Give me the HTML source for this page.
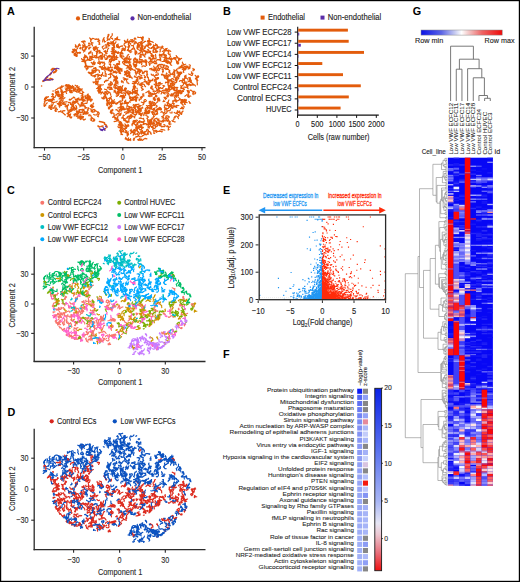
<!DOCTYPE html>
<html><head><meta charset="utf-8"><style>
html,body{margin:0;padding:0;background:#fff;}
svg{display:block;font-family:"Liberation Sans", sans-serif;}

</style></head><body>
<svg width="520" height="582" viewBox="0 0 520 582" fill="#333">
<rect x="0" y="0" width="520" height="582" fill="#fff"/>
<rect x="0.5" y="0.5" width="519" height="581" fill="none" stroke="#000" stroke-width="1.4"/>
<text x="7" y="15.2" font-size="10.8" fill="#000" font-weight="bold">A</text>
<text x="223" y="15.2" font-size="10.8" fill="#000" font-weight="bold">B</text>
<text x="7" y="193.5" font-size="10.8" fill="#000" font-weight="bold">C</text>
<text x="7.6" y="416.3" font-size="10.8" fill="#000" font-weight="bold">D</text>
<text x="223" y="193.6" font-size="10.8" fill="#000" font-weight="bold">E</text>
<text x="223" y="358.1" font-size="10.8" fill="#000" font-weight="bold">F</text>
<text x="412.8" y="15.2" font-size="10.8" fill="#000" font-weight="bold">G</text>
<line x1="34.2" y1="26.7" x2="34.2" y2="148.2" stroke="#2a2a2a" stroke-width="1.3"/>
<line x1="33.6" y1="147.6" x2="205.5" y2="147.6" stroke="#2a2a2a" stroke-width="1.3"/>
<line x1="31.2" y1="56.1" x2="34.2" y2="56.1" stroke="#2a2a2a" stroke-width="1.1"/>
<text x="28.6" y="59.3" font-size="9.2" stroke="#2a2a2a" stroke-width="0.12" text-anchor="end" textLength="8" lengthAdjust="spacingAndGlyphs" fill="#2a2a2a">30</text>
<line x1="31.2" y1="87" x2="34.2" y2="87" stroke="#2a2a2a" stroke-width="1.1"/>
<text x="28.6" y="90.2" font-size="9.2" stroke="#2a2a2a" stroke-width="0.12" text-anchor="end" textLength="4" lengthAdjust="spacingAndGlyphs" fill="#2a2a2a">0</text>
<line x1="31.2" y1="118" x2="34.2" y2="118" stroke="#2a2a2a" stroke-width="1.1"/>
<text x="28.6" y="121.2" font-size="9.2" stroke="#2a2a2a" stroke-width="0.12" text-anchor="end" textLength="12.3" lengthAdjust="spacingAndGlyphs" fill="#2a2a2a">−30</text>
<line x1="44.5" y1="147.6" x2="44.5" y2="150.6" stroke="#2a2a2a" stroke-width="1.1"/>
<text x="44.5" y="160.4" font-size="9.2" stroke="#2a2a2a" stroke-width="0.12" text-anchor="middle" textLength="12.3" lengthAdjust="spacingAndGlyphs" fill="#2a2a2a">−50</text>
<line x1="83.7" y1="147.6" x2="83.7" y2="150.6" stroke="#2a2a2a" stroke-width="1.1"/>
<text x="83.7" y="160.4" font-size="9.2" stroke="#2a2a2a" stroke-width="0.12" text-anchor="middle" textLength="12.3" lengthAdjust="spacingAndGlyphs" fill="#2a2a2a">−25</text>
<line x1="122.8" y1="147.6" x2="122.8" y2="150.6" stroke="#2a2a2a" stroke-width="1.1"/>
<text x="122.8" y="160.4" font-size="9.2" stroke="#2a2a2a" stroke-width="0.12" text-anchor="middle" textLength="4" lengthAdjust="spacingAndGlyphs" fill="#2a2a2a">0</text>
<line x1="162.2" y1="147.6" x2="162.2" y2="150.6" stroke="#2a2a2a" stroke-width="1.1"/>
<text x="162.2" y="160.4" font-size="9.2" stroke="#2a2a2a" stroke-width="0.12" text-anchor="middle" textLength="8" lengthAdjust="spacingAndGlyphs" fill="#2a2a2a">25</text>
<line x1="202" y1="147.6" x2="202" y2="150.6" stroke="#2a2a2a" stroke-width="1.1"/>
<text x="202" y="160.4" font-size="9.2" stroke="#2a2a2a" stroke-width="0.12" text-anchor="middle" textLength="8" lengthAdjust="spacingAndGlyphs" fill="#2a2a2a">50</text>
<text x="120.1" y="172.5" font-size="9.4" stroke="#2a2a2a" stroke-width="0.12" text-anchor="middle" textLength="44.4" lengthAdjust="spacingAndGlyphs" fill="#2a2a2a">Component 1</text>
<text x="14.7" y="89.2" font-size="9.4" stroke="#2a2a2a" stroke-width="0.12" text-anchor="middle" textLength="44.6" lengthAdjust="spacingAndGlyphs" fill="#2a2a2a" transform="rotate(-90 14.7 89.2)">Component 2</text>
<line x1="34.2" y1="246.7" x2="34.2" y2="362.1" stroke="#2a2a2a" stroke-width="1.3"/>
<line x1="33.6" y1="361.5" x2="205.5" y2="361.5" stroke="#2a2a2a" stroke-width="1.3"/>
<line x1="31.2" y1="274.2" x2="34.2" y2="274.2" stroke="#2a2a2a" stroke-width="1.1"/>
<text x="28.6" y="277.4" font-size="9.2" stroke="#2a2a2a" stroke-width="0.12" text-anchor="end" textLength="8" lengthAdjust="spacingAndGlyphs" fill="#2a2a2a">30</text>
<line x1="31.2" y1="304" x2="34.2" y2="304" stroke="#2a2a2a" stroke-width="1.1"/>
<text x="28.6" y="307.2" font-size="9.2" stroke="#2a2a2a" stroke-width="0.12" text-anchor="end" textLength="4" lengthAdjust="spacingAndGlyphs" fill="#2a2a2a">0</text>
<line x1="31.2" y1="333.4" x2="34.2" y2="333.4" stroke="#2a2a2a" stroke-width="1.1"/>
<text x="28.6" y="336.6" font-size="9.2" stroke="#2a2a2a" stroke-width="0.12" text-anchor="end" textLength="12.3" lengthAdjust="spacingAndGlyphs" fill="#2a2a2a">−30</text>
<line x1="73.6" y1="361.5" x2="73.6" y2="364.5" stroke="#2a2a2a" stroke-width="1.1"/>
<text x="73.6" y="374.3" font-size="9.2" stroke="#2a2a2a" stroke-width="0.12" text-anchor="middle" textLength="12.3" lengthAdjust="spacingAndGlyphs" fill="#2a2a2a">−30</text>
<line x1="119.6" y1="361.5" x2="119.6" y2="364.5" stroke="#2a2a2a" stroke-width="1.1"/>
<text x="119.6" y="374.3" font-size="9.2" stroke="#2a2a2a" stroke-width="0.12" text-anchor="middle" textLength="4" lengthAdjust="spacingAndGlyphs" fill="#2a2a2a">0</text>
<line x1="165.3" y1="361.5" x2="165.3" y2="364.5" stroke="#2a2a2a" stroke-width="1.1"/>
<text x="165.3" y="374.3" font-size="9.2" stroke="#2a2a2a" stroke-width="0.12" text-anchor="middle" textLength="8" lengthAdjust="spacingAndGlyphs" fill="#2a2a2a">30</text>
<text x="120.1" y="384.9" font-size="9.4" stroke="#2a2a2a" stroke-width="0.12" text-anchor="middle" textLength="44.4" lengthAdjust="spacingAndGlyphs" fill="#2a2a2a">Component 1</text>
<text x="14.7" y="305.3" font-size="9.4" stroke="#2a2a2a" stroke-width="0.12" text-anchor="middle" textLength="44.6" lengthAdjust="spacingAndGlyphs" fill="#2a2a2a" transform="rotate(-90 14.7 305.3)">Component 2</text>
<line x1="34.2" y1="428.8" x2="34.2" y2="550.3" stroke="#2a2a2a" stroke-width="1.3"/>
<line x1="33.6" y1="549.7" x2="205.5" y2="549.7" stroke="#2a2a2a" stroke-width="1.3"/>
<line x1="31.2" y1="458.2" x2="34.2" y2="458.2" stroke="#2a2a2a" stroke-width="1.1"/>
<text x="28.6" y="461.4" font-size="9.2" stroke="#2a2a2a" stroke-width="0.12" text-anchor="end" textLength="8" lengthAdjust="spacingAndGlyphs" fill="#2a2a2a">30</text>
<line x1="31.2" y1="489.2" x2="34.2" y2="489.2" stroke="#2a2a2a" stroke-width="1.1"/>
<text x="28.6" y="492.4" font-size="9.2" stroke="#2a2a2a" stroke-width="0.12" text-anchor="end" textLength="4" lengthAdjust="spacingAndGlyphs" fill="#2a2a2a">0</text>
<line x1="31.2" y1="520.2" x2="34.2" y2="520.2" stroke="#2a2a2a" stroke-width="1.1"/>
<text x="28.6" y="523.4" font-size="9.2" stroke="#2a2a2a" stroke-width="0.12" text-anchor="end" textLength="12.3" lengthAdjust="spacingAndGlyphs" fill="#2a2a2a">−30</text>
<line x1="73.6" y1="549.7" x2="73.6" y2="552.7" stroke="#2a2a2a" stroke-width="1.1"/>
<text x="73.6" y="562.5" font-size="9.2" stroke="#2a2a2a" stroke-width="0.12" text-anchor="middle" textLength="12.3" lengthAdjust="spacingAndGlyphs" fill="#2a2a2a">−30</text>
<line x1="119.6" y1="549.7" x2="119.6" y2="552.7" stroke="#2a2a2a" stroke-width="1.1"/>
<text x="119.6" y="562.5" font-size="9.2" stroke="#2a2a2a" stroke-width="0.12" text-anchor="middle" textLength="4" lengthAdjust="spacingAndGlyphs" fill="#2a2a2a">0</text>
<line x1="165.3" y1="549.7" x2="165.3" y2="552.7" stroke="#2a2a2a" stroke-width="1.1"/>
<text x="165.3" y="562.5" font-size="9.2" stroke="#2a2a2a" stroke-width="0.12" text-anchor="middle" textLength="8" lengthAdjust="spacingAndGlyphs" fill="#2a2a2a">30</text>
<text x="120.1" y="575.2" font-size="9.4" stroke="#2a2a2a" stroke-width="0.12" text-anchor="middle" textLength="44.4" lengthAdjust="spacingAndGlyphs" fill="#2a2a2a">Component 1</text>
<text x="14.7" y="488.6" font-size="9.4" stroke="#2a2a2a" stroke-width="0.12" text-anchor="middle" textLength="44.6" lengthAdjust="spacingAndGlyphs" fill="#2a2a2a" transform="rotate(-90 14.7 488.6)">Component 2</text>
<circle cx="78" cy="18.4" r="2.1" fill="#E35C0C"/>
<text x="82" y="20.4" font-size="8.3" stroke="#222" stroke-width="0.12" textLength="37.3" lengthAdjust="spacingAndGlyphs" fill="#222">Endothelial</text>
<circle cx="132.5" cy="18.4" r="2.1" fill="#5B2DA8"/>
<text x="137.5" y="20.4" font-size="8.3" stroke="#222" stroke-width="0.12" textLength="53.8" lengthAdjust="spacingAndGlyphs" fill="#222">Non-endothelial</text>
<rect x="260.6" y="15.6" width="4" height="4" fill="#E35C0C"/>
<text x="268" y="20.1" font-size="8.3" stroke="#222" stroke-width="0.12" textLength="37" lengthAdjust="spacingAndGlyphs" fill="#222">Endothelial</text>
<rect x="320.5" y="15.6" width="4" height="4" fill="#5B2DA8"/>
<text x="327.8" y="20.1" font-size="8.3" stroke="#222" stroke-width="0.12" textLength="53.5" lengthAdjust="spacingAndGlyphs" fill="#222">Non-endothelial</text>
<line x1="297.7" y1="26.8" x2="297.7" y2="115.6" stroke="#111" stroke-width="1.1"/>
<line x1="297.2" y1="115.1" x2="378.8" y2="115.1" stroke="#111" stroke-width="1.1"/>
<line x1="294.7" y1="32.1" x2="297.7" y2="32.1" stroke="#111" stroke-width="1.0"/>
<text x="291.6" y="34.55" font-size="9.0" stroke="#222" stroke-width="0.12" text-anchor="end" textLength="64.5" lengthAdjust="spacingAndGlyphs" fill="#222">Low VWF ECFC28</text>
<rect x="298.2" y="28.7" width="49.7" height="2.9" fill="#E35C0C"/>
<rect x="298.2" y="32.7" width="1" height="2.8" fill="#5B2DA8"/>
<line x1="294.7" y1="43.23" x2="297.7" y2="43.23" stroke="#111" stroke-width="1.0"/>
<text x="291.6" y="45.68" font-size="9.0" stroke="#222" stroke-width="0.12" text-anchor="end" textLength="64.5" lengthAdjust="spacingAndGlyphs" fill="#222">Low VWF ECFC17</text>
<rect x="298.2" y="39.83" width="50.5" height="2.9" fill="#E35C0C"/>
<rect x="298.2" y="43.83" width="2.6" height="2.8" fill="#5B2DA8"/>
<line x1="294.7" y1="54.36" x2="297.7" y2="54.36" stroke="#111" stroke-width="1.0"/>
<text x="291.6" y="56.81" font-size="9.0" stroke="#222" stroke-width="0.12" text-anchor="end" textLength="64.5" lengthAdjust="spacingAndGlyphs" fill="#222">Low VWF ECFC14</text>
<rect x="298.2" y="50.96" width="65.8" height="2.9" fill="#E35C0C"/>
<rect x="298.2" y="54.96" width="0.4" height="2.8" fill="#5B2DA8"/>
<line x1="294.7" y1="65.49" x2="297.7" y2="65.49" stroke="#111" stroke-width="1.0"/>
<text x="291.6" y="67.94" font-size="9.0" stroke="#222" stroke-width="0.12" text-anchor="end" textLength="64.5" lengthAdjust="spacingAndGlyphs" fill="#222">Low VWF ECFC12</text>
<rect x="298.2" y="62.09" width="24.1" height="2.9" fill="#E35C0C"/>
<rect x="298.2" y="66.09" width="0.5" height="2.8" fill="#5B2DA8"/>
<line x1="294.7" y1="76.62" x2="297.7" y2="76.62" stroke="#111" stroke-width="1.0"/>
<text x="291.6" y="79.07" font-size="9.0" stroke="#222" stroke-width="0.12" text-anchor="end" textLength="64.5" lengthAdjust="spacingAndGlyphs" fill="#222">Low VWF ECFC11</text>
<rect x="298.2" y="73.22" width="44.8" height="2.9" fill="#E35C0C"/>
<rect x="298.2" y="77.22" width="0.3" height="2.8" fill="#5B2DA8"/>
<line x1="294.7" y1="87.75" x2="297.7" y2="87.75" stroke="#111" stroke-width="1.0"/>
<text x="291.6" y="90.2" font-size="9.0" stroke="#222" stroke-width="0.12" text-anchor="end" textLength="58.5" lengthAdjust="spacingAndGlyphs" fill="#222">Control ECFC24</text>
<rect x="298.2" y="84.35" width="62.6" height="2.9" fill="#E35C0C"/>
<rect x="298.2" y="88.35" width="0.5" height="2.8" fill="#5B2DA8"/>
<line x1="294.7" y1="98.88" x2="297.7" y2="98.88" stroke="#111" stroke-width="1.0"/>
<text x="291.6" y="101.33" font-size="9.0" stroke="#222" stroke-width="0.12" text-anchor="end" textLength="54.5" lengthAdjust="spacingAndGlyphs" fill="#222">Control ECFC3</text>
<rect x="298.2" y="95.48" width="50.6" height="2.9" fill="#E35C0C"/>
<rect x="298.2" y="99.48" width="0.3" height="2.8" fill="#5B2DA8"/>
<line x1="294.7" y1="110.01" x2="297.7" y2="110.01" stroke="#111" stroke-width="1.0"/>
<text x="291.6" y="112.46" font-size="9.0" stroke="#222" stroke-width="0.12" text-anchor="end" textLength="25.6" lengthAdjust="spacingAndGlyphs" fill="#222">HUVEC</text>
<rect x="298.2" y="106.61" width="42.4" height="2.9" fill="#E35C0C"/>
<rect x="298.2" y="110.61" width="0.3" height="2.8" fill="#5B2DA8"/>
<line x1="297.5" y1="115.1" x2="297.5" y2="117.9" stroke="#111" stroke-width="1.0"/>
<text x="297.5" y="127.3" font-size="9.2" stroke="#222" stroke-width="0.12" text-anchor="middle" textLength="4" lengthAdjust="spacingAndGlyphs" fill="#222">0</text>
<line x1="317.3" y1="115.1" x2="317.3" y2="117.9" stroke="#111" stroke-width="1.0"/>
<text x="317.3" y="127.3" font-size="9.2" stroke="#222" stroke-width="0.12" text-anchor="middle" textLength="12.4" lengthAdjust="spacingAndGlyphs" fill="#222">500</text>
<line x1="336.9" y1="115.1" x2="336.9" y2="117.9" stroke="#111" stroke-width="1.0"/>
<text x="336.9" y="127.3" font-size="9.2" stroke="#222" stroke-width="0.12" text-anchor="middle" textLength="16.4" lengthAdjust="spacingAndGlyphs" fill="#222">1000</text>
<line x1="356.6" y1="115.1" x2="356.6" y2="117.9" stroke="#111" stroke-width="1.0"/>
<text x="356.6" y="127.3" font-size="9.2" stroke="#222" stroke-width="0.12" text-anchor="middle" textLength="16.4" lengthAdjust="spacingAndGlyphs" fill="#222">1500</text>
<line x1="376.3" y1="115.1" x2="376.3" y2="117.9" stroke="#111" stroke-width="1.0"/>
<text x="376.3" y="127.3" font-size="9.2" stroke="#222" stroke-width="0.12" text-anchor="middle" textLength="16.4" lengthAdjust="spacingAndGlyphs" fill="#222">2000</text>
<text x="338.6" y="139.5" font-size="9.4" stroke="#222" stroke-width="0.12" text-anchor="middle" textLength="61.9" lengthAdjust="spacingAndGlyphs" fill="#222">Cells (raw number)</text>
<circle cx="42.3" cy="202.7" r="2.0" fill="#F8766D"/>
<text x="47.8" y="205.3" font-size="8.3" stroke="#222" stroke-width="0.12" textLength="53.7" lengthAdjust="spacingAndGlyphs" fill="#222">Control ECFC24</text>
<circle cx="42.3" cy="214.9" r="2.0" fill="#CD9600"/>
<text x="47.8" y="217.5" font-size="8.3" stroke="#222" stroke-width="0.12" textLength="49.2" lengthAdjust="spacingAndGlyphs" fill="#222">Control ECFC3</text>
<circle cx="42.3" cy="227.1" r="2.0" fill="#00BFC4"/>
<text x="47.8" y="229.7" font-size="8.3" stroke="#222" stroke-width="0.12" textLength="60.2" lengthAdjust="spacingAndGlyphs" fill="#222">Low VWF ECFC12</text>
<circle cx="42.3" cy="239.3" r="2.0" fill="#00A9FF"/>
<text x="47.8" y="241.9" font-size="8.3" stroke="#222" stroke-width="0.12" textLength="60.2" lengthAdjust="spacingAndGlyphs" fill="#222">Low VWF ECFC14</text>
<circle cx="119.2" cy="202.7" r="2.0" fill="#7CAE00"/>
<text x="124.2" y="205.3" font-size="8.3" stroke="#222" stroke-width="0.12" textLength="51.2" lengthAdjust="spacingAndGlyphs" fill="#222">Control HUVEC</text>
<circle cx="119.2" cy="214.9" r="2.0" fill="#00BE67"/>
<text x="124.2" y="217.5" font-size="8.3" stroke="#222" stroke-width="0.12" textLength="60.4" lengthAdjust="spacingAndGlyphs" fill="#222">Low VWF ECFC11</text>
<circle cx="119.2" cy="227.1" r="2.0" fill="#C77CFF"/>
<text x="124.2" y="229.7" font-size="8.3" stroke="#222" stroke-width="0.12" textLength="60.4" lengthAdjust="spacingAndGlyphs" fill="#222">Low VWF ECFC17</text>
<circle cx="119.2" cy="239.3" r="2.0" fill="#FF61CC"/>
<text x="124.2" y="241.9" font-size="8.3" stroke="#222" stroke-width="0.12" textLength="60.4" lengthAdjust="spacingAndGlyphs" fill="#222">Low VWF ECFC28</text>
<circle cx="51.7" cy="421.3" r="2.1" fill="#D7261E"/>
<text x="57" y="423.9" font-size="8.3" stroke="#222" stroke-width="0.12" textLength="39.5" lengthAdjust="spacingAndGlyphs" fill="#222">Control ECs</text>
<circle cx="114.8" cy="421.3" r="2.1" fill="#0B52C0"/>
<text x="120.6" y="423.9" font-size="8.3" stroke="#222" stroke-width="0.12" textLength="55" lengthAdjust="spacingAndGlyphs" fill="#222">Low VWF ECFCs</text>
<text x="263" y="198.4" font-size="7.4" stroke="#2196F3" stroke-width="0.28" textLength="55.3" lengthAdjust="spacingAndGlyphs" fill="#2196F3">Decreased expression in</text>
<text x="273.3" y="205.9" font-size="7.4" stroke="#2196F3" stroke-width="0.28" textLength="33.5" lengthAdjust="spacingAndGlyphs" fill="#2196F3">low VWF ECFCs</text>
<text x="327.9" y="198.4" font-size="7.4" stroke="#FF2B0A" stroke-width="0.28" textLength="53.8" lengthAdjust="spacingAndGlyphs" fill="#FF2B0A">Increased expression in</text>
<text x="337.5" y="205.9" font-size="7.4" stroke="#FF2B0A" stroke-width="0.28" textLength="34.2" lengthAdjust="spacingAndGlyphs" fill="#FF2B0A">low VWF ECFCs</text>
<line x1="264" y1="210.2" x2="322.2" y2="210.2" stroke="#2196F3" stroke-width="1.4"/>
<path d="M258.6 210.2 L265.2 207.0 L265.2 213.4 Z" fill="#2196F3"/>
<line x1="323.4" y1="210.2" x2="380" y2="210.2" stroke="#FF2B0A" stroke-width="1.4"/>
<path d="M385.8 210.2 L379.2 207.0 L379.2 213.4 Z" fill="#FF2B0A"/>
<line x1="260" y1="297.6" x2="385" y2="297.6" stroke="#ddd" stroke-width="0.5" stroke-dasharray="1 1"/>
<path d="M318.0 296.1h.01M303.7 296.9h.01M317.2 295.9h.01M320.9 296.5h.01M315.2 293.3h.01M321.7 297.9h.01M321.7 292.9h.01M313.8 299.1h.01M293.1 286.5h.01M314.7 295.6h.01M321.2 299.2h.01M316.9 299.1h.01M320.9 298.2h.01M322.2 296.9h.01M318.2 292.2h.01M317.1 295.4h.01M317.4 295.1h.01M318.0 298.0h.01M278.4 278.4h.01M309.1 294.6h.01M319.6 298.3h.01M319.9 299.0h.01M311.8 297.3h.01M308.8 297.4h.01M299.4 292.1h.01M322.4 298.4h.01M304.9 296.9h.01M293.8 297.4h.01M321.8 295.5h.01M311.4 298.1h.01M321.7 297.7h.01M298.2 293.9h.01M321.5 298.2h.01M321.6 299.1h.01M310.8 298.5h.01M316.4 297.0h.01M320.9 294.2h.01M321.4 295.3h.01M321.5 297.2h.01M320.7 298.1h.01M296.7 293.1h.01M319.8 291.0h.01M320.7 297.4h.01M308.4 295.4h.01M321.6 281.9h.01M320.7 298.2h.01M311.6 297.8h.01M319.8 299.0h.01M321.7 295.9h.01M320.4 295.8h.01M319.0 297.0h.01M299.2 296.8h.01M316.2 291.6h.01M320.9 298.7h.01M305.0 292.8h.01M320.3 298.5h.01M312.6 288.5h.01M320.8 287.8h.01M306.9 295.7h.01M318.4 298.9h.01M322.1 286.7h.01M320.4 294.6h.01M320.2 292.6h.01M315.8 298.0h.01M321.0 294.4h.01M321.9 298.3h.01M316.4 292.0h.01M315.5 298.0h.01M304.3 298.4h.01M322.3 298.1h.01M318.1 299.1h.01M321.0 297.5h.01M316.2 298.8h.01M319.1 290.8h.01M293.8 295.2h.01M313.9 295.9h.01M321.3 299.2h.01M322.3 290.0h.01M313.6 286.7h.01M322.2 295.4h.01M317.6 294.3h.01M319.6 271.1h.01M321.8 296.3h.01M312.7 290.5h.01M312.7 294.6h.01M310.9 289.8h.01M319.2 294.9h.01M305.6 291.4h.01M318.5 293.3h.01M307.9 296.0h.01M315.3 297.4h.01M316.0 295.7h.01M321.8 295.4h.01M286.0 291.2h.01M312.9 297.4h.01M312.7 296.0h.01M318.2 292.3h.01M321.8 294.0h.01M322.2 295.8h.01M317.6 298.3h.01M313.7 296.7h.01M315.5 289.6h.01M320.3 299.3h.01M319.8 294.9h.01M320.8 298.6h.01M305.2 295.2h.01M318.2 290.8h.01M319.5 295.1h.01M320.8 297.1h.01M310.5 289.9h.01M307.0 297.4h.01M316.0 297.8h.01M321.3 296.7h.01M309.2 292.0h.01M313.4 287.8h.01M320.0 298.6h.01M318.0 298.1h.01M320.6 297.2h.01M315.3 296.7h.01M319.6 292.3h.01M293.2 297.0h.01M321.8 299.2h.01M307.4 299.1h.01M313.4 296.1h.01M319.7 293.3h.01M322.3 298.7h.01M318.0 299.2h.01M309.5 298.3h.01M321.3 299.1h.01M315.2 297.0h.01M315.2 295.2h.01M310.4 287.1h.01M314.0 298.4h.01M317.7 298.5h.01M322.3 296.8h.01M313.3 298.5h.01M320.1 297.7h.01M313.7 296.5h.01M315.5 293.9h.01M318.8 293.3h.01M305.2 298.9h.01M302.8 294.4h.01M321.4 297.0h.01M315.3 290.1h.01M319.0 296.1h.01M307.0 293.2h.01M301.4 296.9h.01M314.7 298.4h.01M313.1 292.7h.01M314.9 294.4h.01M320.7 290.5h.01M293.8 284.8h.01M316.8 293.3h.01M319.6 290.1h.01M308.3 297.7h.01M321.8 297.1h.01M316.6 293.7h.01M317.5 299.2h.01M310.4 299.0h.01M310.7 298.6h.01M319.4 293.3h.01M321.3 298.7h.01M317.1 294.4h.01M309.1 294.8h.01M301.2 296.7h.01M300.7 299.0h.01M320.6 296.4h.01M319.9 294.3h.01M315.0 296.5h.01M308.9 296.1h.01M319.7 297.5h.01M308.8 290.4h.01M320.7 292.0h.01M297.3 296.4h.01M316.2 298.4h.01M316.8 296.6h.01M315.6 299.2h.01M297.1 296.5h.01M318.7 293.1h.01M316.4 296.7h.01M313.9 299.0h.01M316.8 297.2h.01M299.6 289.4h.01M320.1 296.8h.01M321.4 297.1h.01M310.1 290.4h.01M317.7 297.8h.01M320.9 295.6h.01M303.5 298.8h.01M311.4 299.2h.01M320.8 298.3h.01M314.0 297.8h.01M319.2 295.6h.01M321.6 294.3h.01M321.4 296.6h.01M320.3 298.5h.01M316.9 297.1h.01M319.0 297.3h.01M316.9 298.6h.01M320.7 295.5h.01M315.0 296.4h.01M308.6 295.7h.01M308.3 298.3h.01M312.6 292.9h.01M305.5 297.8h.01M319.7 289.5h.01M320.6 274.7h.01M306.5 298.7h.01M320.4 294.3h.01M320.2 298.9h.01M309.4 297.2h.01M311.1 298.8h.01M318.7 294.9h.01M322.3 298.4h.01M314.1 290.0h.01M297.3 298.8h.01M317.3 293.8h.01M317.3 294.9h.01M320.9 299.0h.01M321.6 299.2h.01M316.6 296.5h.01M316.3 298.7h.01M320.9 298.4h.01M309.1 281.5h.01M303.4 298.9h.01M321.9 287.7h.01M317.9 293.7h.01M319.5 296.9h.01M317.1 297.1h.01M315.7 299.2h.01M313.6 292.2h.01M320.9 297.0h.01M312.6 297.3h.01M320.8 298.6h.01M317.2 299.2h.01M306.1 293.1h.01M313.5 291.7h.01M315.2 297.3h.01M315.7 296.6h.01M292.9 293.0h.01M320.2 290.0h.01M312.5 293.5h.01M310.2 297.3h.01M305.9 291.2h.01M313.8 293.7h.01M311.9 297.3h.01M313.1 299.0h.01M319.4 296.9h.01M322.3 297.6h.01M315.0 295.5h.01M320.5 288.2h.01M314.4 297.7h.01M314.6 296.1h.01M316.9 297.4h.01M259.8 295.4h.01M313.6 293.8h.01M293.9 299.2h.01M315.5 294.1h.01M320.2 297.3h.01M322.0 298.5h.01M319.0 298.9h.01M320.3 290.2h.01M316.6 296.6h.01M297.6 296.1h.01M283.7 295.4h.01M310.3 299.0h.01M315.8 293.8h.01M322.1 289.1h.01M321.1 296.8h.01M321.1 296.7h.01M315.5 299.1h.01M301.3 297.2h.01M317.0 295.8h.01M319.1 298.0h.01M314.7 296.1h.01M320.0 294.5h.01M319.8 299.2h.01M320.4 299.1h.01M321.2 293.9h.01M318.8 290.6h.01M312.4 299.1h.01M289.8 288.2h.01M321.8 290.2h.01M318.3 296.8h.01M296.1 298.2h.01M317.0 288.7h.01M313.1 296.9h.01M294.4 292.8h.01M315.7 298.8h.01M315.3 297.0h.01M320.7 299.1h.01M316.9 298.8h.01M318.1 295.1h.01M318.0 298.1h.01M316.1 297.2h.01M311.5 296.4h.01M278.5 287.6h.01M312.8 298.3h.01M321.5 290.7h.01M311.3 295.5h.01M319.2 298.1h.01M314.0 296.1h.01M315.9 295.4h.01M312.2 298.5h.01M320.3 284.3h.01M304.4 291.2h.01M322.1 299.1h.01M320.1 297.2h.01M315.3 298.9h.01M316.7 299.0h.01M321.7 295.0h.01M316.6 295.5h.01M319.0 296.8h.01M320.7 297.7h.01M312.5 292.3h.01M321.8 298.8h.01M310.4 295.5h.01M311.8 298.4h.01M318.4 298.2h.01M310.3 297.5h.01M314.7 281.9h.01M319.5 296.2h.01M312.4 289.6h.01M318.3 297.5h.01M321.7 291.3h.01M321.8 299.0h.01M316.4 296.8h.01M314.0 297.9h.01M311.5 299.0h.01M320.7 295.1h.01M321.8 297.9h.01M313.0 294.8h.01M320.0 298.7h.01M319.2 294.3h.01M319.1 298.8h.01M313.4 296.1h.01M304.2 288.5h.01M304.6 297.1h.01M310.6 297.9h.01M319.6 297.3h.01M302.6 290.7h.01M320.3 297.6h.01M319.1 297.6h.01M318.7 297.4h.01M320.8 296.1h.01M310.8 296.3h.01M309.2 296.1h.01M321.0 293.8h.01M306.9 298.0h.01M322.2 296.5h.01M316.7 296.1h.01M297.7 295.3h.01M310.5 299.0h.01M316.6 293.3h.01M321.8 299.0h.01M312.7 290.5h.01M321.8 295.4h.01M321.3 294.0h.01M314.8 298.2h.01M320.6 293.7h.01M317.0 293.7h.01M318.8 297.7h.01M297.3 295.0h.01M317.5 296.3h.01M313.1 294.6h.01M304.5 297.3h.01M309.7 295.1h.01M308.4 293.0h.01M309.4 290.9h.01M299.4 295.4h.01M317.0 294.5h.01M310.6 297.2h.01M318.4 298.7h.01M312.6 281.2h.01M319.0 298.6h.01M320.7 297.2h.01M319.9 285.9h.01M322.0 297.9h.01M321.5 295.3h.01M311.5 298.5h.01M321.9 296.9h.01M316.0 290.1h.01M322.1 298.9h.01M320.9 298.4h.01M320.4 294.4h.01M315.8 298.3h.01M320.9 298.0h.01M321.0 293.9h.01M319.7 296.2h.01M310.1 296.8h.01M320.2 290.9h.01M304.5 297.7h.01M316.6 287.2h.01M317.6 298.3h.01M322.0 288.0h.01M310.7 297.4h.01M316.9 296.5h.01M320.1 281.5h.01M314.6 298.3h.01M322.3 296.8h.01M319.0 293.2h.01M313.3 295.7h.01M321.2 298.6h.01M319.6 298.1h.01M307.6 296.5h.01M315.0 280.2h.01M320.1 296.4h.01M321.2 293.6h.01M322.4 292.7h.01M308.8 292.7h.01M321.8 298.1h.01M313.2 298.9h.01M317.6 296.9h.01M299.8 295.9h.01M308.2 297.9h.01M311.1 297.2h.01M304.3 298.9h.01M309.7 298.4h.01M316.7 296.4h.01M321.2 292.4h.01M319.7 297.9h.01M321.8 297.9h.01M317.8 294.5h.01M319.2 294.8h.01M321.6 297.4h.01M317.9 286.2h.01M309.5 295.2h.01M322.3 297.5h.01M313.4 298.3h.01M316.4 296.9h.01M322.3 280.9h.01M310.7 298.4h.01M315.4 298.0h.01M319.0 296.3h.01M319.8 297.7h.01M318.8 295.1h.01M320.2 298.4h.01M312.8 297.8h.01M301.3 296.1h.01M313.0 297.8h.01M309.7 298.9h.01M321.3 298.9h.01M314.2 294.6h.01M321.0 297.3h.01M309.2 295.9h.01M321.7 298.3h.01M321.2 298.8h.01M318.6 299.0h.01M304.0 297.2h.01M317.2 295.3h.01M311.8 292.7h.01M318.9 297.8h.01M318.5 299.2h.01M318.7 294.7h.01M293.2 293.3h.01M314.6 295.7h.01M322.3 297.8h.01M319.4 295.3h.01M321.6 297.5h.01M317.2 293.3h.01M309.7 295.7h.01M321.1 293.7h.01M305.4 296.2h.01M319.2 296.6h.01M321.3 294.5h.01M291.0 296.5h.01M313.3 292.4h.01M320.8 288.2h.01M315.2 298.5h.01M321.8 298.2h.01M316.2 294.7h.01M319.5 289.1h.01M319.1 296.9h.01M321.4 285.3h.01M321.3 290.3h.01M316.7 296.1h.01M316.4 298.1h.01M305.0 280.7h.01M310.0 295.8h.01M321.4 292.6h.01M319.9 290.6h.01M320.4 296.0h.01M309.5 298.5h.01M316.6 299.0h.01M322.2 298.5h.01M290.8 288.5h.01M314.6 297.9h.01M314.3 294.2h.01M318.9 295.9h.01M310.6 299.2h.01M320.8 296.9h.01M321.3 297.4h.01M316.3 298.6h.01M317.1 298.1h.01M316.3 297.8h.01M314.9 299.2h.01M314.3 298.7h.01M299.1 295.8h.01M317.8 297.3h.01M315.3 294.8h.01M312.1 293.9h.01M317.6 279.2h.01M309.2 291.9h.01M318.6 297.1h.01M316.3 290.3h.01M317.0 296.4h.01M318.3 290.3h.01M319.6 299.1h.01M313.0 290.5h.01M312.8 295.8h.01M312.3 297.9h.01M315.9 299.0h.01M321.4 297.0h.01M317.3 297.4h.01M322.0 294.7h.01M317.0 298.3h.01M319.7 297.4h.01M320.4 299.0h.01M304.8 286.3h.01M314.4 291.6h.01M320.9 270.1h.01M321.7 274.8h.01M320.2 257.6h.01M322.1 271.3h.01M322.0 285.5h.01M314.4 299.3h.01M321.7 293.0h.01M321.4 298.1h.01M316.4 269.2h.01M321.1 291.4h.01M320.1 298.5h.01M322.3 258.5h.01M321.4 287.0h.01M315.2 231.8h.01M320.7 295.2h.01M321.5 253.7h.01M316.4 295.4h.01M317.6 291.5h.01M320.7 295.9h.01M316.8 219.2h.01M321.8 281.5h.01M321.8 261.5h.01M322.3 297.3h.01M319.0 292.6h.01M316.3 263.0h.01M319.1 296.7h.01M319.2 249.8h.01M320.8 297.8h.01M321.7 292.8h.01M319.1 295.4h.01M321.9 294.5h.01M319.5 271.4h.01M321.2 280.0h.01M316.7 283.4h.01M321.7 292.9h.01M315.5 279.7h.01M321.5 281.1h.01M322.1 226.6h.01M320.9 285.9h.01M320.4 298.5h.01M320.0 293.3h.01M321.6 270.3h.01M322.2 293.3h.01M318.7 294.3h.01M321.5 285.1h.01M321.9 258.8h.01M310.7 298.7h.01M320.8 274.5h.01M321.1 252.1h.01M320.6 295.8h.01M320.2 280.8h.01M321.2 280.2h.01M318.3 286.3h.01M320.5 266.0h.01M319.3 286.2h.01M314.4 295.9h.01M318.4 296.1h.01M319.9 294.5h.01M320.9 272.9h.01M318.3 271.4h.01M321.7 287.3h.01M321.7 283.8h.01M320.6 298.7h.01M320.0 276.9h.01M320.1 262.5h.01M321.9 296.4h.01M322.4 287.1h.01M320.9 288.9h.01M321.6 270.7h.01M322.2 256.9h.01M320.2 285.3h.01M318.2 294.5h.01M322.0 292.7h.01M322.3 292.6h.01M319.8 286.0h.01M321.6 283.5h.01M322.2 268.7h.01M321.9 294.1h.01M321.9 278.4h.01M317.7 271.8h.01M322.2 289.9h.01M321.2 295.0h.01M313.0 298.5h.01M320.6 273.8h.01M311.0 296.5h.01M320.8 274.9h.01M322.3 294.4h.01M316.5 296.6h.01M321.1 293.0h.01M320.9 297.9h.01M322.3 219.2h.01M318.6 275.7h.01M321.7 294.1h.01M320.3 294.4h.01M320.8 251.3h.01M321.2 292.0h.01M311.8 282.5h.01M322.3 290.1h.01M319.6 298.2h.01M321.3 278.1h.01M317.1 283.4h.01M316.6 288.2h.01M321.1 266.3h.01M321.1 272.2h.01M321.8 291.7h.01M321.9 285.1h.01M321.9 295.2h.01M321.8 288.1h.01M321.4 288.7h.01M309.1 279.0h.01M317.1 295.2h.01M321.1 298.0h.01M319.3 291.3h.01M321.5 299.0h.01M321.9 293.9h.01M321.1 253.5h.01M319.1 293.7h.01M321.2 296.3h.01M315.1 291.4h.01M318.5 276.4h.01M316.1 298.9h.01M321.4 290.6h.01M322.2 261.1h.01M321.4 273.0h.01M320.5 298.3h.01M321.1 294.4h.01M322.3 296.4h.01M320.0 298.7h.01M321.4 289.5h.01M320.3 296.7h.01M319.1 293.9h.01M319.0 279.7h.01M322.0 295.2h.01M321.5 277.1h.01M321.0 290.6h.01M317.1 294.7h.01M321.5 291.8h.01M321.8 298.6h.01M322.3 281.6h.01M320.2 269.8h.01M312.5 293.0h.01M319.5 254.5h.01M321.8 278.5h.01M319.5 244.0h.01M317.0 294.5h.01M319.7 297.6h.01M320.9 290.4h.01M322.2 290.7h.01M321.3 287.0h.01M321.5 296.2h.01M321.0 287.8h.01M321.9 279.8h.01M321.7 297.6h.01M321.3 289.5h.01M322.0 283.7h.01M319.2 284.9h.01M319.2 298.9h.01M321.1 291.2h.01M322.2 290.1h.01M322.3 287.1h.01M320.1 288.0h.01M321.4 294.1h.01M322.3 291.7h.01M316.5 284.4h.01M321.6 279.6h.01M321.9 288.0h.01M319.9 244.1h.01M321.2 284.0h.01M314.8 273.0h.01M319.8 282.0h.01M321.0 289.7h.01M321.5 267.7h.01M316.8 290.7h.01M316.0 298.6h.01M322.0 286.7h.01M321.4 291.3h.01M312.4 296.4h.01M321.8 294.7h.01M319.4 294.5h.01M322.4 285.3h.01M321.1 294.4h.01M320.6 280.6h.01M320.3 281.8h.01M320.2 267.6h.01M313.2 292.1h.01M321.3 260.5h.01M321.4 276.9h.01M319.2 278.6h.01M313.6 268.3h.01M321.9 282.0h.01M320.6 284.5h.01M321.2 293.3h.01M318.7 285.7h.01M321.7 294.2h.01M321.4 295.8h.01M320.5 296.9h.01M322.2 298.0h.01M322.1 277.5h.01M322.1 288.6h.01M318.5 287.6h.01M321.9 263.4h.01M317.0 298.3h.01M321.6 286.7h.01M318.2 290.4h.01M319.1 294.1h.01M319.1 292.2h.01M321.3 273.9h.01M317.5 267.9h.01M320.2 289.6h.01M319.1 281.9h.01M317.7 270.5h.01M322.0 290.9h.01M319.5 294.6h.01M321.9 299.1h.01M320.1 248.8h.01M313.1 296.7h.01M319.3 289.6h.01M319.8 290.3h.01M315.2 219.2h.01M322.3 277.0h.01M322.1 298.5h.01M321.5 275.9h.01M309.0 297.0h.01M321.3 298.8h.01M320.3 287.5h.01M321.2 292.7h.01M318.1 266.8h.01M321.5 290.4h.01M319.8 273.5h.01M311.9 290.5h.01M319.3 285.2h.01M318.1 296.5h.01M321.9 297.3h.01M315.2 294.1h.01M320.6 297.0h.01M321.4 299.0h.01M320.2 296.5h.01M319.8 293.6h.01M321.7 287.6h.01M321.2 293.9h.01M322.3 298.1h.01M316.5 292.7h.01M322.2 295.7h.01M320.6 219.2h.01M321.8 263.3h.01M320.6 289.8h.01M318.0 290.3h.01M322.2 285.0h.01M319.6 281.9h.01M321.5 249.5h.01M317.1 219.2h.01M320.8 267.3h.01M319.0 295.9h.01M322.3 296.0h.01M322.1 297.9h.01M321.2 274.3h.01M321.4 286.4h.01M322.4 295.1h.01M313.9 299.1h.01M320.4 269.7h.01M318.2 275.6h.01M321.0 270.3h.01M317.7 273.3h.01M311.1 297.4h.01M314.4 290.1h.01M319.2 294.2h.01M316.0 298.9h.01M320.1 294.7h.01M321.1 291.1h.01M319.6 269.6h.01M321.2 281.2h.01M321.2 293.5h.01M316.1 292.4h.01M322.1 292.0h.01M318.8 295.1h.01M318.8 285.2h.01M319.4 295.8h.01M322.1 296.5h.01M321.3 289.3h.01M322.4 286.8h.01M321.0 292.4h.01M320.4 245.1h.01M321.8 261.4h.01M321.4 274.3h.01M322.1 221.2h.01M320.9 240.7h.01M321.7 289.9h.01M319.2 295.8h.01M321.6 279.1h.01M314.6 292.4h.01M321.9 291.4h.01M310.3 296.4h.01M319.7 290.8h.01M319.7 295.0h.01M319.9 260.3h.01M317.2 281.6h.01M320.5 284.3h.01M322.1 266.9h.01M319.3 288.5h.01M319.5 289.6h.01M321.1 294.6h.01M320.0 284.1h.01M320.5 298.7h.01M319.8 288.7h.01M320.0 283.2h.01M315.3 296.4h.01M320.7 219.2h.01M318.8 292.6h.01M318.9 219.2h.01M321.0 263.3h.01M322.0 219.2h.01M320.6 294.5h.01M317.5 280.6h.01M315.0 267.8h.01M318.2 286.5h.01M309.0 298.1h.01M317.0 277.1h.01M321.6 270.0h.01M320.8 285.6h.01M317.1 295.4h.01M321.5 280.9h.01M322.2 284.9h.01M318.3 287.3h.01M321.7 270.6h.01M317.3 273.0h.01M320.3 257.2h.01M318.2 296.4h.01M321.2 297.4h.01M322.3 291.7h.01M317.1 267.3h.01M322.1 295.7h.01M321.1 265.6h.01M319.9 257.9h.01M322.2 220.6h.01M321.8 281.6h.01M316.8 276.1h.01M321.8 279.6h.01M320.9 299.0h.01M321.3 292.5h.01M319.8 293.5h.01M319.9 278.1h.01M321.9 296.9h.01M319.3 288.1h.01M322.0 297.1h.01M314.9 282.5h.01M321.2 295.4h.01M308.4 278.3h.01M318.9 291.3h.01M321.4 289.9h.01M322.0 281.5h.01M320.9 268.7h.01M321.0 288.4h.01M320.5 248.6h.01M321.3 277.6h.01M321.7 283.9h.01M321.5 262.6h.01M321.5 264.9h.01M319.4 288.5h.01M315.2 290.6h.01M318.8 282.9h.01M320.8 298.1h.01M321.0 293.4h.01M320.9 244.2h.01M321.5 278.1h.01M319.4 294.3h.01M321.0 296.8h.01M316.4 294.1h.01M321.0 291.8h.01M317.8 265.4h.01M320.0 285.2h.01M322.1 258.9h.01M322.2 291.2h.01M321.2 276.4h.01M319.5 291.8h.01M316.3 246.0h.01M322.3 281.4h.01M320.7 291.3h.01M320.7 292.5h.01M319.5 282.7h.01M313.1 232.5h.01M309.4 290.3h.01M317.7 280.6h.01M319.2 219.2h.01M322.2 288.2h.01M321.0 280.3h.01M321.7 219.2h.01M321.8 291.1h.01M322.0 290.4h.01M318.8 297.7h.01M321.9 280.6h.01M319.8 275.1h.01M321.6 269.6h.01M318.9 272.6h.01M322.1 288.0h.01M322.4 264.3h.01M314.7 259.0h.01M322.3 291.6h.01M320.4 285.7h.01M322.1 271.5h.01M321.4 286.7h.01M322.0 284.3h.01M322.0 297.7h.01M320.5 293.1h.01M318.4 294.2h.01M321.0 298.3h.01M321.7 288.6h.01M320.2 288.3h.01M317.4 297.3h.01M317.4 296.3h.01M313.1 286.0h.01M321.0 282.4h.01M317.1 240.1h.01M321.0 299.1h.01M322.0 268.9h.01M318.9 277.1h.01M321.9 285.8h.01M322.3 297.2h.01M321.5 238.9h.01M319.7 265.8h.01M322.3 289.7h.01M322.2 293.9h.01M322.1 254.5h.01M321.3 287.3h.01M319.6 260.5h.01M314.6 284.3h.01M320.6 257.5h.01M321.1 293.0h.01M318.8 294.0h.01M321.2 289.3h.01M320.7 291.4h.01M312.9 287.8h.01M318.1 264.6h.01M318.0 284.9h.01M310.6 289.5h.01M316.1 297.3h.01M313.9 292.1h.01M311.9 294.3h.01M304.6 286.5h.01M318.5 289.3h.01M284.3 299.2h.01M309.5 237.1h.01M314.0 281.8h.01M314.0 292.4h.01M309.1 282.2h.01M314.8 286.1h.01M311.3 272.4h.01M318.1 297.4h.01M315.7 293.3h.01M302.6 288.7h.01M298.7 289.4h.01M315.2 277.4h.01M317.7 219.8h.01M300.6 291.7h.01M314.7 266.4h.01M302.9 279.6h.01M318.0 271.6h.01M318.1 280.5h.01M310.5 249.0h.01M308.3 298.9h.01M291.1 272.5h.01M309.8 299.2h.01M305.1 288.9h.01M307.1 220.3h.01M293.5 297.8h.01M303.2 288.1h.01M304.5 290.2h.01M312.6 288.3h.01M317.3 291.9h.01M305.2 297.9h.01M317.4 264.8h.01M307.5 284.0h.01M317.4 296.9h.01M314.9 240.2h.01M310.3 250.3h.01M316.2 289.0h.01M310.8 264.2h.01M317.3 259.6h.01M312.1 298.7h.01M312.9 290.2h.01M307.3 248.7h.01M311.7 276.8h.01M313.6 270.4h.01M317.5 273.3h.01M316.8 282.4h.01M316.3 291.1h.01M276.9 217.0h.01M290.2 217.0h.01M292.1 217.0h.01M295.2 217.0h.01M297.1 217.0h.01M309.8 217.0h.01M311.7 217.0h.01M313.6 217.0h.01M318.6 217.0h.01M319.6 217.0h.01" stroke="#2196F3" stroke-width="1.15" stroke-linecap="square" fill="none"/>
<path d="M324.1 297.6h.01M330.9 296.5h.01M327.1 296.0h.01M339.9 297.6h.01M330.7 296.8h.01M359.8 297.8h.01M333.7 298.3h.01M325.3 294.3h.01M330.5 298.2h.01M323.0 292.6h.01M326.9 294.5h.01M327.8 295.6h.01M330.2 285.0h.01M345.2 297.0h.01M328.7 298.3h.01M335.7 298.9h.01M325.9 292.1h.01M322.7 294.7h.01M330.4 296.2h.01M326.2 298.7h.01M351.0 293.7h.01M337.9 298.9h.01M336.9 298.4h.01M324.5 296.4h.01M331.3 298.8h.01M336.1 295.9h.01M344.2 289.4h.01M333.5 297.6h.01M351.0 294.4h.01M325.7 291.8h.01M334.7 298.1h.01M325.1 299.2h.01M329.7 298.2h.01M325.7 298.2h.01M323.7 296.8h.01M325.4 298.0h.01M325.5 296.6h.01M342.0 298.6h.01M341.0 291.9h.01M331.3 296.3h.01M335.0 296.4h.01M332.6 289.6h.01M336.5 298.1h.01M322.9 288.7h.01M326.7 293.4h.01M324.9 297.0h.01M326.8 294.3h.01M349.7 296.6h.01M330.3 297.7h.01M324.9 287.8h.01M323.5 288.5h.01M332.5 299.0h.01M344.4 298.9h.01M330.3 298.8h.01M365.0 297.9h.01M341.9 299.1h.01M332.8 299.0h.01M322.7 296.1h.01M360.9 294.9h.01M340.7 293.4h.01M329.4 299.0h.01M329.5 298.5h.01M329.5 297.6h.01M329.0 298.5h.01M334.0 297.2h.01M328.7 299.0h.01M328.7 296.2h.01M356.5 296.1h.01M323.8 297.9h.01M326.3 294.6h.01M348.9 285.0h.01M350.8 289.3h.01M340.9 288.8h.01M322.6 296.7h.01M330.9 294.9h.01M331.4 295.7h.01M348.1 299.0h.01M329.3 287.0h.01M322.7 298.8h.01M341.7 287.2h.01M322.6 299.2h.01M339.2 294.8h.01M329.4 296.0h.01M335.8 293.0h.01M322.4 299.0h.01M337.4 285.1h.01M339.4 297.3h.01M326.3 297.7h.01M322.5 293.7h.01M325.3 295.9h.01M329.5 297.7h.01M333.1 297.0h.01M324.9 291.1h.01M324.2 298.7h.01M325.2 296.8h.01M336.9 297.7h.01M325.0 295.2h.01M325.3 296.5h.01M325.2 291.3h.01M324.3 298.3h.01M325.8 297.8h.01M334.7 295.0h.01M337.2 296.3h.01M323.2 293.8h.01M325.1 298.4h.01M327.5 281.7h.01M326.8 297.6h.01M345.3 281.4h.01M327.0 298.7h.01M337.2 293.4h.01M326.3 293.3h.01M326.9 298.0h.01M330.9 294.1h.01M328.5 292.8h.01M322.5 296.6h.01M326.9 299.0h.01M345.7 298.7h.01M324.6 291.2h.01M353.0 289.0h.01M326.4 289.0h.01M323.8 294.5h.01M350.0 298.5h.01M323.8 294.9h.01M342.7 294.3h.01M350.7 297.0h.01M326.8 298.8h.01M325.4 288.6h.01M323.1 298.5h.01M326.4 299.1h.01M325.9 298.5h.01M323.6 296.4h.01M329.8 296.1h.01M336.0 296.4h.01M350.3 299.0h.01M324.8 299.0h.01M325.9 293.8h.01M346.9 296.6h.01M324.1 297.8h.01M330.4 298.0h.01M337.3 285.5h.01M328.2 295.8h.01M340.1 296.9h.01M324.4 288.2h.01M358.5 299.2h.01M336.0 297.3h.01M322.9 298.6h.01M324.2 294.2h.01M324.7 299.2h.01M324.8 293.1h.01M329.0 295.2h.01M328.3 298.5h.01M322.5 297.9h.01M322.8 298.1h.01M331.5 297.5h.01M328.5 295.5h.01M326.0 297.6h.01M342.8 296.0h.01M327.5 296.3h.01M328.2 297.7h.01M345.6 298.3h.01M348.4 291.9h.01M342.7 298.6h.01M329.1 283.3h.01M325.6 298.6h.01M334.6 298.3h.01M330.7 298.6h.01M350.3 298.0h.01M323.4 294.8h.01M326.4 296.2h.01M328.9 289.5h.01M329.2 297.5h.01M322.4 296.7h.01M325.4 296.0h.01M331.9 296.9h.01M323.3 296.7h.01M328.6 295.4h.01M355.7 298.0h.01M327.9 299.0h.01M337.7 298.3h.01M339.1 293.2h.01M325.2 290.3h.01M329.0 297.2h.01M330.1 288.1h.01M328.8 296.8h.01M325.7 292.2h.01M329.0 297.7h.01M324.5 298.4h.01M339.4 293.1h.01M358.9 289.7h.01M333.4 293.2h.01M334.2 292.9h.01M337.7 298.6h.01M338.4 297.9h.01M325.1 289.6h.01M322.6 296.5h.01M326.4 293.3h.01M331.3 290.0h.01M348.0 295.3h.01M323.0 295.1h.01M323.5 283.8h.01M341.8 297.9h.01M324.4 294.7h.01M335.9 283.2h.01M331.6 298.8h.01M334.7 299.1h.01M341.6 293.7h.01M337.0 291.4h.01M330.4 288.3h.01M332.1 296.7h.01M327.0 297.6h.01M322.6 298.6h.01M337.5 298.3h.01M332.5 293.6h.01M333.6 296.5h.01M326.0 298.1h.01M324.4 295.3h.01M333.4 288.4h.01M326.2 289.2h.01M345.4 298.0h.01M351.2 295.6h.01M353.5 293.6h.01M326.2 298.0h.01M329.4 296.7h.01M322.7 291.7h.01M329.7 296.8h.01M335.3 298.2h.01M324.5 296.0h.01M325.0 297.8h.01M323.1 299.1h.01M326.6 296.4h.01M350.6 295.4h.01M327.5 297.3h.01M324.9 296.8h.01M352.7 298.8h.01M327.8 294.9h.01M336.0 296.2h.01M332.1 288.6h.01M344.5 298.2h.01M329.8 276.5h.01M329.5 298.5h.01M336.2 299.1h.01M323.9 296.2h.01M325.4 294.4h.01M334.7 297.8h.01M336.2 295.3h.01M334.0 297.0h.01M327.8 298.9h.01M328.5 287.4h.01M343.2 299.1h.01M323.1 298.1h.01M333.6 297.1h.01M323.7 297.2h.01M330.5 294.1h.01M327.3 295.3h.01M333.2 295.6h.01M322.9 294.5h.01M323.7 299.1h.01M328.5 299.2h.01M323.1 297.4h.01M328.4 298.9h.01M351.5 292.0h.01M328.7 295.9h.01M326.0 283.5h.01M323.6 297.9h.01M324.8 291.6h.01M329.1 297.3h.01M327.2 290.9h.01M325.2 293.3h.01M334.1 297.0h.01M326.7 297.1h.01M328.1 297.8h.01M331.7 297.3h.01M325.8 293.6h.01M328.2 296.8h.01M342.5 297.0h.01M326.9 290.5h.01M357.9 293.4h.01M327.3 295.0h.01M335.2 298.0h.01M334.6 287.8h.01M332.5 295.1h.01M327.8 295.2h.01M324.8 293.6h.01M329.7 284.3h.01M326.4 294.5h.01M322.6 297.2h.01M336.2 298.1h.01M331.4 298.3h.01M327.2 279.9h.01M324.5 289.9h.01M323.0 295.9h.01M338.7 292.3h.01M327.1 295.9h.01M334.2 293.8h.01M335.4 296.0h.01M325.1 294.6h.01M330.2 296.3h.01M363.6 298.7h.01M336.8 297.8h.01M334.7 287.8h.01M325.4 296.1h.01M329.5 296.7h.01M324.1 295.5h.01M343.6 295.1h.01M325.6 293.0h.01M327.6 298.7h.01M331.2 296.9h.01M329.6 281.1h.01M330.4 287.5h.01M326.5 293.8h.01M323.1 297.9h.01M333.6 294.8h.01M339.1 297.5h.01M325.4 297.6h.01M329.7 299.2h.01M326.8 295.2h.01M323.9 297.9h.01M341.9 288.9h.01M325.1 298.5h.01M323.6 299.0h.01M337.4 294.1h.01M325.3 296.7h.01M333.7 299.2h.01M338.6 291.8h.01M324.7 294.6h.01M333.8 297.7h.01M342.4 298.4h.01M328.5 297.9h.01M327.9 292.9h.01M330.4 295.7h.01M363.6 298.3h.01M324.8 295.6h.01M323.9 286.5h.01M326.4 297.1h.01M327.7 292.5h.01M345.8 295.0h.01M324.2 297.6h.01M334.0 298.4h.01M342.7 291.4h.01M324.8 297.6h.01M324.9 294.4h.01M322.9 294.7h.01M323.0 292.2h.01M329.8 295.9h.01M323.3 299.1h.01M326.5 283.2h.01M331.1 291.7h.01M323.0 298.9h.01M322.6 294.7h.01M324.2 298.1h.01M332.8 294.7h.01M326.1 296.9h.01M325.6 296.1h.01M326.6 297.6h.01M325.1 298.0h.01M325.3 299.2h.01M325.9 295.9h.01M325.4 298.8h.01M340.1 296.9h.01M329.2 297.9h.01M343.1 293.9h.01M331.6 295.2h.01M333.6 296.6h.01M327.5 297.4h.01M329.0 296.9h.01M329.5 296.4h.01M337.1 290.7h.01M324.8 299.2h.01M325.8 299.2h.01M337.5 295.6h.01M325.6 298.5h.01M341.6 292.4h.01M333.3 294.8h.01M335.3 297.0h.01M327.2 296.2h.01M342.5 281.1h.01M346.0 292.4h.01M323.1 298.2h.01M356.0 296.3h.01M329.3 297.9h.01M341.2 296.5h.01M366.4 299.0h.01M369.8 299.2h.01M323.9 297.4h.01M332.1 298.8h.01M330.2 288.5h.01M327.8 293.8h.01M330.9 295.9h.01M324.2 296.9h.01M344.3 295.0h.01M324.7 297.0h.01M329.8 297.7h.01M330.6 295.5h.01M322.6 298.3h.01M332.5 298.4h.01M323.1 293.8h.01M326.3 287.1h.01M330.2 298.9h.01M332.0 298.1h.01M338.4 294.4h.01M335.9 299.1h.01M322.7 293.2h.01M323.8 298.4h.01M322.7 298.6h.01M328.5 287.1h.01M326.1 298.1h.01M339.1 298.5h.01M332.0 295.6h.01M348.4 299.1h.01M330.3 297.4h.01M338.9 298.2h.01M334.3 298.5h.01M328.9 286.0h.01M325.0 298.0h.01M346.1 295.0h.01M323.0 298.5h.01M325.0 298.0h.01M340.0 294.7h.01M359.4 295.0h.01M331.8 297.4h.01M334.4 296.7h.01M323.0 296.7h.01M327.0 296.4h.01M322.9 299.2h.01M361.0 297.5h.01M326.2 298.7h.01M330.9 289.8h.01M324.3 296.6h.01M329.0 293.7h.01M330.3 298.3h.01M324.4 294.3h.01M323.2 291.6h.01M322.7 298.5h.01M328.4 292.2h.01M331.6 294.0h.01M336.0 294.4h.01M322.9 292.6h.01M323.9 298.6h.01M322.8 299.2h.01M342.3 297.5h.01M323.3 299.1h.01M340.2 295.8h.01M345.9 299.2h.01M323.5 298.0h.01M324.4 298.8h.01M324.5 295.4h.01M324.1 298.6h.01M329.7 297.5h.01M323.9 296.1h.01M329.1 297.4h.01M328.5 299.1h.01M331.5 298.5h.01M326.3 299.3h.01M343.1 295.9h.01M327.1 296.3h.01M349.1 298.8h.01M327.0 294.6h.01M326.8 294.6h.01M345.0 299.1h.01M325.6 298.0h.01M335.6 293.4h.01M333.8 289.4h.01M324.3 297.4h.01M340.6 293.7h.01M323.5 284.3h.01M335.2 291.6h.01M326.7 295.7h.01M352.6 290.5h.01M330.6 290.8h.01M385.0 292.3h.01M332.5 286.9h.01M323.9 297.3h.01M330.3 298.8h.01M336.8 299.1h.01M331.8 298.0h.01M326.1 295.7h.01M324.4 297.0h.01M340.9 282.7h.01M325.3 297.6h.01M333.6 298.5h.01M340.3 298.4h.01M330.1 297.7h.01M322.4 299.3h.01M322.4 297.8h.01M325.5 281.0h.01M332.0 299.0h.01M334.3 298.3h.01M328.6 294.4h.01M340.8 288.8h.01M327.6 297.8h.01M327.2 297.9h.01M335.2 296.9h.01M333.4 298.7h.01M336.9 286.2h.01M324.6 295.6h.01M324.1 299.2h.01M327.5 298.5h.01M334.8 296.0h.01M333.0 286.1h.01M323.0 298.9h.01M322.7 296.9h.01M338.9 294.9h.01M329.9 291.9h.01M326.8 298.8h.01M332.1 299.2h.01M324.9 299.2h.01M324.1 299.0h.01M329.6 298.8h.01M331.2 292.6h.01M326.4 298.8h.01M332.9 294.3h.01M342.8 296.2h.01M330.7 291.7h.01M333.1 285.2h.01M325.6 293.6h.01M331.9 296.9h.01M322.5 296.8h.01M325.3 295.8h.01M329.2 296.6h.01M323.0 298.8h.01M331.3 294.9h.01M366.6 293.3h.01M325.6 297.0h.01M329.1 293.0h.01M327.2 289.6h.01M328.7 297.4h.01M328.6 297.6h.01M385.0 299.1h.01M327.2 299.0h.01M333.1 298.7h.01M323.9 297.2h.01M331.1 293.8h.01M328.0 298.0h.01M326.7 290.9h.01M324.7 299.3h.01M343.0 296.8h.01M323.7 298.7h.01M343.4 294.0h.01M323.0 295.0h.01M324.7 297.0h.01M331.2 299.1h.01M348.4 297.7h.01M323.9 293.5h.01M323.5 299.2h.01M332.4 296.9h.01M344.3 293.3h.01M324.6 299.1h.01M331.2 296.9h.01M325.8 289.7h.01M324.6 295.3h.01M323.1 289.4h.01M350.6 295.6h.01M326.1 294.4h.01M344.6 293.2h.01M322.8 296.6h.01M323.8 296.3h.01M350.8 291.6h.01M325.1 296.2h.01M326.0 298.6h.01M335.3 293.8h.01M326.3 297.2h.01M333.7 294.3h.01M328.3 298.8h.01M323.4 298.6h.01M339.0 296.7h.01M332.2 297.6h.01M326.8 298.6h.01M357.2 295.7h.01M323.7 294.6h.01M331.0 295.7h.01M336.3 295.7h.01M342.2 285.9h.01M327.3 295.3h.01M326.8 297.3h.01M326.7 295.3h.01M326.5 297.6h.01M340.2 293.1h.01M333.1 292.2h.01M327.0 295.3h.01M325.1 297.8h.01M323.4 293.1h.01M346.5 297.9h.01M326.9 298.8h.01M323.9 295.4h.01M343.5 299.0h.01M325.2 293.8h.01M324.8 291.2h.01M326.5 296.8h.01M324.5 298.0h.01M327.6 298.0h.01M334.8 299.2h.01M332.1 293.1h.01M326.1 298.5h.01M323.6 299.0h.01M337.3 295.8h.01M322.5 297.0h.01M331.1 297.8h.01M322.7 297.2h.01M326.5 285.5h.01M326.6 289.5h.01M341.6 296.0h.01M323.7 293.0h.01M323.3 296.2h.01M323.4 298.9h.01M327.4 298.6h.01M368.1 296.0h.01M344.0 287.3h.01M335.8 295.3h.01M328.5 293.5h.01M332.9 298.6h.01M329.6 297.3h.01M329.3 294.5h.01M333.5 296.1h.01M337.1 292.6h.01M323.3 298.7h.01M322.9 298.6h.01M352.7 297.9h.01M327.9 296.9h.01M330.3 298.0h.01M336.7 297.8h.01M340.1 293.1h.01M322.4 296.3h.01M323.3 291.0h.01M323.1 298.1h.01M336.3 295.9h.01M332.8 297.3h.01M329.4 298.4h.01M328.3 298.2h.01M333.1 298.9h.01M323.8 298.5h.01M329.6 296.0h.01M322.4 282.6h.01M339.5 297.5h.01M324.0 292.6h.01M358.1 298.5h.01M335.8 292.8h.01M348.6 298.4h.01M323.6 298.6h.01M324.9 290.5h.01M345.2 296.8h.01M323.7 297.6h.01M325.0 295.3h.01M334.5 293.6h.01M327.8 297.0h.01M328.4 297.5h.01M328.2 294.9h.01M334.2 297.8h.01M330.3 298.7h.01M322.8 297.4h.01M326.6 299.2h.01M323.2 297.2h.01M349.4 292.3h.01M322.7 297.8h.01M326.8 297.9h.01M323.8 295.9h.01M339.7 297.5h.01M324.2 298.9h.01M322.5 293.7h.01M324.9 294.4h.01M337.2 299.0h.01M324.4 297.8h.01M336.3 294.2h.01M325.8 297.0h.01M326.6 296.8h.01M337.4 298.1h.01M338.2 289.6h.01M331.1 287.0h.01M348.8 298.6h.01M367.6 298.4h.01M337.9 298.8h.01M325.8 297.1h.01M339.7 294.9h.01M324.6 290.5h.01M341.4 296.6h.01M322.9 298.0h.01M325.7 297.2h.01M349.5 295.8h.01M338.6 299.0h.01M325.1 294.3h.01M326.3 298.3h.01M323.0 299.1h.01M327.4 296.3h.01M327.2 296.1h.01M325.7 299.2h.01M333.0 297.7h.01M328.8 297.5h.01M325.4 299.1h.01M325.7 297.9h.01M323.6 299.2h.01M328.6 299.2h.01M342.4 297.6h.01M328.0 296.4h.01M322.6 298.9h.01M337.0 296.2h.01M328.8 297.7h.01M335.6 296.6h.01M337.3 292.4h.01M343.7 294.3h.01M333.0 296.9h.01M329.6 296.0h.01M329.5 292.7h.01M340.9 299.1h.01M335.6 295.6h.01M331.0 290.1h.01M322.9 296.8h.01M326.9 287.9h.01M324.1 296.1h.01M323.9 293.9h.01M328.8 294.2h.01M325.9 291.0h.01M322.5 298.3h.01M334.9 291.2h.01M336.6 298.1h.01M323.2 294.6h.01M334.9 299.1h.01M348.3 296.4h.01M322.7 296.8h.01M326.3 298.9h.01M342.9 288.8h.01M323.7 297.0h.01M325.4 295.0h.01M323.5 297.7h.01M327.4 296.8h.01M327.8 295.8h.01M349.1 289.0h.01M345.0 292.5h.01M324.9 298.2h.01M328.2 295.3h.01M331.2 297.6h.01M367.9 297.9h.01M322.6 298.9h.01M324.6 294.3h.01M339.8 299.1h.01M325.0 298.2h.01M337.0 290.5h.01M325.3 298.9h.01M354.7 285.6h.01M334.4 296.8h.01M335.4 293.7h.01M329.1 298.1h.01M329.5 295.1h.01M326.1 295.4h.01M323.9 285.7h.01M324.7 298.3h.01M353.0 287.8h.01M347.0 292.2h.01M340.3 292.7h.01M330.3 299.0h.01M334.9 292.4h.01M339.6 299.1h.01M323.0 294.3h.01M328.7 290.7h.01M366.8 297.0h.01M333.1 295.1h.01M333.6 297.5h.01M332.1 299.0h.01M344.2 294.4h.01M337.8 296.9h.01M324.6 297.0h.01M333.2 296.2h.01M323.5 299.3h.01M327.2 298.2h.01M324.8 298.3h.01M327.5 294.7h.01M345.6 295.0h.01M322.6 291.5h.01M331.3 294.2h.01M331.4 297.6h.01M326.3 299.0h.01M332.7 299.1h.01M333.2 290.0h.01M332.8 295.7h.01M338.0 287.0h.01M338.3 281.6h.01M328.2 299.2h.01M331.4 295.4h.01M341.2 295.7h.01M326.7 299.3h.01M339.2 295.5h.01M362.4 295.8h.01M340.6 293.6h.01M366.9 296.9h.01M344.0 297.4h.01M322.5 297.8h.01M326.5 280.6h.01M327.2 298.1h.01M333.5 298.9h.01M325.9 297.4h.01M323.7 295.8h.01M327.6 293.1h.01M326.3 284.8h.01M324.5 296.4h.01M324.8 299.2h.01M325.8 290.6h.01M325.7 296.7h.01M329.4 298.1h.01M329.7 299.0h.01M326.5 298.0h.01M338.4 293.7h.01M333.8 295.8h.01M328.8 273.4h.01M322.6 296.6h.01M326.8 264.1h.01M336.7 270.6h.01M322.9 283.2h.01M325.5 281.5h.01M322.9 232.9h.01M324.7 293.3h.01M334.9 290.0h.01M322.6 278.1h.01M323.4 294.6h.01M323.5 281.4h.01M323.6 278.3h.01M329.8 219.2h.01M329.3 250.5h.01M323.3 265.9h.01M322.7 282.6h.01M322.6 297.3h.01M331.8 296.7h.01M326.4 284.9h.01M322.4 269.0h.01M322.6 257.5h.01M327.8 286.1h.01M324.3 298.8h.01M326.2 298.5h.01M324.8 249.5h.01M326.0 296.9h.01M326.4 276.1h.01M323.7 271.0h.01M325.1 289.1h.01M324.8 293.1h.01M323.5 257.1h.01M323.8 271.0h.01M323.8 295.2h.01M322.4 235.8h.01M326.8 222.3h.01M325.2 298.1h.01M323.0 298.3h.01M325.4 280.6h.01M332.2 292.6h.01M323.2 294.5h.01M322.9 298.7h.01M324.6 288.8h.01M323.9 241.3h.01M323.6 265.6h.01M324.8 297.2h.01M322.5 281.3h.01M329.0 298.3h.01M326.2 294.2h.01M326.1 264.9h.01M326.5 293.9h.01M322.9 233.7h.01M330.2 250.0h.01M324.9 298.3h.01M323.9 253.1h.01M322.6 292.6h.01M322.5 258.5h.01M323.8 297.7h.01M323.8 294.9h.01M324.2 280.9h.01M325.8 297.4h.01M324.8 298.2h.01M324.2 267.6h.01M323.4 266.1h.01M323.3 289.7h.01M327.4 299.2h.01M325.0 284.5h.01M326.4 242.6h.01M326.1 294.4h.01M323.1 286.7h.01M323.4 283.8h.01M322.7 276.6h.01M324.1 298.3h.01M322.8 246.8h.01M328.4 258.4h.01M324.0 219.4h.01M323.0 274.4h.01M331.4 294.8h.01M322.4 296.7h.01M322.7 268.1h.01M325.3 286.9h.01M322.8 279.6h.01M322.9 296.5h.01M325.2 279.5h.01M327.5 265.6h.01M322.9 292.3h.01M322.9 286.3h.01M322.5 260.5h.01M326.0 267.6h.01M324.5 252.6h.01M328.1 265.4h.01M327.6 294.6h.01M323.7 298.2h.01M327.0 287.0h.01M336.0 292.7h.01M324.2 260.6h.01M333.4 272.1h.01M329.2 249.9h.01M323.4 280.9h.01M322.6 277.6h.01M332.0 285.8h.01M322.9 283.1h.01M322.6 287.4h.01M322.7 288.9h.01M327.8 273.5h.01M328.5 287.6h.01M324.2 298.2h.01M327.3 283.1h.01M324.1 296.3h.01M324.3 298.1h.01M322.8 297.7h.01M324.1 296.5h.01M327.9 281.2h.01M328.8 283.8h.01M322.9 293.1h.01M328.2 282.4h.01M325.7 280.1h.01M322.6 295.0h.01M324.2 263.6h.01M331.5 282.1h.01M323.3 298.4h.01M325.0 289.2h.01M330.8 294.9h.01M323.1 299.0h.01M322.5 267.7h.01M328.9 296.1h.01M322.4 282.8h.01M323.3 281.0h.01M330.1 272.9h.01M323.4 281.4h.01M323.5 271.9h.01M323.3 260.2h.01M326.0 256.6h.01M323.7 240.1h.01M325.2 293.6h.01M325.7 292.2h.01M322.8 298.5h.01M325.4 294.0h.01M322.7 270.5h.01M322.9 272.3h.01M323.4 290.6h.01M330.9 265.4h.01M328.1 223.9h.01M325.3 246.7h.01M325.5 282.5h.01M323.6 290.1h.01M325.1 293.9h.01M325.6 261.0h.01M326.4 294.4h.01M322.5 290.5h.01M324.2 263.3h.01M324.9 285.3h.01M325.3 283.8h.01M326.0 283.6h.01M324.9 294.1h.01M322.8 288.2h.01M329.3 243.0h.01M323.5 282.9h.01M324.7 287.7h.01M323.0 269.4h.01M322.7 294.3h.01M323.4 294.9h.01M323.1 297.7h.01M324.7 295.7h.01M325.7 281.7h.01M325.5 286.7h.01M325.4 292.6h.01M324.4 276.9h.01M323.2 273.9h.01M325.2 228.7h.01M325.4 284.0h.01M327.0 292.8h.01M323.9 288.4h.01M326.6 274.9h.01M323.0 240.2h.01M335.1 286.2h.01M339.5 280.7h.01M323.9 297.6h.01M322.5 282.1h.01M326.4 280.9h.01M327.2 288.3h.01M326.7 281.5h.01M325.6 284.0h.01M325.9 283.5h.01M322.7 277.7h.01M326.2 288.6h.01M333.5 286.7h.01M323.0 285.5h.01M323.8 295.8h.01M329.3 295.6h.01M326.3 295.7h.01M324.7 219.2h.01M322.7 261.7h.01M322.4 226.5h.01M330.0 287.9h.01M325.6 287.5h.01M323.0 290.9h.01M324.2 260.2h.01M322.8 284.4h.01M324.4 283.8h.01M327.4 281.7h.01M323.6 239.9h.01M325.3 293.2h.01M324.9 260.5h.01M322.6 279.3h.01M324.5 292.8h.01M322.9 294.2h.01M324.2 288.8h.01M325.3 293.2h.01M325.5 287.0h.01M327.4 268.0h.01M323.3 227.0h.01M324.9 291.5h.01M323.3 275.3h.01M324.2 277.2h.01M323.3 261.5h.01M323.4 260.1h.01M324.2 289.5h.01M325.1 285.1h.01M324.9 283.5h.01M331.9 273.2h.01M322.7 219.2h.01M322.4 298.3h.01M327.8 293.1h.01M322.5 295.6h.01M324.6 263.7h.01M322.5 295.8h.01M322.4 298.2h.01M323.6 286.3h.01M333.3 279.2h.01M328.5 282.1h.01M330.0 277.8h.01M323.3 290.4h.01M324.5 297.1h.01M330.6 286.6h.01M323.1 286.3h.01M327.6 293.2h.01M325.2 297.5h.01M323.3 295.3h.01M324.6 277.0h.01M323.2 276.9h.01M325.2 272.6h.01M339.6 291.5h.01M340.2 287.6h.01M324.7 295.5h.01M322.7 279.4h.01M322.7 298.6h.01M322.7 284.3h.01M323.1 293.4h.01M327.0 287.9h.01M322.9 277.5h.01M339.0 280.6h.01M324.3 284.5h.01M326.2 264.3h.01M327.3 293.8h.01M327.2 297.2h.01M322.8 285.7h.01M323.0 283.5h.01M323.5 244.2h.01M324.2 266.8h.01M331.6 287.7h.01M327.0 286.3h.01M324.0 296.8h.01M325.8 250.4h.01M326.1 292.0h.01M324.8 290.8h.01M324.0 270.8h.01M322.4 286.7h.01M324.7 296.2h.01M326.6 293.7h.01M324.0 293.8h.01M325.3 288.5h.01M326.0 288.7h.01M327.2 283.9h.01M322.8 286.3h.01M323.3 292.5h.01M331.7 286.7h.01M326.6 296.0h.01M325.5 296.9h.01M323.2 296.7h.01M322.5 253.6h.01M333.0 290.5h.01M322.4 273.9h.01M325.8 298.4h.01M327.0 298.0h.01M323.2 270.3h.01M327.0 294.2h.01M324.6 268.4h.01M325.3 285.0h.01M323.0 297.9h.01M323.1 285.0h.01M325.3 287.5h.01M325.6 283.4h.01M325.7 289.1h.01M328.2 284.7h.01M329.1 219.2h.01M328.0 270.9h.01M326.1 283.9h.01M323.3 297.2h.01M325.8 293.8h.01M325.4 284.0h.01M325.4 288.5h.01M323.3 292.4h.01M326.2 257.6h.01M323.6 292.1h.01M324.3 288.5h.01M325.6 272.2h.01M327.0 267.5h.01M326.5 230.8h.01M324.3 287.9h.01M325.7 292.1h.01M328.0 288.9h.01M325.0 285.2h.01M323.8 299.1h.01M323.4 286.9h.01M331.9 296.5h.01M329.8 230.2h.01M327.3 293.0h.01M322.5 258.5h.01M322.6 292.5h.01M331.2 277.8h.01M327.9 264.9h.01M323.0 285.8h.01M322.7 290.2h.01M324.6 266.7h.01M323.5 278.2h.01M322.9 293.6h.01M322.6 282.6h.01M325.2 275.3h.01M324.1 246.3h.01M326.5 283.2h.01M328.9 295.5h.01M323.5 283.9h.01M325.3 239.6h.01M326.0 298.4h.01M331.5 287.2h.01M323.1 271.7h.01M325.5 262.3h.01M324.9 293.6h.01M324.4 287.2h.01M323.8 282.6h.01M322.9 293.7h.01M322.8 298.8h.01M324.8 273.6h.01M324.0 254.7h.01M325.4 278.7h.01M323.5 255.3h.01M323.8 263.5h.01M323.3 241.0h.01M326.0 295.5h.01M326.6 296.1h.01M323.9 290.2h.01M323.7 290.7h.01M323.0 289.5h.01M322.7 268.8h.01M323.8 275.4h.01M324.2 228.8h.01M329.1 275.8h.01M328.2 252.3h.01M330.8 289.1h.01M325.2 297.9h.01M323.8 291.7h.01M325.5 299.2h.01M326.8 297.8h.01M324.1 286.6h.01M328.2 280.1h.01M322.9 278.2h.01M323.2 280.9h.01M324.1 239.4h.01M324.3 293.2h.01M323.6 238.6h.01M323.8 294.0h.01M324.8 278.0h.01M331.3 297.7h.01M323.7 274.6h.01M324.6 276.7h.01M325.9 297.4h.01M322.6 295.6h.01M323.5 295.4h.01M323.5 297.0h.01M322.5 285.0h.01M326.9 296.0h.01M322.7 274.3h.01M322.7 296.4h.01M324.5 292.5h.01M327.3 285.7h.01M324.7 290.3h.01M322.5 266.3h.01M324.0 265.6h.01M322.8 288.4h.01M324.9 296.1h.01M322.6 246.7h.01M331.2 219.2h.01M324.9 274.0h.01M325.3 286.8h.01M323.0 279.6h.01M324.3 277.5h.01M322.5 292.6h.01M322.8 271.7h.01M324.5 292.8h.01M327.2 285.2h.01M323.5 289.7h.01M322.4 298.1h.01M322.5 236.6h.01M329.1 284.2h.01M331.3 284.4h.01M326.0 297.2h.01M324.2 281.2h.01M324.1 279.0h.01M323.7 278.9h.01M323.1 286.4h.01M324.2 285.0h.01M322.6 294.0h.01M326.4 295.8h.01M324.4 219.2h.01M325.4 273.9h.01M327.1 233.0h.01M323.9 289.6h.01M326.8 298.8h.01M324.4 293.2h.01M325.0 274.0h.01M328.6 285.7h.01M326.1 297.7h.01M325.8 248.3h.01M325.4 286.4h.01M324.7 289.1h.01M323.0 295.1h.01M327.4 285.4h.01M322.5 281.0h.01M328.0 279.1h.01M323.0 241.0h.01M323.0 285.7h.01M324.3 295.8h.01M323.4 295.3h.01M323.0 298.5h.01M325.7 278.2h.01M323.3 241.1h.01M324.1 287.6h.01M330.7 279.2h.01M324.4 272.9h.01M326.7 292.2h.01M322.6 274.0h.01M326.8 281.7h.01M322.8 273.1h.01M323.0 268.6h.01M325.5 279.9h.01M322.6 290.6h.01M326.6 297.0h.01M322.5 289.1h.01M328.5 280.2h.01M323.2 297.7h.01M328.1 263.8h.01M326.2 294.8h.01M326.8 299.1h.01M323.0 291.9h.01M332.3 298.6h.01M323.0 273.9h.01M326.9 293.3h.01M322.7 262.4h.01M333.5 253.4h.01M325.0 297.6h.01M326.7 279.2h.01M328.0 271.9h.01M324.6 227.2h.01M324.4 288.0h.01M325.6 269.5h.01M325.2 245.0h.01M323.4 255.8h.01M329.1 291.1h.01M322.5 281.6h.01M325.5 237.6h.01M325.0 274.6h.01M326.9 295.8h.01M325.9 288.2h.01M323.2 293.1h.01M323.8 273.8h.01M324.9 291.9h.01M322.6 269.6h.01M326.8 264.5h.01M327.3 298.0h.01M323.4 287.4h.01M323.5 266.0h.01M323.1 299.0h.01M324.3 298.3h.01M322.5 281.4h.01M325.3 284.3h.01M322.6 283.5h.01M324.7 292.3h.01M323.2 296.0h.01M324.5 290.5h.01M325.2 277.8h.01M323.4 281.4h.01M323.3 273.0h.01M323.1 282.0h.01M326.6 268.5h.01M324.8 252.6h.01M335.9 269.1h.01M323.8 293.3h.01M325.5 296.7h.01M323.0 297.4h.01M325.7 289.9h.01M330.4 267.8h.01M324.8 291.3h.01M323.6 298.3h.01M322.8 259.8h.01M323.5 299.1h.01M334.8 290.1h.01M327.1 287.7h.01M333.3 297.7h.01M324.4 279.3h.01M322.5 251.4h.01M323.7 277.5h.01M322.7 297.7h.01M322.7 269.5h.01M331.4 251.7h.01M324.8 297.5h.01M327.1 285.7h.01M327.2 280.0h.01M325.0 295.7h.01M322.9 297.7h.01M324.2 292.8h.01M332.1 298.3h.01M326.9 296.8h.01M322.7 250.1h.01M323.2 281.9h.01M325.2 289.5h.01M323.8 296.4h.01M326.2 290.4h.01M325.3 266.5h.01M322.6 288.7h.01M323.8 247.6h.01M325.5 295.1h.01M324.3 299.0h.01M324.7 297.9h.01M322.9 285.7h.01M324.8 294.7h.01M325.2 292.1h.01M326.2 298.3h.01M328.2 287.9h.01M323.0 292.7h.01M325.5 297.4h.01M330.1 294.5h.01M324.1 297.9h.01M324.3 236.7h.01M323.1 295.5h.01M324.9 279.7h.01M322.9 294.6h.01M325.3 294.0h.01M322.5 276.5h.01M328.8 267.8h.01M328.5 294.7h.01M323.6 281.7h.01M325.4 280.4h.01M324.9 294.2h.01M323.3 297.6h.01M322.6 282.6h.01M322.7 259.1h.01M332.5 296.3h.01M333.1 280.5h.01M322.4 290.0h.01M323.8 292.2h.01M322.6 293.9h.01M322.5 287.9h.01M324.5 294.2h.01M330.6 257.6h.01M324.6 268.2h.01M323.8 272.5h.01M327.2 291.0h.01M326.7 291.0h.01M323.0 288.9h.01M322.8 275.0h.01M323.3 286.1h.01M327.6 281.8h.01M330.0 274.5h.01M326.1 273.4h.01M326.1 251.1h.01M325.3 278.5h.01M324.9 284.6h.01M331.4 292.4h.01M323.1 285.9h.01M323.6 275.3h.01M325.6 299.3h.01M323.1 280.8h.01M324.0 277.4h.01M324.4 297.0h.01M326.1 229.6h.01M322.7 280.9h.01M325.4 281.1h.01M324.6 285.7h.01M336.8 259.8h.01M324.2 267.1h.01M325.9 267.9h.01M341.9 297.9h.01M323.2 294.2h.01M327.8 249.8h.01M323.2 286.5h.01M329.4 274.7h.01M325.2 256.3h.01M330.5 297.5h.01M333.1 292.7h.01M325.4 272.4h.01M323.5 292.3h.01M329.9 269.2h.01M334.3 297.4h.01M325.5 273.5h.01M332.3 274.5h.01M323.4 297.3h.01M323.0 293.5h.01M325.1 291.8h.01M322.9 297.6h.01M326.1 266.9h.01M322.8 285.5h.01M334.8 290.7h.01M324.8 267.3h.01M322.5 259.7h.01M327.1 273.7h.01M323.7 286.3h.01M331.3 298.1h.01M322.7 279.7h.01M332.0 296.2h.01M323.1 287.5h.01M327.3 283.4h.01M325.8 298.3h.01M323.1 282.4h.01M326.5 297.5h.01M322.7 292.1h.01M324.1 291.5h.01M323.0 297.8h.01M325.7 240.3h.01M325.6 251.0h.01M322.8 280.9h.01M323.8 263.2h.01M325.3 281.0h.01M330.2 239.5h.01M322.9 288.2h.01M322.7 283.5h.01M323.2 276.3h.01M323.8 299.2h.01M329.3 296.7h.01M323.4 285.2h.01M322.6 270.9h.01M326.4 296.9h.01M325.5 296.7h.01M324.8 297.4h.01M323.4 287.8h.01M324.9 278.9h.01M330.7 291.5h.01M323.8 294.8h.01M326.6 290.5h.01M323.2 295.2h.01M324.1 264.5h.01M324.2 267.0h.01M324.4 282.6h.01M323.3 289.2h.01M326.5 297.6h.01M324.3 293.7h.01M323.5 291.4h.01M323.1 282.8h.01M322.5 294.1h.01M323.4 295.5h.01M328.1 277.0h.01M329.3 296.6h.01M323.1 292.1h.01M324.6 264.8h.01M328.1 261.6h.01M322.5 298.8h.01M323.7 288.6h.01M322.4 291.0h.01M322.8 259.6h.01M323.1 291.9h.01M323.0 263.1h.01M322.8 288.2h.01M323.2 293.9h.01M338.9 275.2h.01M326.6 290.9h.01M334.4 234.8h.01M325.6 294.4h.01M322.6 284.2h.01M324.5 261.2h.01M342.6 266.7h.01M323.3 219.2h.01M325.4 298.6h.01M323.1 238.1h.01M327.4 273.4h.01M325.8 298.9h.01M331.1 292.5h.01M327.1 284.4h.01M324.5 285.0h.01M330.3 264.7h.01M324.0 262.6h.01M323.0 291.1h.01M323.6 298.4h.01M324.0 299.3h.01M333.3 266.6h.01M324.5 298.1h.01M323.4 270.9h.01M323.5 297.4h.01M324.2 282.7h.01M322.8 290.2h.01M325.0 273.1h.01M334.2 219.2h.01M330.4 270.8h.01M326.9 248.6h.01M338.5 295.4h.01M353.3 255.1h.01M327.8 255.3h.01M378.0 290.3h.01M351.2 273.1h.01M339.3 289.2h.01M331.7 264.5h.01M350.6 239.5h.01M326.7 281.9h.01M345.7 294.3h.01M325.9 253.2h.01M350.5 273.6h.01M332.2 287.4h.01M353.1 297.3h.01M346.6 274.0h.01M335.8 236.5h.01M342.0 255.0h.01M329.1 288.5h.01M331.2 285.1h.01M348.6 219.2h.01M365.2 259.9h.01M385.0 272.1h.01M347.5 297.3h.01M334.2 285.5h.01M327.4 251.6h.01M333.2 293.6h.01M327.0 283.5h.01M332.3 238.4h.01M342.1 287.7h.01M328.4 298.3h.01M344.7 279.8h.01M336.8 284.8h.01M334.2 250.6h.01M326.5 293.9h.01M351.5 291.5h.01M332.2 287.7h.01M331.3 270.0h.01M327.2 282.6h.01M346.2 290.6h.01M347.0 290.3h.01M341.6 297.1h.01M331.8 282.4h.01M341.1 286.5h.01M326.2 283.4h.01M358.5 292.8h.01M329.4 279.3h.01M329.9 297.1h.01M326.8 279.1h.01M360.7 268.9h.01M340.2 256.6h.01M356.6 292.9h.01M333.4 224.3h.01M372.5 278.2h.01M341.9 290.7h.01M327.1 291.1h.01M329.9 278.7h.01M343.1 278.9h.01M365.3 299.3h.01M329.3 297.1h.01M333.1 248.9h.01M335.9 266.3h.01M328.9 290.3h.01M351.9 292.2h.01M347.1 280.5h.01M343.1 298.7h.01M332.9 219.2h.01M333.3 292.6h.01M385.0 281.0h.01M345.1 285.7h.01M341.6 289.1h.01M330.8 292.2h.01M329.8 274.9h.01M327.1 296.7h.01M337.2 219.2h.01M350.5 276.6h.01M347.8 294.5h.01M337.3 298.9h.01M337.6 298.6h.01M327.6 296.7h.01M332.5 286.0h.01M329.6 297.6h.01M327.7 237.7h.01M385.0 248.9h.01M328.0 294.7h.01M360.3 299.0h.01M328.2 277.8h.01M380.3 245.9h.01M356.1 291.4h.01M347.3 242.5h.01M363.3 226.7h.01M349.2 267.5h.01M345.5 288.0h.01M339.5 244.7h.01M339.5 298.8h.01M335.3 257.2h.01M345.8 285.7h.01M370.3 270.3h.01M329.7 274.4h.01M359.1 299.2h.01M371.0 287.7h.01M356.5 299.0h.01M331.9 291.9h.01M329.6 277.2h.01M351.7 277.7h.01M365.1 296.8h.01M331.1 288.7h.01M351.4 271.7h.01M385.0 256.9h.01M338.0 271.6h.01M353.6 284.2h.01M344.2 259.8h.01M354.9 295.8h.01M326.1 274.0h.01M353.4 295.0h.01M356.8 270.2h.01M328.5 295.8h.01M343.2 279.2h.01M328.4 250.2h.01M329.5 262.4h.01M373.4 296.7h.01M345.4 282.9h.01M366.1 287.2h.01M334.3 293.8h.01M356.4 291.4h.01M365.3 298.6h.01M361.6 298.9h.01M346.7 237.7h.01M331.9 280.9h.01M334.3 297.9h.01M355.6 285.3h.01M352.1 298.6h.01M328.5 293.9h.01M353.4 298.8h.01M325.9 289.5h.01M333.6 260.8h.01M357.7 293.7h.01M347.8 290.2h.01M349.4 277.1h.01M326.8 286.2h.01M334.6 286.6h.01M338.9 275.2h.01M334.0 284.2h.01M354.4 275.8h.01M329.1 296.2h.01M330.8 237.2h.01M333.6 255.8h.01M380.5 274.6h.01M333.1 271.2h.01M337.0 236.6h.01M337.0 278.5h.01M344.5 278.9h.01M328.8 282.0h.01M334.7 275.8h.01M350.0 294.5h.01M333.1 293.2h.01M379.1 285.4h.01M335.4 230.5h.01M350.6 259.0h.01M337.1 296.5h.01M333.2 297.5h.01M334.0 287.0h.01M336.3 220.5h.01M338.1 295.6h.01M328.8 275.9h.01M337.5 288.5h.01M336.7 288.5h.01M344.2 280.8h.01M326.4 285.2h.01M330.3 281.3h.01M335.8 269.9h.01M380.4 271.4h.01M341.4 284.7h.01M327.5 272.3h.01M329.2 289.5h.01M340.0 293.0h.01M358.3 283.0h.01M384.7 298.8h.01M335.8 291.3h.01M339.6 277.8h.01M340.2 241.5h.01M335.1 289.8h.01M348.3 282.7h.01M330.7 246.9h.01M329.8 297.7h.01M338.2 249.6h.01M357.3 264.4h.01M341.1 284.6h.01M331.2 295.6h.01M335.2 262.5h.01M338.8 219.2h.01M352.0 283.2h.01M340.3 288.2h.01M364.6 262.5h.01M328.8 251.6h.01M344.1 290.1h.01M348.0 288.0h.01M345.0 284.8h.01M341.9 247.1h.01M361.9 285.8h.01M333.6 273.5h.01M343.6 297.2h.01M337.3 292.6h.01M342.7 295.5h.01M331.4 293.3h.01M331.0 282.1h.01M358.3 278.2h.01M342.6 269.8h.01M333.7 287.8h.01M342.9 294.5h.01M348.5 247.1h.01M360.5 297.9h.01M366.2 294.1h.01M327.9 279.5h.01M332.6 295.2h.01M341.0 283.5h.01M338.2 284.6h.01M341.3 268.4h.01M346.5 274.1h.01M354.4 286.2h.01M342.3 296.8h.01M327.0 286.9h.01M344.3 293.8h.01M378.2 292.3h.01M336.7 286.3h.01M383.6 295.9h.01M330.3 278.6h.01M333.0 290.7h.01M327.9 248.1h.01M335.2 281.5h.01M330.2 242.8h.01M327.4 274.7h.01M326.7 283.7h.01M332.0 237.3h.01M335.1 261.7h.01M326.0 293.8h.01M385.0 289.8h.01M326.2 293.1h.01M333.0 283.9h.01M333.5 291.8h.01M336.1 286.3h.01M328.9 284.3h.01M339.7 281.8h.01M347.7 286.9h.01M329.5 240.4h.01M327.6 291.9h.01M334.4 288.4h.01M329.5 258.7h.01M331.5 283.0h.01M341.0 296.4h.01M334.8 296.4h.01M338.4 272.3h.01M357.2 241.6h.01M327.5 286.7h.01M343.6 289.7h.01M373.0 285.3h.01M359.0 297.9h.01M333.6 274.8h.01M328.1 217.0h.01M329.4 217.0h.01M330.6 217.0h.01M334.4 217.0h.01M336.3 217.0h.01M338.2 217.0h.01M339.5 217.0h.01M346.4 217.0h.01M348.3 217.0h.01M370.4 217.0h.01" stroke="#FF2B0A" stroke-width="1.15" stroke-linecap="square" fill="none"/>
<rect x="259.2" y="214.9" width="126.4" height="84.8" fill="none" stroke="#2a2a2a" stroke-width="1.3"/>
<line x1="255.6" y1="217.2" x2="258.6" y2="217.2" stroke="#2a2a2a" stroke-width="1.0"/>
<text x="253.1" y="220.4" font-size="9.2" stroke="#222" stroke-width="0.12" text-anchor="end" textLength="12.6" lengthAdjust="spacingAndGlyphs" fill="#222">300</text>
<line x1="255.6" y1="244.9" x2="258.6" y2="244.9" stroke="#2a2a2a" stroke-width="1.0"/>
<text x="253.1" y="248.1" font-size="9.2" stroke="#222" stroke-width="0.12" text-anchor="end" textLength="12.6" lengthAdjust="spacingAndGlyphs" fill="#222">200</text>
<line x1="255.6" y1="272.2" x2="258.6" y2="272.2" stroke="#2a2a2a" stroke-width="1.0"/>
<text x="253.1" y="275.4" font-size="9.2" stroke="#222" stroke-width="0.12" text-anchor="end" textLength="12.6" lengthAdjust="spacingAndGlyphs" fill="#222">100</text>
<line x1="255.6" y1="299.5" x2="258.6" y2="299.5" stroke="#2a2a2a" stroke-width="1.0"/>
<text x="253.1" y="302.7" font-size="9.2" stroke="#222" stroke-width="0.12" text-anchor="end" textLength="4.2" lengthAdjust="spacingAndGlyphs" fill="#222">0</text>
<line x1="258.2" y1="300.3" x2="258.2" y2="303" stroke="#2a2a2a" stroke-width="1.0"/>
<text x="258.2" y="313.5" font-size="9.2" stroke="#222" stroke-width="0.12" text-anchor="middle" textLength="12.7" lengthAdjust="spacingAndGlyphs" fill="#222">−10</text>
<line x1="290.3" y1="300.3" x2="290.3" y2="303" stroke="#2a2a2a" stroke-width="1.0"/>
<text x="290.3" y="313.5" font-size="9.2" stroke="#222" stroke-width="0.12" text-anchor="middle" textLength="8.5" lengthAdjust="spacingAndGlyphs" fill="#222">−5</text>
<line x1="322.4" y1="300.3" x2="322.4" y2="303" stroke="#2a2a2a" stroke-width="1.0"/>
<text x="322.4" y="313.5" font-size="9.2" stroke="#222" stroke-width="0.12" text-anchor="middle" textLength="4.2" lengthAdjust="spacingAndGlyphs" fill="#222">0</text>
<line x1="354" y1="300.3" x2="354" y2="303" stroke="#2a2a2a" stroke-width="1.0"/>
<text x="354" y="313.5" font-size="9.2" stroke="#222" stroke-width="0.12" text-anchor="middle" textLength="4.2" lengthAdjust="spacingAndGlyphs" fill="#222">5</text>
<line x1="385.6" y1="300.3" x2="385.6" y2="303" stroke="#2a2a2a" stroke-width="1.0"/>
<text x="385.6" y="313.5" font-size="9.2" stroke="#222" stroke-width="0.12" text-anchor="middle" textLength="8.6" lengthAdjust="spacingAndGlyphs" fill="#222">10</text>
<text font-size="9.2" fill="#222" stroke="#222" stroke-width="0.12" transform="translate(292.7 325.4) scale(0.79 1)">Log<tspan font-size="6.2" dy="1.4">2</tspan><tspan dy="-1.4">(Fold change)</tspan></text>
<text font-size="9.2" fill="#222" stroke="#222" stroke-width="0.12" transform="translate(233.6 288.4) rotate(-90) scale(0.815 1)">Log<tspan font-size="6.2" dy="1.4">10</tspan><tspan dy="-1.4">(adj. p value)</tspan></text>
<text x="353.9" y="391.6" font-size="6.2" stroke="#222" stroke-width="0.07" text-anchor="end" textLength="87" lengthAdjust="spacingAndGlyphs" fill="#222">Protein ubiquitination pathway</text>
<rect x="357.2" y="388.7" width="5" height="5.1" fill="#0B1CF5"/>
<rect x="363" y="388.7" width="5" height="5.1" fill="#878787"/>
<text x="353.9" y="397.72" font-size="6.2" stroke="#222" stroke-width="0.07" text-anchor="end" textLength="48.8" lengthAdjust="spacingAndGlyphs" fill="#222">Integrin signaling</text>
<rect x="357.2" y="394.82" width="5" height="5.1" fill="#5468F2"/>
<rect x="363" y="394.82" width="5" height="5.1" fill="#8E9EF5"/>
<text x="353.9" y="403.85" font-size="6.2" stroke="#222" stroke-width="0.07" text-anchor="end" textLength="74" lengthAdjust="spacingAndGlyphs" fill="#222">Mitochondrial dysfunction</text>
<rect x="357.2" y="400.95" width="5" height="5.1" fill="#6072F2"/>
<rect x="363" y="400.95" width="5" height="5.1" fill="#878787"/>
<text x="353.9" y="409.97" font-size="6.2" stroke="#222" stroke-width="0.07" text-anchor="end" textLength="65.9" lengthAdjust="spacingAndGlyphs" fill="#222">Phagosome maturation</text>
<rect x="357.2" y="407.07" width="5" height="5.1" fill="#6A7CF2"/>
<rect x="363" y="407.07" width="5" height="5.1" fill="#878787"/>
<text x="353.9" y="416.1" font-size="6.2" stroke="#222" stroke-width="0.07" text-anchor="end" textLength="75.1" lengthAdjust="spacingAndGlyphs" fill="#222">Oxidative phosphorylation</text>
<rect x="357.2" y="413.2" width="5" height="5.1" fill="#7284F3"/>
<rect x="363" y="413.2" width="5" height="5.1" fill="#94A4F6"/>
<text x="353.9" y="422.22" font-size="6.2" stroke="#222" stroke-width="0.07" text-anchor="end" textLength="70.5" lengthAdjust="spacingAndGlyphs" fill="#222">Sirtuin signaling pathway</text>
<rect x="357.2" y="419.32" width="5" height="5.1" fill="#7A8CF4"/>
<rect x="363" y="419.32" width="5" height="5.1" fill="#E58A9C"/>
<text x="353.9" y="428.35" font-size="6.2" stroke="#222" stroke-width="0.07" text-anchor="end" textLength="114.4" lengthAdjust="spacingAndGlyphs" fill="#222">Actin nucleation by ARP-WASP complex</text>
<rect x="357.2" y="425.45" width="5" height="5.1" fill="#8090F4"/>
<rect x="363" y="425.45" width="5" height="5.1" fill="#AAB8F8"/>
<text x="353.9" y="434.47" font-size="6.2" stroke="#222" stroke-width="0.07" text-anchor="end" textLength="124.4" lengthAdjust="spacingAndGlyphs" fill="#222">Remodeling of epithelial adherens junctions</text>
<rect x="357.2" y="431.57" width="5" height="5.1" fill="#8494F4"/>
<rect x="363" y="431.57" width="5" height="5.1" fill="#C3CCFA"/>
<text x="353.9" y="440.6" font-size="6.2" stroke="#222" stroke-width="0.07" text-anchor="end" textLength="54.4" lengthAdjust="spacingAndGlyphs" fill="#222">PI3K/AKT signaling</text>
<rect x="357.2" y="437.7" width="5" height="5.1" fill="#8898F5"/>
<rect x="363" y="437.7" width="5" height="5.1" fill="#A9B7F8"/>
<text x="353.9" y="446.72" font-size="6.2" stroke="#222" stroke-width="0.07" text-anchor="end" textLength="97.5" lengthAdjust="spacingAndGlyphs" fill="#222">Virus entry via endocytic pathways</text>
<rect x="357.2" y="443.82" width="5" height="5.1" fill="#8A9AF5"/>
<rect x="363" y="443.82" width="5" height="5.1" fill="#878787"/>
<text x="353.9" y="452.85" font-size="6.2" stroke="#222" stroke-width="0.07" text-anchor="end" textLength="42.8" lengthAdjust="spacingAndGlyphs" fill="#222">IGF-1 signaling</text>
<rect x="357.2" y="449.95" width="5" height="5.1" fill="#8C9CF5"/>
<rect x="363" y="449.95" width="5" height="5.1" fill="#A4B2F7"/>
<text x="353.9" y="458.97" font-size="6.2" stroke="#222" stroke-width="0.07" text-anchor="end" textLength="131.1" lengthAdjust="spacingAndGlyphs" fill="#222">Hypoxia signaling in the cardiovascular system</text>
<rect x="357.2" y="456.07" width="5" height="5.1" fill="#8E9EF5"/>
<rect x="363" y="456.07" width="5" height="5.1" fill="#C6D0FB"/>
<text x="353.9" y="465.1" font-size="6.2" stroke="#222" stroke-width="0.07" text-anchor="end" textLength="39.6" lengthAdjust="spacingAndGlyphs" fill="#222">EIF2 signaling</text>
<rect x="357.2" y="462.2" width="5" height="5.1" fill="#90A0F6"/>
<rect x="363" y="462.2" width="5" height="5.1" fill="#D9C4E0"/>
<text x="353.9" y="471.22" font-size="6.2" stroke="#222" stroke-width="0.07" text-anchor="end" textLength="75.9" lengthAdjust="spacingAndGlyphs" fill="#222">Unfolded protein response</text>
<rect x="357.2" y="468.32" width="5" height="5.1" fill="#92A2F6"/>
<rect x="363" y="468.32" width="5" height="5.1" fill="#878787"/>
<text x="353.9" y="477.35" font-size="6.2" stroke="#222" stroke-width="0.07" text-anchor="end" textLength="85.9" lengthAdjust="spacingAndGlyphs" fill="#222">Huntington’s disease signaling</text>
<rect x="357.2" y="474.45" width="5" height="5.1" fill="#94A4F6"/>
<rect x="363" y="474.45" width="5" height="5.1" fill="#B4C0F9"/>
<text x="353.9" y="483.47" font-size="6.2" stroke="#222" stroke-width="0.07" text-anchor="end" textLength="42.8" lengthAdjust="spacingAndGlyphs" fill="#222">PTEN signaling</text>
<rect x="357.2" y="480.57" width="5" height="5.1" fill="#96A6F6"/>
<rect x="363" y="480.57" width="5" height="5.1" fill="#F41A0E"/>
<text x="353.9" y="489.6" font-size="6.2" stroke="#222" stroke-width="0.07" text-anchor="end" textLength="115.5" lengthAdjust="spacingAndGlyphs" fill="#222">Regulation of eIF4 and p70S6K signaling</text>
<rect x="357.2" y="486.7" width="5" height="5.1" fill="#97A7F6"/>
<rect x="363" y="486.7" width="5" height="5.1" fill="#BCC6FA"/>
<text x="353.9" y="495.72" font-size="6.2" stroke="#222" stroke-width="0.07" text-anchor="end" textLength="71.3" lengthAdjust="spacingAndGlyphs" fill="#222">Ephrin receptor signaling</text>
<rect x="357.2" y="492.82" width="5" height="5.1" fill="#98A8F6"/>
<rect x="363" y="492.82" width="5" height="5.1" fill="#8494F4"/>
<text x="353.9" y="501.85" font-size="6.2" stroke="#222" stroke-width="0.07" text-anchor="end" textLength="74.6" lengthAdjust="spacingAndGlyphs" fill="#222">Axonal guidance signaling</text>
<rect x="357.2" y="498.95" width="5" height="5.1" fill="#99A9F6"/>
<rect x="363" y="498.95" width="5" height="5.1" fill="#878787"/>
<text x="353.9" y="507.97" font-size="6.2" stroke="#222" stroke-width="0.07" text-anchor="end" textLength="92.6" lengthAdjust="spacingAndGlyphs" fill="#222">Signaling by Rho family GTPases</text>
<rect x="357.2" y="505.07" width="5" height="5.1" fill="#9AAAF7"/>
<rect x="363" y="505.07" width="5" height="5.1" fill="#A2B0F7"/>
<text x="353.9" y="514.1" font-size="6.2" stroke="#222" stroke-width="0.07" text-anchor="end" textLength="47.1" lengthAdjust="spacingAndGlyphs" fill="#222">Paxillin signaling</text>
<rect x="357.2" y="511.2" width="5" height="5.1" fill="#9BABF7"/>
<rect x="363" y="511.2" width="5" height="5.1" fill="#A6B4F7"/>
<text x="353.9" y="520.23" font-size="6.2" stroke="#222" stroke-width="0.07" text-anchor="end" textLength="82.1" lengthAdjust="spacingAndGlyphs" fill="#222">fMLP signaling in neutrophils</text>
<rect x="357.2" y="517.33" width="5" height="5.1" fill="#9CACF7"/>
<rect x="363" y="517.33" width="5" height="5.1" fill="#A8B6F8"/>
<text x="353.9" y="526.35" font-size="6.2" stroke="#222" stroke-width="0.07" text-anchor="end" textLength="51.7" lengthAdjust="spacingAndGlyphs" fill="#222">Ephrin B signaling</text>
<rect x="357.2" y="523.45" width="5" height="5.1" fill="#9DADF7"/>
<rect x="363" y="523.45" width="5" height="5.1" fill="#A6B4F7"/>
<text x="353.9" y="532.48" font-size="6.2" stroke="#222" stroke-width="0.07" text-anchor="end" textLength="37.4" lengthAdjust="spacingAndGlyphs" fill="#222">Rac signaling</text>
<rect x="357.2" y="529.58" width="5" height="5.1" fill="#9EAEF7"/>
<rect x="363" y="529.58" width="5" height="5.1" fill="#A8B6F8"/>
<text x="353.9" y="538.6" font-size="6.2" stroke="#222" stroke-width="0.07" text-anchor="end" textLength="84" lengthAdjust="spacingAndGlyphs" fill="#222">Role of tissue factor in cancer</text>
<rect x="357.2" y="535.7" width="5" height="5.1" fill="#9FAFF7"/>
<rect x="363" y="535.7" width="5" height="5.1" fill="#878787"/>
<text x="353.9" y="544.73" font-size="6.2" stroke="#222" stroke-width="0.07" text-anchor="end" textLength="38.2" lengthAdjust="spacingAndGlyphs" fill="#222">IL-8 signaling</text>
<rect x="357.2" y="541.83" width="5" height="5.1" fill="#A0B0F7"/>
<rect x="363" y="541.83" width="5" height="5.1" fill="#8C9CF5"/>
<text x="353.9" y="550.85" font-size="6.2" stroke="#222" stroke-width="0.07" text-anchor="end" textLength="110.1" lengthAdjust="spacingAndGlyphs" fill="#222">Germ cell-sertoli cell junction signaling</text>
<rect x="357.2" y="547.95" width="5" height="5.1" fill="#A0B0F7"/>
<rect x="363" y="547.95" width="5" height="5.1" fill="#878787"/>
<text x="353.9" y="556.98" font-size="6.2" stroke="#222" stroke-width="0.07" text-anchor="end" textLength="118.2" lengthAdjust="spacingAndGlyphs" fill="#222">NRF2-mediated oxidative stress response</text>
<rect x="357.2" y="554.08" width="5" height="5.1" fill="#A1B1F8"/>
<rect x="363" y="554.08" width="5" height="5.1" fill="#AEBAF8"/>
<text x="353.9" y="563.1" font-size="6.2" stroke="#222" stroke-width="0.07" text-anchor="end" textLength="80" lengthAdjust="spacingAndGlyphs" fill="#222">Actin cytoskeleton signaling</text>
<rect x="357.2" y="560.2" width="5" height="5.1" fill="#A2B2F8"/>
<rect x="363" y="560.2" width="5" height="5.1" fill="#90A0F6"/>
<text x="353.9" y="569.23" font-size="6.2" stroke="#222" stroke-width="0.07" text-anchor="end" textLength="95.3" lengthAdjust="spacingAndGlyphs" fill="#222">Glucocorticoid receptor signaling</text>
<rect x="357.2" y="566.33" width="5" height="5.1" fill="#A2B2F8"/>
<rect x="363" y="566.33" width="5" height="5.1" fill="#878787"/>
<text x="361.6" y="386" font-size="5.2" stroke="#2a2a2a" stroke-width="0.12" textLength="36" lengthAdjust="spacingAndGlyphs" fill="#2a2a2a" transform="rotate(-90 361.6 386)">−log(p-value)</text>
<text x="367.4" y="386" font-size="5.2" stroke="#2a2a2a" stroke-width="0.12" textLength="19" lengthAdjust="spacingAndGlyphs" fill="#2a2a2a" transform="rotate(-90 367.4 386)">z-score</text>
<defs><linearGradient id="cbF" x1="0" y1="0" x2="0" y2="1">
<stop offset="0" stop-color="#0A22E8"/>
<stop offset="0.35" stop-color="#5C74EE"/>
<stop offset="0.62" stop-color="#A8B6F4"/>
<stop offset="0.74" stop-color="#E6E6F4"/>
<stop offset="0.80" stop-color="#EBC8D2"/>
<stop offset="0.90" stop-color="#E8707C"/>
<stop offset="1" stop-color="#EE1010"/>
</linearGradient></defs>
<rect x="374.8" y="388.3" width="6.8" height="182.4" fill="url(#cbF)" stroke="#1a1a1a" stroke-width="0.9"/>
<line x1="381.6" y1="388" x2="383" y2="388" stroke="#1a1a1a" stroke-width="0.8"/>
<text x="384.3" y="390.4" font-size="7" stroke="#2a2a2a" stroke-width="0.12" textLength="7.6" lengthAdjust="spacingAndGlyphs" fill="#2a2a2a">20</text>
<line x1="381.6" y1="425.65" x2="383" y2="425.65" stroke="#1a1a1a" stroke-width="0.8"/>
<text x="384.3" y="428.05" font-size="7" stroke="#2a2a2a" stroke-width="0.12" textLength="7.6" lengthAdjust="spacingAndGlyphs" fill="#2a2a2a">15</text>
<line x1="381.6" y1="463.3" x2="383" y2="463.3" stroke="#1a1a1a" stroke-width="0.8"/>
<text x="384.3" y="465.7" font-size="7" stroke="#2a2a2a" stroke-width="0.12" textLength="7.6" lengthAdjust="spacingAndGlyphs" fill="#2a2a2a">10</text>
<line x1="381.6" y1="500.95" x2="383" y2="500.95" stroke="#1a1a1a" stroke-width="0.8"/>
<text x="384.3" y="503.35" font-size="7" stroke="#2a2a2a" stroke-width="0.12" textLength="3.8" lengthAdjust="spacingAndGlyphs" fill="#2a2a2a">5</text>
<line x1="381.6" y1="538.6" x2="383" y2="538.6" stroke="#1a1a1a" stroke-width="0.8"/>
<text x="384.3" y="541" font-size="7" stroke="#2a2a2a" stroke-width="0.12" textLength="3.8" lengthAdjust="spacingAndGlyphs" fill="#2a2a2a">0</text>
<defs><linearGradient id="gRow" x1="0" y1="0" x2="1" y2="0">
<stop offset="0" stop-color="#0A12E6"/><stop offset="0.25" stop-color="#5A64E6"/><stop offset="0.42" stop-color="#C8CCF2"/><stop offset="0.5" stop-color="#FFFFFF"/><stop offset="0.58" stop-color="#F4CCCC"/><stop offset="0.75" stop-color="#EE6464"/><stop offset="1" stop-color="#EE0A0A"/>
</linearGradient></defs>
<rect x="421" y="30" width="81.2" height="5.1" fill="url(#gRow)" stroke="#8a8a8a" stroke-width="0.5"/>
<text x="415" y="43.3" font-size="8.0" stroke="#222" stroke-width="0.12" textLength="28.2" lengthAdjust="spacingAndGlyphs" fill="#222">Row min</text>
<text x="484.6" y="43.3" font-size="8.0" stroke="#222" stroke-width="0.12" textLength="29.9" lengthAdjust="spacingAndGlyphs" fill="#222">Row max</text>
<line x1="456.27" y1="69.2" x2="461.94" y2="69.2" stroke="#6a6a6a" stroke-width="0.9"/>
<line x1="456.27" y1="69.2" x2="456.27" y2="101" stroke="#6a6a6a" stroke-width="0.9"/>
<line x1="461.94" y1="69.2" x2="461.94" y2="101" stroke="#6a6a6a" stroke-width="0.9"/>
<line x1="484.62" y1="98.3" x2="490.29" y2="98.3" stroke="#6a6a6a" stroke-width="0.9"/>
<line x1="484.62" y1="98.3" x2="484.62" y2="101" stroke="#6a6a6a" stroke-width="0.9"/>
<line x1="490.29" y1="98.3" x2="490.29" y2="101" stroke="#6a6a6a" stroke-width="0.9"/>
<line x1="478.95" y1="95.5" x2="487.46" y2="95.5" stroke="#6a6a6a" stroke-width="0.9"/>
<line x1="478.95" y1="95.5" x2="478.95" y2="101" stroke="#6a6a6a" stroke-width="0.9"/>
<line x1="487.46" y1="95.5" x2="487.46" y2="98.3" stroke="#6a6a6a" stroke-width="0.9"/>
<line x1="473.28" y1="77.8" x2="484.4" y2="77.8" stroke="#6a6a6a" stroke-width="0.9"/>
<line x1="473.28" y1="77.8" x2="473.28" y2="101" stroke="#6a6a6a" stroke-width="0.9"/>
<line x1="484.4" y1="77.8" x2="484.4" y2="95.5" stroke="#6a6a6a" stroke-width="0.9"/>
<line x1="467.61" y1="68.7" x2="481.8" y2="68.7" stroke="#6a6a6a" stroke-width="0.9"/>
<line x1="467.61" y1="68.7" x2="467.61" y2="101" stroke="#6a6a6a" stroke-width="0.9"/>
<line x1="481.8" y1="68.7" x2="481.8" y2="77.8" stroke="#6a6a6a" stroke-width="0.9"/>
<line x1="459.4" y1="59.2" x2="479.1" y2="59.2" stroke="#6a6a6a" stroke-width="0.9"/>
<line x1="459.4" y1="59.2" x2="459.4" y2="69.2" stroke="#6a6a6a" stroke-width="0.9"/>
<line x1="479.1" y1="59.2" x2="479.1" y2="68.7" stroke="#6a6a6a" stroke-width="0.9"/>
<line x1="450.6" y1="46.2" x2="473.4" y2="46.2" stroke="#6a6a6a" stroke-width="0.9"/>
<line x1="450.6" y1="46.2" x2="450.6" y2="101" stroke="#6a6a6a" stroke-width="0.9"/>
<line x1="473.4" y1="46.2" x2="473.4" y2="59.2" stroke="#6a6a6a" stroke-width="0.9"/>
<text x="452.7" y="154.6" font-size="6.1" stroke="#2a2a2a" stroke-width="0.05" textLength="51.7" lengthAdjust="spacingAndGlyphs" fill="#2a2a2a" transform="rotate(-90 452.7 154.6)">Low VWF ECFC12</text>
<text x="458.37" y="154.6" font-size="6.1" stroke="#2a2a2a" stroke-width="0.05" textLength="51.7" lengthAdjust="spacingAndGlyphs" fill="#2a2a2a" transform="rotate(-90 458.37 154.6)">Low VWF ECFC11</text>
<text x="464.04" y="154.6" font-size="6.1" stroke="#2a2a2a" stroke-width="0.05" textLength="51.7" lengthAdjust="spacingAndGlyphs" fill="#2a2a2a" transform="rotate(-90 464.04 154.6)">Low VWF ECFC17</text>
<text x="469.71" y="154.6" font-size="6.1" stroke="#2a2a2a" stroke-width="0.05" textLength="51.7" lengthAdjust="spacingAndGlyphs" fill="#2a2a2a" transform="rotate(-90 469.71 154.6)">Low VWF ECFC14</text>
<text x="475.38" y="154.6" font-size="6.1" stroke="#2a2a2a" stroke-width="0.05" textLength="51.7" lengthAdjust="spacingAndGlyphs" fill="#2a2a2a" transform="rotate(-90 475.38 154.6)">Low VWF ECFC28</text>
<text x="481.05" y="154.6" font-size="6.1" stroke="#2a2a2a" stroke-width="0.05" textLength="45.7" lengthAdjust="spacingAndGlyphs" fill="#2a2a2a" transform="rotate(-90 481.05 154.6)">Control ECFC24</text>
<text x="486.72" y="154.6" font-size="6.1" stroke="#2a2a2a" stroke-width="0.05" textLength="42.7" lengthAdjust="spacingAndGlyphs" fill="#2a2a2a" transform="rotate(-90 486.72 154.6)">Control HUVEC</text>
<text x="492.39" y="154.6" font-size="6.1" stroke="#2a2a2a" stroke-width="0.05" textLength="42.1" lengthAdjust="spacingAndGlyphs" fill="#2a2a2a" transform="rotate(-90 492.39 154.6)">Control ECFC3</text>
<text x="445.8" y="153.9" font-size="7.8" stroke="#222" stroke-width="0.12" text-anchor="end" textLength="24.1" lengthAdjust="spacingAndGlyphs" fill="#222">Cell_line</text>
<text x="494.6" y="153.9" font-size="7.8" stroke="#222" stroke-width="0.12" textLength="5.6" lengthAdjust="spacingAndGlyphs" fill="#222">id</text>
<rect x="447.9" y="157.7" width="45" height="328.1" fill="#0707F5"/>
<rect x="447.9" y="164.29" width="5.62" height="1.32" fill="#3131F6"/>
<rect x="447.9" y="168.24" width="5.62" height="1.32" fill="#8F8FFA"/>
<rect x="447.9" y="169.56" width="5.62" height="1.32" fill="#7E7EF9"/>
<rect x="447.9" y="170.88" width="5.62" height="1.32" fill="#1515F5"/>
<rect x="447.9" y="174.83" width="5.62" height="1.32" fill="#7D7DF9"/>
<rect x="447.9" y="176.15" width="5.62" height="1.32" fill="#5656F8"/>
<rect x="447.9" y="177.47" width="5.62" height="1.32" fill="#9E9EFB"/>
<rect x="447.9" y="178.78" width="5.62" height="1.32" fill="#5B5BF8"/>
<rect x="447.9" y="180.1" width="5.62" height="1.32" fill="#8383FA"/>
<rect x="447.9" y="184.05" width="5.62" height="1.32" fill="#BCBCFC"/>
<rect x="447.9" y="188.01" width="5.62" height="1.32" fill="#2424F6"/>
<rect x="447.9" y="190.64" width="5.62" height="1.32" fill="#6262F8"/>
<rect x="447.9" y="193.28" width="5.62" height="1.32" fill="#D8D8FD"/>
<rect x="447.9" y="195.91" width="5.62" height="1.32" fill="#FDB4B4"/>
<rect x="447.9" y="197.23" width="5.62" height="1.32" fill="#FDA8A8"/>
<rect x="447.9" y="198.55" width="5.62" height="1.32" fill="#FDBABA"/>
<rect x="447.9" y="199.87" width="5.62" height="1.32" fill="#FDC3C3"/>
<rect x="447.9" y="201.18" width="5.62" height="1.32" fill="#FDB2B2"/>
<rect x="447.9" y="202.5" width="5.62" height="1.32" fill="#2424F6"/>
<rect x="447.9" y="206.45" width="5.62" height="1.32" fill="#BFBFFC"/>
<rect x="447.9" y="207.77" width="5.62" height="1.32" fill="#C0C0FC"/>
<rect x="447.9" y="209.09" width="5.62" height="1.32" fill="#2A2AF6"/>
<rect x="447.9" y="210.41" width="5.62" height="1.32" fill="#1818F5"/>
<rect x="447.9" y="217" width="5.62" height="1.32" fill="#1A1AF6"/>
<rect x="447.9" y="219.63" width="5.62" height="3.95" fill="#FA0707"/>
<rect x="447.9" y="223.58" width="5.62" height="1.32" fill="#FB5959"/>
<rect x="447.9" y="224.9" width="5.62" height="43.48" fill="#FA0707"/>
<rect x="447.9" y="268.38" width="5.62" height="1.32" fill="#FB5959"/>
<rect x="447.9" y="269.7" width="5.62" height="14.49" fill="#FA0707"/>
<rect x="447.9" y="284.2" width="5.62" height="1.32" fill="#FB5959"/>
<rect x="447.9" y="285.51" width="5.62" height="5.27" fill="#FA0707"/>
<rect x="447.9" y="290.78" width="5.62" height="1.32" fill="#FB5959"/>
<rect x="447.9" y="292.1" width="5.62" height="1.32" fill="#FA0707"/>
<rect x="447.9" y="293.42" width="5.62" height="1.32" fill="#FB5C5C"/>
<rect x="447.9" y="294.74" width="5.62" height="1.32" fill="#FB3636"/>
<rect x="447.9" y="296.06" width="5.62" height="1.32" fill="#FA2E2E"/>
<rect x="447.9" y="297.37" width="5.62" height="1.32" fill="#FC7878"/>
<rect x="447.9" y="298.69" width="5.62" height="1.32" fill="#FC6B6B"/>
<rect x="447.9" y="300.01" width="5.62" height="1.32" fill="#FB4040"/>
<rect x="447.9" y="301.33" width="5.62" height="1.32" fill="#FB5252"/>
<rect x="447.9" y="302.64" width="5.62" height="1.32" fill="#FB4949"/>
<rect x="447.9" y="303.96" width="5.62" height="1.32" fill="#FC7777"/>
<rect x="447.9" y="305.28" width="5.62" height="1.32" fill="#FB5656"/>
<rect x="447.9" y="306.6" width="5.62" height="1.32" fill="#FA2020"/>
<rect x="447.9" y="307.91" width="5.62" height="1.32" fill="#FB3535"/>
<rect x="447.9" y="309.23" width="5.62" height="1.32" fill="#FB4F4F"/>
<rect x="447.9" y="310.55" width="5.62" height="1.32" fill="#FC7070"/>
<rect x="447.9" y="311.87" width="5.62" height="1.32" fill="#FC7878"/>
<rect x="447.9" y="313.19" width="5.62" height="1.32" fill="#FB4C4C"/>
<rect x="447.9" y="314.5" width="5.62" height="1.32" fill="#FA3232"/>
<rect x="447.9" y="315.82" width="5.62" height="1.32" fill="#FC7474"/>
<rect x="447.9" y="317.14" width="5.62" height="1.32" fill="#D2D2FD"/>
<rect x="447.9" y="318.46" width="5.62" height="2.64" fill="#FA0C0C"/>
<rect x="447.9" y="326.36" width="5.62" height="1.32" fill="#1717F5"/>
<rect x="447.9" y="327.68" width="5.62" height="1.32" fill="#1010F5"/>
<rect x="447.9" y="332.95" width="5.62" height="1.32" fill="#1D1DF6"/>
<rect x="447.9" y="334.27" width="5.62" height="1.32" fill="#2323F6"/>
<rect x="447.9" y="335.59" width="5.62" height="1.32" fill="#1212F5"/>
<rect x="447.9" y="338.22" width="5.62" height="1.32" fill="#FC6E6E"/>
<rect x="447.9" y="339.54" width="5.62" height="1.32" fill="#FB6060"/>
<rect x="447.9" y="340.86" width="5.62" height="1.32" fill="#FC7272"/>
<rect x="447.9" y="342.17" width="5.62" height="1.32" fill="#FB6060"/>
<rect x="447.9" y="343.49" width="5.62" height="1.32" fill="#FD9F9F"/>
<rect x="447.9" y="344.81" width="5.62" height="1.32" fill="#C8C8FC"/>
<rect x="447.9" y="346.13" width="5.62" height="1.32" fill="#D9D9FD"/>
<rect x="447.9" y="347.44" width="5.62" height="1.32" fill="#8E8EFA"/>
<rect x="447.9" y="348.76" width="5.62" height="6.59" fill="#FA1919"/>
<rect x="447.9" y="357.99" width="5.62" height="1.32" fill="#2E2EF6"/>
<rect x="447.9" y="359.3" width="5.62" height="1.32" fill="#1B1BF6"/>
<rect x="447.9" y="360.62" width="5.62" height="1.32" fill="#2525F6"/>
<rect x="447.9" y="375.12" width="5.62" height="1.32" fill="#FC8A8A"/>
<rect x="447.9" y="376.43" width="5.62" height="1.32" fill="#FB5B5B"/>
<rect x="447.9" y="377.75" width="5.62" height="1.32" fill="#FC8686"/>
<rect x="447.9" y="379.07" width="5.62" height="1.32" fill="#FD9999"/>
<rect x="447.9" y="380.39" width="5.62" height="1.32" fill="#FDA2A2"/>
<rect x="447.9" y="381.7" width="5.62" height="1.32" fill="#FD9B9B"/>
<rect x="447.9" y="383.02" width="5.62" height="1.32" fill="#FC7676"/>
<rect x="447.9" y="384.34" width="5.62" height="1.32" fill="#FB5757"/>
<rect x="447.9" y="385.66" width="5.62" height="1.32" fill="#FB5353"/>
<rect x="447.9" y="386.97" width="5.62" height="1.32" fill="#FDA0A0"/>
<rect x="447.9" y="388.29" width="5.62" height="1.32" fill="#FC9797"/>
<rect x="447.9" y="389.61" width="5.62" height="2.64" fill="#2626F6"/>
<rect x="447.9" y="392.25" width="5.62" height="2.64" fill="#3838F7"/>
<rect x="447.9" y="394.88" width="5.62" height="2.64" fill="#1010F5"/>
<rect x="447.9" y="397.52" width="5.62" height="2.64" fill="#2727F6"/>
<rect x="447.9" y="400.15" width="5.62" height="1.32" fill="#2A2AF6"/>
<rect x="447.9" y="401.47" width="5.62" height="1.32" fill="#0808F5"/>
<rect x="447.9" y="402.79" width="5.62" height="2.64" fill="#5959F8"/>
<rect x="447.9" y="405.42" width="5.62" height="1.32" fill="#6161F8"/>
<rect x="447.9" y="406.74" width="5.62" height="1.32" fill="#0B0BF5"/>
<rect x="447.9" y="408.06" width="5.62" height="1.32" fill="#0808F5"/>
<rect x="447.9" y="409.38" width="5.62" height="1.32" fill="#2222F6"/>
<rect x="447.9" y="410.69" width="5.62" height="2.64" fill="#6565F8"/>
<rect x="447.9" y="413.33" width="5.62" height="2.64" fill="#5F5FF8"/>
<rect x="447.9" y="415.96" width="5.62" height="2.64" fill="#1D1DF6"/>
<rect x="447.9" y="418.6" width="5.62" height="2.64" fill="#3131F6"/>
<rect x="447.9" y="421.23" width="5.62" height="2.64" fill="#8181FA"/>
<rect x="447.9" y="426.5" width="5.62" height="2.64" fill="#7676F9"/>
<rect x="447.9" y="429.14" width="5.62" height="2.64" fill="#6A6AF9"/>
<rect x="447.9" y="431.78" width="5.62" height="2.64" fill="#A3A3FB"/>
<rect x="447.9" y="434.41" width="5.62" height="2.64" fill="#3232F6"/>
<rect x="447.9" y="437.05" width="5.62" height="1.32" fill="#7B7BF9"/>
<rect x="447.9" y="438.36" width="5.62" height="1.32" fill="#4343F7"/>
<rect x="447.9" y="439.68" width="5.62" height="2.64" fill="#9090FA"/>
<rect x="447.9" y="442.32" width="5.62" height="2.64" fill="#7E7EF9"/>
<rect x="447.9" y="444.95" width="5.62" height="2.64" fill="#4949F7"/>
<rect x="447.9" y="447.59" width="5.62" height="2.64" fill="#5050F8"/>
<rect x="447.9" y="450.22" width="5.62" height="2.64" fill="#7373F9"/>
<rect x="447.9" y="452.86" width="5.62" height="2.64" fill="#3535F7"/>
<rect x="447.9" y="455.49" width="5.62" height="2.64" fill="#5D5DF8"/>
<rect x="447.9" y="459.45" width="5.62" height="1.32" fill="#ADADFB"/>
<rect x="447.9" y="462.08" width="5.62" height="1.32" fill="#2121F6"/>
<rect x="447.9" y="463.4" width="5.62" height="2.64" fill="#1C1CF6"/>
<rect x="447.9" y="466.03" width="5.62" height="2.64" fill="#3535F7"/>
<rect x="447.9" y="468.67" width="5.62" height="2.64" fill="#2121F6"/>
<rect x="447.9" y="471.31" width="5.62" height="1.32" fill="#FEDDDD"/>
<rect x="447.9" y="472.62" width="5.62" height="1.32" fill="#FEF6F6"/>
<rect x="447.9" y="476.58" width="5.62" height="2.64" fill="#5E5EF8"/>
<rect x="447.9" y="479.21" width="5.62" height="2.64" fill="#3232F6"/>
<rect x="447.9" y="481.85" width="5.62" height="2.64" fill="#3939F7"/>
<rect x="447.9" y="484.48" width="5.62" height="1.32" fill="#FDA1A1"/>
<rect x="453.52" y="157.7" width="5.62" height="1.32" fill="#2323F6"/>
<rect x="453.52" y="162.97" width="5.62" height="1.32" fill="#1717F5"/>
<rect x="453.52" y="164.29" width="5.62" height="1.32" fill="#1F1FF6"/>
<rect x="453.52" y="166.92" width="5.62" height="1.32" fill="#2222F6"/>
<rect x="453.52" y="168.24" width="5.62" height="1.32" fill="#7C7CF9"/>
<rect x="453.52" y="170.88" width="5.62" height="1.32" fill="#3030F6"/>
<rect x="453.52" y="172.19" width="5.62" height="1.32" fill="#7474F9"/>
<rect x="453.52" y="173.51" width="5.62" height="1.32" fill="#1414F5"/>
<rect x="453.52" y="174.83" width="5.62" height="1.32" fill="#2A2AF6"/>
<rect x="453.52" y="180.1" width="5.62" height="1.32" fill="#0E0EF5"/>
<rect x="453.52" y="181.42" width="5.62" height="1.32" fill="#1B1BF6"/>
<rect x="453.52" y="182.74" width="5.62" height="1.32" fill="#3131F6"/>
<rect x="453.52" y="184.05" width="5.62" height="1.32" fill="#1515F5"/>
<rect x="453.52" y="186.69" width="5.62" height="2.64" fill="#EDEDFE"/>
<rect x="453.52" y="190.64" width="5.62" height="1.32" fill="#C1C1FC"/>
<rect x="453.52" y="197.23" width="5.62" height="1.32" fill="#2424F6"/>
<rect x="453.52" y="199.87" width="5.62" height="1.32" fill="#1818F5"/>
<rect x="453.52" y="203.82" width="5.62" height="1.32" fill="#9494FA"/>
<rect x="453.52" y="205.14" width="5.62" height="1.32" fill="#7575F9"/>
<rect x="453.52" y="206.45" width="5.62" height="1.32" fill="#7A7AF9"/>
<rect x="453.52" y="207.77" width="5.62" height="1.32" fill="#4C4CF7"/>
<rect x="453.52" y="209.09" width="5.62" height="1.32" fill="#4242F7"/>
<rect x="453.52" y="210.41" width="5.62" height="1.32" fill="#5A5AF8"/>
<rect x="453.52" y="211.72" width="5.62" height="7.91" fill="#FA0C0C"/>
<rect x="453.52" y="219.63" width="5.62" height="1.32" fill="#1C1CF6"/>
<rect x="453.52" y="220.95" width="5.62" height="1.32" fill="#3232F6"/>
<rect x="453.52" y="222.27" width="5.62" height="1.32" fill="#1B1BF6"/>
<rect x="453.52" y="223.58" width="5.62" height="1.32" fill="#1111F5"/>
<rect x="453.52" y="224.9" width="5.62" height="1.32" fill="#1E1EF6"/>
<rect x="453.52" y="227.54" width="5.62" height="1.32" fill="#C7C7FC"/>
<rect x="453.52" y="228.85" width="5.62" height="1.32" fill="#9090FA"/>
<rect x="453.52" y="230.17" width="5.62" height="1.32" fill="#8E8EFA"/>
<rect x="453.52" y="231.49" width="5.62" height="1.32" fill="#BBBBFC"/>
<rect x="453.52" y="232.81" width="5.62" height="1.32" fill="#D3D3FD"/>
<rect x="453.52" y="236.76" width="5.62" height="1.32" fill="#8D8DFA"/>
<rect x="453.52" y="238.08" width="5.62" height="1.32" fill="#1515F5"/>
<rect x="453.52" y="242.03" width="5.62" height="1.32" fill="#BCBCFC"/>
<rect x="453.52" y="243.35" width="5.62" height="1.32" fill="#A6A6FB"/>
<rect x="453.52" y="244.67" width="5.62" height="1.32" fill="#6F6FF9"/>
<rect x="453.52" y="245.98" width="5.62" height="1.32" fill="#9292FA"/>
<rect x="453.52" y="248.62" width="5.62" height="1.32" fill="#2828F6"/>
<rect x="453.52" y="251.25" width="5.62" height="1.32" fill="#C9C9FC"/>
<rect x="453.52" y="252.57" width="5.62" height="1.32" fill="#C1C1FC"/>
<rect x="453.52" y="253.89" width="5.62" height="1.32" fill="#CDCDFD"/>
<rect x="453.52" y="255.21" width="5.62" height="1.32" fill="#D1D1FD"/>
<rect x="453.52" y="256.53" width="5.62" height="1.32" fill="#8D8DFA"/>
<rect x="453.52" y="257.84" width="5.62" height="1.32" fill="#9F9FFB"/>
<rect x="453.52" y="259.16" width="5.62" height="1.32" fill="#9C9CFB"/>
<rect x="453.52" y="260.48" width="5.62" height="1.32" fill="#7777F9"/>
<rect x="453.52" y="261.8" width="5.62" height="1.32" fill="#A2A2FB"/>
<rect x="453.52" y="263.11" width="5.62" height="1.32" fill="#8686FA"/>
<rect x="453.52" y="264.43" width="5.62" height="14.49" fill="#4C4CF8"/>
<rect x="453.52" y="278.93" width="5.62" height="1.32" fill="#FECCCC"/>
<rect x="453.52" y="280.24" width="5.62" height="1.32" fill="#FEE9E9"/>
<rect x="453.52" y="281.56" width="5.62" height="1.32" fill="#FD9F9F"/>
<rect x="453.52" y="282.88" width="5.62" height="1.32" fill="#FED1D1"/>
<rect x="453.52" y="284.2" width="5.62" height="1.32" fill="#FDB4B4"/>
<rect x="453.52" y="285.51" width="5.62" height="1.32" fill="#FECDCD"/>
<rect x="453.52" y="286.83" width="5.62" height="1.32" fill="#FDB0B0"/>
<rect x="453.52" y="288.15" width="5.62" height="1.32" fill="#FECCCC"/>
<rect x="453.52" y="290.78" width="5.62" height="1.32" fill="#1F1FF6"/>
<rect x="453.52" y="292.1" width="5.62" height="1.32" fill="#6262F8"/>
<rect x="453.52" y="293.42" width="5.62" height="1.32" fill="#FDC4C4"/>
<rect x="453.52" y="294.74" width="5.62" height="1.32" fill="#FEDDDD"/>
<rect x="453.52" y="296.06" width="5.62" height="1.32" fill="#FDB8B8"/>
<rect x="453.52" y="297.37" width="5.62" height="1.32" fill="#FDAFAF"/>
<rect x="453.52" y="298.69" width="5.62" height="1.32" fill="#FC8686"/>
<rect x="453.52" y="300.01" width="5.62" height="1.32" fill="#FED3D3"/>
<rect x="453.52" y="301.33" width="5.62" height="1.32" fill="#FDC1C1"/>
<rect x="453.52" y="302.64" width="5.62" height="7.91" fill="#FA1919"/>
<rect x="453.52" y="310.55" width="5.62" height="1.32" fill="#6F6FF9"/>
<rect x="453.52" y="311.87" width="5.62" height="1.32" fill="#7676F9"/>
<rect x="453.52" y="313.19" width="5.62" height="1.32" fill="#FC9494"/>
<rect x="453.52" y="314.5" width="5.62" height="1.32" fill="#FC9191"/>
<rect x="453.52" y="315.82" width="5.62" height="1.32" fill="#FDB9B9"/>
<rect x="453.52" y="319.77" width="5.62" height="1.32" fill="#2929F6"/>
<rect x="453.52" y="321.09" width="5.62" height="1.32" fill="#FB5959"/>
<rect x="453.52" y="322.41" width="5.62" height="32.94" fill="#FA0707"/>
<rect x="453.52" y="355.35" width="5.62" height="3.95" fill="#3F3FF7"/>
<rect x="453.52" y="359.3" width="5.62" height="1.32" fill="#8686FA"/>
<rect x="453.52" y="360.62" width="5.62" height="1.32" fill="#ADADFB"/>
<rect x="453.52" y="361.94" width="5.62" height="22.4" fill="#3F3FF7"/>
<rect x="453.52" y="384.34" width="5.62" height="1.32" fill="#A0A0FB"/>
<rect x="453.52" y="385.66" width="5.62" height="1.32" fill="#DEDEFD"/>
<rect x="453.52" y="386.97" width="5.62" height="1.32" fill="#9F9FFB"/>
<rect x="453.52" y="388.29" width="5.62" height="1.32" fill="#BABAFC"/>
<rect x="453.52" y="392.25" width="5.62" height="2.64" fill="#4444F7"/>
<rect x="453.52" y="394.88" width="5.62" height="1.32" fill="#0A0AF5"/>
<rect x="453.52" y="396.2" width="5.62" height="1.32" fill="#8383FA"/>
<rect x="453.52" y="397.52" width="5.62" height="2.64" fill="#5858F8"/>
<rect x="453.52" y="400.15" width="5.62" height="1.32" fill="#6060F8"/>
<rect x="453.52" y="401.47" width="5.62" height="1.32" fill="#0F0FF5"/>
<rect x="453.52" y="405.42" width="5.62" height="1.32" fill="#6E6EF9"/>
<rect x="453.52" y="406.74" width="5.62" height="1.32" fill="#FC7070"/>
<rect x="453.52" y="408.06" width="5.62" height="1.32" fill="#FC7B7B"/>
<rect x="453.52" y="409.38" width="5.62" height="1.32" fill="#8383FA"/>
<rect x="453.52" y="410.69" width="5.62" height="2.64" fill="#2222F6"/>
<rect x="453.52" y="413.33" width="5.62" height="2.64" fill="#2F2FF6"/>
<rect x="453.52" y="415.96" width="5.62" height="2.64" fill="#9999FB"/>
<rect x="453.52" y="418.6" width="5.62" height="2.64" fill="#D3D3FD"/>
<rect x="453.52" y="421.23" width="5.62" height="2.64" fill="#5858F8"/>
<rect x="453.52" y="423.87" width="5.62" height="2.64" fill="#C0C0FC"/>
<rect x="453.52" y="426.5" width="5.62" height="2.64" fill="#6E6EF9"/>
<rect x="453.52" y="429.14" width="5.62" height="2.64" fill="#3434F7"/>
<rect x="453.52" y="431.78" width="5.62" height="2.64" fill="#9797FA"/>
<rect x="453.52" y="434.41" width="5.62" height="2.64" fill="#2D2DF6"/>
<rect x="453.52" y="437.05" width="5.62" height="2.64" fill="#A9A9FB"/>
<rect x="453.52" y="439.68" width="5.62" height="2.64" fill="#7E7EF9"/>
<rect x="453.52" y="442.32" width="5.62" height="2.64" fill="#4646F7"/>
<rect x="453.52" y="444.95" width="5.62" height="2.64" fill="#DADAFD"/>
<rect x="453.52" y="447.59" width="5.62" height="2.64" fill="#8787FA"/>
<rect x="453.52" y="450.22" width="5.62" height="1.32" fill="#9494FA"/>
<rect x="453.52" y="451.54" width="5.62" height="1.32" fill="#4848F7"/>
<rect x="453.52" y="452.86" width="5.62" height="2.64" fill="#EFEFFE"/>
<rect x="453.52" y="455.49" width="5.62" height="2.64" fill="#B2B2FC"/>
<rect x="453.52" y="458.13" width="5.62" height="2.64" fill="#7777F9"/>
<rect x="453.52" y="460.76" width="5.62" height="2.64" fill="#FEFCFC"/>
<rect x="453.52" y="463.4" width="5.62" height="1.32" fill="#D9D9FD"/>
<rect x="453.52" y="464.72" width="5.62" height="1.32" fill="#4747F7"/>
<rect x="453.52" y="466.03" width="5.62" height="1.32" fill="#2D2DF6"/>
<rect x="453.52" y="468.67" width="5.62" height="1.32" fill="#2626F6"/>
<rect x="453.52" y="471.31" width="5.62" height="3.95" fill="#FA2626"/>
<rect x="453.52" y="475.26" width="5.62" height="1.32" fill="#6666F9"/>
<rect x="453.52" y="476.58" width="5.62" height="2.64" fill="#C6C6FC"/>
<rect x="453.52" y="479.21" width="5.62" height="2.64" fill="#3E3EF7"/>
<rect x="453.52" y="481.85" width="5.62" height="2.64" fill="#5656F8"/>
<rect x="453.52" y="484.48" width="5.62" height="1.32" fill="#9B9BFB"/>
<rect x="459.15" y="164.29" width="5.62" height="1.32" fill="#3131F6"/>
<rect x="459.15" y="168.24" width="5.62" height="1.32" fill="#0C0CF5"/>
<rect x="459.15" y="173.51" width="5.62" height="1.32" fill="#4B4BF7"/>
<rect x="459.15" y="178.78" width="5.62" height="1.32" fill="#1B1BF6"/>
<rect x="459.15" y="180.1" width="5.62" height="1.32" fill="#2E2EF6"/>
<rect x="459.15" y="181.42" width="5.62" height="1.32" fill="#7676F9"/>
<rect x="459.15" y="194.59" width="5.62" height="1.32" fill="#1F1FF6"/>
<rect x="459.15" y="195.91" width="5.62" height="1.32" fill="#2525F6"/>
<rect x="459.15" y="198.55" width="5.62" height="1.32" fill="#1F1FF6"/>
<rect x="459.15" y="203.82" width="5.62" height="1.32" fill="#3131F6"/>
<rect x="459.15" y="205.14" width="5.62" height="1.32" fill="#F7F7FE"/>
<rect x="459.15" y="206.45" width="5.62" height="1.32" fill="#FDAAAA"/>
<rect x="459.15" y="207.77" width="5.62" height="1.32" fill="#FC6E6E"/>
<rect x="459.15" y="209.09" width="5.62" height="1.32" fill="#FB5454"/>
<rect x="459.15" y="210.41" width="5.62" height="1.32" fill="#7171F9"/>
<rect x="459.15" y="211.72" width="5.62" height="1.32" fill="#8484FA"/>
<rect x="459.15" y="213.04" width="5.62" height="1.32" fill="#7171F9"/>
<rect x="459.15" y="214.36" width="5.62" height="1.32" fill="#8989FA"/>
<rect x="459.15" y="215.68" width="5.62" height="1.32" fill="#5E5EF8"/>
<rect x="459.15" y="217" width="5.62" height="1.32" fill="#7979F9"/>
<rect x="459.15" y="220.95" width="5.62" height="1.32" fill="#2626F6"/>
<rect x="459.15" y="222.27" width="5.62" height="1.32" fill="#1414F5"/>
<rect x="459.15" y="224.9" width="5.62" height="1.32" fill="#2F2FF6"/>
<rect x="459.15" y="226.22" width="5.62" height="1.32" fill="#2727F6"/>
<rect x="459.15" y="227.54" width="5.62" height="1.32" fill="#4646F7"/>
<rect x="459.15" y="230.17" width="5.62" height="1.32" fill="#FEFAFA"/>
<rect x="459.15" y="236.76" width="5.62" height="1.32" fill="#8383FA"/>
<rect x="459.15" y="243.35" width="5.62" height="1.32" fill="#C2C2FC"/>
<rect x="459.15" y="244.67" width="5.62" height="1.32" fill="#7575F9"/>
<rect x="459.15" y="245.98" width="5.62" height="1.32" fill="#8787FA"/>
<rect x="459.15" y="247.3" width="5.62" height="1.32" fill="#8D8DFA"/>
<rect x="459.15" y="248.62" width="5.62" height="1.32" fill="#A5A5FB"/>
<rect x="459.15" y="249.94" width="5.62" height="1.32" fill="#A4A4FB"/>
<rect x="459.15" y="251.25" width="5.62" height="1.32" fill="#9A9AFB"/>
<rect x="459.15" y="252.57" width="5.62" height="1.32" fill="#7373F9"/>
<rect x="459.15" y="253.89" width="5.62" height="1.32" fill="#6D6DF9"/>
<rect x="459.15" y="255.21" width="5.62" height="1.32" fill="#A8A8FB"/>
<rect x="459.15" y="256.53" width="5.62" height="1.32" fill="#8989FA"/>
<rect x="459.15" y="257.84" width="5.62" height="1.32" fill="#B9B9FC"/>
<rect x="459.15" y="259.16" width="5.62" height="1.32" fill="#7474F9"/>
<rect x="459.15" y="260.48" width="5.62" height="1.32" fill="#A3A3FB"/>
<rect x="459.15" y="265.75" width="5.62" height="1.32" fill="#1D1DF6"/>
<rect x="459.15" y="267.07" width="5.62" height="1.32" fill="#1111F5"/>
<rect x="459.15" y="272.34" width="5.62" height="1.32" fill="#7272F9"/>
<rect x="459.15" y="273.66" width="5.62" height="1.32" fill="#5555F8"/>
<rect x="459.15" y="274.97" width="5.62" height="1.32" fill="#7C7CF9"/>
<rect x="459.15" y="276.29" width="5.62" height="1.32" fill="#6161F8"/>
<rect x="459.15" y="277.61" width="5.62" height="1.32" fill="#3030F6"/>
<rect x="459.15" y="278.93" width="5.62" height="1.32" fill="#CCCCFD"/>
<rect x="459.15" y="280.24" width="5.62" height="1.32" fill="#B3B3FC"/>
<rect x="459.15" y="281.56" width="5.62" height="1.32" fill="#9393FA"/>
<rect x="459.15" y="284.2" width="5.62" height="1.32" fill="#2020F6"/>
<rect x="459.15" y="288.15" width="5.62" height="1.32" fill="#FEEFEF"/>
<rect x="459.15" y="289.47" width="5.62" height="1.32" fill="#FDB5B5"/>
<rect x="459.15" y="290.78" width="5.62" height="1.32" fill="#FEECEC"/>
<rect x="459.15" y="292.1" width="5.62" height="1.32" fill="#F9F9FE"/>
<rect x="459.15" y="293.42" width="5.62" height="1.32" fill="#FEFAFA"/>
<rect x="459.15" y="294.74" width="5.62" height="10.54" fill="#4C4CF8"/>
<rect x="459.15" y="305.28" width="5.62" height="1.32" fill="#FA1919"/>
<rect x="459.15" y="306.6" width="5.62" height="1.32" fill="#FB5252"/>
<rect x="459.15" y="307.91" width="5.62" height="1.32" fill="#FB4C4C"/>
<rect x="459.15" y="309.23" width="5.62" height="1.32" fill="#FC9898"/>
<rect x="459.15" y="310.55" width="5.62" height="1.32" fill="#FC6767"/>
<rect x="459.15" y="311.87" width="5.62" height="1.32" fill="#FC6868"/>
<rect x="459.15" y="313.19" width="5.62" height="1.32" fill="#FB6161"/>
<rect x="459.15" y="314.5" width="5.62" height="1.32" fill="#FB4A4A"/>
<rect x="459.15" y="315.82" width="5.62" height="1.32" fill="#FC7A7A"/>
<rect x="459.15" y="317.14" width="5.62" height="6.59" fill="#4C4CF8"/>
<rect x="459.15" y="323.73" width="5.62" height="1.32" fill="#B0B0FB"/>
<rect x="459.15" y="325.04" width="5.62" height="1.32" fill="#A6A6FB"/>
<rect x="459.15" y="326.36" width="5.62" height="3.95" fill="#4C4CF8"/>
<rect x="459.15" y="330.31" width="5.62" height="1.32" fill="#FEFEFE"/>
<rect x="459.15" y="331.63" width="5.62" height="1.32" fill="#FEE0E0"/>
<rect x="459.15" y="332.95" width="5.62" height="1.32" fill="#FDC3C3"/>
<rect x="459.15" y="334.27" width="5.62" height="1.32" fill="#FDB3B3"/>
<rect x="459.15" y="335.59" width="5.62" height="1.32" fill="#FAFAFE"/>
<rect x="459.15" y="336.9" width="5.62" height="1.32" fill="#FEF5F5"/>
<rect x="459.15" y="338.22" width="5.62" height="1.32" fill="#FDC1C1"/>
<rect x="459.15" y="339.54" width="5.62" height="1.32" fill="#FDA9A9"/>
<rect x="459.15" y="340.86" width="5.62" height="1.32" fill="#4D4DF8"/>
<rect x="459.15" y="342.17" width="5.62" height="2.64" fill="#4141F7"/>
<rect x="459.15" y="344.81" width="5.62" height="1.32" fill="#8181FA"/>
<rect x="459.15" y="346.13" width="5.62" height="1.32" fill="#7171F9"/>
<rect x="459.15" y="347.44" width="5.62" height="1.32" fill="#3E3EF7"/>
<rect x="459.15" y="348.76" width="5.62" height="1.32" fill="#6969F9"/>
<rect x="459.15" y="350.08" width="5.62" height="1.32" fill="#6565F8"/>
<rect x="459.15" y="351.4" width="5.62" height="1.32" fill="#7D7DF9"/>
<rect x="459.15" y="352.72" width="5.62" height="1.32" fill="#6464F8"/>
<rect x="459.15" y="354.03" width="5.62" height="1.32" fill="#6C6CF9"/>
<rect x="459.15" y="355.35" width="5.62" height="5.27" fill="#FA0707"/>
<rect x="459.15" y="360.62" width="5.62" height="1.32" fill="#FB5959"/>
<rect x="459.15" y="361.94" width="5.62" height="3.95" fill="#FA0707"/>
<rect x="459.15" y="365.89" width="5.62" height="1.32" fill="#FB5959"/>
<rect x="459.15" y="367.21" width="5.62" height="2.64" fill="#FA0707"/>
<rect x="459.15" y="369.84" width="5.62" height="1.32" fill="#FB5959"/>
<rect x="459.15" y="371.16" width="5.62" height="10.54" fill="#FA0707"/>
<rect x="459.15" y="381.7" width="5.62" height="1.32" fill="#FB5959"/>
<rect x="459.15" y="383.02" width="5.62" height="3.95" fill="#FA0707"/>
<rect x="459.15" y="386.97" width="5.62" height="1.32" fill="#FB5959"/>
<rect x="459.15" y="388.29" width="5.62" height="1.32" fill="#FA0707"/>
<rect x="459.15" y="389.61" width="5.62" height="2.64" fill="#4B4BF7"/>
<rect x="459.15" y="396.2" width="5.62" height="1.32" fill="#7B7BF9"/>
<rect x="459.15" y="400.15" width="5.62" height="2.64" fill="#0808F5"/>
<rect x="459.15" y="402.79" width="5.62" height="2.64" fill="#1919F6"/>
<rect x="459.15" y="405.42" width="5.62" height="1.32" fill="#7878F9"/>
<rect x="459.15" y="406.74" width="5.62" height="1.32" fill="#3E3EF7"/>
<rect x="459.15" y="408.06" width="5.62" height="2.64" fill="#2929F6"/>
<rect x="459.15" y="410.69" width="5.62" height="2.64" fill="#9C9CFB"/>
<rect x="459.15" y="413.33" width="5.62" height="2.64" fill="#5C5CF8"/>
<rect x="459.15" y="415.96" width="5.62" height="2.64" fill="#2F2FF6"/>
<rect x="459.15" y="418.6" width="5.62" height="2.64" fill="#9D9DFB"/>
<rect x="459.15" y="421.23" width="5.62" height="1.32" fill="#7E7EF9"/>
<rect x="459.15" y="422.55" width="5.62" height="1.32" fill="#D7D7FD"/>
<rect x="459.15" y="423.87" width="5.62" height="2.64" fill="#6C6CF9"/>
<rect x="459.15" y="426.5" width="5.62" height="2.64" fill="#A0A0FB"/>
<rect x="459.15" y="429.14" width="5.62" height="2.64" fill="#FDC0C0"/>
<rect x="459.15" y="431.78" width="5.62" height="2.64" fill="#6969F9"/>
<rect x="459.15" y="434.41" width="5.62" height="2.64" fill="#F5F5FE"/>
<rect x="459.15" y="437.05" width="5.62" height="2.64" fill="#FA3030"/>
<rect x="459.15" y="439.68" width="5.62" height="2.64" fill="#FDB7B7"/>
<rect x="459.15" y="442.32" width="5.62" height="2.64" fill="#FDC9C9"/>
<rect x="459.15" y="444.95" width="5.62" height="2.64" fill="#FB5E5E"/>
<rect x="459.15" y="447.59" width="5.62" height="2.64" fill="#FA1212"/>
<rect x="459.15" y="450.22" width="5.62" height="1.32" fill="#FB3D3D"/>
<rect x="459.15" y="451.54" width="5.62" height="1.32" fill="#FDA3A3"/>
<rect x="459.15" y="452.86" width="5.62" height="2.64" fill="#EDEDFE"/>
<rect x="459.15" y="455.49" width="5.62" height="2.64" fill="#FD9E9E"/>
<rect x="459.15" y="458.13" width="5.62" height="2.64" fill="#FED3D3"/>
<rect x="459.15" y="460.76" width="5.62" height="2.64" fill="#FDB4B4"/>
<rect x="459.15" y="463.4" width="5.62" height="1.32" fill="#E3E3FD"/>
<rect x="459.15" y="464.72" width="5.62" height="1.32" fill="#7D7DF9"/>
<rect x="459.15" y="466.03" width="5.62" height="2.64" fill="#FDFDFE"/>
<rect x="459.15" y="468.67" width="5.62" height="2.64" fill="#CFCFFD"/>
<rect x="459.15" y="471.31" width="5.62" height="1.32" fill="#FEF4F4"/>
<rect x="459.15" y="472.62" width="5.62" height="1.32" fill="#7070F9"/>
<rect x="459.15" y="473.94" width="5.62" height="2.64" fill="#1010F5"/>
<rect x="459.15" y="476.58" width="5.62" height="2.64" fill="#7373F9"/>
<rect x="459.15" y="479.21" width="5.62" height="2.64" fill="#6666F9"/>
<rect x="459.15" y="484.48" width="5.62" height="1.32" fill="#4B4BF7"/>
<rect x="464.77" y="157.7" width="5.62" height="14.49" fill="#FA0505"/>
<rect x="464.77" y="172.19" width="5.62" height="1.32" fill="#FB5959"/>
<rect x="464.77" y="173.51" width="5.62" height="55.34" fill="#FA0505"/>
<rect x="464.77" y="228.85" width="5.62" height="1.32" fill="#FB5959"/>
<rect x="464.77" y="230.17" width="5.62" height="1.32" fill="#FA0505"/>
<rect x="464.77" y="231.49" width="5.62" height="1.32" fill="#FB5454"/>
<rect x="464.77" y="232.81" width="5.62" height="1.32" fill="#FB4646"/>
<rect x="464.77" y="234.12" width="5.62" height="1.32" fill="#FEDEDE"/>
<rect x="464.77" y="235.44" width="5.62" height="1.32" fill="#FEDADA"/>
<rect x="464.77" y="236.76" width="5.62" height="1.32" fill="#FEE0E0"/>
<rect x="464.77" y="238.08" width="5.62" height="1.32" fill="#FEEEEE"/>
<rect x="464.77" y="239.4" width="5.62" height="1.32" fill="#E2E2FD"/>
<rect x="464.77" y="240.71" width="5.62" height="1.32" fill="#E5E5FE"/>
<rect x="464.77" y="242.03" width="5.62" height="1.32" fill="#E2E2FD"/>
<rect x="464.77" y="243.35" width="5.62" height="1.32" fill="#FEDEDE"/>
<rect x="464.77" y="244.67" width="5.62" height="1.32" fill="#FEFDFD"/>
<rect x="464.77" y="245.98" width="5.62" height="1.32" fill="#FEE9E9"/>
<rect x="464.77" y="247.3" width="5.62" height="1.32" fill="#E2E2FD"/>
<rect x="464.77" y="248.62" width="5.62" height="1.32" fill="#FEF1F1"/>
<rect x="464.77" y="249.94" width="5.62" height="1.32" fill="#F6F6FE"/>
<rect x="464.77" y="251.25" width="5.62" height="1.32" fill="#EAEAFE"/>
<rect x="464.77" y="252.57" width="5.62" height="1.32" fill="#E9E9FE"/>
<rect x="464.77" y="253.89" width="5.62" height="1.32" fill="#FEDDDD"/>
<rect x="464.77" y="255.21" width="5.62" height="1.32" fill="#FED4D4"/>
<rect x="464.77" y="256.53" width="5.62" height="1.32" fill="#FEE7E7"/>
<rect x="464.77" y="257.84" width="5.62" height="1.32" fill="#FEF0F0"/>
<rect x="464.77" y="259.16" width="5.62" height="1.32" fill="#E0E0FD"/>
<rect x="464.77" y="260.48" width="5.62" height="1.32" fill="#BCBCFC"/>
<rect x="464.77" y="261.8" width="5.62" height="1.32" fill="#7474F9"/>
<rect x="464.77" y="263.11" width="5.62" height="1.32" fill="#8585FA"/>
<rect x="464.77" y="267.07" width="5.62" height="1.32" fill="#2929F6"/>
<rect x="464.77" y="269.7" width="5.62" height="1.32" fill="#1313F5"/>
<rect x="464.77" y="272.34" width="5.62" height="1.32" fill="#2626F6"/>
<rect x="464.77" y="273.66" width="5.62" height="1.32" fill="#1D1DF6"/>
<rect x="464.77" y="274.97" width="5.62" height="1.32" fill="#2F2FF6"/>
<rect x="464.77" y="277.61" width="5.62" height="1.32" fill="#1919F5"/>
<rect x="464.77" y="281.56" width="5.62" height="1.32" fill="#8F8FFA"/>
<rect x="464.77" y="284.2" width="5.62" height="1.32" fill="#FEEDED"/>
<rect x="464.77" y="285.51" width="5.62" height="1.32" fill="#FEE5E5"/>
<rect x="464.77" y="286.83" width="5.62" height="1.32" fill="#FED4D4"/>
<rect x="464.77" y="289.47" width="5.62" height="1.32" fill="#FDA6A6"/>
<rect x="464.77" y="293.42" width="5.62" height="11.86" fill="#FA0C0C"/>
<rect x="464.77" y="305.28" width="5.62" height="1.32" fill="#FDB4B4"/>
<rect x="464.77" y="306.6" width="5.62" height="1.32" fill="#7070F9"/>
<rect x="464.77" y="307.91" width="5.62" height="1.32" fill="#6262F8"/>
<rect x="464.77" y="314.5" width="5.62" height="1.32" fill="#2E2EF6"/>
<rect x="464.77" y="315.82" width="5.62" height="1.32" fill="#1F1FF6"/>
<rect x="464.77" y="322.41" width="5.62" height="1.32" fill="#2020F6"/>
<rect x="464.77" y="323.73" width="5.62" height="1.32" fill="#AEAEFB"/>
<rect x="464.77" y="332.95" width="5.62" height="1.32" fill="#8C8CFA"/>
<rect x="464.77" y="335.59" width="5.62" height="1.32" fill="#DBDBFD"/>
<rect x="464.77" y="336.9" width="5.62" height="1.32" fill="#FEF6F6"/>
<rect x="464.77" y="342.17" width="5.62" height="1.32" fill="#2626F6"/>
<rect x="464.77" y="344.81" width="5.62" height="1.32" fill="#2E2EF6"/>
<rect x="464.77" y="347.44" width="5.62" height="1.32" fill="#1C1CF6"/>
<rect x="464.77" y="348.76" width="5.62" height="1.32" fill="#2323F6"/>
<rect x="464.77" y="351.4" width="5.62" height="1.32" fill="#2E2EF6"/>
<rect x="464.77" y="354.03" width="5.62" height="1.32" fill="#5858F8"/>
<rect x="464.77" y="355.35" width="5.62" height="1.32" fill="#FDA8A8"/>
<rect x="464.77" y="356.67" width="5.62" height="1.32" fill="#1414F5"/>
<rect x="464.77" y="359.3" width="5.62" height="1.32" fill="#5959F8"/>
<rect x="464.77" y="364.57" width="5.62" height="1.32" fill="#1D1DF6"/>
<rect x="464.77" y="365.89" width="5.62" height="1.32" fill="#1313F5"/>
<rect x="464.77" y="367.21" width="5.62" height="1.32" fill="#1919F6"/>
<rect x="464.77" y="371.16" width="5.62" height="1.32" fill="#1D1DF6"/>
<rect x="464.77" y="380.39" width="5.62" height="1.32" fill="#1919F5"/>
<rect x="464.77" y="383.02" width="5.62" height="1.32" fill="#FDCACA"/>
<rect x="464.77" y="384.34" width="5.62" height="1.32" fill="#FDB9B9"/>
<rect x="464.77" y="385.66" width="5.62" height="1.32" fill="#2626F6"/>
<rect x="464.77" y="386.97" width="5.62" height="1.32" fill="#2222F6"/>
<rect x="464.77" y="388.29" width="5.62" height="1.32" fill="#5757F8"/>
<rect x="464.77" y="390.93" width="5.62" height="1.32" fill="#1C1CF6"/>
<rect x="464.77" y="392.25" width="5.62" height="2.64" fill="#1919F6"/>
<rect x="464.77" y="394.88" width="5.62" height="1.32" fill="#2626F6"/>
<rect x="464.77" y="396.2" width="5.62" height="1.32" fill="#7575F9"/>
<rect x="464.77" y="397.52" width="5.62" height="2.64" fill="#1010F5"/>
<rect x="464.77" y="400.15" width="5.62" height="2.64" fill="#0F0FF5"/>
<rect x="464.77" y="402.79" width="5.62" height="1.32" fill="#2525F6"/>
<rect x="464.77" y="404.1" width="5.62" height="1.32" fill="#7676F9"/>
<rect x="464.77" y="405.42" width="5.62" height="1.32" fill="#7575F9"/>
<rect x="464.77" y="406.74" width="5.62" height="1.32" fill="#2E2EF6"/>
<rect x="464.77" y="409.38" width="5.62" height="1.32" fill="#2525F6"/>
<rect x="464.77" y="410.69" width="5.62" height="2.64" fill="#0808F5"/>
<rect x="464.77" y="413.33" width="5.62" height="2.64" fill="#3232F6"/>
<rect x="464.77" y="415.96" width="5.62" height="2.64" fill="#1212F5"/>
<rect x="464.77" y="418.6" width="5.62" height="2.64" fill="#1717F5"/>
<rect x="464.77" y="421.23" width="5.62" height="1.32" fill="#0A0AF5"/>
<rect x="464.77" y="422.55" width="5.62" height="1.32" fill="#7070F9"/>
<rect x="464.77" y="423.87" width="5.62" height="2.64" fill="#B8B8FC"/>
<rect x="464.77" y="426.5" width="5.62" height="2.64" fill="#DEDEFD"/>
<rect x="464.77" y="429.14" width="5.62" height="1.32" fill="#4E4EF8"/>
<rect x="464.77" y="430.46" width="5.62" height="1.32" fill="#4F4FF8"/>
<rect x="464.77" y="431.78" width="5.62" height="2.64" fill="#2525F6"/>
<rect x="464.77" y="434.41" width="5.62" height="1.32" fill="#3535F7"/>
<rect x="464.77" y="435.73" width="5.62" height="1.32" fill="#5D5DF8"/>
<rect x="464.77" y="437.05" width="5.62" height="2.64" fill="#C7C7FC"/>
<rect x="464.77" y="439.68" width="5.62" height="2.64" fill="#7272F9"/>
<rect x="464.77" y="442.32" width="5.62" height="2.64" fill="#9292FA"/>
<rect x="464.77" y="444.95" width="5.62" height="2.64" fill="#FDA7A7"/>
<rect x="464.77" y="447.59" width="5.62" height="2.64" fill="#7676F9"/>
<rect x="464.77" y="450.22" width="5.62" height="1.32" fill="#D9D9FD"/>
<rect x="464.77" y="451.54" width="5.62" height="1.32" fill="#FB3E3E"/>
<rect x="464.77" y="452.86" width="5.62" height="2.64" fill="#FA0707"/>
<rect x="464.77" y="455.49" width="5.62" height="2.64" fill="#FB4141"/>
<rect x="464.77" y="458.13" width="5.62" height="2.64" fill="#FA2D2D"/>
<rect x="464.77" y="460.76" width="5.62" height="2.64" fill="#FA0707"/>
<rect x="464.77" y="463.4" width="5.62" height="2.64" fill="#FB5D5D"/>
<rect x="464.77" y="466.03" width="5.62" height="2.64" fill="#FB3737"/>
<rect x="464.77" y="468.67" width="5.62" height="2.64" fill="#FB6161"/>
<rect x="464.77" y="471.31" width="5.62" height="1.32" fill="#FC7676"/>
<rect x="464.77" y="472.62" width="5.62" height="1.32" fill="#2222F6"/>
<rect x="464.77" y="473.94" width="5.62" height="2.64" fill="#3D3DF7"/>
<rect x="464.77" y="476.58" width="5.62" height="2.64" fill="#C5C5FC"/>
<rect x="464.77" y="479.21" width="5.62" height="2.64" fill="#5151F8"/>
<rect x="464.77" y="481.85" width="5.62" height="2.64" fill="#5252F8"/>
<rect x="464.77" y="484.48" width="5.62" height="1.32" fill="#1C1CF6"/>
<rect x="470.4" y="165.61" width="5.62" height="1.32" fill="#9595FA"/>
<rect x="470.4" y="169.56" width="5.62" height="1.32" fill="#1C1CF6"/>
<rect x="470.4" y="173.51" width="5.62" height="1.32" fill="#2E2EF6"/>
<rect x="470.4" y="177.47" width="5.62" height="1.32" fill="#2121F6"/>
<rect x="470.4" y="178.78" width="5.62" height="1.32" fill="#C1C1FC"/>
<rect x="470.4" y="181.42" width="5.62" height="1.32" fill="#4A4AF7"/>
<rect x="470.4" y="185.37" width="5.62" height="1.32" fill="#FEEFEF"/>
<rect x="470.4" y="186.69" width="5.62" height="1.32" fill="#2C2CF6"/>
<rect x="470.4" y="194.59" width="5.62" height="1.32" fill="#B8B8FC"/>
<rect x="470.4" y="198.55" width="5.62" height="1.32" fill="#9292FA"/>
<rect x="470.4" y="201.18" width="5.62" height="1.32" fill="#7878F9"/>
<rect x="470.4" y="207.77" width="5.62" height="1.32" fill="#2828F6"/>
<rect x="470.4" y="218.31" width="5.62" height="1.32" fill="#FA1919"/>
<rect x="470.4" y="223.58" width="5.62" height="1.32" fill="#1919F6"/>
<rect x="470.4" y="232.81" width="5.62" height="1.32" fill="#2626F6"/>
<rect x="470.4" y="244.67" width="5.62" height="1.32" fill="#7474F9"/>
<rect x="470.4" y="249.94" width="5.62" height="1.32" fill="#1616F5"/>
<rect x="470.4" y="255.21" width="5.62" height="1.32" fill="#6565F8"/>
<rect x="470.4" y="261.8" width="5.62" height="1.32" fill="#6C6CF9"/>
<rect x="470.4" y="263.11" width="5.62" height="1.32" fill="#7373F9"/>
<rect x="470.4" y="264.43" width="5.62" height="1.32" fill="#B4B4FC"/>
<rect x="470.4" y="271.02" width="5.62" height="1.32" fill="#3232F6"/>
<rect x="470.4" y="277.61" width="5.62" height="1.32" fill="#7373F9"/>
<rect x="470.4" y="278.93" width="5.62" height="1.32" fill="#2C2CF6"/>
<rect x="470.4" y="284.2" width="5.62" height="1.32" fill="#3232F6"/>
<rect x="470.4" y="286.83" width="5.62" height="1.32" fill="#2727F6"/>
<rect x="470.4" y="289.47" width="5.62" height="1.32" fill="#FC6666"/>
<rect x="470.4" y="293.42" width="5.62" height="1.32" fill="#1313F5"/>
<rect x="470.4" y="298.69" width="5.62" height="1.32" fill="#1E1EF6"/>
<rect x="470.4" y="305.28" width="5.62" height="1.32" fill="#C4C4FC"/>
<rect x="470.4" y="306.6" width="5.62" height="1.32" fill="#B6B6FC"/>
<rect x="470.4" y="307.91" width="5.62" height="1.32" fill="#DADAFD"/>
<rect x="470.4" y="309.23" width="5.62" height="1.32" fill="#A3A3FB"/>
<rect x="470.4" y="310.55" width="5.62" height="6.59" fill="#4C4CF8"/>
<rect x="470.4" y="317.14" width="5.62" height="1.32" fill="#FA1919"/>
<rect x="470.4" y="318.46" width="5.62" height="1.32" fill="#FEF4F4"/>
<rect x="470.4" y="319.77" width="5.62" height="1.32" fill="#F7F7FE"/>
<rect x="470.4" y="323.73" width="5.62" height="1.32" fill="#B9B9FC"/>
<rect x="470.4" y="331.63" width="5.62" height="1.32" fill="#1717F5"/>
<rect x="470.4" y="332.95" width="5.62" height="1.32" fill="#2F2FF6"/>
<rect x="470.4" y="335.59" width="5.62" height="1.32" fill="#A3A3FB"/>
<rect x="470.4" y="336.9" width="5.62" height="1.32" fill="#1212F5"/>
<rect x="470.4" y="340.86" width="5.62" height="1.32" fill="#2828F6"/>
<rect x="470.4" y="343.49" width="5.62" height="1.32" fill="#1717F5"/>
<rect x="470.4" y="346.13" width="5.62" height="1.32" fill="#3232F6"/>
<rect x="470.4" y="348.76" width="5.62" height="1.32" fill="#1D1DF6"/>
<rect x="470.4" y="351.4" width="5.62" height="1.32" fill="#2B2BF6"/>
<rect x="470.4" y="354.03" width="5.62" height="1.32" fill="#6464F8"/>
<rect x="470.4" y="355.35" width="5.62" height="1.32" fill="#1111F5"/>
<rect x="470.4" y="361.94" width="5.62" height="1.32" fill="#3131F6"/>
<rect x="470.4" y="365.89" width="5.62" height="1.32" fill="#2C2CF6"/>
<rect x="470.4" y="367.21" width="5.62" height="1.32" fill="#1010F5"/>
<rect x="470.4" y="376.43" width="5.62" height="1.32" fill="#1717F5"/>
<rect x="470.4" y="377.75" width="5.62" height="1.32" fill="#3131F6"/>
<rect x="470.4" y="379.07" width="5.62" height="1.32" fill="#1A1AF6"/>
<rect x="470.4" y="383.02" width="5.62" height="1.32" fill="#2E2EF6"/>
<rect x="470.4" y="384.34" width="5.62" height="1.32" fill="#1F1FF6"/>
<rect x="470.4" y="385.66" width="5.62" height="1.32" fill="#1212F5"/>
<rect x="470.4" y="388.29" width="5.62" height="1.32" fill="#5252F8"/>
<rect x="470.4" y="389.61" width="5.62" height="2.64" fill="#4C4CF8"/>
<rect x="470.4" y="392.25" width="5.62" height="2.64" fill="#6B6BF9"/>
<rect x="470.4" y="394.88" width="5.62" height="2.64" fill="#8D8DFA"/>
<rect x="470.4" y="397.52" width="5.62" height="2.64" fill="#6767F9"/>
<rect x="470.4" y="400.15" width="5.62" height="2.64" fill="#7B7BF9"/>
<rect x="470.4" y="404.1" width="5.62" height="1.32" fill="#6464F8"/>
<rect x="470.4" y="405.42" width="5.62" height="2.64" fill="#FDA9A9"/>
<rect x="470.4" y="408.06" width="5.62" height="1.32" fill="#FEE5E5"/>
<rect x="470.4" y="409.38" width="5.62" height="1.32" fill="#7F7FF9"/>
<rect x="470.4" y="410.69" width="5.62" height="2.64" fill="#9595FA"/>
<rect x="470.4" y="413.33" width="5.62" height="2.64" fill="#E5E5FD"/>
<rect x="470.4" y="415.96" width="5.62" height="2.64" fill="#A3A3FB"/>
<rect x="470.4" y="418.6" width="5.62" height="2.64" fill="#6B6BF9"/>
<rect x="470.4" y="421.23" width="5.62" height="1.32" fill="#7474F9"/>
<rect x="470.4" y="422.55" width="5.62" height="1.32" fill="#C0C0FC"/>
<rect x="470.4" y="423.87" width="5.62" height="2.64" fill="#FEE3E3"/>
<rect x="470.4" y="426.5" width="5.62" height="2.64" fill="#B2B2FC"/>
<rect x="470.4" y="429.14" width="5.62" height="1.32" fill="#5959F8"/>
<rect x="470.4" y="430.46" width="5.62" height="1.32" fill="#4444F7"/>
<rect x="470.4" y="431.78" width="5.62" height="2.64" fill="#8181FA"/>
<rect x="470.4" y="434.41" width="5.62" height="1.32" fill="#6262F8"/>
<rect x="470.4" y="435.73" width="5.62" height="1.32" fill="#6F6FF9"/>
<rect x="470.4" y="437.05" width="5.62" height="2.64" fill="#FA2626"/>
<rect x="470.4" y="439.68" width="5.62" height="2.64" fill="#FC7878"/>
<rect x="470.4" y="442.32" width="5.62" height="2.64" fill="#FC8989"/>
<rect x="470.4" y="444.95" width="5.62" height="2.64" fill="#FEEBEB"/>
<rect x="470.4" y="447.59" width="5.62" height="2.64" fill="#FB5E5E"/>
<rect x="470.4" y="450.22" width="5.62" height="1.32" fill="#FC8181"/>
<rect x="470.4" y="451.54" width="5.62" height="1.32" fill="#FEE7E7"/>
<rect x="470.4" y="452.86" width="5.62" height="2.64" fill="#FDAAAA"/>
<rect x="470.4" y="455.49" width="5.62" height="2.64" fill="#AAAAFB"/>
<rect x="470.4" y="458.13" width="5.62" height="2.64" fill="#9F9FFB"/>
<rect x="470.4" y="460.76" width="5.62" height="2.64" fill="#FC6969"/>
<rect x="470.4" y="463.4" width="5.62" height="1.32" fill="#B5B5FC"/>
<rect x="470.4" y="466.03" width="5.62" height="2.64" fill="#6969F9"/>
<rect x="470.4" y="468.67" width="5.62" height="2.64" fill="#5C5CF8"/>
<rect x="470.4" y="471.31" width="5.62" height="1.32" fill="#3F3FF7"/>
<rect x="470.4" y="472.62" width="5.62" height="1.32" fill="#F2F2FE"/>
<rect x="470.4" y="473.94" width="5.62" height="2.64" fill="#FC8989"/>
<rect x="470.4" y="476.58" width="5.62" height="2.64" fill="#9C9CFB"/>
<rect x="470.4" y="479.21" width="5.62" height="2.64" fill="#BFBFFC"/>
<rect x="470.4" y="481.85" width="5.62" height="2.64" fill="#E2E2FD"/>
<rect x="470.4" y="484.48" width="5.62" height="1.32" fill="#FDBFBF"/>
<rect x="476.02" y="165.61" width="5.62" height="1.32" fill="#5252F8"/>
<rect x="476.02" y="170.88" width="5.62" height="1.32" fill="#1010F5"/>
<rect x="476.02" y="174.83" width="5.62" height="1.32" fill="#7777F9"/>
<rect x="476.02" y="176.15" width="5.62" height="1.32" fill="#2525F6"/>
<rect x="476.02" y="177.47" width="5.62" height="1.32" fill="#8A8AFA"/>
<rect x="476.02" y="178.78" width="5.62" height="1.32" fill="#C7C7FC"/>
<rect x="476.02" y="180.1" width="5.62" height="1.32" fill="#8B8BFA"/>
<rect x="476.02" y="181.42" width="5.62" height="1.32" fill="#7979F9"/>
<rect x="476.02" y="182.74" width="5.62" height="1.32" fill="#2727F6"/>
<rect x="476.02" y="185.37" width="5.62" height="1.32" fill="#A4A4FB"/>
<rect x="476.02" y="194.59" width="5.62" height="1.32" fill="#A7A7FB"/>
<rect x="476.02" y="195.91" width="5.62" height="1.32" fill="#1919F5"/>
<rect x="476.02" y="198.55" width="5.62" height="1.32" fill="#6868F9"/>
<rect x="476.02" y="206.45" width="5.62" height="1.32" fill="#2020F6"/>
<rect x="476.02" y="210.41" width="5.62" height="1.32" fill="#9F9FFB"/>
<rect x="476.02" y="211.72" width="5.62" height="1.32" fill="#8686FA"/>
<rect x="476.02" y="214.36" width="5.62" height="1.32" fill="#5E5EF8"/>
<rect x="476.02" y="219.63" width="5.62" height="1.32" fill="#2B2BF6"/>
<rect x="476.02" y="220.95" width="5.62" height="1.32" fill="#1212F5"/>
<rect x="476.02" y="226.22" width="5.62" height="1.32" fill="#2727F6"/>
<rect x="476.02" y="231.49" width="5.62" height="1.32" fill="#0E0EF5"/>
<rect x="476.02" y="232.81" width="5.62" height="1.32" fill="#1F1FF6"/>
<rect x="476.02" y="234.12" width="5.62" height="1.32" fill="#2424F6"/>
<rect x="476.02" y="235.44" width="5.62" height="1.32" fill="#2C2CF6"/>
<rect x="476.02" y="238.08" width="5.62" height="1.32" fill="#2C2CF6"/>
<rect x="476.02" y="239.4" width="5.62" height="1.32" fill="#1D1DF6"/>
<rect x="476.02" y="244.67" width="5.62" height="1.32" fill="#8686FA"/>
<rect x="476.02" y="252.57" width="5.62" height="1.32" fill="#9393FA"/>
<rect x="476.02" y="257.84" width="5.62" height="1.32" fill="#1B1BF6"/>
<rect x="476.02" y="263.11" width="5.62" height="1.32" fill="#8181FA"/>
<rect x="476.02" y="264.43" width="5.62" height="1.32" fill="#1515F5"/>
<rect x="476.02" y="265.75" width="5.62" height="1.32" fill="#2626F6"/>
<rect x="476.02" y="268.38" width="5.62" height="1.32" fill="#8383FA"/>
<rect x="476.02" y="271.02" width="5.62" height="1.32" fill="#2121F6"/>
<rect x="476.02" y="272.34" width="5.62" height="1.32" fill="#1F1FF6"/>
<rect x="476.02" y="276.29" width="5.62" height="1.32" fill="#2626F6"/>
<rect x="476.02" y="277.61" width="5.62" height="1.32" fill="#8888FA"/>
<rect x="476.02" y="280.24" width="5.62" height="1.32" fill="#2828F6"/>
<rect x="476.02" y="282.88" width="5.62" height="1.32" fill="#1F1FF6"/>
<rect x="476.02" y="284.2" width="5.62" height="1.32" fill="#2323F6"/>
<rect x="476.02" y="286.83" width="5.62" height="1.32" fill="#2424F6"/>
<rect x="476.02" y="288.15" width="5.62" height="1.32" fill="#9292FA"/>
<rect x="476.02" y="289.47" width="5.62" height="1.32" fill="#7474F9"/>
<rect x="476.02" y="290.78" width="5.62" height="1.32" fill="#A7A7FB"/>
<rect x="476.02" y="293.42" width="5.62" height="1.32" fill="#2020F6"/>
<rect x="476.02" y="294.74" width="5.62" height="1.32" fill="#1A1AF6"/>
<rect x="476.02" y="296.06" width="5.62" height="1.32" fill="#3030F6"/>
<rect x="476.02" y="298.69" width="5.62" height="1.32" fill="#6262F8"/>
<rect x="476.02" y="306.6" width="5.62" height="1.32" fill="#1313F5"/>
<rect x="476.02" y="307.91" width="5.62" height="1.32" fill="#8686FA"/>
<rect x="476.02" y="310.55" width="5.62" height="1.32" fill="#3232F6"/>
<rect x="476.02" y="317.14" width="5.62" height="1.32" fill="#1414F5"/>
<rect x="476.02" y="327.68" width="5.62" height="1.32" fill="#1A1AF6"/>
<rect x="476.02" y="329" width="5.62" height="1.32" fill="#6464F8"/>
<rect x="476.02" y="339.54" width="5.62" height="1.32" fill="#2C2CF6"/>
<rect x="476.02" y="343.49" width="5.62" height="1.32" fill="#0F0FF5"/>
<rect x="476.02" y="346.13" width="5.62" height="1.32" fill="#2626F6"/>
<rect x="476.02" y="348.76" width="5.62" height="1.32" fill="#7777F9"/>
<rect x="476.02" y="351.4" width="5.62" height="1.32" fill="#2E2EF6"/>
<rect x="476.02" y="355.35" width="5.62" height="1.32" fill="#1818F5"/>
<rect x="476.02" y="357.99" width="5.62" height="1.32" fill="#0D0DF5"/>
<rect x="476.02" y="359.3" width="5.62" height="1.32" fill="#2121F6"/>
<rect x="476.02" y="369.84" width="5.62" height="1.32" fill="#2828F6"/>
<rect x="476.02" y="373.8" width="5.62" height="1.32" fill="#0F0FF5"/>
<rect x="476.02" y="384.34" width="5.62" height="1.32" fill="#1919F5"/>
<rect x="476.02" y="385.66" width="5.62" height="1.32" fill="#6969F9"/>
<rect x="476.02" y="386.97" width="5.62" height="1.32" fill="#7777F9"/>
<rect x="476.02" y="389.61" width="5.62" height="2.64" fill="#2D2DF6"/>
<rect x="476.02" y="392.25" width="5.62" height="1.32" fill="#1717F5"/>
<rect x="476.02" y="393.56" width="5.62" height="1.32" fill="#8B8BFA"/>
<rect x="476.02" y="394.88" width="5.62" height="2.64" fill="#1E1EF6"/>
<rect x="476.02" y="397.52" width="5.62" height="1.32" fill="#7474F9"/>
<rect x="476.02" y="398.83" width="5.62" height="1.32" fill="#2525F6"/>
<rect x="476.02" y="400.15" width="5.62" height="1.32" fill="#1818F5"/>
<rect x="476.02" y="401.47" width="5.62" height="1.32" fill="#A6A6FB"/>
<rect x="476.02" y="402.79" width="5.62" height="1.32" fill="#1515F5"/>
<rect x="476.02" y="404.1" width="5.62" height="1.32" fill="#7777F9"/>
<rect x="476.02" y="405.42" width="5.62" height="2.64" fill="#FEF7F7"/>
<rect x="476.02" y="408.06" width="5.62" height="1.32" fill="#FDADAD"/>
<rect x="476.02" y="409.38" width="5.62" height="1.32" fill="#B7B7FC"/>
<rect x="476.02" y="410.69" width="5.62" height="2.64" fill="#F5F5FE"/>
<rect x="476.02" y="413.33" width="5.62" height="2.64" fill="#3535F7"/>
<rect x="476.02" y="415.96" width="5.62" height="2.64" fill="#A0A0FB"/>
<rect x="476.02" y="418.6" width="5.62" height="2.64" fill="#FBFBFE"/>
<rect x="476.02" y="421.23" width="5.62" height="2.64" fill="#6464F8"/>
<rect x="476.02" y="423.87" width="5.62" height="2.64" fill="#8B8BFA"/>
<rect x="476.02" y="426.5" width="5.62" height="2.64" fill="#6F6FF9"/>
<rect x="476.02" y="429.14" width="5.62" height="2.64" fill="#F9F9FE"/>
<rect x="476.02" y="431.78" width="5.62" height="2.64" fill="#7272F9"/>
<rect x="476.02" y="434.41" width="5.62" height="2.64" fill="#9999FB"/>
<rect x="476.02" y="437.05" width="5.62" height="2.64" fill="#7777F9"/>
<rect x="476.02" y="439.68" width="5.62" height="2.64" fill="#7878F9"/>
<rect x="476.02" y="442.32" width="5.62" height="2.64" fill="#DBDBFD"/>
<rect x="476.02" y="444.95" width="5.62" height="2.64" fill="#FDB4B4"/>
<rect x="476.02" y="447.59" width="5.62" height="2.64" fill="#D6D6FD"/>
<rect x="476.02" y="450.22" width="5.62" height="1.32" fill="#EEEEFE"/>
<rect x="476.02" y="451.54" width="5.62" height="1.32" fill="#FB4343"/>
<rect x="476.02" y="452.86" width="5.62" height="2.64" fill="#FB4C4C"/>
<rect x="476.02" y="455.49" width="5.62" height="2.64" fill="#FDA5A5"/>
<rect x="476.02" y="458.13" width="5.62" height="2.64" fill="#FA2D2D"/>
<rect x="476.02" y="460.76" width="5.62" height="2.64" fill="#FA2222"/>
<rect x="476.02" y="463.4" width="5.62" height="1.32" fill="#FDB3B3"/>
<rect x="476.02" y="464.72" width="5.62" height="1.32" fill="#FC8080"/>
<rect x="476.02" y="466.03" width="5.62" height="2.64" fill="#FB4040"/>
<rect x="476.02" y="468.67" width="5.62" height="2.64" fill="#FA0707"/>
<rect x="476.02" y="471.31" width="5.62" height="1.32" fill="#FA0F0F"/>
<rect x="476.02" y="472.62" width="5.62" height="3.95" fill="#FA0707"/>
<rect x="476.02" y="476.58" width="5.62" height="2.64" fill="#FB3838"/>
<rect x="476.02" y="479.21" width="5.62" height="2.64" fill="#FB3D3D"/>
<rect x="476.02" y="481.85" width="5.62" height="2.64" fill="#FB4747"/>
<rect x="476.02" y="484.48" width="5.62" height="1.32" fill="#FB3636"/>
<rect x="481.65" y="168.24" width="5.62" height="1.32" fill="#1313F5"/>
<rect x="481.65" y="177.47" width="5.62" height="1.32" fill="#7D7DF9"/>
<rect x="481.65" y="178.78" width="5.62" height="1.32" fill="#8383FA"/>
<rect x="481.65" y="180.1" width="5.62" height="1.32" fill="#6666F9"/>
<rect x="481.65" y="181.42" width="5.62" height="1.32" fill="#5E5EF8"/>
<rect x="481.65" y="185.37" width="5.62" height="1.32" fill="#2323F6"/>
<rect x="481.65" y="186.69" width="5.62" height="1.32" fill="#8A8AFA"/>
<rect x="481.65" y="190.64" width="5.62" height="1.32" fill="#6565F8"/>
<rect x="481.65" y="194.59" width="5.62" height="1.32" fill="#2020F6"/>
<rect x="481.65" y="195.91" width="5.62" height="1.32" fill="#1A1AF6"/>
<rect x="481.65" y="198.55" width="5.62" height="1.32" fill="#6464F8"/>
<rect x="481.65" y="201.18" width="5.62" height="1.32" fill="#1B1BF6"/>
<rect x="481.65" y="202.5" width="5.62" height="1.32" fill="#1919F5"/>
<rect x="481.65" y="207.77" width="5.62" height="1.32" fill="#0F0FF5"/>
<rect x="481.65" y="209.09" width="5.62" height="1.32" fill="#0D0DF5"/>
<rect x="481.65" y="210.41" width="5.62" height="1.32" fill="#A5A5FB"/>
<rect x="481.65" y="211.72" width="5.62" height="1.32" fill="#3030F6"/>
<rect x="481.65" y="213.04" width="5.62" height="1.32" fill="#1D1DF6"/>
<rect x="481.65" y="214.36" width="5.62" height="1.32" fill="#5D5DF8"/>
<rect x="481.65" y="217" width="5.62" height="1.32" fill="#1D1DF6"/>
<rect x="481.65" y="218.31" width="5.62" height="1.32" fill="#B7B7FC"/>
<rect x="481.65" y="226.22" width="5.62" height="1.32" fill="#2F2FF6"/>
<rect x="481.65" y="230.17" width="5.62" height="1.32" fill="#3131F6"/>
<rect x="481.65" y="234.12" width="5.62" height="1.32" fill="#2727F6"/>
<rect x="481.65" y="236.76" width="5.62" height="1.32" fill="#2F2FF6"/>
<rect x="481.65" y="238.08" width="5.62" height="1.32" fill="#2929F6"/>
<rect x="481.65" y="242.03" width="5.62" height="1.32" fill="#0D0DF5"/>
<rect x="481.65" y="244.67" width="5.62" height="1.32" fill="#ADADFB"/>
<rect x="481.65" y="245.98" width="5.62" height="1.32" fill="#2121F6"/>
<rect x="481.65" y="251.25" width="5.62" height="1.32" fill="#1B1BF6"/>
<rect x="481.65" y="252.57" width="5.62" height="1.32" fill="#8888FA"/>
<rect x="481.65" y="256.53" width="5.62" height="1.32" fill="#1D1DF6"/>
<rect x="481.65" y="257.84" width="5.62" height="1.32" fill="#7070F9"/>
<rect x="481.65" y="263.11" width="5.62" height="1.32" fill="#6565F8"/>
<rect x="481.65" y="265.75" width="5.62" height="1.32" fill="#2727F6"/>
<rect x="481.65" y="267.07" width="5.62" height="1.32" fill="#1111F5"/>
<rect x="481.65" y="268.38" width="5.62" height="1.32" fill="#9595FA"/>
<rect x="481.65" y="273.66" width="5.62" height="1.32" fill="#1717F5"/>
<rect x="481.65" y="274.97" width="5.62" height="1.32" fill="#2222F6"/>
<rect x="481.65" y="277.61" width="5.62" height="1.32" fill="#1D1DF6"/>
<rect x="481.65" y="280.24" width="5.62" height="1.32" fill="#5959F8"/>
<rect x="481.65" y="284.2" width="5.62" height="1.32" fill="#BFBFFC"/>
<rect x="481.65" y="285.51" width="5.62" height="1.32" fill="#2626F6"/>
<rect x="481.65" y="286.83" width="5.62" height="1.32" fill="#5B5BF8"/>
<rect x="481.65" y="293.42" width="5.62" height="1.32" fill="#6363F8"/>
<rect x="481.65" y="298.69" width="5.62" height="1.32" fill="#1E1EF6"/>
<rect x="481.65" y="302.64" width="5.62" height="1.32" fill="#6060F8"/>
<rect x="481.65" y="315.82" width="5.62" height="1.32" fill="#1212F5"/>
<rect x="481.65" y="318.46" width="5.62" height="1.32" fill="#2B2BF6"/>
<rect x="481.65" y="323.73" width="5.62" height="1.32" fill="#1B1BF6"/>
<rect x="481.65" y="326.36" width="5.62" height="1.32" fill="#2A2AF6"/>
<rect x="481.65" y="327.68" width="5.62" height="1.32" fill="#2E2EF6"/>
<rect x="481.65" y="329" width="5.62" height="1.32" fill="#5858F8"/>
<rect x="481.65" y="330.31" width="5.62" height="1.32" fill="#3030F6"/>
<rect x="481.65" y="332.95" width="5.62" height="1.32" fill="#2929F6"/>
<rect x="481.65" y="342.17" width="5.62" height="1.32" fill="#1919F5"/>
<rect x="481.65" y="343.49" width="5.62" height="1.32" fill="#2626F6"/>
<rect x="481.65" y="348.76" width="5.62" height="1.32" fill="#6262F8"/>
<rect x="481.65" y="351.4" width="5.62" height="1.32" fill="#0D0DF5"/>
<rect x="481.65" y="354.03" width="5.62" height="1.32" fill="#1E1EF6"/>
<rect x="481.65" y="355.35" width="5.62" height="1.32" fill="#3131F6"/>
<rect x="481.65" y="356.67" width="5.62" height="1.32" fill="#2323F6"/>
<rect x="481.65" y="363.26" width="5.62" height="1.32" fill="#1111F5"/>
<rect x="481.65" y="368.53" width="5.62" height="1.32" fill="#1919F6"/>
<rect x="481.65" y="371.16" width="5.62" height="1.32" fill="#6E6EF9"/>
<rect x="481.65" y="381.7" width="5.62" height="1.32" fill="#D5D5FD"/>
<rect x="481.65" y="383.02" width="5.62" height="1.32" fill="#2525F6"/>
<rect x="481.65" y="384.34" width="5.62" height="1.32" fill="#3030F6"/>
<rect x="481.65" y="385.66" width="5.62" height="1.32" fill="#A9A9FB"/>
<rect x="481.65" y="386.97" width="5.62" height="1.32" fill="#7B7BF9"/>
<rect x="481.65" y="389.61" width="5.62" height="7.91" fill="#FA0707"/>
<rect x="481.65" y="397.52" width="5.62" height="1.32" fill="#FB5959"/>
<rect x="481.65" y="398.83" width="5.62" height="7.91" fill="#FA0707"/>
<rect x="481.65" y="406.74" width="5.62" height="1.32" fill="#FB5959"/>
<rect x="481.65" y="408.06" width="5.62" height="1.32" fill="#FAFAFE"/>
<rect x="481.65" y="409.38" width="5.62" height="1.32" fill="#FB5050"/>
<rect x="481.65" y="410.69" width="5.62" height="2.64" fill="#FDA7A7"/>
<rect x="481.65" y="413.33" width="5.62" height="2.64" fill="#FA2222"/>
<rect x="481.65" y="415.96" width="5.62" height="2.64" fill="#FA1414"/>
<rect x="481.65" y="418.6" width="5.62" height="2.64" fill="#FB3D3D"/>
<rect x="481.65" y="421.23" width="5.62" height="2.64" fill="#FDA0A0"/>
<rect x="481.65" y="423.87" width="5.62" height="2.64" fill="#FA2121"/>
<rect x="481.65" y="426.5" width="5.62" height="2.64" fill="#FA0707"/>
<rect x="481.65" y="429.14" width="5.62" height="2.64" fill="#FC8F8F"/>
<rect x="481.65" y="431.78" width="5.62" height="2.64" fill="#FB3535"/>
<rect x="481.65" y="434.41" width="5.62" height="2.64" fill="#FA2424"/>
<rect x="481.65" y="437.05" width="5.62" height="2.64" fill="#FA1212"/>
<rect x="481.65" y="439.68" width="5.62" height="2.64" fill="#FA1F1F"/>
<rect x="481.65" y="442.32" width="5.62" height="2.64" fill="#FB4444"/>
<rect x="481.65" y="444.95" width="5.62" height="2.64" fill="#FA0707"/>
<rect x="481.65" y="447.59" width="5.62" height="2.64" fill="#FB5151"/>
<rect x="481.65" y="450.22" width="5.62" height="1.32" fill="#FC7777"/>
<rect x="481.65" y="451.54" width="5.62" height="1.32" fill="#FEF6F6"/>
<rect x="481.65" y="452.86" width="5.62" height="2.64" fill="#FB5252"/>
<rect x="481.65" y="455.49" width="5.62" height="2.64" fill="#FC9696"/>
<rect x="481.65" y="458.13" width="5.62" height="2.64" fill="#FEDCDC"/>
<rect x="481.65" y="460.76" width="5.62" height="2.64" fill="#E7E7FE"/>
<rect x="481.65" y="463.4" width="5.62" height="1.32" fill="#FB4242"/>
<rect x="481.65" y="464.72" width="5.62" height="1.32" fill="#FA0707"/>
<rect x="481.65" y="466.03" width="5.62" height="2.64" fill="#FB4A4A"/>
<rect x="481.65" y="468.67" width="5.62" height="2.64" fill="#FDC7C7"/>
<rect x="481.65" y="471.31" width="5.62" height="1.32" fill="#FB5050"/>
<rect x="481.65" y="472.62" width="5.62" height="1.32" fill="#9494FA"/>
<rect x="481.65" y="473.94" width="5.62" height="2.64" fill="#B9B9FC"/>
<rect x="481.65" y="476.58" width="5.62" height="2.64" fill="#4B4BF7"/>
<rect x="481.65" y="479.21" width="5.62" height="2.64" fill="#7777F9"/>
<rect x="481.65" y="481.85" width="5.62" height="2.64" fill="#8888FA"/>
<rect x="481.65" y="484.48" width="5.62" height="1.32" fill="#7474F9"/>
<rect x="487.27" y="157.7" width="5.62" height="1.32" fill="#1616F5"/>
<rect x="487.27" y="160.34" width="5.62" height="1.32" fill="#0D0DF5"/>
<rect x="487.27" y="161.65" width="5.62" height="1.32" fill="#8F8FFA"/>
<rect x="487.27" y="172.19" width="5.62" height="1.32" fill="#1D1DF6"/>
<rect x="487.27" y="177.47" width="5.62" height="1.32" fill="#9A9AFB"/>
<rect x="487.27" y="178.78" width="5.62" height="1.32" fill="#E0E0FD"/>
<rect x="487.27" y="180.1" width="5.62" height="1.32" fill="#7575F9"/>
<rect x="487.27" y="181.42" width="5.62" height="1.32" fill="#1111F5"/>
<rect x="487.27" y="185.37" width="5.62" height="1.32" fill="#ADADFB"/>
<rect x="487.27" y="186.69" width="5.62" height="1.32" fill="#5353F8"/>
<rect x="487.27" y="188.01" width="5.62" height="1.32" fill="#2121F6"/>
<rect x="487.27" y="190.64" width="5.62" height="1.32" fill="#5959F8"/>
<rect x="487.27" y="191.96" width="5.62" height="1.32" fill="#5A5AF8"/>
<rect x="487.27" y="203.82" width="5.62" height="1.32" fill="#B5B5FC"/>
<rect x="487.27" y="209.09" width="5.62" height="1.32" fill="#7171F9"/>
<rect x="487.27" y="210.41" width="5.62" height="1.32" fill="#AAAAFB"/>
<rect x="487.27" y="211.72" width="5.62" height="1.32" fill="#FC9797"/>
<rect x="487.27" y="214.36" width="5.62" height="1.32" fill="#9191FA"/>
<rect x="487.27" y="218.31" width="5.62" height="1.32" fill="#A1A1FB"/>
<rect x="487.27" y="223.58" width="5.62" height="1.32" fill="#1414F5"/>
<rect x="487.27" y="224.9" width="5.62" height="1.32" fill="#4F4FF8"/>
<rect x="487.27" y="226.22" width="5.62" height="1.32" fill="#D6D6FD"/>
<rect x="487.27" y="232.81" width="5.62" height="1.32" fill="#1212F5"/>
<rect x="487.27" y="234.12" width="5.62" height="1.32" fill="#3030F6"/>
<rect x="487.27" y="238.08" width="5.62" height="1.32" fill="#2323F6"/>
<rect x="487.27" y="242.03" width="5.62" height="1.32" fill="#1212F5"/>
<rect x="487.27" y="244.67" width="5.62" height="1.32" fill="#B2B2FC"/>
<rect x="487.27" y="247.3" width="5.62" height="1.32" fill="#2121F6"/>
<rect x="487.27" y="252.57" width="5.62" height="1.32" fill="#C0C0FC"/>
<rect x="487.27" y="253.89" width="5.62" height="1.32" fill="#3232F6"/>
<rect x="487.27" y="255.21" width="5.62" height="1.32" fill="#2A2AF6"/>
<rect x="487.27" y="257.84" width="5.62" height="1.32" fill="#6060F8"/>
<rect x="487.27" y="261.8" width="5.62" height="1.32" fill="#2B2BF6"/>
<rect x="487.27" y="263.11" width="5.62" height="1.32" fill="#3E3EF7"/>
<rect x="487.27" y="264.43" width="5.62" height="1.32" fill="#1212F5"/>
<rect x="487.27" y="267.07" width="5.62" height="1.32" fill="#2A2AF6"/>
<rect x="487.27" y="272.34" width="5.62" height="1.32" fill="#1C1CF6"/>
<rect x="487.27" y="273.66" width="5.62" height="1.32" fill="#9898FA"/>
<rect x="487.27" y="276.29" width="5.62" height="1.32" fill="#1818F5"/>
<rect x="487.27" y="278.93" width="5.62" height="1.32" fill="#1010F5"/>
<rect x="487.27" y="280.24" width="5.62" height="1.32" fill="#5858F8"/>
<rect x="487.27" y="284.2" width="5.62" height="1.32" fill="#B9B9FC"/>
<rect x="487.27" y="286.83" width="5.62" height="1.32" fill="#5858F8"/>
<rect x="487.27" y="293.42" width="5.62" height="1.32" fill="#5959F8"/>
<rect x="487.27" y="297.37" width="5.62" height="1.32" fill="#1A1AF6"/>
<rect x="487.27" y="300.01" width="5.62" height="1.32" fill="#2020F6"/>
<rect x="487.27" y="302.64" width="5.62" height="1.32" fill="#A8A8FB"/>
<rect x="487.27" y="307.91" width="5.62" height="1.32" fill="#2A2AF6"/>
<rect x="487.27" y="311.87" width="5.62" height="1.32" fill="#1212F5"/>
<rect x="487.27" y="323.73" width="5.62" height="1.32" fill="#2323F6"/>
<rect x="487.27" y="327.68" width="5.62" height="1.32" fill="#2323F6"/>
<rect x="487.27" y="329" width="5.62" height="1.32" fill="#6262F8"/>
<rect x="487.27" y="331.63" width="5.62" height="1.32" fill="#0E0EF5"/>
<rect x="487.27" y="332.95" width="5.62" height="1.32" fill="#2020F6"/>
<rect x="487.27" y="336.9" width="5.62" height="1.32" fill="#0E0EF5"/>
<rect x="487.27" y="348.76" width="5.62" height="1.32" fill="#2C2CF6"/>
<rect x="487.27" y="354.03" width="5.62" height="1.32" fill="#1515F5"/>
<rect x="487.27" y="365.89" width="5.62" height="1.32" fill="#2525F6"/>
<rect x="487.27" y="371.16" width="5.62" height="1.32" fill="#6363F8"/>
<rect x="487.27" y="372.48" width="5.62" height="1.32" fill="#3131F6"/>
<rect x="487.27" y="373.8" width="5.62" height="1.32" fill="#2F2FF6"/>
<rect x="487.27" y="376.43" width="5.62" height="1.32" fill="#3131F6"/>
<rect x="487.27" y="379.07" width="5.62" height="1.32" fill="#2727F6"/>
<rect x="487.27" y="380.39" width="5.62" height="1.32" fill="#6C6CF9"/>
<rect x="487.27" y="385.66" width="5.62" height="1.32" fill="#2A2AF6"/>
<rect x="487.27" y="386.97" width="5.62" height="1.32" fill="#A6A6FB"/>
<rect x="487.27" y="388.29" width="5.62" height="1.32" fill="#2E2EF6"/>
<rect x="487.27" y="389.61" width="5.62" height="1.32" fill="#2F2FF6"/>
<rect x="487.27" y="392.25" width="5.62" height="1.32" fill="#3D3DF7"/>
<rect x="487.27" y="393.56" width="5.62" height="1.32" fill="#9494FA"/>
<rect x="487.27" y="394.88" width="5.62" height="2.64" fill="#4242F7"/>
<rect x="487.27" y="397.52" width="5.62" height="1.32" fill="#6464F8"/>
<rect x="487.27" y="398.83" width="5.62" height="1.32" fill="#1E1EF6"/>
<rect x="487.27" y="400.15" width="5.62" height="2.64" fill="#4D4DF8"/>
<rect x="487.27" y="402.79" width="5.62" height="2.64" fill="#4F4FF8"/>
<rect x="487.27" y="405.42" width="5.62" height="2.64" fill="#B3B3FC"/>
<rect x="487.27" y="408.06" width="5.62" height="1.32" fill="#DBDBFD"/>
<rect x="487.27" y="409.38" width="5.62" height="1.32" fill="#FA3030"/>
<rect x="487.27" y="410.69" width="5.62" height="2.64" fill="#FA1F1F"/>
<rect x="487.27" y="413.33" width="5.62" height="2.64" fill="#FA0707"/>
<rect x="487.27" y="415.96" width="5.62" height="2.64" fill="#FB5A5A"/>
<rect x="487.27" y="418.6" width="5.62" height="2.64" fill="#FB6363"/>
<rect x="487.27" y="421.23" width="5.62" height="2.64" fill="#FA1515"/>
<rect x="487.27" y="423.87" width="5.62" height="2.64" fill="#FB4646"/>
<rect x="487.27" y="426.5" width="5.62" height="2.64" fill="#FB3636"/>
<rect x="487.27" y="429.14" width="5.62" height="5.27" fill="#FA0707"/>
<rect x="487.27" y="434.41" width="5.62" height="2.64" fill="#FB5D5D"/>
<rect x="487.27" y="437.05" width="5.62" height="2.64" fill="#FA1515"/>
<rect x="487.27" y="439.68" width="5.62" height="2.64" fill="#FDA1A1"/>
<rect x="487.27" y="442.32" width="5.62" height="2.64" fill="#FC8F8F"/>
<rect x="487.27" y="444.95" width="5.62" height="2.64" fill="#FB4343"/>
<rect x="487.27" y="447.59" width="5.62" height="2.64" fill="#FA1E1E"/>
<rect x="487.27" y="450.22" width="5.62" height="2.64" fill="#FB3737"/>
<rect x="487.27" y="452.86" width="5.62" height="2.64" fill="#FDABAB"/>
<rect x="487.27" y="455.49" width="5.62" height="2.64" fill="#FC8D8D"/>
<rect x="487.27" y="458.13" width="5.62" height="2.64" fill="#FA1212"/>
<rect x="487.27" y="460.76" width="5.62" height="2.64" fill="#FC6B6B"/>
<rect x="487.27" y="463.4" width="5.62" height="1.32" fill="#FA0707"/>
<rect x="487.27" y="464.72" width="5.62" height="1.32" fill="#FA1E1E"/>
<rect x="487.27" y="466.03" width="5.62" height="2.64" fill="#FDC2C2"/>
<rect x="487.27" y="468.67" width="5.62" height="2.64" fill="#FEE4E4"/>
<rect x="487.27" y="471.31" width="5.62" height="2.64" fill="#FDC6C6"/>
<rect x="487.27" y="473.94" width="5.62" height="2.64" fill="#FA1919"/>
<rect x="487.27" y="476.58" width="5.62" height="2.64" fill="#FB6464"/>
<rect x="487.27" y="479.21" width="5.62" height="2.64" fill="#FB6363"/>
<rect x="487.27" y="481.85" width="5.62" height="2.64" fill="#FECECE"/>
<rect x="487.27" y="484.48" width="5.62" height="1.32" fill="#FB6464"/>
<path d="M446.5 159.7V161.0M446.5 159.7H447.3M446.5 161.0H447.3M445.7 160.3V162.3M445.7 160.3H446.5M445.7 162.3H447.3M444.9 158.4V161.0M444.9 158.4H447.3M444.9 161.0H445.7M445.9 163.6V164.9M445.9 163.6H447.3M445.9 164.9H447.3M445.2 166.3V167.6M445.2 166.3H447.3M445.2 167.6H447.3M444.0 164.3V166.9M444.0 164.3H445.9M444.0 166.9H445.2M443.0 160.3V165.6M443.0 160.3H444.9M443.0 165.6H444.0M445.3 168.9V170.2M445.3 168.9H447.3M445.3 170.2H447.3M441.5 163.0V169.6M441.5 163.0H443.0M441.5 169.6H445.3M445.4 172.9V174.2M445.4 172.9H447.3M445.4 174.2H447.3M446.6 176.8V178.1M446.6 176.8H447.3M446.6 178.1H447.3M445.8 175.5V177.5M445.8 175.5H447.3M445.8 177.5H446.6M445.8 179.4V180.8M445.8 179.4H447.3M445.8 180.8H447.3M445.0 176.8V180.1M445.0 176.8H445.8M445.0 180.1H445.8M444.2 173.5V178.1M444.2 173.5H445.4M444.2 178.1H445.0M443.2 171.5V176.8M443.2 171.5H447.3M443.2 176.8H444.2M445.8 182.1V183.4M445.8 182.1H447.3M445.8 183.4H447.3M442.4 176.1V182.7M442.4 176.1H443.2M442.4 182.7H445.8M445.7 184.7V186.0M445.7 184.7H447.3M445.7 186.0H447.3M445.6 187.3V188.7M445.6 187.3H447.3M445.6 188.7H447.3M446.3 191.3V192.6M446.3 191.3H447.3M446.3 192.6H447.3M446.3 193.9V195.3M446.3 193.9H447.3M446.3 195.3H447.3M445.5 192.0V194.6M445.5 192.0H446.3M445.5 194.6H446.3M447.1 197.9V199.2M447.1 197.9H447.3M447.1 199.2H447.3M446.3 196.6V198.5M446.3 196.6H447.3M446.3 198.5H447.1M446.3 200.5V201.8M446.3 200.5H447.3M446.3 201.8H447.3M445.5 197.9V201.2M445.5 197.9H446.3M445.5 201.2H446.3M444.7 193.3V199.2M444.7 193.3H445.5M444.7 199.2H445.5M443.9 196.6V203.2M443.9 196.6H444.7M443.9 203.2H447.3M446.4 207.1V208.4M446.4 207.1H447.3M446.4 208.4H447.3M445.6 205.8V207.8M445.6 205.8H447.3M445.6 207.8H446.4M444.7 204.5V207.1M444.7 204.5H447.3M444.7 207.1H445.6M445.6 209.7V211.1M445.6 209.7H447.3M445.6 211.1H447.3M443.9 206.5V210.4M443.9 206.5H444.7M443.9 210.4H445.6M443.1 197.2V207.8M443.1 197.2H443.9M443.1 207.8H443.9M442.3 190.0V201.2M442.3 190.0H447.3M442.3 201.2H443.1M441.5 188.0V200.5M441.5 188.0H445.6M441.5 200.5H442.3M446.2 213.7V215.0M446.2 213.7H447.3M446.2 215.0H447.3M445.1 212.4V214.4M445.1 212.4H447.3M445.1 214.4H446.2M440.7 199.2V213.7M440.7 199.2H441.5M440.7 213.7H445.1M446.6 216.3V217.7M446.6 216.3H447.3M446.6 217.7H447.3M445.8 217.0V219.0M445.8 217.0H446.6M445.8 219.0H447.3M439.9 201.2V217.7M439.9 201.2H440.7M439.9 217.7H445.8M437.0 185.4V203.2M437.0 185.4H445.7M437.0 203.2H439.9M436.2 177.5V201.8M436.2 177.5H442.4M436.2 201.8H437.0M432.9 164.3V195.3M432.9 164.3H441.5M432.9 195.3H436.2M445.6 220.3V221.6M445.6 220.3H447.3M445.6 221.6H447.3M444.6 220.9V222.9M444.6 220.9H445.6M444.6 222.9H447.3M446.7 225.6V226.9M446.7 225.6H447.3M446.7 226.9H447.3M445.9 226.2V228.2M445.9 226.2H446.7M445.9 228.2H447.3M446.1 229.5V230.8M446.1 229.5H447.3M446.1 230.8H447.3M445.1 226.9V230.2M445.1 226.9H445.9M445.1 230.2H446.1M444.1 224.2V228.2M444.1 224.2H447.3M444.1 228.2H445.1M445.7 233.5V234.8M445.7 233.5H447.3M445.7 234.8H447.3M444.5 234.1V236.1M444.5 234.1H445.7M444.5 236.1H447.3M447.0 238.7V240.1M447.0 238.7H447.3M447.0 240.1H447.3M446.2 239.4V241.4M446.2 239.4H447.0M446.2 241.4H447.3M445.4 237.4V240.1M445.4 237.4H447.3M445.4 240.1H446.2M444.6 239.4V242.7M444.6 239.4H445.4M444.6 242.7H447.3M446.0 244.0V245.3M446.0 244.0H447.3M446.0 245.3H447.3M445.2 244.7V246.6M445.2 244.7H446.0M445.2 246.6H447.3M443.8 240.1V245.3M443.8 240.1H444.6M443.8 245.3H445.2M443.0 234.8V242.0M443.0 234.8H444.5M443.0 242.0H443.8M442.2 232.1V240.1M442.2 232.1H447.3M442.2 240.1H443.0M447.5 249.3V250.6M447.5 249.3H447.3M447.5 250.6H447.3M446.7 249.9V251.9M446.7 249.9H447.5M446.7 251.9H447.3M445.9 250.6V253.2M445.9 250.6H446.7M445.9 253.2H447.3M445.1 248.0V251.3M445.1 248.0H447.3M445.1 251.3H445.9M446.0 254.5V255.9M446.0 254.5H447.3M446.0 255.9H447.3M445.1 255.2V257.2M445.1 255.2H446.0M445.1 257.2H447.3M444.3 250.6V255.9M444.3 250.6H445.1M444.3 255.9H445.1M445.8 259.8V261.1M445.8 259.8H447.3M445.8 261.1H447.3M445.0 258.5V260.5M445.0 258.5H447.3M445.0 260.5H445.8M443.5 252.6V259.8M443.5 252.6H444.3M443.5 259.8H445.0M446.6 263.8V265.1M446.6 263.8H447.3M446.6 265.1H447.3M445.8 264.4V266.4M445.8 264.4H446.6M445.8 266.4H447.3M445.0 262.5V265.1M445.0 262.5H447.3M445.0 265.1H445.8M442.7 254.5V264.4M442.7 254.5H443.5M442.7 264.4H445.0M446.5 269.0V270.4M446.5 269.0H447.3M446.5 270.4H447.3M445.7 267.7V269.7M445.7 267.7H447.3M445.7 269.7H446.5M441.3 257.2V269.0M441.3 257.2H442.7M441.3 269.0H445.7M440.5 239.4V259.2M440.5 239.4H442.2M440.5 259.2H441.3M439.7 227.5V251.3M439.7 227.5H444.1M439.7 251.3H440.5M438.9 221.6V247.3M438.9 221.6H444.6M438.9 247.3H439.7M446.6 274.3V275.6M446.6 274.3H447.3M446.6 275.6H447.3M445.8 273.0V275.0M445.8 273.0H447.3M445.8 275.0H446.6M445.0 271.7V274.3M445.0 271.7H447.3M445.0 274.3H445.8M445.5 276.9V278.3M445.5 276.9H447.3M445.5 278.3H447.3M445.9 283.5V284.9M445.9 283.5H447.3M445.9 284.9H447.3M445.1 282.2V284.2M445.1 282.2H447.3M445.1 284.2H445.9M447.2 288.8V290.1M447.2 288.8H447.3M447.2 290.1H447.3M446.4 289.5V291.4M446.4 289.5H447.2M446.4 291.4H447.3M448.0 292.8V294.1M448.0 292.8H447.3M448.0 294.1H447.3M447.2 293.4V295.4M447.2 293.4H448.0M447.2 295.4H447.3M446.4 294.1V296.7M446.4 294.1H447.2M446.4 296.7H447.3M445.6 290.1V294.7M445.6 290.1H446.4M445.6 294.7H446.4M444.8 287.5V292.8M444.8 287.5H447.3M444.8 292.8H445.6M444.0 286.2V292.1M444.0 286.2H447.3M444.0 292.1H444.8M443.2 283.5V291.4M443.2 283.5H445.1M443.2 291.4H444.0M442.4 280.9V289.5M442.4 280.9H447.3M442.4 289.5H443.2M441.6 279.6V288.8M441.6 279.6H447.3M441.6 288.8H442.4M439.5 277.6V288.1M439.5 277.6H445.5M439.5 288.1H441.6M438.7 273.7V286.8M438.7 273.7H445.0M438.7 286.8H439.5M435.4 245.3V284.2M435.4 245.3H438.9M435.4 284.2H438.7M446.6 300.7V302.0M446.6 300.7H447.3M446.6 302.0H447.3M445.8 299.3V301.3M445.8 299.3H447.3M445.8 301.3H446.6M444.4 300.7V303.3M444.4 300.7H445.8M444.4 303.3H447.3M447.6 307.3V308.6M447.6 307.3H447.3M447.6 308.6H447.3M446.8 305.9V307.9M446.8 305.9H447.3M446.8 307.9H447.6M446.0 307.3V309.9M446.0 307.3H446.8M446.0 309.9H447.3M445.2 304.6V307.9M445.2 304.6H447.3M445.2 307.9H446.0M443.4 301.3V307.3M443.4 301.3H444.4M443.4 307.3H445.2M442.5 304.6V311.2M442.5 304.6H443.4M442.5 311.2H447.3M441.0 298.0V305.3M441.0 298.0H447.3M441.0 305.3H442.5M446.3 312.5V313.8M446.3 312.5H447.3M446.3 313.8H447.3M446.3 315.2V316.5M446.3 315.2H447.3M446.3 316.5H447.3M445.5 313.2V315.8M445.5 313.2H446.3M445.5 315.8H446.3M446.1 319.1V320.4M446.1 319.1H447.3M446.1 320.4H447.3M445.3 317.8V319.8M445.3 317.8H447.3M445.3 319.8H446.1M444.5 314.5V319.1M444.5 314.5H445.5M444.5 319.1H445.3M438.9 304.6V316.5M438.9 304.6H441.0M438.9 316.5H444.5M430.2 258.5V309.2M430.2 258.5H435.4M430.2 309.2H438.9M445.2 323.1V324.4M445.2 323.1H447.3M445.2 324.4H447.3M446.8 327.0V328.3M446.8 327.0H447.3M446.8 328.3H447.3M446.0 325.7V327.7M446.0 325.7H447.3M446.0 327.7H446.8M445.2 327.0V329.7M445.2 327.0H446.0M445.2 329.7H447.3M444.4 323.7V327.7M444.4 323.7H445.2M444.4 327.7H445.2M443.6 326.4V331.0M443.6 326.4H444.4M443.6 331.0H447.3M442.8 321.8V327.0M442.8 321.8H447.3M442.8 327.0H443.6M446.1 332.3V333.6M446.1 332.3H447.3M446.1 333.6H447.3M446.1 334.9V336.2M446.1 334.9H447.3M446.1 336.2H447.3M445.3 333.0V335.6M445.3 333.0H446.1M445.3 335.6H446.1M441.6 326.4V334.3M441.6 326.4H442.8M441.6 334.3H445.3M446.1 338.9V340.2M446.1 338.9H447.3M446.1 340.2H447.3M446.1 341.5V342.8M446.1 341.5H447.3M446.1 342.8H447.3M445.3 339.5V342.2M445.3 339.5H446.1M445.3 342.2H446.1M444.2 337.6V340.9M444.2 337.6H447.3M444.2 340.9H445.3M440.8 329.0V340.2M440.8 329.0H441.6M440.8 340.2H444.2M447.1 345.5V346.8M447.1 345.5H447.3M447.1 346.8H447.3M446.3 346.1V348.1M446.3 346.1H447.1M446.3 348.1H447.3M445.5 346.8V349.4M445.5 346.8H446.3M445.5 349.4H447.3M445.5 350.7V352.1M445.5 350.7H447.3M445.5 352.1H447.3M444.7 347.4V351.4M444.7 347.4H445.5M444.7 351.4H445.5M445.4 353.4V354.7M445.4 353.4H447.3M445.4 354.7H447.3M443.9 348.8V354.0M443.9 348.8H444.7M443.9 354.0H445.4M443.1 344.2V350.1M443.1 344.2H447.3M443.1 350.1H443.9M438.0 332.3V349.4M438.0 332.3H440.8M438.0 349.4H443.1M423.5 270.4V338.2M423.5 270.4H430.2M423.5 338.2H438.0M419.5 188.7V287.5M419.5 188.7H432.9M419.5 287.5H423.5M445.5 356.0V357.3M445.5 356.0H447.3M445.5 357.3H447.3M445.5 358.6V360.0M445.5 358.6H447.3M445.5 360.0H447.3M444.7 356.7V359.3M444.7 356.7H445.5M444.7 359.3H445.5M447.1 363.9V365.2M447.1 363.9H447.3M447.1 365.2H447.3M446.3 362.6V364.6M446.3 362.6H447.3M446.3 364.6H447.1M445.5 363.9V366.6M445.5 363.9H446.3M445.5 366.6H447.3M444.7 361.3V364.6M444.7 361.3H447.3M444.7 364.6H445.5M443.9 358.0V363.9M443.9 358.0H444.7M443.9 363.9H444.7M443.1 361.3V367.9M443.1 361.3H443.9M443.1 367.9H447.3M446.0 369.2V370.5M446.0 369.2H447.3M446.0 370.5H447.3M442.3 361.9V369.8M442.3 361.9H443.1M442.3 369.8H446.0M441.5 363.3V371.8M441.5 363.3H442.3M441.5 371.8H447.3M445.9 374.5V375.8M445.9 374.5H447.3M445.9 375.8H447.3M446.3 377.1V378.4M446.3 377.1H447.3M446.3 378.4H447.3M445.5 377.8V379.7M445.5 377.8H446.3M445.5 379.7H447.3M444.7 375.1V378.4M444.7 375.1H445.9M444.7 378.4H445.5M443.9 377.1V381.0M443.9 377.1H444.7M443.9 381.0H447.3M446.0 383.7V385.0M446.0 383.7H447.3M446.0 385.0H447.3M445.2 382.4V384.3M445.2 382.4H447.3M445.2 384.3H446.0M443.1 377.8V383.7M443.1 377.8H443.9M443.1 383.7H445.2M446.4 387.6V389.0M446.4 387.6H447.3M446.4 389.0H447.3M445.6 386.3V388.3M445.6 386.3H447.3M445.6 388.3H446.4M442.3 379.7V387.6M442.3 379.7H443.1M442.3 387.6H445.6M441.5 373.1V381.7M441.5 373.1H447.3M441.5 381.7H442.3M440.7 363.9V381.0M440.7 363.9H441.5M440.7 381.0H441.5M418.0 256.5V372.5M418.0 256.5H419.5M418.0 372.5H440.7M445.9 392.9V394.2M445.9 392.9H447.3M445.9 394.2H447.3M445.1 391.6V393.6M445.1 391.6H447.3M445.1 393.6H445.9M445.6 395.5V396.9M445.6 395.5H447.3M445.6 396.9H447.3M447.8 402.1V403.4M447.8 402.1H447.3M447.8 403.4H447.3M447.0 400.8V402.8M447.0 400.8H447.3M447.0 402.8H447.8M446.2 399.5V402.1M446.2 399.5H447.3M446.2 402.1H447.0M447.0 404.8V406.1M447.0 404.8H447.3M447.0 406.1H447.3M447.0 407.4V408.7M447.0 407.4H447.3M447.0 408.7H447.3M446.2 405.4V408.1M446.2 405.4H447.0M446.2 408.1H447.0M445.4 401.5V406.7M445.4 401.5H446.2M445.4 406.7H446.2M444.6 398.2V404.1M444.6 398.2H447.3M444.6 404.1H445.4M443.8 396.2V403.4M443.8 396.2H445.6M443.8 403.4H444.6M443.0 392.9V402.1M443.0 392.9H445.1M443.0 402.1H443.8M442.2 390.3V400.2M442.2 390.3H447.3M442.2 400.2H443.0M446.2 410.0V411.4M446.2 410.0H447.3M446.2 411.4H447.3M444.7 410.7V412.7M444.7 410.7H446.2M444.7 412.7H447.3M447.4 415.3V416.6M447.4 415.3H447.3M447.4 416.6H447.3M446.6 416.0V417.9M446.6 416.0H447.4M446.6 417.9H447.3M445.8 416.6V419.3M445.8 416.6H446.6M445.8 419.3H447.3M445.0 414.0V417.3M445.0 414.0H447.3M445.0 417.3H445.8M446.0 420.6V421.9M446.0 420.6H447.3M446.0 421.9H447.3M446.1 424.5V425.8M446.1 424.5H447.3M446.1 425.8H447.3M445.3 423.2V425.2M445.3 423.2H447.3M445.3 425.2H446.1M446.9 428.5V429.8M446.9 428.5H447.3M446.9 429.8H447.3M446.1 429.1V431.1M446.1 429.1H446.9M446.1 431.1H447.3M445.3 427.2V429.8M445.3 427.2H447.3M445.3 429.8H446.1M444.5 424.5V429.1M444.5 424.5H445.3M444.5 429.1H445.3M443.7 421.2V427.2M443.7 421.2H446.0M443.7 427.2H444.5M446.0 432.4V433.8M446.0 432.4H447.3M446.0 433.8H447.3M444.9 433.1V435.1M444.9 433.1H446.0M444.9 435.1H447.3M442.9 425.8V433.8M442.9 425.8H443.7M442.9 433.8H444.9M446.1 437.7V439.0M446.1 437.7H447.3M446.1 439.0H447.3M445.3 436.4V438.4M445.3 436.4H447.3M445.3 438.4H446.1M442.1 427.8V437.7M442.1 427.8H442.9M442.1 437.7H445.3M438.8 416.6V429.8M438.8 416.6H445.0M438.8 429.8H442.1M438.0 411.4V426.5M438.0 411.4H444.7M438.0 426.5H438.8M446.1 441.7V443.0M446.1 441.7H447.3M446.1 443.0H447.3M445.3 440.3V442.3M445.3 440.3H447.3M445.3 442.3H446.1M444.4 441.7V444.3M444.4 441.7H445.3M444.4 444.3H447.3M446.6 445.6V446.9M446.6 445.6H447.3M446.6 446.9H447.3M445.8 446.3V448.2M445.8 446.3H446.6M445.8 448.2H447.3M443.2 442.3V446.9M443.2 442.3H444.4M443.2 446.9H445.8M445.6 450.9V452.2M445.6 450.9H447.3M445.6 452.2H447.3M444.8 449.6V451.5M444.8 449.6H447.3M444.8 451.5H445.6M442.4 444.3V450.9M442.4 444.3H443.2M442.4 450.9H444.8M446.7 454.8V456.2M446.7 454.8H447.3M446.7 456.2H447.3M445.9 455.5V457.5M445.9 455.5H446.7M445.9 457.5H447.3M445.1 456.2V458.8M445.1 456.2H445.9M445.1 458.8H447.3M443.8 453.5V456.8M443.8 453.5H447.3M443.8 456.8H445.1M439.5 446.3V456.2M439.5 446.3H442.4M439.5 456.2H443.8M446.1 460.1V461.4M446.1 460.1H447.3M446.1 461.4H447.3M446.6 464.1V465.4M446.6 464.1H447.3M446.6 465.4H447.3M445.8 462.7V464.7M445.8 462.7H447.3M445.8 464.7H446.6M443.6 460.8V464.1M443.6 460.8H446.1M443.6 464.1H445.8M446.6 469.3V470.6M446.6 469.3H447.3M446.6 470.6H447.3M445.8 468.0V470.0M445.8 468.0H447.3M445.8 470.0H446.6M445.0 466.7V469.3M445.0 466.7H447.3M445.0 469.3H445.8M445.9 472.0V473.3M445.9 472.0H447.3M445.9 473.3H447.3M443.4 468.7V472.6M443.4 468.7H445.0M443.4 472.6H445.9M442.6 470.0V474.6M442.6 470.0H443.4M442.6 474.6H447.3M441.3 462.7V470.6M441.3 462.7H443.6M441.3 470.6H442.6M438.7 449.6V467.4M438.7 449.6H439.5M438.7 467.4H441.3M445.5 477.2V478.6M445.5 477.2H447.3M445.5 478.6H447.3M445.2 479.9V481.2M445.2 479.9H447.3M445.2 481.2H447.3M445.9 483.8V485.1M445.9 483.8H447.3M445.9 485.1H447.3M445.1 482.5V484.5M445.1 482.5H447.3M445.1 484.5H445.9M444.0 480.5V483.8M444.0 480.5H445.2M444.0 483.8H445.1M442.8 477.9V482.5M442.8 477.9H445.5M442.8 482.5H444.0M442.0 475.9V481.2M442.0 475.9H447.3M442.0 481.2H442.8M437.9 457.5V480.5M437.9 457.5H438.7M437.9 480.5H442.0M423.0 424.5V462.7M423.0 424.5H438.0M423.0 462.7H437.9M421.0 399.5V447.6M421.0 399.5H442.2M421.0 447.6H423.0M405.3 273.7V437.7M405.3 273.7H418.0M405.3 437.7H421.0" stroke="#7a7a7a" stroke-width="0.55" fill="none"/>
<path d="M99.9 91.3l-0.6 0.8l0.2 1l0.4-0.9l0.9-0.5l0.1 1l1-0.1l0.8-0.5M120.6 125.6l0.7 0.7l0.6 0.8l0.5 0.8l1 0.3l0.8 0.7l0.8 0.5l0.5 0.8M104.0 96.8l1 0l0.4 1l0.8 0.5l0.5 0.9l1-0.3l-0.6 0.8l0.5 0.9l-0.1 1l-0.5 0.9M125.7 100.2l-0.2 1l0.5 0.9l1 0.2l0.7 0.7l0.8-0.7l-0.2 1M147.8 107.7l-1-0.3l-0.8 0.6l-0.7 0.7l0.2 1l-0.6 0.8l0.7 0.7l0.8 0.6M122.4 48.8l0.5-0.8l1 0.3l0 1l0 1l0.9 0.3l0.5-0.9l-0.3-0.9l0.5-0.9l0.1-1M138.6 135.1l-0.4 0.9l-0.7 0.7l-1 0l-0.7 0.7l0.2-0.9M118.1 82.3l-1-0.2l-1 0l-0.8 0.6l0.2-1l-0.3-0.9l-0.4-0.9l0.9-0.3M125.9 60.4l0.8 0.6l0 1l-1-0.1l-0.9-0.4l-1-0.1l-1 0.2l-0.3 1l0.7 0.7l1 0.3M160.9 112.3l0.8-0.7l0.8 0.5l0.8 0.7l1-0.1l0.6-0.8l0.1-1l-0.4-0.9l0.4-0.9M154.0 61.6l1 0l1-0.2l0.7-0.7l0.3-1l0.9-0.2l0.9 0.5l0.8-0.7l0.9-0.3M112.8 102.8l-0.6 0.8l-0.7 0.7l-0.4 1l-1 0.1M177.7 94.6l-0.3 1l1 0.4l0.1-1l-0.3-1l0.3-1l-0.4-0.9l1 0.3l1 0.2l0.2 1M123.2 77.9l1-0.1l0.2 1l-0.6 0.8l0.7 0.6M135.3 92.9l-0.3-0.9l-0.3 0.9l0.4 0.9M106.6 69.4l0.6-0.8l0.9-0.3l1-0.4l0.9-0.3l1-0.1l0.9 0.5l0.5-0.8M131.5 45.6l1 0.1l1 0l0 1M113.4 59.8l-0.7 0.7l-1 0l-0.9-0.4l0.7-0.7l0.4 0.9l-0.2 0.9l-0.8 0.7l-0.4 0.9l0-1M132.4 94.2l-0.2-1l1-0.1l0.2-1l0.7-0.7M76.1 46.2l0.7 0.7l1 0.3l0.7-0.7M109.9 70.5l-0.9-0.5l-1-0.2l0.7 0.8l1 0.2l0.8 0.6M172.4 93.8l-1 0l-0.3 0.9l-0.8 0.6l0.7 0.7l0.9-0.4l1 0.2l-0.3-1l-0.3-1M123.7 107.5l0.2 1l-1 0.1l-1-0.2l-0.7 0.6l-0.9 0.5l-1 0.2l0.2 1M141.7 126.6l0.4 0.9l0.7 0.7l-0.1-1l-1-0.2l-1 0.1l-0.7-0.8l0-1l-0.7 0.7l-0.3 1M162.2 83.7l-1 0.2l-1-0.1l-0.8-0.7l-1-0.2l0.9-0.4l1-0.2l-0.1 1M156.6 122.9l0.6-0.8l-1 0.4l0.4-1l-0.9-0.4l-1 0.1l-1 0.1l0-1l1-0.2l0.7 0.7M140.5 126.5l0.9-0.4l0.1-1l-0.8-0.6l0.7 0.7M101.9 97.3l0.1 1M142.9 95.2l0.1 1l1-0.3l-0.8-0.6l-0.5-0.9M136.2 80.4l0 1l-0.1 1l0.6 0.8l-0.5-0.9l-0.7-0.7M179.7 90.7l-0.5 0.9l-0.9-0.3l-0.8 0.7l-0.4 0.9l-0.4 0.9l-0.7 0.7l0.5 0.9l0.4 0.9l-0.2 1M131.3 97.3l1 0l1-0.1l1-0.4l1 0.1l1 0.1l-0.7 0.8l0.1 1l-0.2 1l-0 1M153.3 116.5l0.1 1l-0.6 0.8l-0.6 0.8l-1 0.1l-0.7 0.7M181.5 66.4l-0.6 0.8l-0.9 0.3l-0.9-0.4M127.8 111.9l0.4-1l0.8-0.5l1-0.2l0.1 1l-1 0.4M139.8 45.4l-0.8-0.6l-0.7 0.7l-1 0.2M101.6 89.5l-0.4-0.9l-1-0.1l-0.7 0.7l0.8 0.7l0.5 0.8M156.5 90.5l-0.6 0.8l-1 0l-0.9-0.4l-1-0.1l0.4 0.9M153.0 111.4l-0.2 1l-0.3 1l0.7-0.8l-0.4-0.9l-1-0.1l-0.1 1l0.7 0.7l0.2 1M170.7 108.8l0.6-0.8l0.1-1l-0.6-0.9l0.3-0.9l-1 0.1l0-1l1 0M115.0 68.5l-0.8-0.6l0.5-0.9l0.9-0.5l1 0.3l0.9 0.3l0.2-1l-0.8-0.6l0.4 0.9l1 0.1M142.7 104.9l0.8-0.6l0.4-0.9l-0.2-1l0.3-0.9M137.6 93.9l0.6 0.8l-1-0.1l-0.5 0.8l-0.8 0.6l-0.9 0.2l-0.4 0.9l-0.9 0.3l-0.7 0.8l0.9 0.6M160.9 129.3l1 0.2l1 0.2l1 0.1l0.9 0.4M132.9 89.1l0.8-0.6l1-0.1l-0.6 0.8l0.3-1l-0.9-0.4l-0.3-1l0.4-0.9M154.5 49.0l-0.7 0.7l-0.9 0.5l0.5 0.9M111.7 69.7l0.9 0.4l-0.4-0.9l-0.8 0.5l-0.5 0.9l1 -0l0.2-1l0.8 0.7l-1 0.1l-0.4 0.9M125.8 114.3l0.2-1l1 0l0.9-0.4M130.5 39.8l1 0.1l0.9-0.4l0.6 0.8l0.6 0.8l0.9-0.3l0.7 0.8M162.6 72.2l0.9-0.5l-1 0.1l0.3-0.9l0.6-0.8l-0.3-1l-0.9 0.5l-0.1-1M138.4 49.7l-0.8-0.6l-0.6-0.8l0-1l0.5-0.9l0-1l0.1-1l1-0.1M122.0 108.5l-0.9 0.4l1-0.1l1 -0l0.7 0.7l1 0.1l0.9-0.6M112.3 45.1l-0.4-1l-0.6-0.8l-1 0.1l-0.9-0.3l-0.5 0.9l-1 0.1l-0.8 0.5l-0.9 0.5l-0.9-0.4M174.9 100.5l1 0.1l1 0.3l0.9-0.2l0.9-0.5l0.8-0.7l0.6-0.7l-0.8-0.7l-0.7-0.7M167.5 69.3l-1-0.2l-1-0.4l0.5 0.9l0.7-0.8l1 0.1l0.8 0.5l0.5 0.8l0.9 0.5M119.7 68.6l0.6 0.8l0.3-1l-0.9 0.5l-0.1-1M115.7 52.4l-1 0.1l0 1l0.1 1l-0.6 0.8l-0.4 0.9l1 0.2M161.4 74.3l0.5 0.9l0.2-1l0.9 0.2l0.3 1l0.7 0.6l1-0.2l-0.5-0.8l-1 0.3M181.9 102.4l-0.8-0.5l0.8-0.6l0.8 0.6l-0.2 0.9M83.3 41.2l1 0.1l0.8 0.6M106.4 55.1l-1-0.1l-1-0.3l-0.2 0.9l-0.5 0.9l0.8 0.5l0.6 0.8l-0.1 1M129.5 56.6l-0.4 0.9l-0.5 0.9l-0.1 1l0.9 0.4l0.7-0.7l-0.9-0.5l-0.9 0.4l0.9-0.5M126.7 73.5l1 0l0.8-0.5l0.2-1l1-0.2l0.2 1M164.6 78.2l-0.2-1l-0.2-1l0.8 0.7l-0.1 1M126.1 59.6l0.3-0.9l0-1l-0.5 0.9l-0.7-0.7M190.1 90.4l0.9-0.4l0.5 0.8l0.9 0.4l0.8 0.6l0.8-0.6l-0.6 0.8l-0.6 0.8M93.0 42.9l-1-0.1l-0.8-0.6l-0.6-0.8l0.2-1l-0.2-1l-0.2-0.9l-0.8-0.6M126.7 130.7l0.1 1l0 1l0.9-0.4l-1 0l-0.9 0.4l-0.9-0.4M90.0 66.2l-0.8 0.7l-1 0.1l1-0.1l1-0.1l1 0.1l0.8-0.6l0.9 0.1M177.0 113.3l-0.3-0.9l0.7-0.7l0-1M75.5 54.5l-0.9 0.4l1-0.2l1-0.2l0.6 0.8l-1 0.2l0.1 1l0.9-0.3l-0.2-1M127.5 60.8l-1 0l-0.9-0.3l-0.3 0.9l-0.9 0.5l0.3 1l0.3-0.9l0.6-0.8l-0.2-1M171.6 87.5l-0.7-0.7l-0.7-0.6l-1-0.3l-0.9-0.4l-0.6-0.8M136.7 114.1l0.2-1l-1-0.3l-0.4-0.9l-0.1-1l0.7-0.8l-0.8-0.6l1 0.1M140.1 76.6l-0.9 0.3l-0.8-0.6l-0.6 0.8l-0.3 0.9l-0.5 0.9l-0.7 0.7l0.1 0.9l0 1l1-0.1M104.5 66.7l0.4 0.9l0.7 0.7l-0.9 0.4l-1-0.2M155.9 72.6l0.6-0.8l0.1-1l-0.6-0.8l0.1-1l-0.3-1l-0.8 0.5l-0.5-0.9l-0.7-0.6l0-1M110.3 74.9l0-1l1-0.1l-1 0.2l-1 0.2l-1 0.3M125.1 138.9l0.9-0.2l0.8 0.6l0.5 0.9l0.9-0.6l0.3 0.9l0.2-1M156.7 102.4l0.9-0.4l0.3-0.9l-0.1-1l-0.6-0.8l0.4-1l1 0l0.8 0.5l0.3 1l0.1 1M82.6 44.9l0.5 0.9l-0.2 1l-0.6 0.8l1 0l-0.1-1l0.8-0.6l0.7-0.7M132.1 108.5l-0.8-0.7l-0.9-0.2l-0.6 0.8l-0.9 0.5l0 1M118.9 114.3l-0.3-1l1-0.4l-0.9 0.5l-1 0.1l-0.7 0.7l-0.7 0.8l-1 0l1 0.2M122.2 126.8l0.3 1l-0.6 0.8l-1 0l-0.4 0.9l0.1 1l0.4 0.9l1 0.1l0.1-1l0.4-0.9M111.4 96.3l-0.5 0.9l-1 0.3l-0.2 0.9l-1 0l1-0.1l0.9-0.4l0.4 0.9M104.1 45.8l-0.9 0.4l-0.9 0.5l0 1l0.7 0.7l0.5 0.9M85.9 68.7l0.9-0.3l0.9-0.5l0.6-0.8l0.4-0.9l-1 0.3l-0.7-0.7l-0.6-0.8M180.1 74.0l-0.3 1l-1-0.2l-0.8-0.6l0.6-0.8M119.6 93.1l-0.8-0.6l-0.9 0.4l-0.9-0.4l-0.4 1l1-0.2M145.0 48.3l0.3-0.9l0.3-1l0.6-0.8l0.9 0.5l0.9 0.5l0.7 0.7l0.7 0.7M126.8 71.8l-0.7-0.6l-0.5 0.8l-1 0.4l0.1-1M118.2 83.9l-0.9-0.5l-0.5-0.9l0.1-1l0.9-0.4M172.5 73.9l0.5-0.9l0.4-0.9l0.9 0.1l0.3-1l0.1-1l-0.9-0.4M125.7 43.0l-1 0.2l0.7-0.8l1 0.2M166.0 67.2l-0.1 1l0.4 1l0.9 0.2l0.2-1l0.8-0.6l0.3-1M111.0 102.6l-1-0.2l-0.8-0.6l-0.6 0.8l-0.3 1l-0.9 0.4l-1-0.1l0.8 0.7M139.1 63.3l-0.1-1l0.2-1l1 0.3l0.8-0.6l0.7 0.7l0.9-0.3l0.6-0.8M136.3 66.5l-0.8-0.4l-1 0.4l-0.6-0.8l-0.2-1l-0.5-0.8l0.3-1l0.8-0.6l0.2-1M120.6 55.4l1 0.3l-1 0.2l-0.5 0.8l1 0.2l1 0.3l0 1M98.0 63.3l1 0.2l0.8-0.6l0.6-0.8l1-0.1l0.9 0.5M116.4 57.6l-0.1-1l-0.9 0.2l-0.8 0.6l-0 1l0.9 0.5l-0.9 0.5l-1-0.3M180.8 85.5l0.2 1l0.9 0.4l-0.5 0.9l0.2-1l-0.8 0.7l1-0.4M131.8 51.8l-0.9 0.3l-0.9-0.5l-1-0.2l-0.7-0.7l-1-0.2l0.4-0.9l0.9 0.5l-1 0.2M117.7 37.0l-0.8 0.6l0.7 0.7l-1-0.1l-0.7 0.7l-0.9-0.3M157.2 112.0l0.4 0.9l0 1l-0.9 0.5l-0.9-0.4l0.9-0.4l0.7-0.7l-0.3-1M132.2 91.0l0.4-0.9l0.2-1l1 0l0.8 0.5l0.6 0.8l-0.7 0.7l-1 0.4M138.9 132.3l-0.8-0.6l-1-0.4l0.3-0.9l-0.1-1l-0.8-0.6l-0.8-0.5M88.2 72.4l0.9-0.2l0.9 0.5l-1 0.3l0.8 0.6l1 0.2l0.9-0.3l-0.7-0.7M98.3 81.9l-0.7 0.8l-0.8 0.5l-0.1-1l0.2-1l0.9 0.4l-0.9 0.6l0.4 1l-0.2 0.9l1 0.2M196.1 79.0l0.6 0.8l0.3 1l0.1 1l0.1 1l0.2 1l-0.1 1M163.8 54.9l-1-0.2l0.2-1l0.7-0.7l0.6-0.8l-0.8 0.6M95.3 49.6l-0.8-0.5l-0.5-0.8l0.3-1l0.9-0.4l0.9 0.3l-0-1M102.7 41.9l0.1-1l0.1-1l0.4-0.9M128.3 140.0l0.9 0.3l-0.8-0.6l-0.9-0.5l-0.8-0.5l-0.9 0.5l-0.3-1l0.4-0.9M74.8 55.4l0.3-1l-0.7-0.8l-0.6-0.7l-0.5-0.9l-0.4-0.9l0.4-1l-0.6-0.8M155.6 58.9l-0.9-0.3l-1 0.3l-0.9-0.5l-0.9 0.4l-0.7 0.7l-0.7 0.7l0.8 0.6M155.1 112.0l-1 0.2l-0.5 0.9l0.8 0.5l0.4 0.9l0.9 0.5M136.5 65.8l-0.3-0.9l0.4-0.9l0.4-1l-0.9-0.4l-0.9-0.5l-0.9-0.4l1 0.3M161.1 126.4l0.9-0.3l-0.3 0.9l0.9-0.3l1-0.3l1 0.2l0.6-0.8l-0.5-0.9l-0.9-0.4M153.5 44.8l0.1 1l1-0.2l1 0l0-1M151.0 41.4l-0.9-0.5l-0.8-0.6l-0.7 0.7l0.9-0.2l-0.4-0.9l0.4-0.9l-0.6-0.7M129.5 97.5l0.1 1l1 0l-0.2-1l-0.2-1l-0.9-0.4l-0.3-1l0.3-1l-0.8-0.5M166.9 110.3l-0.3-0.9l0.7-0.7l1-0.2l0.4-0.9l0.9-0.4l-0.4-0.9l-0.3 0.9M127.8 79.1l-1-0.1l-1-0.3l-1-0.1l0.5 0.9l1-0.3l0.3 0.9M104.4 56.2l-0.8 0.6l-1 0.3l-0.7-0.6l-0.7 0.7l0.4 0.9l-0.4 0.9l0.9 0.4M148.7 83.8l-1-0.4l-0.4-0.8l-0.8-0.7l0.7-0.6M146.3 134.9l-0.7-0.7l-1-0.1l-0.9-0.4l-0.7-0.8l1 0.2l0.7-0.8M126.6 132.8l0.8 0.6l1 0.2l0.2 0.9l-0.7 0.7l-0.5 0.9M100.7 56.5l0.6 0.7l-0.2 1l-0.6 0.8M141.8 75.6l-0.9-0.4l-1-0.3l-0.4-0.9l-0.7-0.7l0.8-0.6l0.9-0.4l0.1-1l-0.2-0.9l0.7-0.6M97.1 54.1l-0.2-1l0-1l0.8-0.6l0.2-1l-0.4-0.9l0.5 0.9M109.4 104.4l0.5-0.9l-1 0.2l-1 0.1l-0.5 0.9l-0.5 0.8l0.9 0.3M84.9 51.2l-1-0.3l-0.6-0.8l-1-0.2l0.2-1M121.9 68.6l-0.3 1l-0.8-0.5l-0.9-0.5l-0.8-0.5l-0.7-0.8l-0.9 0.4l-1-0.2l-0.8 0.5l-1 0.1M128.9 83.7l-0.7-0.7l-1 0l-0.2-1l-0.3-0.9l-0.4-0.9l0.6-0.8l0.9-0.5M99.4 90.0l0.2 0.9l0.9 0.4l-0.3 1l-0.8 0.5l-0.7-0.7l1 -0l1 -0M118.3 44.1l-0.9 0.4l-0.9 0.5l0.2 0.9l-0.1 1l0.9 0.5l0.3-1l0.9 0.4l-0.2 1M155.5 54.3l0.2 1l0 1l0.1 1l0.4 0.9l-0.3-1M165.7 99.5l-0.5-0.8l0.7-0.8l-0.7-0.7M167.1 79.5l1 0.3l1 0l0.1 1l-0.9 0.2l-0.8-0.6l0.2 0.9l0.4 0.9M125.9 74.6l0.6-0.8l0.3-0.9l1-0.2l1-0.1l0.6-0.8M117.5 52.4l0.7-0.7l0.5 0.9l0.9 0.2l0.9 0.5l-0.1 1l-0.6 0.8M147.1 71.9l-0.1 1l0.3 0.9l0.3 1l-0.7-0.7l-0.2 0.9l0.2 1M170.0 112.7l1 0.3l1-0.1l0-1M161.5 54.4l0.6 0.8l-0.3 1l0.3 0.9l-0.4-0.9l-0.5-0.8l-0.9-0.4l-1 0.4M156.8 45.3l0.3 1l0.5 0.8l0.9-0.2l1 0.2l-0.8 0.6l-1 0.1l-0.9 0.4M150.3 95.7l1 0.1l0.6-0.7l0.8-0.7l0.8-0.6l1-0.2l1 0.1l0.9-0.3M130.6 67.8l-0.8 0.7l-0.2-1l-0.5-0.9l-0.8-0.6l-0.8-0.6l-0.9 0.2l-0.9-0.4l-0.9-0.5l-1-0.2M144.3 48.6l0.6-0.8l-0.6-0.8l-0.3-0.9M188.4 77.8l0.9 0.4l0.7-0.7l0.4 0.9l0 1l0.7 0.7l0.3 0.9l-0.7 0.7l-1 -0l1-0.2M114.3 77.2l0.9 0.4l0.8-0.4l0.8 0.6l0.7 0.7l-0.1-1l-0.8-0.6l-0-1M148.9 57.2l0.8 0.5l0.2 1l-1 0l0.4-0.9l0.5 0.9l0.8 0.6l-0.1-1l-0.5-0.8M126.5 128.3l0.1-1l-0.2-1l-0.7-0.7l-0.2-0.9l-0.7-0.8M167.4 94.6l0.1 1l-0.8 0.5l0.6 0.8l1-0.2l-0.2-1M113.7 40.7l-0.5 0.8l0.5 0.9l-0.1 1l-0.9-0.6l-0.1-1l-1 0.3l-1-0.2M137.0 72.9l0.1-1l0.7-0.8l0.2-1l0.3-1l-1-0.2l-0.9-0.5l-0.9-0.4l-0.2-1M176.6 91.6l0.5 0.9l-0.5 0.8l-1-0.1l-1 0l1-0.2M173.6 83.6l-0.8 0.6l-0.2-1l-0.9 0.6l0.2 0.9l0.9 0.5l0.8 0.6l-0.2-1M156.4 126.7l0.9-0.5l0.2-1l-0.5-0.8M174.9 70.9l-0.1 1l-0.3 1l0.2 0.9M164.0 61.2l1 0.2l0.5-0.9l0.8 0.7l0 0.9l1 -0l0.7-0.7l-0.1-1M94.5 56.9l0.8 0.6l0.8 0.6l0.8-0.6l1 0.3M111.1 73.8l0.8 0.5l0.5 0.9l1 0.1M126.8 41.9l0.4-0.9l0.1-1l0.5-0.8M183.4 101.7l0.8-0.5l0.7 0.7l-0.9 0.4l0.6 0.8l-0.1 1l0.9 0.3M182.8 107.9l-0.7 0.8l-0.9-0.5l-0.8 0.4M121.7 124.7l-0.8-0.6l-0.4-0.8l0.8 0.5l0 1M122.1 97.6l0.3 0.9l-0.1 1l0.4 0.9l-0.8 0.7l-1 -0l-0.9-0.3M111.1 98.1l0.2 1l0.7 0.7l0.5 0.9l-0.9 0.2l-0.1 1l0.9 0.5l-0.3 1l-1 0M73.6 51.9l0.7-0.6l-0.1-1l0.7 0.7l0.6-0.8l-0.9-0.3l-0.3-1l-0.8 0.5l-0.3 1M110.7 95.1l-0.1-1l-0.5-0.8l-0.2-1l-1-0.1M135.2 42.2l0.9-0.3l0.4 0.9l0.8 0.6l0.8 0.6l0.3-0.9l0.7-0.7l0.7 0.6l0.9-0.5l0.3-1M154.8 130.8l1-0.1l0 1l0.8 0.7l0.7-0.7M100.4 87.2l-1-0.4l-0.9 0.3l0.3 1l-0.4 0.9l-0.9-0.3l-1-0.2M171.7 65.3l-0.9-0.4l-0.5-0.8l0.4-0.9l-0.1-1l-0.9 0.4l-0.9-0.6l-0.7 0.7l0.9 0.6M128.0 94.1l-0.6-0.8l0.1-1l-0.9 0.4l-1 0.3l-0.6 0.8l-0.4-0.9l-1-0.1l-1 0.3l-0.9 0.3M146.0 52.8l-0.8 0.6l0.7 0.6l-0.6 0.8l-1 0.1l-0.5 0.8l-0.4-0.8l-0.3-1M118.0 126.4l0.3 0.9l0.8 0.5l0.7-0.7l0.8 0.5l0.9-0.5l0.6 0.8l-1 0l-0.7 0.7l0.4 0.9M109.2 101.7l-0.7 0.7l-0.7 0.7l-0.7 0.7l0.6 0.8l-0.7 0.7l-0.2-0.9M101.4 67.3l0.1 1l-0.7-0.8l-0.6-0.8l-1 0.1l1-0.4l0.9 0.2M121.4 49.0l1 0.2l0.6 0.7l1 0.1M78.8 44.5l0.7-0.6l0.1 1l1 0.3l-1 0.3l-1-0.3l-0.6 0.8M112.3 43.5l-1-0.3l-0.7 0.7l0.4-0.9l0.8 0.6l0.9-0.5M129.3 63.9l0.8 0.6l-0.2 1l0.8-0.7M142.3 59.7l-1-0.2l-1 0.1l-0.9-0.3l-0.3 1M160.4 125.8l-0.1-1l-0.8 0.6l0-1l0.9-0.3l0.8-0.6M186.2 68.4l0.3-0.9l-0.8 0.6l0.3 1l-0.7 0.7l-1 0.2l-0.8 0.6M98.4 80.8l-0.8 0.7l-0.9 0.2l0 1l-0.9 0.4l-0.9-0.5M99.6 72.5l-0.4-1l0.1-0.9l-0.9-0.5l-1-0.3l-0.8 0.6l-0.7 0.7l-0.3 1l-1 0.1M123.1 124.9l-0.5 0.8l-0.9 0.5l-0.7-0.7l-0.5-0.9l0.1-1l-0.7-0.7l-0.9-0.3l0.8-0.6l1-0.3M137.6 48.1l0.6-0.7l0.8-0.7l0.9 0.4l-0.9-0.5l0.4-0.9l0.3-0.9M177.1 92.5l1-0.2l0.6 0.7l1 0.2l1 0.2M85.5 55.8l-1 0l0.1 1l-0.9 0.6l0.5 0.9l0.7 0.7l-1 0.4M152.0 88.1l0.1-0.9l0.2-1l-1 0l-0.1 1l-0.7 0.8l0.8 0.6l0.8-0.5M129.1 69.5l0.5-0.9l-0.4-0.9l-1-0.1l-1 0.2l-0.9 0.4M140.4 48.0l1 0.4l0.4 0.9l1-0.2l0.8 0.7l0.3 0.9l-0.9 0.6M153.8 49.2l-0.2 1l-0.3 0.9l-0.5 0.9l0.9 0.4l1-0.3M105.7 95.4l-0.5-0.8l0.7-0.7l0.6-0.8l0.3-0.9l-0.9-0.4l-1-0.2M92.9 59.4l-0.9-0.6l-0.8-0.5l-0.8-0.6l-0.9 0.3M127.6 66.7l0.9-0.4l0.8-0.7l0.5-0.8l-0.6-0.8l1-0.2l-0 1M141.2 105.6l-0.8 0.5l-1 0.3l-0.6 0.8l0.3 1l0.8 0.5l-0.7 0.7l-0.8 0.5l0.1 1l1-0.2M166.5 73.0l0.6 0.8l-1 0.3l-0.1 1l0.8 0.6l0.4 0.9l-0.6 0.8l0.2 1l0.1 1M156.3 81.4l-0.9-0.3l-1 0.1l-0.3-0.9l0.6-0.8l0.8-0.6M117.6 89.8l0.8 0.6l0.7 0.7l0.2 1l0.8 0.6l0.8-0.6M188.2 93.4l-0.3-0.9l0.7-0.8l-1-0.3l-0.5-0.9l1 0l0.7 0.7M135.1 83.6l-0.8-0.6l-1 0.3l-1 0.1l1 0.3l0.9 0.5l0.1 1l-0.2 1l-0.1 1M126.7 122.2l-0.3-1l0.9 0.5l0.9 0.4l1-0.1l-0.7-0.8l0.5-0.9l-0.2-1l0.8-0.6M145.7 62.3l0.7 0.7l-0.6 0.8l0.8 0.6l-0.8 0.6l0.9 0.5M130.8 92.4l-0.5 0.9l1 -0l-0.9 0.3l-1 0.2l-0.4 0.9l-0.9-0.4M121.5 113.1l-0.9 0.5l0.3 1l-0.7 0.6l-1-0.3M174.8 59.2l0.6-0.8l-0.9-0.4l-0.9 0.5l0.4-0.9l1 0.3l0.9-0.2l1 0.3M167.5 126.3l-1-0.2l0.7 0.7l0.3-1l0.8 0.6l0.3 0.9l1-0.2l0.8-0.6M123.1 97.3l0.8 0.7l0.9-0.4l-0.6-0.8l0.6-0.9l0.8-0.4l0-1l0-1l-1-0.3l-1-0.2M163.2 113.8l0.9 0.5l-0.1 1l-0.9 0.4l0 1l-0.3 1M110.9 71.6l-0.5-0.9l-0.6-0.8l-1-0.2l-0.7-0.6l0.9-0.4l0.5-0.9l-0.8-0.6l-0.9-0.2M149.2 64.4l1 0.1l-0.6 0.8l0.5-0.9M169.0 61.9l-0.8 0.5l-1 0l0 1l0.8-0.6l0.3-0.9l1-0.2M193.0 94.6l0.5-0.9l1 0.2l0.9-0.3l0.3-1l-0.7-0.7l-1 0.1l-0.7 0.7l-0.6 0.8M94.6 50.5l-0.8-0.6l-0.4-0.9l-0.2-1l0.6-0.8l0.5 0.9l1 0l-0.3 1l-1 0.1l0.6 0.8M172.8 108.5l-0.4-0.9l0.8-0.5l1-0.2l0.9-0.4l-0.5-0.8l-0.9 0.3l-0.9-0.5M125.9 62.1l0.6 0.8l1-0.2l-0.8-0.7l-1-0.1l-0.3 1M164.1 120.2l-0.5 0.8l-0.3 1l0.3-1l0.9-0.4l1 0.3l0.8-0.6M85.7 61.6l-0.3 1l-0.1 1l-0.4-0.9l-0.1-1l-1 0M149.0 122.5l0.6 0.8l0.2 0.9l-1 0.3l-0.4 1l-0.5 0.8l0.7 0.7l0.4 0.9M117.8 116.1l1-0.3l0.6-0.8l0.8-0.6l0.1 1M135.7 54.7l-0.7-0.8l0.2-0.9l-0.3-1M148.8 93.8l0.1-1l-0.4-0.9l0.8-0.5l-1-0.2l-0.8 0.5l-0.9 0.6l-0.8 0.4M121.5 128.0l-0.9-0.4l-0.7-0.7l0.1-1l-0.3-1M74.1 54.4l0.2 0.9l0.9 0.5l1 0.3l-0.1-1l-0.4-0.9l1-0.1l1-0.4l-0.3-0.9M185.5 66.5l-0.8 0.6l-1-0.1l-1 0.2l0.2 1l0.9 0.3l1 0.2l0.2 0.9M93.1 76.2l-0.9-0.5l-1-0.2l-0.2-1M138.3 71.4l-0.3-1l0.9-0.4l0.8-0.6l-0.9-0.4l-0.9 0.3l-1-0.2M167.5 103.4l-0.6-0.8l0.8 0.7l-0.4-0.9M163.0 101.7l0.8-0.7l0.9 0.4l-1-0.2l0.1-1M185.5 102.7l-1 0l-0.1-1l-0.6-0.9l-0.8-0.5l-1 0.2l-1 0M193.0 70.9l0.1-1l1 0.3l0.4-0.9l-1-0.1l-0.6-0.7M155.4 69.4l-0.5-0.9l-0.5 0.9l0.8 0.6l-0.2 0.9l-1-0.1l0.9-0.4l0.8-0.6l-0.9-0.5M140.4 140.4l0.3-1l1-0.2l-0 1l-0.8-0.6l-0.7-0.7M173.9 71.4l0.4-0.9l1 0l-0.5 0.9l-1-0.2l-0.1 1M176.6 62.6l0.1-0.9l-0.4-1l-0.4-0.9l-0.9-0.5l-0.8-0.6l-0.5-0.8l-0.4 0.9l-1-0.1l-0.2 1M107.1 56.5l0.9 0.4l0.8-0.6l0.6 0.8l-0.4-0.9l1-0.3l0.2 1l1-0.1M137.6 37.1l1 0.3l0.9 0.1l1 0l0.9 0.4l0.3 1l0.4 0.9M138.8 95.3l-0.5-0.8l-0.9-0.5l-0.9-0.3l-0.8-0.6l0-1M125.7 91.4l0.4 0.9l1-0.4l0.3-0.9l1-0.1l0.8 0.6M172.0 81.7l0.7 0.6l0.7-0.7l1 0.4l0.8 0.5l-0.3 0.9l-0.3 1l-0.7 0.7l-1-0.1M108.7 48.1l-0.7 0.7l-0.4 0.9l-0.3 1l0.2 0.9M175.2 77.1l0.2 1l0.2 1l0 1M175.5 79.4l0.8-0.5l0.6-0.8l-0.3-1l0.6-0.8l0.8-0.6l0.8 0.7l0.9-0.4l-0.6 0.8l-0.2-0.9M133.3 116.8l-0.5-0.9l-0.7 0.7l-0.5 0.9l-0.7 0.7l-0.9 0.3l-0.6-0.8l0.5-0.8l-0-1l0.4-0.9M101.9 58.1l-0.3-1l-0.7 0.7l0.4 0.9l0.8 0.5l0.5-0.9M166.5 91.2l0.8-0.7l0.9 0.5l-0.4 0.9l0.1 1l0.6 0.8l0.6 0.8l-0.5 0.8M122.6 50.6l-1 0.1l-0.2 1l0.3 0.9l0.9 0.3l0.3 1M140.9 97.9l-0.6-0.8l1-0.1l0.9 0.4l-0.6-0.8M106.5 52.0l-0.8-0.6l-1 0l0.6-0.9l0.6 0.8l-0.4 0.9l0.6 0.8l0.9 0.4M152.7 123.9l-1 0.4l-0.2-1l-0.1-1l-0.2-1l-0.8-0.6l-0.7-0.7l1-0.2l1-0.3l0.5-0.9M162.0 67.2l-1 0.1l-0.3-0.9l0.2-1l0.2-1l-1 0.1l-1-0.1l-0.9 0.5l-0.8 0.5M126.6 42.0l1 0.1l0.3-1l0.9 0.4M181.9 113.6l-0.4 0.9l-0.8-0.5l0.3-1l-1 0.3l-0.7-0.7l-0.8-0.5l-1 0.2M154.1 48.2l-0.8-0.5l-1 0l-0.6 0.8l-1-0.2l0.7-0.7l0.9-0.4l0.7-0.7l0.2 1l0.5 0.9M113.5 81.1l0.6-0.7l-0.1-1l0.9-0.4l0.8 0.5l0.8 0.6l0.4 1M110.4 81.7l0.9 0.4l0.3 0.9l0.8 0.6l-0.3-0.9l-0.9-0.4l-0.8 0.7l-0.6 0.7M117.9 107.8l1 0.1l1-0.4l0.9 0.3l0.8-0.6l0.4-1l-1-0.1l-0.9 0.4M130.1 52.6l-0.3-0.9l0-1l0.9-0.3l0.9-0.6l0.5-0.9l0.9 0.4l-0.2-1l0.9-0.5M129.0 47.1l-0.7 0.8l0.3 0.9l-0.3 1l0.7 0.6l0.5 0.9l0.8 0.6l-0.8-0.6M116.6 55.5l0 1l0.4 1l-1 0.4l1-0.2l1-0.2M171.1 108.2l-0.6 0.8l-0.2 1l-0.6 0.8l-0.9-0.3l-0.9 0.5l-0.7 0.6M155.6 131.1l0.3-0.9l0.8 0.5l0.6 0.8l1-0.1l1 0.1M141.3 108.4l-0.1 1l0.1 1l-0.8-0.5l-0.2-1l-1-0.1l0.8-0.5M116.6 52.3l-0.4-0.9l-0.7-0.7l-1 0.3M168.7 58.9l1 0l0.7 0.7l-0.7-0.6l-0.5-0.9l0.4-0.9l1-0.4l-0.3-0.9l-0.2-1l-0.1-1M134.2 39.1l0.2-1l1 0l-0.3 1l1-0.1l-1-0.2M141.8 48.7l0 1l-0.4 0.9l-0.6 0.8l0.9 0.4l0.7 0.7l0.3-1M150.4 107.1l-0.2-1l-0.8-0.7l0.9-0.4l0.5-0.9l1 0M134.8 117.9l-0.5-0.9l0.7-0.8l0.3-0.9l-0.5-0.9M154.5 122.9l0.3 1l-0.8-0.7l-0.6-0.8M85.1 46.4l0.8 0.6l1-0.4l0.8 0.5M111.2 112.1l0.5-0.8l0.9-0.5l-0.2-0.9M150.0 44.0l-0.6 0.8l-1 0l-0.7 0.7M174.2 86.0l0 1l0.3 1l0 1l0 1l0.5 0.8l1 0.1l0.9 0.4l0.7 0.8M144.3 120.3l-0.5 0.9l-0.9 0.4l0.4 0.9l0.7 0.7l0.5 0.9l0.8-0.6l1 0.2l0 1M91.9 71.9l-0.8 0.6l0.2 1l0.9-0.6l0.9 0.4l0.1-1l-0.1-1l-0.8-0.6l0.5-0.9l-1 0.3M114.7 119.0l0.9 0.3l0.9-0.4l1-0.2l0.8 0.6M121.8 82.3l-0.4-0.9l0.4-0.9l0.4 0.9l1 0.4l0 1M139.3 128.8l0.5 0.9l1 -0l0.9-0.5l0.1-1l0.6-0.8l1-0.1M102.5 75.1l0.8 0.5l0.9 0.4l1-0.1l0.9 0.5l-0.1-0.9l0.2-1l-0.3-1l-0.8 0.6l0.9-0.5M121.0 91.6l-0.1-1l0.7-0.7l-0.8-0.5l-0.6-0.8l-0.5-0.9l0.3-0.9M141.1 62.3l-0.7 0.6l-1-0.3l-1-0.2l-0.9-0.3l-1-0.2l-0.9 0.4l-0.5-0.8l-1 0.1M172.3 88.6l-1 0.2l-0.8 0.6l1-0.3l1-0.2l0.1-1l-0.3-0.9l-1-0.1l0.3 1M127.7 76.6l-0.7-0.7l0.1-1l0.9 0.6l1 0.1l0.7-0.7l0.6 0.8M88.3 45.3l0.8 0.7l0.8-0.7l0.1-0.9l-0.3-1l-0.9-0.4l-0.2 0.9M89.5 47.7l-0.9 0.5l0.3 1l0.7-0.7l0.3-1l0.9-0.3M116.5 83.9l-1 0l-1 0.1l-0.2 1l0.5 0.8l-1 0M172.7 74.7l1 0.2l1 0.3l0-1l-0.9-0.2M111.9 48.0l0.8-0.5l0.9 0.5l-1 0.1l0.6-0.8l0.6-0.8M181.1 67.4l0.9 0.4l1-0.3l0.2 1l0.5-0.9M110.4 73.1l1 0l-0.5 0.9l0.1-1M108.3 80.1l-0.8 0.5l-1-0.4l-0.3 1l-0.4-0.9l-0.3 0.9l-1 0.2l0 1M120.8 89.8l0.7 0.8l1 0l1 0l0.6-0.8l0.5-0.9l0.3-0.9l1-0.2M114.2 59.3l0.9 0.4l0.8-0.6l0.9 0.4M85.7 56.8l0.6-0.8l0.4 0.9l0.9 0.5M143.0 93.7l1 0.3l-1 0.4l0.1 1l0.9 0.4M135.7 134.7l-0.7-0.8l-0.1-1l0.1-1l0.2-0.9l-0.8-0.7l0.4-0.9l0.7 0.7l1 0l0.7 0.6M165.7 54.7l0.8 0.7l-0.9 0.6l-0.9 0.3l0.6-0.8l0.9 0.3l-0.3 1l0.8 0.6l0.4 0.9l0.9 0.5M97.6 77.0l0.7-0.7l-0.2-1l-0.8-0.6l-1-0.2l-0.8 0.6l-0.7 0.7l0.2 1l0.7-0.7M149.0 82.6l0.1-1l-0.4-0.9l0.3-0.9l0.5 0.9l0.8-0.5M125.7 47.5l0.2-1l-0.8-0.6l-0.9-0.5l-0.1-1l0.3-1l0.9-0.3l0.1-1l0.2-1M139.8 105.4l-0.9 0.5l-0.9 0.4l-0.2 0.9l-0.1 1M166.9 105.9l0.3-1l0.6 0.8l0.9 0.5l0.9-0.2l1-0.2l0.9-0.4l-0.2-1l-0.4 0.9l0.7 0.7M154.7 76.9l0.7 0.7l0.8 0.6l0 1l0 1l0.2-1M148.3 129.9l0.2 0.9l0 1l0.9-0.2l0.9 0.4l0.6 0.9l-0.4 0.9l0.9 0.3M153.3 125.5l-0.2-1l0.1-1l1-0.3l0.4 0.9l-0.9-0.5M126.6 76.3l0.6-0.8l-0.8-0.6l-1 0l-1-0.1l0.7-0.7l0.2-0.9l0.4-1l0.7-0.6l0.6-0.8M112.5 57.2l0.9 0.4l-0.7 0.7l-1-0.3l-0.4 0.9l0.3 0.9l-0.2-1l1 0.1M124.4 40.4l0.2 0.9l0.9 0.5l1 0.1l1 0.2M112.7 49.3l-0.6-0.7l0.5-0.9l0.8 0.5l1-0.3M138.5 111.3l0.8 0.6l0.1 1l0.8 0.6l1 0.1M137.7 78.2l-0.6-0.8l-1 0l-0.8-0.6l-0.6-0.8l-0.4 1M135.6 98.9l-0.8 0.6l-0.8 0.6l-1 0l-1-0.3l-0.8-0.6l-0.9 0.5l0.4 1M98.2 47.6l-0.9 0.5l-0.2 1l-1-0.2l0.3-1l-0.2-1M159.5 90.3l-0.6 0.8l0.7 0.8l-0.5-0.9l1 0.1l1 0.2l0.7 0.8l-0.2 1l-0.5 0.8M162.3 51.3l1-0.2l0.7-0.7l0.8 0.7l0.9-0.3l1-0.1l1-0.1l0.4 0.9l0.8-0.6l-0.1-1M100.6 84.8l-1 0.1l0.7 0.7l0.4 0.9M192.6 74.4l-0.4 0.9l-1 0.1l-0.7-0.7l-1-0.3l-0.8-0.5M156.3 74.2l-0.4 0.9l-0.8 0.6l-0.9 0.4l-0.5-0.8l-0.6-0.8l-0.6 0.8l-0.9-0.3l-0.4-1M184.5 77.2l0.8-0.6l0.7 0.7l0-1M129.4 116.6l0.9-0.4l0.3-0.9l0.5-0.9M157.7 89.7l1-0.1l0.5-0.8l-0.6-0.8l0 1M151.3 56.5l0.6-0.8l-0.9-0.5l0.4-0.9l0.9 0.4l0.8 0.6l0.1 1l-0.7 0.6l-0.8-0.6l-0.7-0.8M176.6 116.2l-1 0l-0.8 0.6l0.5 0.9M111.8 60.6l-0.3-1l-0.1-1l0.9-0.5l-0.1-1l-0.6-0.8l-1-0.4l-1 -0l-1-0.1M124.9 58.5l-0.3 0.9l-0-1l0.8-0.5l1 0.3M109.0 44.0l-0.8 0.6l0.6 0.8l0.9 0.4l-0.6-0.8l-1 0.3l-0.6-0.8l-0.2-1l0.3-0.9M135.2 93.7l0.6-0.8l-0.6-0.9l0.3-0.9l-1 0.1M139.9 120.7l0 1l-0.1 1l-0.9-0.6l0.2-0.9l0.6 0.8l1-0.1l0.9-0.4l0.3 1l-0.8-0.6M156.4 81.9l0.1 1l0.4 0.9l-0.3 0.9l-0.3 1l1-0.2l0.9-0.3l0.1-1M131.1 100.7l0.8-0.6l1-0.2l0-1l-1 0.2l0.5-0.9l1-0.1l0.8-0.5l1-0.3M178.4 118.7l-0.2-1l-0.8-0.6l0.7-0.7M131.2 67.1l0.2-1l-0.7-0.8l-0.4-0.9l-0.9-0.3l-0.6-0.9l-0.7-0.7l0.7-0.7l1 0l0.9 0.3M121.7 109.7l1 0l1-0.3l0.9-0.4l0.9 0.3l1-0.3M154.9 60.6l-0.8 0.7l-0.5 0.8l-0.8 0.6M144.3 101.4l-0.3-1l0.7-0.8l1 -0M163.7 57.4l0.9 0.4l0.8-0.6l-0.1-1l-1-0.3l0.2-1l-0.2-0.9M135.6 86.7l-0.7-0.7l-0.2 1l0.7 0.7l0.9 0.3l1 0.3M141.4 48.1l1-0.2l0.6 0.8l-0.1 1l0.9 0.4l0.5 0.8l0.6 0.8M102.1 68.4l-0.3 1l1 0l0.7-0.8l0.9-0.3l-0.8-0.6l-0.9-0.3l-0.3-1M96.5 57.0l0.3-1l-1-0.3l-1 0.1M164.0 60.1l0.5-0.8l0.8 0.6l-0.5-0.9l0.6-0.7l-0.9-0.5l1-0.3l-0.3-0.9M187.2 102.7l-0.9-0.3l-1 0.1l-0.7 0.7l-0.7-0.7l-0.6-0.8l0-1l-0.7 0.7l-1-0.1l-0.8 0.6M106.7 97.7l-0.5-0.8l-1-0.1l0-1l-1 0.1l-0.4 1l-0.5 0.8l0.5 0.9M113.7 64.6l0.9 0.4l0.9 0.3l-0.3 0.9M153.0 123.5l0.2 0.9l0.3 1l-0.7 0.8M137.4 77.7l0.4 0.9l0.2 1l-0.8 0.6l0.8 0.6l-1-0.1l-0.7 0.7l-0.3 1l-0.4 0.9M123.3 106.5l-0.8 0.6l1 0.3l0.7 0.7M138.2 140.3l-0.5-0.8l1 0.1l0.4 0.9l0.6-0.8l0.3-0.9l-0.8-0.7M108.4 85.0l1 0l1-0.1l0.3-0.9l0.3-1l0.8-0.6M182.8 78.7l0.6 0.8l1 0l-0.1 1l0.5 0.9l0.6 0.7l-1 0.3l0.1 1l0.9 0.2l0.5 0.9M155.8 79.9l0.5-0.8l0.9-0.5l-0-1l1 -0l0.3 1l-0-1l-0.6 0.7l-0.4 0.9l-0.8-0.6M123.7 129.9l-0.3 1l-0.4 0.9l1-0.2M85.6 46.9l1 0.3l-0.5 0.9l-0.8-0.5l1 0l0 1l-0.6 0.8M182.2 111.6l0.9-0.5l-0.7 0.7l-0.6 0.8l-0.4 0.9l-0.7-0.7l-1-0.3l-0.1-1M146.9 138.8l-1-0.2l-0.9-0.2l-0.9 0.5l-0.7 0.7l-0.8 0.7M147.6 74.3l-0.6-0.8l-0.2-1l0.6-0.7l-0.6-0.9M112.8 73.0l0.8-0.5l0.1-1l-0.7-0.7M179.1 72.2l0.9 0.5l0.6 0.8l0 1l-0.8-0.7l-0.9 0.3l0.9-0.4l1-0.1l-1-0.3M106.3 68.7l-0.9 0.4l-0.6 0.8l0.1 1l0.5 0.9l-0.3 0.9M153.6 110.1l-0.9-0.4l-0.9-0.4l1 0M139.3 100.6l-0.2-0.9l0.8-0.6l1 0l0.5-0.9l0.6-0.8l-0.1-1M109.1 63.9l0.7 0.8l1 0.2l-0.4-0.9l-0.2 0.9l0.4 1l0.1 1M85.0 50.3l-0.1-1l0.4-0.9l-0.4-1l0-1l-0.6-0.8l1-0.4M111.2 58.5l-0.8 0.6l-0.9 0.4l-0.1 1l0.2 1l-0.7 0.6M126.1 58.7l0.8 0.5l1-0.1l-0.7-0.7l-1 0.1M99.5 50.4l0.7 0.7l-0.9 0.4l0.1 1l-0.2 1M136.7 93.6l0.7-0.7l-0.8-0.7l0.6-0.8l0.4-0.9M118.0 119.9l-0.9-0.5l0.9 0.5l0.7 0.7l-0.7 0.7l0-1l-0.1-1l-0.7-0.7M147.6 40.8l0.9-0.5l0.9 0.4l0.4 0.9l-1-0.1l-0.8 0.7M180.8 72.7l0.9-0.4l-0 1l-1 0.1l-0.5-0.8l-0.9 0.4M108.6 78.7l0.6-0.8l1-0.2l0.6-0.8l-0.3-0.9M181.6 58.4l-1 0.3l-0.4 0.9M146.3 112.3l0.4-0.9l-0.7-0.7l-0.2 0.9l-0.6 0.9l0.1 1l0.9-0.4l0.9 0.5l1 0M110.5 106.2l-0.8 0.6l-0.1 1l-0.1 1l-1 0l0.9-0.5l0.2-1l-0.9-0.1l-0.4 0.9M142.3 49.4l-0.9 0.5l0.3 0.9l0.4-0.9l0.2-0.9l-0.2-1l-0.8-0.5l0.1-1l1-0.1l-0.5 0.8M115.8 71.4l-0.7 0.6l-1-0.3l0.8 0.6l-0.5-0.9l0 1l1 0.2l0.9-0.5l0.9-0.1l1 0.2M159.4 109.6l-0.7-0.7l-0.4 0.9l-0.9-0.5l-1 0M114.2 101.7l-0.3 0.9l-0.4 1l-0.6-0.8l-0.3-1l-0-1l-0.9-0.4M136.3 62.3l0.9-0.4l0.7-0.7l-0.2 1M171.0 59.0l0.1 1l0.4 0.9l0.1 1l-1 0.1l0.1 1l-0.6 0.8M104.3 37.7l-0.8 0.5l0.3 1l0.5 0.9l0.1 1l0.2 1l0.9-0.5M94.5 55.9l1 0.1l1 0.2l0.3-1l-0.2-1l0-1l0.8-0.5l0.5-0.9l-0.9-0.2M166.7 49.4l-0.4-0.9l-0.9 0.4l-0.9 0.6M102.5 63.1l0.8-0.5l0.9-0.5l0.2 0.9l0.5 0.9l-0.5 0.8l-0.1 1l-0.9-0.4M142.1 78.3l0-1l-0.9-0.3l0.4 0.9l-0.8 0.6l-0.8 0.6l-0.5-0.8l0.9-0.4l0.9-0.4M195.2 75.3l0.6 0.7l0.6 0.8l0.5 0.9l0.1 1l-0.4 0.9l0.8 0.5M113.5 76.8l0.8-0.7l0.9 0.4l0.9 0.4l0.6 0.8l0.1 1l-1-0.1l-0.6 0.8l-1 0.1M99.0 60.4l-0.3-1l0.4-0.9l-0.5-0.9l-0.9-0.4M165.1 94.0l-0.8-0.6l-1-0.3l-0.4-0.9l0.9-0.2l1 0.1l1 0l0.4 0.9l1 0.1l1-0.3M117.3 103.1l-1 0l-0.7 0.7l-0.8-0.7l-0.8-0.4l0.2-1l1 0.3M149.1 96.5l-0.8-0.6l0.8-0.6l0.8-0.6l0.8-0.6l0.9-0.4M92.1 73.6l-1-0.3l-1 0.2l-1 0M88.5 53.9l0.3-0.9l0.8-0.7l0.9-0.4l0.5-0.8l-0.2 1l-0.3 0.9l-1 0.1l-0.6 0.8M194.0 84.6l-0.9-0.4l-0.1 1l-0.8-0.6M146.1 64.4l0.3-0.9l0.2-1l-0.1-1l-0.9-0.4l-1 0.1l-1 0.1l-0.9-0.3M144.3 61.6l-1 0.2l-0.2-1l-1-0.1l0.1 1l-0.4 0.9M128.7 112.0l0.1 1l0.3-1l0.5-0.8l0.6-0.8l0.9-0.5l1 0.2l1-0.1l0.6-0.7M179.4 81.3l0.8-0.7l1 0.1l0.9-0.5M150.0 101.4l1-0.1l0.3 1l-0.4 0.9M107.8 68.0l0.7 0.7l-1 0.2l0.8 0.6M155.4 85.6l0.4 0.9l0.6-0.8l1 0.1l1 0l1-0.1l0.6-0.8l-0.3-1l-0.7-0.6l-0.9 0.5M134.4 48.0l0 1l0.5 0.8l0.4 0.9l0 1l0.6 0.8l0.8-0.6l-0.8-0.6l-1-0.3M140.4 43.2l0.2 1l0.9 0.3l0.9 0.4l-0.8-0.6M186.2 75.2l-1 0.3l-0.6 0.8l0.2 1l1 0.2l0.7 0.7l0.8 0.5l0.6 0.8M123.9 56.9l-0.4-0.9l-1-0.1l-0.7 0.7l-0.7 0.7l0.8 0.7l0.7 0.7l0.9 0.4l0.5 0.8l0.5 0.9M169.2 72.7l0.6-0.8l-0.8-0.6l0 1l0.9 0.2l0.4 1l-0.1 1l1 -0l0.8-0.7l0.7-0.7M157.6 111.1l-0.9-0.4l-0.6-0.8l0.7-0.6l1 0M114.3 44.6l-1 0.2l0.3 1l0.9 0.4M178.1 91.7l-1 0.2l-0.7 0.7l0.6 0.8l-0.8 0.7l-0.4 0.9l-0.8 0.6l-0.9 0.5M168.3 86.0l0.4 0.9l-0.3 1l-0.3 0.9l0.9-0.4l0.7-0.7l0.8-0.6l0.8-0.7l0.6-0.7l0.3 0.9M185.2 76.0l0.1 1l0.3 1l-0.9 0.4l-0.6 0.8l-0.8 0.7l-1 0.1M83.5 50.4l0.9-0.4l0.6 0.7l-0.9 0.5l-0.5 0.8M174.6 88.1l-0.9-0.4l0.8 0.6l-0.3-0.9l1-0.1l0.8 0.6l0.8-0.6l1 0.3M160.1 107.6l0.8 0.6l0.6 0.8l-0.2 1l-0.9-0.2l-0.3-1l0.9-0.5l0.5 0.8M151.2 104.3l-0.3-0.9l-1 0.1l-0.9-0.5M118.0 63.3l0.3 0.9l-0.9 0.5l-0.9 0.2l0.1-1l0.9-0.4l0.7 0.7l-1 0.1M154.6 108.1l-0.1 0.9l-0.9 0.6l1 0.1l-0.2-1l-1-0.1l1 0.2l-0.4 0.9l0.1 1M156.0 107.6l0.3-0.9l0.9-0.5l-0.7-0.8M190.6 82.5l0.9-0.4l-0.7-0.8l-1 0.1l-0.9 0.3l-0.8-0.7M153.8 126.0l0.8-0.5l0.8-0.6l1-0.1l0.4-1l0.9-0.4l0.9 0.4l0.7-0.7l-0.2-0.9l-0.9 0.3M197.3 76.0l1-0.2l0.4 0.9l-0.6 0.8l-1-0.1l0.8-0.6M127.9 125.8l0.8 0.5l-0.9-0.3l-1 0.3l0.1 1l-0.8 0.6l-0.9-0.4l-0.2-1l-0.8-0.5M114.1 84.6l0.9 0.4l0.9 0.2l0.9 0.6l0.9 0.3l0.7 0.7l0.7 0.7l-0.7 0.7l-0 1M82.8 61.5l0.5-0.9l-0.3-0.9l-1-0.2l-0.4-0.9M121.2 127.0l0.2-1l0.2-1l1-0.1M133.2 139.8l0.8 0.6l-0.1-1l-0.2-1l0.9-0.3l-0.2 1M165.4 82.9l0.4-0.9l0.9 0.4l0.9 0.4l0.6 0.8l-0-1l0.3-1l-0.4-0.9l-0.3-1M182.4 111.6l-0.5 0.8l-0.9 0.6l-1-0.2l-0.5-0.8l-0.6-0.8l1-0.1l-0.6 0.8l-1-0.1l-0.5 0.9M172.2 85.9l-0.5 0.8l0.6 0.8l1 0.1M104.8 94.6l-0.2-1l0-1l1-0.1l0.8-0.7l0.9-0.2l1 0M167.2 121.3l-0.2-1l1-0.2l0.9 0.5l0.4 0.9l1 0M131.8 107.2l-1 0l-1-0.3l-0.7 0.7l-0.5 0.8l-0.8 0.7l-0.4-0.9l-1-0.3M162.7 120.1l-0.6 0.8l0.2 1l-1-0.3l-0.8-0.5l-1-0.2l-0.7-0.7l-0.8-0.6l-0.8-0.7l-0.4-0.9M103.9 93.9l-0.7-0.7l-0.3-1l-1 0.2l-0.5 0.9l-0.6 0.8M154.7 98.4l0.6 0.8l0.1 1l-1 0.2l-0.4-0.9l-0.8-0.6M137.6 89.9l-0.9 0.6l-0.9 0.1l-1-0.1M147.1 124.9l0.6-0.8l0.5-0.9l0.9 0.5l1-0.3l0.8 0.5l-0.7-0.7l-0.7-0.7l-0.6 0.8l-0.6 0.8M175.7 100.8l-0.8-0.5l-1 0l-0.4 0.9l0.9-0.3l-0.1-1l0.6 0.8l1 0.2l0 1l0.5-0.9M135.5 125.3l0.8-0.6l0.9-0.4l0.8 0.6l-0 1l-0.3 0.9M119.7 96.7l1 0l1-0.3l1 0.3l0.8 0.5l0.4-1l-1-0.2l-0.9-0.4l1 0.1l0.7-0.8M174.3 112.4l0.9 0.6l0.9 0.4l0.9 0.2l0.9 0.6l0.9 0.3l0.7 0.7l-0.6 0.8l-0.2-1M153.1 78.9l-0.7 0.7l0 1l-1-0.2l-0.6 0.8l-1-0.1l0.4 1l-0.7 0.7l-0.9-0.5M167.3 63.1l0.8-0.6l-0.3-0.9l-0.9-0.4l-0.8-0.5M130.3 91.5l-0.8 0.6l-0.8 0.6l0.5 0.9l-0.4 0.9l-0.8-0.6l-0.4-0.9l-0.5-0.9l0.1-1M116.5 69.2l0.9-0.1l0.8 0.6l0.4 1l-0.1 1l0.9 0.5M120.2 111.0l-0.7-0.7l-0.4 0.9l-0.9 0.5l0.9-0.3l-0.9-0.4l-0.8-0.6l-0.6-0.8l-1 0.3M168.5 84.9l0.9 0.5l0.7 0.6l0.6-0.8l-0.3-0.9l-0.1-1l1-0.1l1-0.1l1-0.1M134.0 110.6l-0.6 0.8l-0.8-0.6l-0.1-1l-0.2-1l-0.3 1l-1-0.1M190.5 80.5l-1-0.2l0.1-1l0.4-0.9M162.2 90.6l1 0l0.8-0.7l0.8 0.6l1-0.1l1-0.1l1 0l0.4 0.9M183.8 72.4l-0.5-0.9l0.2-0.9l0.9-0.5l-0.3-0.9l-0.9-0.3l-0.9 0.5M93.9 71.0l-0.5 0.8l0.7 0.7l-0.8 0.6l-1 0.1l-0.4 1M157.7 72.9l0.5 0.9l0.1 1l-0.9 0.4l-1 0.2l-0.3-1M133.3 133.1l-0.7-0.8l-0.6-0.7l-0.8-0.7l-0.8-0.6l0.6 0.8l0.1 1l0.7-0.7M81.5 41.7l0.9-0.4l0.5 0.8l1-0.4l0.7-0.7l0.6 0.7M141.3 102.1l0.9 0.5l1 0.1l0.9-0.3l0.8-0.7l0.9-0.3l0.7-0.7M91.2 62.5l0.8 0.6l1 0l1 0.3l0.4-0.9l1 0.4l-1-0.3l-0.8-0.6l0.5-0.9M107.1 90.5l-0.7-0.8l-1-0.2l-0.8-0.4M107.8 56.3l0.9-0.5l0.9-0.4l0.7 0.6l0.8 0.7l0.4 0.9l-0.2 1M166.5 78.4l0.6-0.8l1 -0l-0.3 1l-0.9 0.3l-1-0.3l-0.7-0.7l-0.3-1l0.9-0.4M172.0 120.4l0.5 0.9l1 -0l0.7 0.6l1-0.1M181.2 86.2l0.9-0.4l0.9-0.5l0.5-0.8l-0.1-1l0.7-0.8l1 0.2l0.8 0.5l0.9-0.5l0-1M160.4 68.6l-1 0l0.1 1l-0.5 0.9l-1 0.3l-0.5-0.9l-0.1-1l0.9-0.4M116.6 73.2l-0.9-0.4l-0.7-0.8l0.2-1M170.0 106.7l-0.4-0.9l-0.8-0.7l0.8-0.6l-0.7-0.8l-0.5-0.9M112.1 35.6l0.2-1l-0.1-1M120.4 103.7l-0.1 1l0.6 0.8l-0.2 1M119.6 121.4l0.9 0.4l0.8 0.6l0.5 0.8l0.2 1l0 1l0.8 0.6l1 0.2M148.4 108.0l-0.9 0.5l-0.5 0.8l-0.5 0.9l-0.4 0.9l-0.7 0.7l0.7 0.8l1 -0l1-0.2M158.5 87.0l-0.4 0.9l1-0.1l0.9 0.5M128.7 54.4l-0.9 0.5l0.1 1l-0.9 0.2l-0.2 1l0.7 0.7M183.6 108.7l-1 0.2l-0.7-0.7l-0.3-1l1 0.2l0.8-0.5l1 0M158.9 97.7l0.1 1l-0.7 0.8l0.5 0.8l0.8 0.7l-0.9-0.3M188.9 96.3l-0.7-0.8l0.5-0.9l-0.8 0.7l-0.4 0.9l0.6 0.8l0.9 0.5l0.2-1l0.7-0.7l0.9 0.4M158.4 122.6l0.5-0.9l0.2-1l-1-0.1l-0.6-0.8l0.6-0.8l1 0M177.8 90.4l1 0.1l1-0.1l1 0l0.2 0.9l0.9 0.1l0.1 1l-0.2 1l-0.9 0.4l-0.9-0.6M169.4 54.7l-0.8-0.6l-0.5-0.9l0.6-0.7l0.2-1l0.1-1l1 0.3l0.8 0.6M150.0 124.2l0.6 0.8l-0.1 1l-0.9 0.2l-0.3 1l-0.1 1l-0.3-1l-0.9 0.4M110.4 98.6l-0.9 0.6l-0.1 1l-0.8 0.5l-1 0.2l-1 0l-0-1l0.7-0.7M175.5 78.4l0.9-0.5l0.9-0.4l1 0.2l0.4 0.9l-0.9 0.4M188.1 90.5l0.7 0.6l0.6 0.8l-0.2 1M155.2 87.2l0.8 0.5l0.6 0.8l0.4 1l0.5 0.8l0.6 0.8l-0.5 0.8l-0.6 0.8l1 0l0.9 0.3M119.6 110.5l1 0.3l1 0l0.1-1l-0.9-0.3l0.3-1l-0.9-0.6l0.4 0.9l1 0.1l0.1-1M145.0 132.9l-0.5 0.9l-0.2 1l0.9-0.4l1 0.2l0.9-0.5l1 0.2l-0.7-0.7l0.5-0.9M154.1 84.2l0.9 0.4l0.7-0.8l0.6-0.7l-0.9-0.4M171.8 58.2l-0.9 0.2l-0.9 0.6l-0.5-0.9l-1 0.3M132.7 69.7l-0.5-0.9l-0.8-0.6l-0.8 0.5l-0.5 0.9l0.6 0.8l0.6-0.9l-0.7-0.7l0.1-1l-0.4-1M150.9 44.2l-0.4 0.9l0.7-0.6l-0.5-0.9l-1 0.1l-1 0l-1 0.2M162.6 88.7l0.3-1l0.6-0.8l0.2-0.9l1 0.2l-0.8-0.6l-1-0.1M105.7 46.1l1 0.1l0.5 0.9l-0.8 0.7l-1 -0l-0.8 0.5M114.1 53.5l-0.8-0.6l-1 0.1l0.9 0.2l0.9-0.6l-0.7-0.8M161.8 64.4l1 0.1l0.4 0.9l0.3 0.9l0.9-0.3l0.6-0.8l-0.9-0.3M153.3 89.1l-1 0.3l-0.6-0.7l-0.9-0.4M150.0 96.6l0.7-0.8l1 0l0.4-0.9l-0.3-1M126.5 88.7l-0.8 0.6l-0.9-0.4l-0.3 0.9l0.4 0.9l0.8 0.6M119.5 92.3l-0.7-0.8l0.6 0.9l1 0.2l0.9 0.3M84.6 60.7l-0.9-0.4l0.3-1l0-1l0.1-1l1 0.2l1-0.1l-0.2-1l-0.5-0.8l-0.7-0.8M180.3 93.7l0.4-0.9l-0.4-0.9l1 0.2l0.3-0.9l1-0.2l0.9 0.4l-0.9 0.4l-0.7 0.6M99.4 77.9l0.5 0.9l-0.8 0.6l-0.9-0.5l-1 0.2M151.5 54.6l0.4-0.9l-1-0.2l-0.7-0.6l-0.9-0.6l-0.9 0.3l-0.9 0.4l-0.9-0.6l-0.8-0.5l0.1-1M137.5 97.1l0.5 0.9l-0.6-0.8l-0.8 0.5l0 1l-0.5 0.9l0.4 0.9l0.2-1l-0.2 1l-0.4 0.9M125.8 127.9l-0.8 0.6l0.9-0.4l0.8-0.6l0.5-0.9l0.7-0.7l0.9-0.4l-0.6-0.8l-1 0.3l-0.7 0.7M189.1 64.8l1 0.2l0.3 0.9l-0.7 0.7l0.3 1l-0.3 1M111.6 89.2l1 0l-0.8-0.5l-1-0.2l-0.3-1l-1 0l-0.9-0.4l-1 0l-0.2 1M100.7 62.5l0.9-0.4l1 0.1l0.8 0.6l0.9 0.4M118.4 68.9l1 0.3l0.9 0.3l-0-1l-0.7 0.8l-1 0.2l-1 0.1l-0.9-0.4l-0.7-0.7M117.3 91.5l1 0.1l-0.6 0.8l-0.1 1l-1-0.1l-0.8-0.5l-0.6-0.9l0.6-0.7M183.0 104.6l0.1 1l-0.3-1l-0.9-0.5l-0.7-0.6l-0.6-0.8M128.2 72.3l0.5 0.9l-0.9-0.3l-1-0.2l-0.7 0.8l0.1 1l-0.1-1M120.5 52.4l0.5 0.9l-0.3 1l0.6-0.9l0.8 0.6l0.9-0.4M132.0 112.9l0.5 0.8l1 0.3l0.9 0.4l0.9 0.5l0.9-0.2l-0.9-0.3M134.2 132.9l0.2 1l-0.9 0.5l-0.4 0.9M183.5 83.0l-0.8-0.6l-0.8-0.5l0.8-0.5l0.2-1l0.2-1l0.9-0.2l-0.7 0.8M96.2 84.6l-0.6-0.8l-0.4-0.9l-0.2-1l-1 0.1l-0.5 0.8l-0.4-0.9M165.6 107.9l0.9 0.4l0 1l0.4 0.9l0 1l0 1l-0.2 1l-1 -0l-0.8 0.7M137.4 122.4l-0.5 0.9l0.4 0.9l0.6-0.8l0.3-0.9l0.3-1l1-0.1l-0 1l0.9-0.4M165.4 118.9l0.1-1l0.9-0.4l-0.6-0.8l0.5-0.9M187.1 94.4l-0.7 0.8l-0.9 0.3l-0.6 0.8M176.7 102.0l-0.3-1l-0.2-1l-0.6-0.8l-0.6-0.8l-0.5-0.9l0.7-0.7l0.9-0.4M127.0 70.2l0.8 0.6l0.7 0.7l0.6 0.8l0.6 0.8l0 1l-0.6 0.8l-0.6-0.8M120.6 73.6l-0.5-0.8l0.1-1l-0.5-0.9l0.7-0.7l-0.7-0.8M153.8 55.6l-0.8 0.5l0.8 0.6l-0.4 0.9l-0.2 1M150.7 92.4l0.1 1l-1 0l-0.5-0.9l-0.7-0.7l0.4-0.9M107.1 94.6l0.5-0.9l0.8-0.6l-0.9 0.5M175.0 116.4l-0.6 0.8l-0.4 0.9l0.1 1l-0.7 0.7M138.9 104.1l-0.9 0.4l-1-0.1l-0.9 0.3l-0.2 1l0.9 0.4l0.2 1l0.9-0.4l0.9-0.5l0.9-0.3M165.8 62.3l1 0l1-0.5l0.6-0.7l-0.9 0.5l-0.8-0.6l-0.2-1l0.4-0.9l-0.5-0.9M148.4 52.8l-0.3-0.9l-1-0.3l-1-0.2l-0.8-0.4l-0.9-0.5l-0.8 0.7M115.0 118.4l-0.3-1l1-0.1l0.3 0.9l1 0.1l0.8-0.7l-0.3-0.9M143.4 38.1l-0.9-0.5l0.9-0.5l-1-0.3M122.2 45.6l0 1l-0.8-0.6l-0.9 0.4l-0.9 0.5l-1 0l-0.8-0.5l-0.7 0.7M188.1 69.1l0.5-0.9l0.8-0.6l0.4-0.9l-1 0.3l-0.9-0.3l-1-0.1l-1 0.2l-0.6-0.8l-1 0.4M96.3 38.8l-0.8 0.5l-1-0.3l-0.9-0.5l-1-0.1l-0.7 0.7l-0.9 0.4l0.8-0.6l-0.2 0.9M95.0 63.2l-0.8 0.6l-0.5-0.9l0.9-0.4l0.4 0.9l-0.3 1l-0.9 0.4l-1-0.3l-0.6-0.8l-0.1-0.9M112.5 109.7l-0.9 0.5l-0.5 0.9l0.2 1l-0.9 0.2l0.8 0.5l0.5-0.8M108.4 84.1l1-0.3l0.9-0.3l0.9-0.4l1 0.1l0.2 1l-0.8 0.6l-0.7 0.7l-0.9 0.5M98.4 78.5l0.8-0.6l0.9-0.1l0.7 0.7M136.2 111.1l0.6 0.8l0.8 0.6l0-1l0.8-0.6l-0.9-0.3l0.7-0.7l0.2-1l-0.2-1M180.9 88.6l1-0.3l1 0.1l0.9 0.2l0.6 0.8l-0.8 0.5l-1 0.3M133.9 107.0l0.8-0.7l-0.2-1l-0.7-0.7l-0.8 0.6l1-0.2l1 0.2l-0.2 0.9l-0.7 0.8l-0.6 0.8M164.9 50.1l0.9-0.4l0.7-0.7l0.7-0.7M118.0 93.7l0.8 0.7l-0.4 0.9l-1 0.2l-0.4 1l-0.8-0.6M136.9 65.2l-1-0.3l-0.4 0.8l0 1M144.4 77.4l0.9 0.4l0.2-0.9l-0.7-0.7l-0.7-0.8M185.7 64.2l-1 0.3l-1 0l-0.5-0.8l-0.8-0.6l0.1-1M184.3 99.3l0.5 0.9l0.2 0.9l1 0.3l0-1l-0.2-1l0.7 0.7M159.9 51.9l0.4-0.9l-0.1-1l-0.2-1l1-0.1l0.4-0.9M155.6 43.7l0.4 1l1 0l0.4 0.9l0.1 1l0.1 1l-0.9-0.4M174.9 75.6l-0.7 0.7l-0.5 0.8l1-0.1M74.7 53.4l1-0.3l0.3-1l0.6-0.8l-0.2-0.9l-1-0.2l0.4-0.9l1-0.2l0.8-0.6M114.4 99.7l-0.6 0.8l-0.3 0.9l-0.6 0.9l-0.3 0.9M137.6 133.5l-0.9 0.5l0.7-0.7l1-0.4l0.2-1M168.5 82.7l-0.3-0.9l0.1-1l0.8-0.5l1-0.2l0.6 0.8l0.8 0.6l1-0.2l-0.8-0.7M135.1 43.1l0.9-0.4l-1-0.2l-0.8 0.7l0.6 0.8l-0.9 0.1M114.0 117.3l-0.5-0.8l0.8-0.7l-0.2 1l-0.9-0.3l-0.5 0.9M87.6 57.4l-0.1 1l-0.2 0.9l0.4 0.9l-1 0l-0.9 0.4l-1 0.2l-0.5-0.8M133.1 107.5l0.6-0.8l0.8 0.7l-0.1 1l1 0l-0.1-1l-0.2-1l-0.9-0.4l0.7-0.7l0.5-0.8M141.3 49.0l-1-0.3l-0.2 1l-0.5 0.9l1 0l1 0.3M94.4 77.0l-0.1-1l-0.9-0.3l0.9-0.4M121.9 71.4l-0.4-0.9l0.8-0.5l-1 0l-1-0.2l-1 0l0.4 1l0.4 0.9l-0.8 0.7l-0 1M107.0 40.7l0.5-0.8l0.1-1l0.9 0.4l0.9-0.5l0.4 0.9l-1 0.1M148.2 134.3l0-1l-0.4-0.9l0.2-1M119.4 69.6l-0.4-0.9l-0.9-0.4l-1 0.2l-0.6-0.8l-0.9-0.4l-0.9 0.5l0.1 0.9M86.7 69.9l0.6-0.9l0.8-0.6l-0.7-0.8l0-1l-1 0.2l-0.7-0.7l-0.2-0.9l-0.1-1l0.5-0.9M152.8 114.3l0.8 0.5l0.1 1l0.7 0.6l-0.7 0.7l-0.7 0.7l-1 0.3M173.3 103.5l1 0l-0.5 0.9l-0.5-0.8l-1-0.2l0.8-0.7l-0.1-1l-0.5-0.8M150.4 61.5l1-0.3l0.9-0.3l-0.3 1l-0.6-0.8l-1-0.3l-0.6 0.8l-0.8 0.5l-0.7 0.8M176.2 55.5l0.4 0.9l0.9 0.6l0.2 0.9l1 0.2l0.9 0.4l0.6 0.8l-1 0.3M140.9 70.7l1-0.2l0.2 1l0.4 0.9l-0.2 1M117.0 47.1l0.6-0.8l0.5-0.9l0.6 0.9l0.6 0.7l0.2 1M131.2 116.1l0.5-0.9l-1 0.1l0.4 0.9l-0.8 0.6l-0.6-0.8l-0.9 0.2l-1 0.2l-0.6 0.8l0.9 0.6M119.3 87.9l0.7-0.7l-0.7-0.7l-0.9 0.5l-0.4 0.9l0.8 0.5l0.2-0.9M128.2 44.3l0.4-1l-0.2-0.9l0.9-0.2l0.3 1l1 0.1l0.1 1M146.4 105.6l0.9 0.5l0.6 0.8l0.3 1l0.8-0.6l0.6 0.8l-0.4 0.9l1 0.1l0.9-0.4l0.4-1M111.5 110.9l-0.9 0.5l-0.4 0.9l0.4-0.9l1 0l0.7-0.7l0.7-0.7l-0.7-0.7M98.0 73.9l0.2 1l0.6 0.8l0.5-0.8l0.8 0.6l1 0.2l0.4 0.9M138.3 112.5l0.6 0.9l0.1 1l1-0.2l0.7 0.7l0.8 0.6l0.3-0.9l-0.8 0.6l0.2-1M144.7 121.2l-1-0.2l-0.2 1l-0.5 0.8l0.9-0.2l-0.4 0.9l0.1 1l-1 0.3M108.3 69.0l-0.4 0.9l-0.9 0.1l-0.7-0.7l-1-0.3l0.5-0.9l0-1M138.9 82.1l-0.5 0.8l-0.6 0.8l0.1 1M146.7 113.2l0.9 0.5l1-0.2l0-1l-0.5-1l0.7-0.7l1-0.1l-0.5 0.9l-0.9-0.5l-1 0.2M177.6 63.1l0.5-0.8l-1-0.2l0.6-0.8l1-0.4l0.5-0.9l-0.6-0.8l0 1M94.6 68.1l0.8-0.6l0.7 0.7l0 1l0 1l-0.3 1l-0.8-0.7l-1 0.1l-0.8 0.5M155.6 95.1l0 1l-0.5 0.9l-0.9 0.5l0.5 0.9l-0.1 1l-0.5-0.9l-0.8-0.7M124.6 112.4l0.9-0.4l1-0.3l1 0.3l0.5-0.8l0.3-1l-1-0.1l0.4-0.9l0.5-0.9M122.3 90.5l-0.5 0.8l-0.5 0.9l-0.1-1l0.6-0.8l0.3-1l0.2-0.9l-0.3-1l0.4-1l0.4-0.9M131.8 124.2l0.8-0.6l0.5-0.8l-0.2-1l0.3-1l0.7 0.8l0.9-0.2M167.1 108.6l-1 0.2l-0.8 0.6l-0.3-1l-0.7-0.7l0.4-0.9l-0.4-1M98.3 90.1l1 0.1l-0.9 0.5l-1 0.1l0.9 0.5l0.7 0.7l0.5 0.9l-1 0M138.2 109.2l1-0.3l0.6-0.8l1-0.1l1-0.1l0.8-0.7l0.1 1M151.0 59.3l0.9 0.2l0.8-0.6l1 0.1l0.4-0.9M97.1 88.3l0.6-0.7l1-0.4l0.8-0.5l1 0.2l-0.2 1l-0.9 0.3l0.9 0.4M133.7 132.4l-1-0.3l-0.8-0.6l-0.7-0.7l-1-0.2M122.1 130.4l-0.9-0.5l-1-0.1l-0.4 0.9l0.6 0.8l0.3 0.9l1 0.2M169.2 116.7l-0.2 1l-0.6-0.8l-0.3-1l-1 0l-1 0M116.3 104.3l0.5-0.9l1 0.2l-0.5-0.9l1-0.2l0.6-0.8l1-0.1l0.1 1l0.7 0.6l1 0.2M156.0 49.6l0 1l0.8 0.6l0.9 0.2l-1 0.2l0.2 1M139.0 53.6l-0.9 0.5l0.8-0.7l0.9-0.4l0.7-0.7M151.0 122.5l0.2-1l0.5-0.9l-0.6-0.8l-1 0.1l-0.9 0.3l-0.9-0.4l-0.8 0.6l0.6 0.8l-0.6 0.8M146.8 75.6l0.7 0.7l-0.2 1l1 0.1l0 1l0.3 0.9l0.6 0.8l-1-0.1l0.5 0.9M130.2 77.4l-1-0.1l-0.3-1l0.9 0.4l0.7 0.7l-0.3-0.9l0.9 0.5l0.8 0.6l0.2 1M147.0 84.2l1-0.2l0.8-0.5l0.5 0.9l-0.9 0.5l0.2-0.9l-0.1-1M120.8 90.8l-0.4-0.9l-0.8-0.5l-1 0l-0.4-0.9l0-1M130.1 102.4l-0.5-0.9l0.6-0.8l0.9-0.5l1 0.3M117.5 68.8l-0.7 0.7l0.7 0.8l0.9-0.3M130.7 67.2l-0.8 0.6l-0.7-0.7l-0.8-0.6l0 1l0.6 0.8M116.9 59.0l-0.9 0.5l-1-0.2l-1 0.2l-0.7 0.7l0.4-0.9M170.6 86.9l-1 0.4l-0.5 0.9l0.5 0.8l-0.7 0.6l-1-0.4l-0.8 0.6l-0.4-1l-1-0.1M149.5 69.0l0.9-0.5l0.9 0.3l0.7-0.7M182.0 65.6l0.1 1l-0.9-0.5l0.4-0.9l1 0l1 0l-0.1-1M178.7 62.9l-0.3 1l-1 0l-0.7-0.7M133.6 69.8l0.8 0.6l0.9 0.4l-0.2-1l-0 1l0.5 0.9l1 0.3l-1-0.3l-0.3 1l0.5 0.8M115.3 76.5l0.3 1l-0.6 0.7l0.7 0.7l-1 0l0.8 0.6l1-0.1l0 1l-0.9 0.3l0.5 0.8M114.3 115.6l-0.3-1l0-1l-0.9-0.5l-1-0.2l-0.6 0.8l-0.7-0.7l-0.1-1l0-1l0.4-0.9M128.7 43.9l0 1l0 1l0.2 1M84.0 45.8l0.3-0.9l0.5-0.9l-1-0.3l-0.2-1l-0.5-0.8l-0.8-0.6M147.5 119.1l-0.6-0.8l0.8-0.6l0.7-0.7l-0.8-0.5l-0.8-0.7l-0.9-0.4l0.2-1M197.8 80.5l-0.7-0.7l-0.1-1l-0.4-1l-0.9 0.2l-0.3 1M154.2 119.3l0.2 0.9l-0.5-0.8l0.9-0.5l1-0.3l1-0.1M90.8 58.7l0.5 0.9l-0.5 0.9l-0.9-0.3l-1 0.1l-0.4-0.9l1-0.2M135.0 59.4l0.7-0.6l1 0.3l0.1 0.9l-0.9-0.4l-0.5-0.8l-0.1-1l-0.8 0.6l-0.7 0.8l-0.3 0.9M174.8 87.5l0.9 0.4l1-0.2l0.3 1l0.1 0.9l-1 0.3l-0.8 0.6l-1 0.1l-0.6-0.8l-0.4-1M137.1 60.7l-0.5 0.8l-1 0.2l-0.9-0.6l-0.8 0.5l-0.1-1l1 0.2l0.7 0.8l1 0M103.8 99.1l0.6-0.8l-0.9-0.1l-0.9 0.5l-0.6-0.7M99.3 50.7l-1 0.2l-0.7 0.7l-1 0.4l-0.7-0.7l1-0.2l0.8 0.5M141.3 134.0l0.8-0.6l-0.1-1l-0.8-0.5l0.5-0.9l-1 0.1l0.2 1l0.4 0.9M117.5 118.8l-0.4 1l-0.4 0.9l-0.6 0.7l-1 0l-1 0.2M75.6 46.4l0.4-0.9l-0.7-0.7l0.5 0.9l-0.5 0.8l0.7 0.8M85.2 67.4l-0.5-0.8l0.6-0.7l0.9 0.5M131.8 40.7l0.5 0.9l0.9 0.4l-0.9 0.3l-0.9-0.6l-1-0.2l-0.8-0.6M180.4 68.0l-1 0.3l0.8-0.7l0.7-0.7l-1 0.2l0.7-0.8M135.4 124.7l-0.9-0.5l-0.4-0.9l0.9-0.6l-0.9-0.4l-0.7 0.8l-0.4 0.9l-0.8 0.6l-0.1 1M103.9 51.3l1 0.4l0.5 0.9l0.4 0.9M191.4 71.8l0.5 0.8l-0.7 0.7l0.9 0.4l0.9-0.4M167.7 90.6l-0.8-0.6l-0.9-0.4l-0.9 0.5M183.1 102.0l-0.1-1l0.5-0.8l-0.8-0.6l-1 0.1l-0.9 0.2l-0.9-0.6M168.1 121.1l-0.4-0.9l0.7-0.7l-0.5-0.9l-0.7-0.8l-0.5 0.9l-0.5 0.8M139.4 71.6l0.3-0.9l-0.7-0.7l0.2 1l-0.7 0.7l-1 0.2l-0 1l-0.9 0.6l-0.6 0.7l0.2 1M139.0 134.5l0.6-0.8l0.6-0.7l1-0.2l0.3-1l0-1l1-0.1l0.1 1l0.9 0.5l0.9-0.4M188.1 88.7l-0.6-0.8l0.3-1l0.1-1l-0.1-1l1-0.1l1-0.4l1 0.2l-0.3 1l-0.8-0.7M152.8 128.6l0.6-0.8l-0.8-0.6l-1 0.3l-0.4-0.9l1-0.2M126.3 138.7l0.4 0.9l0.8 0.6l1 0l0.6-0.8l1 0.3l0.6 0.8l-0.1-1l0-1M120.5 87.2l0.3-0.9l-0.8 0.6l-0.5 0.9M161.9 118.0l1-0.2l0.7-0.7l-0.9-0.3l-1-0.3l1 0.3l0.4 0.9l0.9 0.5l-0.1 1l-0.5 0.8M155.4 104.7l-1 0.2l-0.9-0.5l-0.4-0.9l-0.8-0.6l-0.7 0.7l0.2 1l-0.2 1M113.8 87.1l0.6 0.9l0.9-0.5l1-0.1l-0.9 0.4l0 1l1-0.3l0.9-0.4l0.8-0.7M141.0 56.3l0.3 0.9l-0.8-0.6l0.1-1l0.8-0.5l1-0.3l1-0.2M127.6 121.2l0.5 0.9l-0.7 0.6l-0.3-0.9l-0.9 0.4l-0.5-0.9l0.5-0.8l-1-0.4l-0.8 0.6l-0.8-0.7M72.1 51.7l0.2 1l0.4-0.9M143.8 73.3l-0.8 0.5l0.8-0.5l0.3-1l0.4-0.9M152.0 55.0l0.2 1l1 0.1l-0.2-0.9l0.9 0.3M152.9 130.0l-0.2-1l0.3-0.9l1 0.2l1 0l0.5-0.8M176.3 81.1l-0.8-0.7l0.8-0.6l1 0.1l-0.6 0.9l0.1 1l-0.7 0.7M151.6 41.6l0.9 0.3l0.8 0.6M110.5 107.3l-0.4-0.9l0.8-0.5l0.6 0.7l0.6-0.8M148.3 110.3l1 0.2l0.7 0.7l-0.3 1l-0.4 0.9l-1-0.1l-1-0.3l-1 0.2M164.5 98.2l-0.4-0.9l0.7 0.6l1-0.1l0.8 0.6M139.6 110.0l0.7 0.8l0.8 0.6l-0.7 0.7l-0.9 0.5l-0.8-0.6l0.5-0.8M118.4 124.7l1-0.4l0.8-0.6l-0.1-1l-1 0.3l0.6 0.9l-0.2 1l-0.9 0.3M136.2 53.6l0.8-0.6l-0.3-0.9l-0.3-1M111.8 42.1l0.6 0.9l0.8 0.5l0.8 0.6l-0.5 0.9l1 0.2M126.8 106.4l0.8-0.6l0.8 0.5l1 0.2l0.7 0.8l-0.2 0.9l-0.8 0.6l-0.5-0.8M95.1 39.3l1 0.1l0.9-0.5l0.8 0.6l1 0.4l-0.2-1l-0.5 0.8M188.7 67.2l-0.9-0.2l-1-0.4l0.1-0.9l0.5 0.9l0.1 0.9l-0.9 0.5l0.8-0.6l0.9-0.4M161.0 124.8l0-1l-0.8-0.6l-1 0.1l0.2 1l-0.7 0.7l0.7 0.7M171.2 104.4l-0.3 0.9l-0.1 1l0.9 0.2l0.9 0.5M108.4 87.5l0.8-0.5l-0.2 1l0 1l0.8 0.6l1-0.3M101.6 58.1l-0.1-1l0.6-0.8l0.3-1l-1 -0l-0.7 0.7l-0.2 1l-0.9-0.4l-0.9 0.4l0.9 0.2M127.0 105.1l0.3-0.9l-0.7-0.7l-0.9-0.4l-0.9-0.3l-1 0.4M125.9 89.8l-0.2 1l-1 0.1l-0.8-0.5l-1-0.1l-0.7-0.8M99.1 40.2l0.7 0.8l-1-0.1l-1 0.4l0.9 0.6l0.8 0.5l-0.1 0.9l0.4 1l-1-0.1M137.6 127.3l-0.9 0.2l-0.4-0.9l0.2-1M107.1 38.1l0.4-0.9l0.3-1l0.7 0.7l-0.6-0.8l0.8-0.6l-0.7-0.8l0.9-0.4l0 1l-0.9 0.5M92.4 45.8l-0.1-1l-0.9-0.5l-0.1-1l1-0.1M168.8 127.2l-0.3 1l-0.2 0.9l-0.1 1l0.9-0.5M139.4 58.3l0.8-0.6l-0-1l-0.5-0.9l0.2 1M139.6 126.0l-1 0.2l-0.7 0.6l-0.5 0.9l0 1l0.9-0.4l-0.2-1l1-0.3l0.5-0.9l0.5-0.8M111.1 51.5l0.8 0.6l0.5-0.9l0.3-0.9l-0.9-0.5l1-0.4l0.8 0.5l0.8-0.6M144.2 79.2l0.8 0.6l0 1l0.8 0.6l0.5 0.9l0.1 0.9l0.5-0.8l-0.8-0.6l-1 0.1l-1-0.2M190.6 103.1l-0.9 0.1l-0.1-1l-0.7-0.7M92.2 52.6l0 1l0.2 1l0.6 0.7l-0.3 1l-0.1 1l1 0.1M136.3 62.4l-0.4-0.9l0.6-0.8l0.9-0.3l0-1M160.7 55.7l-0.1-0.9l-0.9-0.6l-0.4 0.9l0.6 0.8l-0.1 1l0.2 1M136.4 121.6l-1-0.2l-0.9 0.3l0.2-1l-0.8 0.6l0.1-1l-0.6 0.8l-0.5 0.9M134.7 120.5l0.9-0.1l1-0.4l0.8 0.5M177.7 92.7l-0.7 0.7l-0.9-0.5l-0.8-0.5l-0.9 0.4l-0.8 0.7l0.3 0.9l-1 0.3l-0.9-0.1M122.6 134.6l-0.7-0.6l-0.8 0.6l-0.1-1l0.3-0.9M100.2 55.4l0.5 0.9l0.9-0.5l0.5-0.8l0.7-0.7l-0.4-0.9l-0.8-0.7l-1 0.2l-0.4-0.9l-0.8 0.6M110.4 89.2l1 0.3l0.4-0.9l-0.9 0.4l0.3-0.9l-0.5-0.8l1 0.1M185.8 78.1l-0.7-0.7l-0.1 1l-0.6 0.8l-0.7 0.6M129.8 46.9l-1 0.3l-0.8 0.5l0-1l0.4 0.9l0.8-0.5l-0.1-1l0.6-0.8M142.4 46.4l0.4 0.9l-1 0l-0.5-0.9l0.1-1l0.8-0.6l0.5 0.9l-0.8 0.7l0.7-0.7M111.5 53.6l1 0.1l0.7 0.8l0.8 0.5l0.6 0.8l-0.4 0.9l-1 0l0.1-1l-0.9 0.3M155.2 69.9l0.4-0.9l0.6-0.8l-0.3-1l0.9-0.3l0.7-0.8l0.8-0.6l0.9 0.4M114.7 40.3l0.3-1l0.9 0.3l1 0.1l1-0.2l1 0.2l1 0.1M145.6 86.7l-0.8-0.6l-0.3-1l-0.5-0.8l-1-0.2l-0.9 0.5l-0.5-0.9l0.5-0.8l0.9-0.5M122.6 117.4l0.4 1l0.9 0.2l-0.7-0.6l0.2 0.9l1-0.3l0.9 0.4M164.0 60.7l-0.6 0.8l-1 0l1-0.1l0.9-0.5l0-1M101.9 69.4l-0.4-0.8l0.8 0.4l0.9 0.6M154.9 51.9l0.9 0.4l0.5-0.8l-0.6-0.9l-0.5-0.8M114.6 85.8l0.7 0.8l0.6 0.7l-0.8 0.5M134.1 66.9l0.3-1l-0.1-1l0.5-0.8l0.8 0.6M81.8 61.4l0.9-0.3l1 0.2l1 0.2l0.6 0.8M143.7 119.4l-0.2-1l-1 0.4l-1-0.3l-0.6-0.7l-0.8 0.6l-0.9-0.3M154.5 92.8l0.1 1l-0.6 0.7l-1-0.3l-0.6-0.7l-0.5 0.8l-0.1 1l0.1 1M121.7 104.6l-0.8-0.6l-0.5-0.9l0.9 0.4l0.4 0.9l0.7-0.6l-0-1M99.6 75.0l0.8 0.6l1 0l-0.1-1l1-0.2l0.2-0.9l0.2-1M178.8 105.5l-1 0.3l-0.9-0.4l-1 0.3l0.3 1l0.6 0.8l-1-0.4l-0.2-1M130.4 112.1l1 0.1l1-0.1l0.9-0.4l0.8 0.6l-0.8 0.6M83.1 41.2l-0.5 0.9l0.9 0.4M144.5 112.2l-0.5 0.9l0.2 0.9l-0.6 0.8l0.2 0.9l0.1-1l0.5-0.9l0.4-0.8l0.8-0.7M171.1 124.0l-1-0.1l-0.9 0.4l0.2-1l0.7-0.7l-0.9-0.3l-0.4 1l0.3 0.9l0.8 0.6M138.7 127.9l-0.8 0.6l-0.9 0.5l-0.9-0.5l-0.3-1l0.3-1l0.8 0.6l0.9 0.5l1 0.1l0.7-0.7M188.8 84.5l-1 0.1l-1-0.1l-0.3 1l0.7 0.7l-0.4 0.9l-1 0.2l-1-0.1l-1 -0M178.2 68.0l-0.3 1l-1 0l-0.6 0.8l0.1 1l1 0.3l-0.3 0.9l0.4 0.9M166.3 75.0l-0.2 0.9l-0.8 0.6l-0.1 1M154.7 133.3l-1-0.1l0.3-1l-0.2-1l0.1-1M125.1 100.8l-0.6 0.8l0.4 0.8l0.2 1l0.8-0.6l0.9-0.4l0.1 1l-0.9-0.2l-1 0l-0.9 0.6M163.0 87.7l-0.7 0.8l-1-0.1l-0.6-0.8l-1 0.1M98.6 78.7l-1 0.1l-1 0.3l-0.9-0.2l0 1l0.3 1l-0.7 0.8M145.2 60.9l1 0.1l0.9 0.4l-0.7-0.7l-0.4-0.9l-1 0.1l-0.1 1l-0.2 1l0.8 0.5l0.9-0.4M116.0 93.2l0.5 0.9l1-0.2l1 0.2l-0.2-1M107.0 59.3l-0.4-0.9l0.4-0.9l0.9 0.6l-0.9 0.5l-0.6 0.8l-1 0M149.5 63.5l0.8-0.6l1 0.3l0.9-0.5l0.9-0.4M146.7 129.6l0.9-0.4l-0.4 0.9l-0.8 0.6l-0.3 0.9l-1 0l-0.5 0.9l-0.7 0.7l0 1l1 0.2M93.3 68.2l0.7 0.8l1-0.1l0.9 0.5M154.9 103.5l0.3 1l-0.2 1l-1-0.3l-1 0.1l-1 0.3l-0.5 0.8l-0.9-0.4l-1-0.2M113.3 51.8l-0.6-0.8l0.5-0.8l-0.1-1l-0-1l0.7-0.7l1-0.1l-0.4-0.9M140.5 115.6l1 0.2l0.3-1l0.4-0.9l0.2-1M191.9 85.0l-0.9 0.4l-0.8-0.6l-0.4-0.9l-0.9 0.5l0.5 0.8l-0.5-0.8l-1 0M159.9 130.6l0.5 0.9l0.9-0.3l1 0l-0.4 0.9M103.3 84.7l-0.9 0.3l-1-0.1l-0.9 0.5l-0.8 0.6l-0.7 0.7l-0.8-0.6l-0.2-0.9l0.2-1l-0.7-0.7M141.2 82.8l-0.3 1l0 1l0.4 0.9l-1-0.1l-0.7-0.7l-0.3-0.9l1 0.1M134.7 91.5l-0.1 1l-1 0.2l0-1l-0.8-0.6l0 1l-0.8 0.5M176.9 73.2l0.3-0.9l1-0.1l0.9 0.4l0.7 0.7l-0.8-0.5l0.9-0.3l0.9-0.5M142.1 42.8l-0.7-0.7l0.6-0.8l0.8-0.5l0.3-1l-0.7-0.8l-0.4-0.8l-0.8-0.7l-1-0.2M156.0 103.6l-0.9-0.4l-0.7-0.8l-0.8 0.6l-0.6-0.7l-0.3-1M126.2 138.8l0.9 0.4l0.9 0.6l0.3-1l0.3-0.9M168.9 100.0l-0.4 0.9l-0.2 1l-0.8 0.7l0.2 1l-0.4 0.9l-0.1 1l-1 -0l-1-0.3l-0.1-1M138.1 47.9l-0.3-1l-0.7-0.7l0.5 0.9l0.7-0.7l0-1l-0.2-1M137.5 134.6l1 0.3l-0.2 1l1 0.3l0.8 0.6l1 0l0.9-0.3l0.5-0.9l1-0.1M168.2 91.2l1 0.2l0.7-0.7l-0.2-1M157.5 47.6l-0.3 0.9l-1 0.3l-1-0.2l-0.4-0.9l-0.9-0.4l-0.4-0.9l0.8-0.5l-0.4-0.9M146.0 45.1l1 0l0.7 0.7l1-0.4l0-1l0.2-1l0-1M151.0 69.8l1-0.2l1-0.1l0.9 0.4l0.4 1l-0.5-0.9l-0.9 0.5l0.7-0.7l-0.2-1M138.3 128.2l0.7-0.7l0.5-0.9l-0.9-0.3l0.4 0.9l1 0.2l1-0.2l0.7 0.7l-0.2 1M133.4 130.3l0.8-0.7l0.9 0.3l0.6 0.9l-1 0.1l-0.4-0.9M157.5 67.0l1 0.1l0.2 1l0.3 1M145.9 71.6l-0.8-0.6l-0.8 0.7l-0.1 1l-1-0.3l-0.9-0.2M149.5 121.1l-0.5 0.9l-0.4 0.9l1 0l0.6-0.8l0.9-0.5l1 0.1l0 1l0.4 0.9M168.7 82.8l0.5-0.9l-0.7-0.7l-0.6-0.7l0.3-1M169.0 76.1l-1 0.2l-0.2-1l0.8-0.6l0.9 0.5l0.7 0.8M121.6 118.0l0.8-0.6l1-0.1l-0.4-0.9l0.3-0.9l1-0.2l-1-0.2M108.5 46.1l0.2-1l-0.4-0.9l-0.2-1l0.6-0.8M155.8 95.2l0.2 0.9l0.7 0.7l0.3-0.9l-0.8-0.6M89.8 56.0l0.1 1l0.9-0.3l1 0.1l0.9-0.3l0.6 0.8l-1 -0l-1 0.2l-0.8-0.7l0.8-0.7M76.3 51.0l0.2 1l0.7 0.6l1 0l1 0.2l0.7-0.7l0.7 0.6l-0.7 0.7M150.4 52.3l-0.4-0.9l-0.9-0.4l-0.4-0.9l-0.6-0.8l-0.7 0.7l1 0.3l0.6 0.7l0.7 0.7l1-0.3M121.6 87.4l-0.4 0.9l-0.7 0.8l-0.4 0.9l0.7 0.6l-1 -0l-1-0.2l-0.5-0.8l0-1l-0.8 0.6M97.7 62.9l0.7-0.8l0.7-0.7l0.6 0.8l0.8 0.6l0.1 1l-0.9 0.5M156.6 111.7l-1-0.1l-0.1-1l1 0.3l0.4-0.9l0.4-0.9l0.6-0.8l1-0.2l0.6-0.8l-0.4 0.9M154.1 63.1l0.8 0.6l0.9-0.3l0.9-0.4l-0.8-0.5l0 1l0.9 0.3M131.2 129.4l-0.2 1l0.9 0.3l1 0.3l1 0.2l-0.9 0.3l0.1 1l-1-0.2l-0.8 0.5l-0.7 0.7M141.1 45.4l0-1l-0.2-1l0.9 0.5l0.8-0.6l0.6-0.8l1-0.4l0.5-0.8l1 -0M128.4 131.9l-0.9 0.5l-0.6 0.8l0.4 0.9l-0.3 1M163.4 48.8l-0.5-0.8l-1-0.1l0.1-1l0.2-0.9l0.8 0.7l-0.6 0.8l-1-0.3l-0.9-0.1M113.7 50.6l0.3 0.9l0.8 0.6l1 0.1l1 0.2l0.6 0.9l1 -0M135.1 81.1l0.3 0.9l-0.1 1l-0.6-0.7l-0.8-0.6l-1-0.1M112.7 39.3l-0.3-0.9l-1-0.1l-0.9-0.4l0.2-0.9l0.7-0.7M79.7 48.4l0.9-0.2l1-0.2l-1 0l-0.2 1l0-1l-0.1-1M123.3 95.1l-0.8 0.6l-1 0l-0.9 0.2M155.5 126.3l-0.6-0.8l1-0.4l0.6-0.8M149.6 108.6l0.9-0.2l1 0.2l0.2-1l0.3-1l-0.4-0.9l-1-0.1l-0.7 0.7l-0.8-0.7l-0.9-0.1M195.5 86.0l-0.6-0.8l-1-0.2l-0.5-0.9l-0.9-0.4l-0.7-0.8l0.6 0.8l-0.3 1l-0.9 0.4M115.1 90.7l-0.9-0.5l0 1l-0.1 1M131.1 58.9l-0.6 0.8l-1 0.4l0.1 1l-0.9 0.4l-0.8 0.5l0.7 0.7l0.9-0.3l-0.7-0.7M126.2 118.1l1-0.1l1-0.2l1 0.2l0.9-0.2l-0.7-0.7M174.2 80.0l-0.8-0.6l-0.5-0.9l-1 0.2l-0.8 0.7l-0.3 0.9l-0.8-0.6l-0.5 0.9M118.7 61.1l0.9 0.4l-0.2 1l-0.5 0.8l0.8 0.7l-0.7 0.7M120.7 95.5l0.8 0.5l0.9 0.4l0.5 0.9l0 1l-0.1 1M116.0 41.7l-0.3 0.9l-0.6 0.8l-0.9 0.4l0.1 1l-1 0.1M109.5 60.9l0.8 0.5l0.9-0.5l-0.4-0.9l0.4-1l1 0.3l0.5 0.8l0.9 0.6l0.9-0.5M145.4 66.5l-0.9-0.4l-1-0.2l-1 0.1l-0.5 0.8M147.4 41.6l0.7-0.7l0.9 0.5l0.8 0.7l0.9-0.5M125.7 131.1l0.4 0.9l0.9 0.5l0.4 0.9l1 0.3l-0.2 1l-0.4-1M162.8 67.3l1 0.1l0.4 0.9l0.9 0.3l0.7-0.7l0.4-1l-0.2-0.9l0.9-0.5l0.6 0.9l0.8 0.5M138.8 53.3l0.9 0.4l0.7 0.7l1-0.1l1-0.1l0.5 0.9l0.9 0.5l0.7 0.7l0.6 0.8M149.8 106.0l0.1-1l0.3-1l-0.6-0.8l0.3-0.9l0.2-1l-0.9 0.3M142.0 61.8l-0.3 1l0.2 1l-0.4 0.9M160.0 56.4l-0.2 1l0.9 0.5l-0.3 1l-0.6 0.8l0.4 0.9l0.9 0.5l-0.7-0.7l0.4-0.9M141.7 90.2l0.9-0.3l0.8-0.6l-0.9-0.4l-0.8-0.6l-0.5-0.9l0.9-0.5l0.7-0.6l-0.8 0.6l-0.2-1M79.9 90.5l0.1-1l0.9-0.6l0.6 0.7M87.4 98.5l0.7-0.7l1-0.1l0.6-0.8l-0.6-0.8l-0.8-0.7M75.5 108.6l0.9 0.4l0.5-0.9l-0.5-0.8l0.1-1l-0.8-0.6M69.9 91.8l0.5-0.9l-0.2-1l-0.9-0.5l-0.4-0.9l-1-0.1l-0.9-0.5l-0.9 0.4l-1-0.3M85.5 114.1l0.5-0.8l0.3-1l1 0M77.1 113.0l-0.3-1l0.9-0.2l-0.7-0.7l0 1l1 0.2l1-0.3l-0.2-1l0.9-0.5M99.3 113.8l-0.3-1l-0.5-0.8l-0.8 0.6l-0.4-0.9l-0.8-0.5l-1-0.4l-0.5-0.8l-0.8-0.6M58.8 105.0l0.2-1l-0.7-0.8l0.9-0.5l0.1-1l0.7-0.7l0.9-0.4l0.2-1l0.1 1l0-1M49.0 101.3l-0.8-0.7l0.3-0.9l0.6 0.7l0.9 0.5M60.9 104.0l-0.6-0.9l-1 0.2l0.2 0.9l-0.2 1l-0.1-1l-0.9-0.5l-1 0M59.8 88.0l0.6-0.8l0.9 0.6l0.9-0.2l-0.7-0.7l0.1-1l0.9 0.4l1-0.1M70.4 92.5l-0.8-0.6l0.2-1l-0.5-0.8l1-0.3l0.9 0.3l1 0.3M58.9 92.5l-1 0l-1-0.2l-0.9-0.4M86.7 95.5l1 0l-0.4-0.9l1 0.3M91.5 105.6l1 0.2l0.5-0.9l-0.1-1l0.7-0.7M59.2 88.2l-1-0.2l-0.6 0.8l-0.7 0.6l-1 0.1M88.3 99.6l1 0.2l0.9 0.5l0.8-0.6l-0.7-0.7l-0.8 0.5l0.5 0.8l0.8-0.6l-0.8-0.7l0.1-1M84.1 104.2l-1 0.2l0 1l1 0l0.2 0.9l1-0.3l-0.1 1l0.5 0.8M80.0 106.0l1 0.1l0-1l-1 0.1l-1-0.3l-0.3-1l-0.9-0.4M45.5 97.5l-0.4 0.9l-0.1 1l0.6-0.8l0.4-1l0.6 0.8M73.0 91.5l0.6-0.8l-0.1-1l-0.2-1l-0.6-0.8l-0.9-0.3l-0.5-0.9l-0.8-0.7M50.7 109.5l1 0l-0.9-0.4l-0.7-0.7l1 0l0-1l-1 0l-1 0.1M92.6 107.8l-0.9-0.3l-0.3-0.9l-1-0.1M77.7 100.8l-0.9 0.6l1-0.3l0.1-1l0.4-0.9l-0.6-0.8l-0.5 0.9l-1 0.1M90.3 119.0l1-0.3l0.3 1l-0.7 0.7l1 0.3l0.8 0.5M92.3 117.8l-0.3 0.9l-0.2-1l-0.7-0.7l0-1l-0.6-0.8l-0.9-0.4l-1 0.2l0.5 0.9M64.9 110.7l-1 0.2l-1-0.2l-0.5 0.9l0.1 1l0.8 0.6l0.8 0.6l0.5 0.9l1 0.1M74.2 116.0l0.3-0.9l0.5-0.9l1 0.4l0 1M52.1 106.3l-0.4 0.9l0.4 0.9l1 -0l0.9 0.5l0-1l0.6-0.8l0.3-0.9l1-0.1M82.6 111.3l0.2-1l0.4-0.9l1 0.3l-0.4 0.9l0.4 0.9l1 0.1M49.5 99.4l0.7 0.7l0.4-0.8l1 0.3l0.4 0.9l-1 -0M77.5 90.0l0.2-1l0.5-0.9l-0.6-0.8l-0.6-0.8l0.6-0.8M82.3 91.5l-0.4-1l-0.3-0.9l0.7-0.7M79.2 112.7l0.9-0.3l1-0.2l1 0.2l-1 0.2l-0.9 0.3l-1-0.4M68.7 87.4l-0.9-0.5l0.4-0.9l-0.4-0.9l-1 0l-0.9 0.5M70.1 117.6l0.9 0.4l-0.1-1l-1-0.3M81.1 117.6l1 0.2l-0.6 0.9l1 0.3M68.2 85.2l0.9 0.6l-0.8 0.6l0.8 0.6l-0.5 0.9l0.9 0.5l1-0.1l0.3-0.9l-0.5-0.9l-0-1M80.6 90.6l-0.7-0.8l0.2-1l-0.9-0.4l-1 0l0.7-0.7l0.1-1l-0.6 0.8l-1-0.1M75.1 85.2l0.9 0.4l0.6 0.8l0.6 0.8M70.5 104.4l0-1l-0.3-1l-0.9 0.2l-1-0.2M70.4 111.4l0.8-0.6l1-0.2l-0.7-0.7l0.7-0.8M62.6 95.9l0.2-1l-0.3-0.9l-0.8-0.7l-0.6-0.8l0.3-0.9l0.8 0.7l0.9-0.4M85.2 98.6l0.5-0.9l0.8 0.5l0.6 0.8l-0.1 1l0.2 1l0 1M55.2 90.7l0.8 0.6l0.8 0.5l0.8 0.6l1-0.2l-0.1-1l-1 0M78.8 91.5l-0.5 0.8l-0.3-0.9l0.1-1M88.1 93.8l-0.1 1l0.4 1l1 0.1l0.6 0.8l-0.9 0.3l-0.1 1l-0.4 0.9l-0.8 0.6M51.7 103.0l0.9-0.5l1-0.2l1 0l0.9-0.3l1-0.2l0.7-0.7M78.9 118.0l-1 0.3l0.9-0.5l0.9-0.4l0.1 1M83.9 96.6l-0.6 0.8l-0.7 0.7l0.5 0.9l0.9 0.4l0.8 0.5l0.5 0.9M71.0 110.6l0 1l0.8-0.7l-0.1-1l0.9 0.2M75.9 87.6l-0.1 1l-0.9 0.4l-0.2 1l-0.2 1l0.9 0.3l1 0.2l0.6 0.8M76.1 102.6l0.9-0.5l1 0l-1-0.2l-0.6-0.8l-0.4-0.9l-0.7-0.7M82.0 99.6l-0.1-1l-0.6-0.8l0.9-0.5l-0.1 1l-0.9 0.5l-0.1 1l-1-0.3l0.9-0.6M73.9 114.5l0.9-0.5l0.9-0.4l0.7 0.7l0.5-0.8l1 0.1l-0.2-1l-1 0l-0.4-0.9M83.7 105.1l-0.6 0.8l-1 0l-1 0.1l-1 0l-0.2 1M94.5 119.6l-0.9 0.5l0.1 1l0.9-0.4l0.1-1l-0.7-0.7l-0.9-0.4l-0.9-0.5M58.3 95.1l-1 0l0.4 0.9l0.7 0.7l0.9-0.4l0.7-0.6l0.2-1l-0.9-0.6l-1 0.1l-0.9 0.3M59.1 99.1l0.5-0.8l0.8 0.5l1 0.1l0.7-0.7l0.3-1l0.9-0.2l-0.1-1l-1-0.3l-1 0.2M59.6 107.2l-0.4-0.9l0.9-0.2l-0.7-0.7l0.6-0.8l-1 0.3l-0.9-0.5M52.2 101.3l-0.9 0.4l-1-0.4l-0.2-1l0.9-0.5l0.9-0.5l0.8 0.5l-0.3 1M80.7 89.4l-1-0.4l-0.5-0.8l-1-0.4M68.2 111.6l0 1l-0.5 0.8l1 0.2l-1 0.3l-0.7-0.6M61.4 112.1l-0.9-0.5l0.5-0.9l-0.7 0.8l-1 0.1l-1 0.3M56.5 108.6l-0.9 0.5l-0.2 1l-0.1 1l0.8-0.5M47.3 99.6l-0.4 1l-1-0.3l-0.8 0.6l-0.1 1l-0.7-0.7M97.1 113.9l1 0.2l0.6 0.8l-0.7 0.7l-0.4 0.9l1 0.3M82.7 112.9l1 0.1l0.6 0.7l0.6-0.8l1-0.1l0.9 0.4l0.1 1l0.6-0.8l0.9-0.5M78.7 91.9l1-0.1l-0.1-1l0.1-1l0.3-1M51.9 94.2l0.9-0.6l0.7 0.7l-0.7 0.7l0 1l0.7 0.7l-1 0.2l-1-0.2M89.9 96.4l0.6 0.8l-0.5-0.9M71.7 116.9l-0.2 1l-0.9-0.4l-0.6-0.9l-0.1-0.9l0-1l0.8-0.7M71.0 117.2l-0.9-0.4l-1-0.2l0-1l-1-0.3M93.7 114.4l0.9 0.5l1 0.1l1-0.1M59.6 105.3l1 0l1 0.2l-1-0.4l0.3-0.9l-0.4-0.9l0.8-0.6l-0.9-0.5M74.8 89.4l0.2 1l0.6-0.8l0.9 0.3l0.6 0.8l0.7-0.6l1-0.3l-0.5-0.8M89.8 99.1l1 0.1l1-0.1l0.5 0.8l-0.7-0.6M67.1 91.2l-1-0.2l0.4-1l0.9-0.3l0.9 0.5l1 0.3l1 0l0.9 0.5l0.5 0.8l0.6 0.8M49.3 100.7l0.9-0.4l0.5-0.9l0.9 0.5l0.5-0.9M87.2 102.4l-0.3 0.9l-1 -0l-1 0.1M63.0 104.1l1 0.2l1 0.1l0.9-0.5l-0.5 0.9l-0.5-0.9l-1-0.2l-0.8-0.6M67.2 85.0l-1 0.2l0.8-0.6l0 0.9l-0.9 0.5l-1-0.1l0.6-0.9M78.8 97.9l0.1 1l0.7 0.7l1 0.4l-1 0.2M72.5 85.5l-0.6 0.9l-0.9 0.3l-1 0l0-1l-0.7-0.7l-1-0.3M93.6 111.8l-0.9 0.5l-0.7-0.6l-0.3-1l1-0.3l0.6-0.8l1 -0l0.4 1l0.1 0.9l-0.9 0.5M79.3 110.8l-0.3-0.9l1-0.2l0.9-0.2l0.8 0.5l0.6-0.8M71.6 107.1l0.6-0.8l-0.3-0.9l-0.7-0.7l0.7-0.7l0.2-1l0.2-0.9l0.8 0.6l-0.7-0.7M60.9 87.7l-0.7-0.7l0.2 1l0.3 1l0.4 0.9M90.9 105.4l0.4-0.9l-0 1l-0.9 0.4l1 0.1l0.8 0.6l0.8 0.6l0.7-0.7M70.9 111.6l-0.7-0.7l0.6-0.8l-0.5-0.9l-0.4 1l0 1l-0.2 1l-0.7 0.7l-0.6 0.8M87.3 109.9l0.6 0.8l0.2-0.9l-0.1-1l1-0.2l-0.6-0.8l0.7 0.7M71.4 109.4l0.8-0.7l1 0.3l0.2 0.9l1 0.3l0.9-0.4l0.5-0.9l-0.3-0.9M57.1 93.8l-0.8 0.5l-0.3 1l-0.6 0.8l-0.3 1l-0.9 0.4l-0.8 0.5l-0.6 0.9M81.4 102.4l0.3 1l0.7-0.8l0.6 0.8l-0.9 0.4l-1-0.1l0.3 1l0.8 0.5M45.8 97.1l-0.6 0.8l-0.6 0.8l-0.2 1l1-0.2M69.7 87.5l-1 0l-0.8-0.6l-0.5 0.8l-0.2 1l-0.6 0.8l-1 0.2M80.3 117.2l0.9 0.4l0.5 0.9l0.9 0.5l0.9 0.2l0.4 1l0.7-0.7l0.9-0.4M57.5 109.7l-0.9-0.6l0-1l-0.9-0.4l0.1 1l-0.2 1l-0.7 0.8l0.6 0.8l1-0.1M77.9 114.4l0.6-0.7l-0.6-0.8l-0.5-0.8l0.9-0.3l-0.9-0.4l0.4 1M71.0 107.7l0.9 0.3l0.3 1l-1-0.1l-0.9 0.5l-0.7 0.7l-0.7 0.8M86.1 97.2l-1 0.1l0.3-1l-0.3-0.9M49.0 106.0l0.9-0.4l0.3 1l0.9 0.4M90.7 101.6l0.5-0.9l0.4-0.9l-0.6-0.7l-1 0.1l0.4 0.9l-0.9-0.5l-1 0.1l-0.6 0.8M88.0 97.3l0.7-0.7l-0.5 0.9l0.6 0.7l0.5 0.9l0.6 0.8l0.3-0.9l-0.3-1l-0.6 0.8l-0.1-1M55.3 92.7l0.6 0.7l1 0l0.6 0.8l0.9-0.5l-0.1 1l0.6 0.9l0.4 0.9l0.9 0.5l0.4 0.9M79.9 93.2l1 0.1l0.9 0.4l0.5 0.9l0.4-1l-0-1l0.9-0.4M77.8 101.9l-1 0l-0.9 0.5l-0.6 0.8l-0.9-0.4l-0.8-0.5M64.0 102.4l-0.3 1l-0.9 0.5l-0.9 0.2l0.6-0.8l0.8-0.5l0.8-0.6l1-0.3l1 0.1l0.9-0.4M44.9 105.6l-0.6 0.8l0.8-0.6l0.7-0.7l0-1l0.7-0.7l0.8-0.6M87.7 98.5l1 0.3l0.2 1l-0.8-0.5M84.5 108.0l1 0.3l0.6-0.7l1 0.3M73.8 110.1l-0.1-1l0.8-0.6l0-1l-0.6-0.8l-1-0.2M76.1 99.0l0.9 0.4l-0.6 0.7l-0.4 1l-1 0.2l-0.4 0.9l-0.7-0.7l-0.7-0.7M81.6 118.1l-0.4 0.9l-0.9 0.5l0.1-1l-0.9-0.5l-1-0.2l-0.8-0.6l0.3-1M69.8 99.1l-0.7 0.7l0.9 0.4l0.8-0.6l0.8-0.6l0.6-0.8l1-0.3l0.2-0.9l0.9 0.3l0.6 0.8M90.9 108.7l0 1l0.8 0.6l-0.7 0.8l0.7 0.7l0.6-0.9l-0.2-1M51.2 104.7l0.2 1l1-0.3l0.4-0.9l0.6-0.8M80.2 117.6l-0.9 0.3l0.2-1l0.9-0.5l-0.7 0.7M61.9 93.3l0-1l1 0.1l1 0l0.6-0.8l1 0.1l0.6 0.8l0.5 0.9M82.6 96.6l-0.4 1l0.8 0.6l0.4-0.9l-0.7-0.7l-0.6-0.8l-1 0.1M73.5 108.3l1 0.4l-1-0.4l-0.2-1l-0.2-0.9l0.2-1l0.3-1l0.3-0.9l1-0.3M73.9 104.1l-1 0.1l-0.8 0.6l-0.2 1l0.9 0.4l0.9-0.4M86.9 95.9l0.7 0.8l-0.3 1l-0.9-0.3l-0.7-0.7l-0.3 1l0.7 0.7l0.3-0.9l-0.8-0.6M87.1 113.6l-0.5-0.8l-0.1-1l0.9-0.3M83.0 114.4l1-0.1l-0.5-0.9l1-0.3l1 0.1l-0.6-0.8l-0.2-1l-0.7 0.7l0.5 0.9l-0.3 0.9M73.8 88.6l0.5 0.8l-0.2-1l0-1l-0.5-0.9l-0.8 0.6l-1 0.4l-0.1 1l-0.7-0.6l0.9 0.2M44.8 102.3l-0.5 0.8l-0.3 0.9l0.3 1l0.8 0.6l-0.8 0.6l-0.3-0.9M64.9 97.7l-0.8 0.6l-0.8 0.6l-1-0.4l-0.3-0.9l-0.9-0.4l0.1-1l0.4-0.9M79.7 110.6l-0.4 0.9l-0.3-1l-0.5 0.9l-0.6 0.7l-0.9 0.5M60.8 91.4l0.9 0.4l0.5-0.9l-0.3-1l-0.9 0.3l0 1l0.8 0.5l1 0.3l1 0.2M82.5 117.3l-0.5-0.9l-0.9-0.4l1 0.1l0.5 0.9l0.9-0.4l-0.3 0.9M82.5 103.5l0-1l0.5-0.8l-0.3-1l-0.8-0.6l0.5-0.9l-0.7-0.7M52.3 98.9l0.9-0.4l0.1 1l0.9 0.3l-0.5-0.8M52.7 91.0l1 0M59.6 102.8l0.7-0.7l1-0.1l1-0.1l0.7-0.7l-0-1l-1-0.1M67.0 106.6l0.4 1l-0.8-0.7l-0.9 0M88.0 99.4l0.9-0.4l1-0.2l-0.2 1M49.3 107.4l0.6 0.8l-1-0.2l-0.1-1M67.3 116.7l0.7-0.8l0.4-0.9l-0.5-0.8l1 0.1l0.9 0.2l0.7 0.7M85.2 100.7l-1 0.1l-0.9 0.6l-0.1-1l0-1M48.5 96.7l-0.8 0.6l-1 0.3l0.2-1M76.8 114.3l0.6 0.7l0.7 0.8l0.9 0.4l0.9 0.5l1-0.1l-0.7-0.8l-0.2-1l1-0.3M67.6 107.0l-0.3-1l-0.9-0.4l0.2 1l0.9 0.5l-0.2 0.9l-0.4 1l1 0l-0.2 1l0.3 0.9M68.2 104.2l0.3 0.9l-1 0.2l-0.7 0.7l-1 0.2l-1-0.2M68.0 86.1l-0.9 0.4l-0.9-0.5l0.8 0.6l-0.1-1l-0.6-0.8M82.9 95.4l-0.1-1l-0.9-0.4l0.6-0.8l0.4-0.9l1 0.2M69.6 88.4l0.5 0.8l-0.1 1l0.8 0.7l0.3 1l0.6 0.8l-1 0M76.8 110.0l0.2 1l0.7 0.7l0.2 1l-0.6 0.8l-0.7 0.7l-0.6 0.8l-0 1l0.8 0.6M61.4 93.8l1-0.2l0.9 0.4l-0.4 0.9l-1-0.1l-0.6-0.8l0.2 1" stroke="#E35C0C" stroke-width="1.2" fill="none" stroke-linecap="round" stroke-linejoin="round"/>
<circle cx="41.6" cy="86" r="0.8" fill="#E35C0C"/>
<g fill="none" stroke-linecap="round" stroke-linejoin="round">
<path d="M51.5 69.8l1.5-1.2 2 .3 1.5 1.3-1 1.5-1.5.6M53.5 72.5l1.5-.5M50 74.8l1-1.5M47.5 76.8l-1 1.2M45.5 79.3l2 .6 2-.4M50.5 78.6l2 .8M43 81.2l1-.5" stroke="#E35C0C" stroke-width="1.9"/>
<path d="M43.5 80.8L46 77.5 48.5 75.5 51 73.5 52.5 71.2 54.5 69.2 57 68.2 59 68.8M44.5 80.6L47.5 79.6 50 80.2 53 79.4" stroke="#5B2DA8" stroke-width="1.15" stroke-dasharray="1.6 0.9"/>
<path d="M99.5 121.5l2.5.5 2.5 .8M104.5 124l1.8 1.2.8 1.8M98 126l1.5 1M101 126.5l2-.5M104.5 129.5l1-1" stroke="#E35C0C" stroke-width="1.6"/>
<path d="M99.5 128.8l2 .8 2.3-.2 1.2 1M100.5 130l2 .6M103 127.5l1.5 1.5M105.5 126.2l.8.8" stroke="#5B2DA8" stroke-width="1.2"/>
</g>
<defs>
<path id="s00" d="M136.5 315.0l-0.3-1l-0.1-0.9l0.9 0.3l0.5 0.9l0.6-0.9M57.5 313.5l1 0.1l0.1 1l0.8 0.5l0.5 0.9l0.5 0.8l-1 0l-0.3 1l-0.9-0.3M79.2 335.8l0.9 0.5l-0.8 0.6l-0.8 0.6l0.9 0.1l1 -0l0.7 0.7l0.6 0.8M53.2 312.8l-0.1-1l0.9 0.3l1-0.3M96.9 324.9l0.4 0.9l0.6 0.9l0.8 0.4l0.7 0.8l0.6 0.8l1 0.1l0.6 0.8M111.5 330.4l-0.3-1l0.1-1l-0.2-1l0-1l1 0.1l0.5 0.9l0.6-0.8l-0.2-1l-1-0.3M56.1 323.1l-0.3-0.9l0.3-0.9l0.6-0.8l-0.9-0.1l-0.6 0.8M85.2 334.9l-0.9 0.3l-0.7 0.8l-1 0l-0.2-1l0.3 1l0.9 0.5l0.8 0.5M142.4 306.0l0.2 1l-1 0.2l0.3 1l0.6 0.7l-0.5 0.9l1 0.2l0.3 1l-1 0.3M59.4 303.8l-0.9-0.5l0.7 0.7l-0.7 0.6l0.2-1l-0.7 0.7l-1 0.1M69.3 289.8l0.6 0.8l-1 0.2l0.6-0.8M158.5 315.0l-0.6 0.7l-0.4 0.9l0.6 0.8l-0.8 0.7l-0.5 0.8l-0.5 0.9l-0.9 0.4M130.4 324.8l0.6-0.7l1-0.3l0.7-0.7l0.6-0.8l-1-0.1l0.6-0.8M131.9 309.3l-0.5-0.8l-0.8-0.6l-0.6-0.8l-0.9-0.5l-0.9-0.5l0.2-1l0.5-0.8l0.2-1M93.9 327.0l0.3-1l-0.6-0.8l-0.8-0.5l-0.6-0.8l0.4-0.9l0.4-0.9l0.7-0.8l-0 1l-0.6 0.8M64.5 314.5l-0.7-0.7l0.6-0.8l0.8-0.6l1-0.1l0.7-0.7l1-0.3l0.9-0.3l0.8 0.6l0.2 0.9M81.5 306.5l-0.7 0.6l0.4 0.9l-0.3-0.9M119.5 305.2l-0.7 0.8l0.4 0.9l0.1 1l0.2 1l0.9-0.6l0.6-0.7l0.9-0.4l1-0.3M59.4 317.2l-0.5 0.8l0.2 1l-0.8 0.6M82.3 291.3l-0.8 0.5l0.6 0.8l-0.4 0.9l0.9 0.6l0.7 0.7M57.6 292.9l0.8 0.6l-1-0.2l0 1l-0.5 0.9l-0.7-0.6l-1 0.2l-0.9 0.3l-1 0M66.8 317.4l0.2 1l-0.3 1l0.3 0.9M68.8 325.5l0.3-1l-0.7-0.7l-0.9-0.5l-0.8-0.5l-0.4-1l0.1-1M73.8 305.9l-0.1 1l1-0.1l1 0.3l-0.4 0.9l0.6 0.8M178.7 308.2l-0.5 0.8l1 0.1l-0.6 0.8M59.5 309.4l-1-0.1l0.1 1l0.5 0.8l0.6 0.8l0.4 0.9l0.4 1M92.6 299.9l-0.3 1l0.1-1l0.5 0.9l-0.9-0.5M64.6 309.0l-0.8-0.5l-0.2-1l-0.9 0.4l-1 0.1l-0.8-0.7M57.8 315.8l0.2 0.9l0.9-0.2l0.9 0.6l0.9 0.2l1 0.2M91.9 339.0l-1-0.2l-0.6-0.8l-0.4 0.9l-0.8 0.5l-1-0.1l0.3 0.9M71.2 320.4l-0.4-0.9l0.6 0.8l0.5-0.9l-0.4-0.9l-0.2-1l0.2-1l-0.4-1l0.4-0.9M69.8 307.9l0-1l0.4-0.8l0.7 0.7l0.9 0.4l0.8 0.6M127.4 323.1l-1 0l-0.8-0.5l-0.9-0.5l-0.1-1l-0.6-0.8l-1 0.3l0.6-0.8M69.4 334.3l-0.1 1l0.8 0.6l0.8-0.6l0.8 0.4l-0.1 1l1 0.2l0.7 0.7l-0.9 0.5l0-1M171.2 305.7l-0.5 0.9l0 0.9l0.1 1l0.1 1l-0.4 1l0.1 1l-0.5 0.8l-0.3 1M64.7 324.4l-0.7-0.6l0.2-1l-0.3-0.9l0.5-0.9l0.3-1l-0.1-0.9l-0.9-0.6M88.1 342.1l-0.9-0.6l-0.8-0.4l1-0.1l-0.9-0.5l-0.3-1l-0.7-0.7l0.8-0.6M106.3 340.5l0.9 0.3l1 0l0.8-0.7l-0.1-1l-0.4-0.9l0.7-0.8M90.4 309.9l0.2 0.9l1 0.2l0.7-0.7l0.9 0.4l0.7-0.7l0.7 0.8l0.8-0.5l1 0.3l0.6-0.7M75.1 324.5l0.5-0.9l-0.2-1l1-0.1l0.8 0.6l-0.1 0.9M56.0 322.8l0.8-0.6l0.8 0.6l0.9-0.6l0.9 0.3l-0.2-1l0.7-0.8l0.7-0.6M149.0 326.4l0.8-0.6l0.7-0.7l-0.9-0.3l-0.2 1l-0.5 0.8l0.2-1l0.2-0.9M90.3 319.2l0.5-0.9l-0.9 0.5l-0.1 1M76.9 338.8l-0.1-1l-1-0.1l-1 0.2l-0.9 0.4l-0.6-0.8l-0.9 0.5l-1 0M73.0 337.3l-0.9 0.4l-0.3-0.9l-0.8-0.7l-0.8 0.6l-0.9 0.3l-0.6-0.8l0.8-0.6l0.3-0.9M67.9 314.7l-0.6 0.8l-1 0.2l-1 0l-1 0.1l0.5-0.8M77.3 316.8l-0.4-0.9l0.3-1l0.8 0.6l1 0.2l0.1 1l0.7 0.7l0.9 0.4l0.9 0.4M100.4 316.2l0.3 0.9l-0.2 1l0.5 0.9l-0.9-0.4l-0.2 1l-1 0l-0.3 0.9l-0.8-0.6l0.7 0.7M53.3 305.6l-0.2-1l0.4-0.9l0.6-0.8l1-0.1M84.3 295.5l1 0.4l0.7-0.7l0.8-0.6l-0.6-0.8l0.7-0.7M122.4 328.2l0.2 0.9l0.7 0.8l0.8-0.5M56.9 323.0l0.6 0.8l0.1 1l1-0.1l1 0.1l1-0.2M93.3 310.0l-0.5 0.9l0 1l1-0.1l0.1 1l-1-0.1l-0.7 0.7l-0.8-0.6l-0.1 1l-0.5-0.8M57.9 323.8l0.9-0.4l0.9-0.3l-0.6-0.7l0.6-0.8l0.1-1l0.7 0.7l0.2 1l-0.4-1l0.1-0.9M73.2 314.9l1 0.1l0.4-0.9l-0.8-0.5l-0.2-1M75.8 322.0l1-0.1l1-0.3l0.9 0.4l0.9 0.4l0.6-0.8l0.1-1l0.6-0.8l0-1l-0.4-0.9M98.5 325.3l0.6-0.8l0.7 0.8l-0.8-0.6l-0.2-0.9M83.8 311.5l-0.4-1l-0.9-0.4l0.1 1l0.2 0.9M109.8 342.8l-0.8 0.7l0.9 0.3l0.7 0.7l-0.9-0.4M110.2 301.9l-0.6-0.7l-0.4 0.9l-0.9 0.5l-0.6 0.8M92.5 303.7l0.1 1l1 0.1l-0.1 1l-1-0.1l-1-0.4l-0.3-0.9l0-1M109.2 302.0l-0.8-0.6l-0.3 1l-1 0.1l-1-0.3l0.2-1l0.3-0.9l1-0.2l0.9 0.4M153.5 313.1l-0.9 0.3l-1 0.3l-1 -0l-0.8 0.5l0.3 0.9M91.8 338.2l-0.5 0.8l0.3 1l-1 0.1l-1-0.3M77.3 296.4l0 1l0.2 1l-1 0.2l-0.9 0.5l-0.4-0.9l0.7-0.8l0.3 0.9M172.2 287.8l1 0.4l0.7 0.6l1-0.3l-0.3 0.9l0.2 1M78.0 312.6l-0.9-0.3l-1-0.1l-1 0.2M51.3 294.7l1-0.1l0.9-0.4l-0.1 1l0.8 0.6l-0.3 1l1 0.2l-0.6 0.8l-0.5 0.9l-0.7 0.7M92.7 332.2l0.6 0.8l0.1-1l-0.4 1l-0.4 0.9l-0.9-0.4l-0.2 0.9M87.0 334.1l-1 0.3l-0.7 0.7l-0.5-0.8M62.8 315.1l-0.8-0.6l-0.9-0.3l-1 0l0.1 1l0.8 0.5l-0.6 0.8l0.4 1l0.5-0.9M88.3 333.7l0.1-1l0.6-0.8l1-0.2l0.9-0.3l0.9 0.4l0.7-0.8l0.2 1M97.7 324.0l0.8 0.6l-0.1-1l-1 0l-0.7-0.8l1 0.2l0.8-0.6l-0.2-1l0.5-0.9M114.9 336.9l-0.3-0.9l0.3-1l1 0.1l-0.3-1l-1 0.3M55.2 298.1l0.7 0.7l0.3 0.9l0.2 1l-0.3 1l-0.6 0.8l1-0.2l0.8-0.6M123.3 332.3l-0.1 1l-0.8 0.6l-0.9 0.5M158.4 317.9l0.2-1l0.9-0.4l-0.3-1l-0.4-0.9l0.6-0.8l0.5 0.9l0.1 1l0 0.9l-0.8-0.5M152.2 313.9l0.3 0.9l0.6 0.9l0 1l-1-0.3l-1 0.1l-0.9-0.3l-0.6-0.8M113.0 318.9l1 0l0.7 0.6l-0.8 0.6l-0.6 0.8l-1-0.2l-0.8-0.6l-0.4 1M75.6 331.2l0.7 0.7l0.2 1l-0.9 0.4l-0.7-0.7l-0.8-0.6l0.2-1l0-1l-1-0.2M58.9 308.3l0 1l0.9 0.2l1-0.1l0.7-0.7l-0.9 0.2l-1 0.3l-0.8-0.5l0.1-1M74.5 325.4l1 0.2l0-1l0.3-0.9l0.5-0.9l-1-0.2l-1-0.2l1 0.3l0.8 0.6l-0.5 0.9M63.0 322.0l-0.7 0.7l0.4 1l0.7 0.6l0.3 1M93.7 331.4l-0.7 0.7l-0.7 0.7l-1 0.2l-0.6-0.8M138.7 304.8l-0.9 0.4l-0.9 0.5l-0.9-0.3l-0.9 0.5l-1-0.4l0.6 0.8M70.4 323.8l1 0.1l0 1l-0.4 0.9l0.9 0.5l-0.3 0.9M64.9 305.8l-0.3-0.9l-0.8-0.6l-0.9-0.3l-0.9-0.6l0.8-0.6M108.5 305.8l0.5-0.9l0.5-0.8l0.4-0.9M126.8 330.6l-0.9 0.4l-0.2 0.9l1-0.2l-0.2 1M63.3 330.0l-0.9 0.3l0.6-0.8l0.9-0.4l1-0.2l-0.9 0.5l0.1-1M66.9 335.6l-0.8-0.6l0.4-0.9l1 0.1l0.9-0.4l0.3-1M181.2 327.5l1 0.2l-0.4 0.9l-1-0.1l-0.7-0.6l-0.7-0.8M173.5 331.7l0.2-1l-0.5-0.9l-0.6-0.8l-0.8 0.6l-0.8 0.6M165.3 334.0l-0.6 0.8l-0.4-0.9l0.5-0.9l-0.5-0.9l-1-0.2M163.4 333.0l-1 0l-0.7-0.8l0.1 1l0.8 0.7l1-0.2l-1 0.2"/>
<path id="s01" d="M101.0 323.7l-0.5-0.8l-0.4-1l0.5-0.8l0.9-0.5l0.8-0.7l0.9 0.3l0.8 0.6M88.3 291.7l-0.2 1l0.2 1l-0.7 0.6l-0.8-0.6l0.4-0.9l-0.1-1M101.1 339.8l0.3 1l-0.2 1l-0.9 0.3l-0.3-0.9l0.1-1l0.9 0.3l0.6 0.8l0.9-0.3M93.9 322.2l0 1l0.9-0.3l-0.1-1M93.0 306.4l0.6-0.7l0.6-0.9l-0.3-0.9l-0.9-0.5M96.6 329.4l-0.5-0.8l-1-0.2l-0.5-0.9l-0.8-0.5l0.9-0.4l0.2-1l-0.2 1M90.3 335.1l0.1 1l-1 0.1l-0.7 0.7l0.7-0.7l0.9 0.4l0.6 0.8l0.7-0.6l0.5-0.9l0.2-1M107.8 334.9l-0.9 0.5l-1 0.3l-0.3 1M87.3 319.5l0.1-1l0.6-0.8l0.4-0.9l0.5 0.8l-0.6 0.8l-0.9 0.3l-0.7-0.8l-0.7 0.7l-0.7-0.8M154.2 311.0l0.2-1l0.5-0.8l0.9 0.5M100.4 339.2l-0.9 0.4l-0.4 1l0.5 0.8l0.6-0.8M102.5 337.0l0.2 0.9l0.8 0.6l1-0.1M184.6 314.0l0.5 0.8l0.6-0.7l1-0.4l0.9-0.3M91.8 324.2l0.5-0.9l-0.2-1l-0.6-0.8l-0.7 0.7l-0.7 0.7l0 1l-0.9 0.5l-1 0.1l-0.9 0.3M158.1 311.0l-0.8 0.5l-0.4-0.9l-0.8 0.6M61.5 312.9l-0.7 0.7l0.7 0.8l1 0l-0.7-0.7l1 0.1l1-0.2l1-0.2l-0.8-0.6l-1-0.2M83.5 321.3l0.6 0.8l0.6 0.8l0.1 1M69.1 308.2l-0.5-0.9l0-1l-0.1-1l0.4 0.9l-0.1 1M112.3 306.5l0.7-0.7l0.9-0.4l0.2 1l0.9-0.5l1 0.2l-1 0.4l-0.8 0.5l1 0.1M77.3 299.4l-0.8 0.6l-0.6 0.7l-0.3 1l-0.9 0.6l0.6-0.9l0.1-1M107.1 308.9l-1-0.1l0.9-0.4l0.9-0.5l0.5-0.9l0.7 0.7M87.6 322.8l0.9-0.4l0.8 0.6l0.7-0.7l0.9-0.4l0.9-0.3l-0.3-0.9l0.4-0.9l0.9-0.5M90.8 331.2l1 0.2l0.6-0.7l1 0.2l0.8-0.6l0.3-1l-0.1-1M78.1 327.7l-1-0.1l-0.5 0.9l-1 0l-0.8-0.6l-1 0.1l0.8 0.6l1 0.1l0.9 0.5l-0.2 0.9M141.0 304.1l1 0.3l-0.9 0.5l-0.8 0.7l-0.6-0.8l1 0l1 0l0.8-0.5M70.8 314.9l0.8 0.7l-0.5 0.9l-0.7 0.6l-1-0.1l-0.4-0.9l-1 0l-1 0.2l-0.7 0.7M154.7 310.6l0.5-0.9l-0.9-0.5l-0.7-0.7l0.8-0.6l0.6-0.8l-0.7-0.7l0.9-0.3M184.2 299.0l-0.3-1l-1 0l0-1l0.7-0.7l0 1l-0.8 0.5l-0.1-1M75.4 338.6l-0.6 0.7l0.8-0.6l0.8 0.6l1 0.1M114.8 336.3l-0.9-0.3l-0.9-0.5l-1-0.2l-0.9-0.2l-0.8 0.7l-0.8 0.6l-0.3-1l0.2-1M103.6 315.2l-0.2 0.9l-0.2 1l-0.6 0.8l0 1l1 0l-0.7 0.7l-0.7 0.7l-1 0.1M96.3 335.2l-0.9-0.5l-0.6 0.8l-0.9 0.4l-0.3-1l0.4-0.9l-0.9-0.2l-0.4-1l-1 0.1M184.6 313.1l-0.9-0.5l-0.7-0.7l-0.6 0.7l-1 0l0 1l-0.3 1l1-0.1l0.9 0.5M91.1 301.7l-0.9-0.5l-1-0.1l-1 0.1l-1 0l-0.9 0.4l-0.7-0.6l0.3-0.9M54.4 316.5l1-0.4l-0.1-1l1 0l0.8-0.6l1-0.3l0.7 0.7l0.5-0.9l-0.8-0.6l-1-0.1M128.1 320.9l0.9-0.5l0.6-0.8l-0.6-0.8l0.6-0.8l1-0.1l0.7-0.7l-0.6-0.9l0.4-0.9l-0.5 0.9M100.8 319.9l1-0.3l0-1l-0.8-0.6l0.5-0.8l0.3-1M76.2 313.1l0.7 0.7l0.7 0.7l0.8-0.6l-0.4-0.9l0.4-0.9l-0.9-0.3l1-0.1l0.9-0.3l0.5-0.9M71.2 335.9l0.8 0.6l1-0.3l0.9-0.3l0.6-0.8l1 0.3l0.6-0.8l-1-0.1l0.3 0.9l-0.9-0.5M79.2 312.0l1-0.2l0.2 1l0.8 0.6l-0.6 0.8l-0.7 0.8M92.4 340.0l-0.5-0.9l0.6-0.8l-0.9-0.3M144.8 315.0l-0.6-0.8l0.1 1l-1-0.1l0.2-0.9l-0.7-0.7l-0.4-0.9l0.3-1l0.2-0.9M69.3 286.1l1-0.1l0.4 0.9l-1-0.2l0.8-0.6l0.9 0.4l1 0.3l-0.5 0.8l0.5 0.9l-1 0.1M134.8 318.1l-0.9 0.5l0.3 1l0.6 0.8l-0.9 0.2M70.6 322.5l-0.2 1l-1-0.1l-1-0.2l-0.4-0.9l-0.8-0.5l-0.7-0.7l-0.4-1M105.7 339.0l-0.9 0.2l-1 0l0.1 1l-0.6 0.8l0.2-1l0.4-0.9l1 0.1l1-0.2l0.8-0.6M106.7 307.1l-0.5-0.8l-0.8 0.5l0.9 0.5l1 0.1M108.0 320.8l1-0.3l0.9-0.3l1-0.3l-0.6-0.8l1-0.1l0.6 0.9l0.9-0.4l-0.1-1M98.3 339.4l1 0.2l0.1-1l-1-0.3l-0.7 0.7M93.4 285.2l-0.9 0.4l-1 0.3l-0.9 0.4l-0.7 0.7l-0.1 1l-0.2 1l-0.7 0.8l-0.4-0.9M163.0 312.9l1 0.1l-0.6 0.9l1-0.2l0.8 0.6M109.7 343.8l-0.5 0.8l-1 0.1l0-1l0.9 0.5M72.6 308.9l1 0.1l1-0.2l-0.1 1l0 1M129.7 303.3l0.6 0.9l-1 0.3l-0.8-0.5l-0.7 0.7M58.7 309.0l0.6-0.8l-0.8-0.5l-0.2 1l-0.7 0.7l-0.5 0.9l-0.9-0.3l-0.4-0.9l1 0l0.6 0.8M132.0 325.0l-0.4-0.9l-0.9 0.3l-1-0.1l-0.8 0.6l0.3 1l-0.5 0.9M168.2 316.8l0.7 0.7l0.9-0.5l0.7-0.8l0.8-0.5l1 0.1l1 0l-0.5 0.9l0.5 0.8M185.2 300.9l-1-0.3l-0.1-1l-0.4-0.9l-0.9 0.6l-0.2 0.9M194.2 306.4l-0.9-0.3l-0.7-0.7l-0.6-0.8l-0.9-0.5l0.9-0.4l1 0.1l1 0.3M90.0 326.5l-0.3-0.9l-0.9 0.5l-0.8 0.5l-0.8-0.6l0.4 0.9l-0.4-0.9l0 1M66.6 297.0l-0.7 0.7l-0.7 0.8l0 1l-0.9-0.4l0.4-0.9l0.4-0.9l0.4-1l0.9 0.4M90.2 303.1l-1 0.1l-0.7-0.6l0.2-1l-0.2-0.9l0.1-1l-0.3-1l0.1-1l0.9-0.2l0.5-0.9M82.1 310.3l0.1 1l0.8 0.5l-0.7 0.6l-0.1 1l-1-0.2l-0.8-0.6M102.2 317.8l0.1 1l0.6 0.8l-0.6 0.8l-0.6 0.8M117.8 308.2l0.3-1l0.6-0.8l0.6-0.8l0.5 0.9l-0.9 0.4M83.9 300.7l-0.8 0.7l1 0l-0.3 0.9l-1-0.3l-0.9-0.4l0.3 0.9M104.7 325.4l-1 0.2l-0.3 0.9l-0.4 1l-0.2 0.9l-0.7 0.7l-1 0.1M87.5 334.7l0-1l-0.1-1l-0.4-0.9l-0.9-0.4l0.3 1M104.2 331.3l0.7 0.7l0.7 0.7l0.5 0.8M75.9 310.0l0.4-0.9l0.8-0.6l0.9-0.3l0.4 0.9l0.3 0.9l1 0.4M113.9 320.8l0.9 0.5l0.4-0.9l-0.1-1l-1 0.2l-0.9-0.5l-0.6-0.8M59.3 323.5l-0.8 0.7l-0.8 0.6M93.7 327.3l-0.6-0.8l0.9-0.3l0.2-1M98.7 299.5l0.3 0.9l-0.4-0.9l-1 0M73.5 296.1l0.1-1l0.5-0.9l-0.1-1l0.7-0.8l-0.8 0.6l0.4 0.9l0.3 1l-0.9-0.4M180.8 305.9l0.1-1l-0.7-0.7l-0.6 0.7l0.2 1l1-0.2l1 0l1-0.3M97.0 322.1l-0.5-0.8l-0.6-0.8l0.9-0.5M51.9 296.2l-0.9-0.5l-0.5-0.9l0-1l-0.1-1l0.3-0.9M112.3 309.2l-1 0.3l-1-0.2l0.2-1l-0.9 0.5l0.6 0.9M76.3 308.0l-0.8 0.6l-0.9 0.5l-0.8 0.5l-1 0M76.4 283.0l-1 0.2l-1 0.3l-0.8-0.6l-1 0.2l-0.4 0.9M52.3 306.1l0.7 0.7l0.4-0.9l-1-0.2l0.6 0.8M106.8 305.4l0.9-0.4l-0.1 1l-0.6 0.7M102.6 331.0l0.9 0.4l-0.7 0.8l-0.9 0.1l-1-0.1l-0.9 0.5l-0.9 0.5l-0.2-1M100.6 301.0l0.9 0.3l-0.8-0.6l-0.9-0.4l0.1-1l-0.1-1l-0.9-0.3l-1-0.1M61.8 295.6l-0.4-0.9l-0.2-1l0.1-1l0.9-0.2l0.3-1l-0.8 0.6M102.4 300.9l-0.7-0.7l-0.6-0.8l-0.4 0.9l-1 0M62.5 329.6l-0.8-0.5l-0.5-0.9l-0.6-0.8l-0.8 0.6l-0.2-1l-0.7-0.7M72.7 304.1l-0.9-0.4l-1 0.2l-0.6-0.8l-0.4-1M114.5 336.1l-0.5 0.8l-1 -0l-0.8-0.6l-1 0l0.2-1l0.9-0.4l1-0.1l0.8-0.5l0.4 0.9M81.9 306.3l-0.8 0.5l0.6 0.8l1 0l0.6 0.8l-0.8 0.6l-0.9 0.4l-0.1 1l0 1l-0.7 0.7M179.5 323.7l-0.7 0.6l-1 0l-0.6-0.8l0.6 0.8l0.7 0.7l0.1 1l-0.5 0.8M168.1 331.8l-0.3 0.9l0.2 1l0.6 0.8l0.8 0.6l0.1 1l0.1 1M183.9 324.9l0.7-0.7l0.7-0.8l0.3 0.9l-0.9 0.6l-0.2 1"/>
<path id="s10" d="M159.3 304.2l1 0.1l0.6 0.7l0.8 0.7l-0.1 1l0.2 0.9M77.9 288.5l0.8-0.6l-0.2-1l-0.7-0.7l-0.2-0.9l-0.2-1l0-1l0.9 0.6l-0.6 0.8M82.6 293.1l-0.5 0.9l-0.8-0.7l-0.8 0.5l-1-0.2l-1-0.1l-0.5-0.8l0.2-1l-0.1-1l-0.7-0.7M127.7 310.3l-0.5-0.9l-0.8 0.6l0.7-0.7l0.7-0.8l0.8-0.6l-0 1l0.6 0.8l-0.8 0.6M83.5 293.3l-0.5 0.8l0.7-0.7l0.4-0.9l0.9-0.4l0.9-0.5l-0.4-0.9l0.9-0.3l0.2 1l0.9-0.5M149.5 324.9l0.1-0.9l0-1l0.8-0.6l-0.7-0.8l0.3-1l-0.3 1l1-0.3l-0.6 0.7M61.4 299.3l0.8 0.5l0.7 0.7l-0.6-0.8M122.8 319.3l-0.6 0.8l0.1-1l-1 0.2l-1 0.1l0.2 0.9M156.0 317.5l-0.3 0.9l-0.6 0.8l0 1l-0.7 0.7l-0.3 1l0.3 0.9M144.4 310.9l-0.7-0.8l-0.9-0.4l0.2-0.9M134.2 321.7l1 0l-0.2-1l-0.8-0.7M71.8 320.2l0.5 0.9l0.9-0.3l0.3-0.9l0.8-0.7M56.0 278.3l1 0.3l1 0l1-0.1l0.6 0.7M142.8 305.8l-0.7-0.6l-0.6 0.7l-1 0.4l-0.4-0.9l-0.9 0.2l-0.7-0.8l-0.9-0.4M84.9 287.6l-1 0.1l0.2 1l-1 -0l0.4-0.9l-0.4-1l1-0.4l0.7 0.6l1-0.3M130.5 317.0l-1-0.1l-0.5-0.9l0.1 1l0.8-0.7l1 0.2l-0.2 1l0.1 1M76.2 294.5l-0.1-0.9l0.2-1l1 0l1-0.1l1 0l1 0l1 0.3l0.9-0.3l1 0.1M111.5 323.9l0.1 1l-0.6 0.8l-0.6 0.8M110.0 326.2l0.7-0.7l0.7 0.7l0.4 0.9M174.9 316.4l0.9-0.6l0.7-0.6l0.1-0.9M137.9 298.6l0.9-0.4l-0.4-0.9l-0.7-0.6l-1-0.1l-1-0.3l0.7 0.7l0.3-1M97.6 344.0l-0.2-1l0.2-0.9l-0.9-0.6l1 0l-0.3-0.9M53.3 287.1l-0.2 1l-0.4-0.9l0.5 0.8M102.7 302.4l-0.3-0.9l0-1l-0.4-1l-0.6-0.7l0-1l-0.1-1l-1-0.2l-1-0.4M95.3 308.8l-0.8-0.6l-0.2 1l0 1M112.0 309.0l-0.4-0.9l-0.9-0.2l-0.7 0.8l0.5-0.9M179.0 301.1l-0.7-0.7l0.9-0.4l0.9-0.5l1-0.1l0.9 0.5l0.9 0.3l0.8 0.7M62.6 294.6l0.5-0.8l1 0.1l0.3-0.9l-0.9-0.2l-0.5-0.8M85.8 317.6l-1 0.2l-0.8 0.5l-1-0.2l-1 0l-1 0.1l-0.3 1l-0.1 1l-0.7 0.8l-0.4 0.9M149.1 320.3l-0.6 0.7l1 0l1-0.1l0.9-0.2l-0.3-0.9M80.5 291.4l-0.8 0.6l-0.4 0.9l0.9 0.4M126.4 308.0l-0.7-0.8l0.8 0.7l1-0.1l0.1 1l0.7 0.7M81.4 293.6l0.9 0.1l0.8-0.6l1 0.3l0.5 0.9l0.9 0.5l0.9-0.3l0.5 0.8l0.4 0.9l0.8-0.6M142.1 318.7l0.8-0.6l0.2-1l-0.9 0.3l-1 0.1l-0.9-0.4l0.4 1M122.8 317.9l-0.7 0.7l-0.6-0.7l-0.7-0.8l-0.6-0.8l0.4-0.9l-0.4-0.9l-0.3-1l-1-0.1M121.2 301.7l0.6-0.8l0.9-0.4l0.8 0.6l0.8 0.6l0.1-1l0.7 0.7l0.5-0.8l0.3-1l-0.3-1M129.8 326.3l-0.5-0.9l0.5-0.9l0.9 0.5l0.8-0.6l0.2-1l-0.9-0.4l-0.1-0.9M81.7 329.2l-1 0.3l-0.8-0.5l-0.8 0.7l-0.9 0.3l-1 0.3l1 0.3l0.6-0.8M137.2 322.2l1 0.3l0-1l0.7-0.7M120.8 319.3l1-0.1l0.9-0.5l0.9-0.4l-0.9-0.4l0.9 0.5l-1 0.3M116.5 329.5l0.9 0.2l-0.7 0.7l-1-0.2M85.4 307.6l-0.7-0.7l-0.8-0.6l-0.6-0.8l-0.5-0.9l1-0.1l0.5-0.8l-0.1-1l1 0M74.5 313.0l0.9-0.5l0.5-0.9l-0.1-1l1 0.4l-0 1l-0.5 0.8l-0.1 1M138.3 326.9l0.4 0.9l0.4 0.9l-0.7-0.7l1 0l0.8 0.6M121.7 314.0l0.3-1l0-1l0.9-0.5l0.5-0.8l1-0.3M87.1 286.9l1 0.3l0.9-0.4l-0.3-1l0.1-1l-0.9-0.4l-0.6-0.8l-0.3 1l0.3 0.9l0.1 1M96.9 313.8l0.8 0.7l0.9 0.4l0.9-0.4M69.0 328.6l-0.8-0.5l1-0.2l0.9 0.3M68.1 275.8l0.5-0.8l-0.9 0.4l-0.9 0.5l-1 0.3l0.2-1l-0.9 0.2l-0.7-0.7M101.5 331.1l-0.2-1l0.9-0.4l0.3-1M84.1 307.5l-0.9 0.2l0.9 0.4l0.2 1M124.0 301.7l0.2-0.9l0.5-0.9l0.3-0.9l0.7-0.7l0.2-1M157.1 336.7l-0.4 0.9l0.9 0.3l0 1M157.3 345.1l-0.3 1l0 1l0.5 0.8l0.7 0.8l-0.6 0.8l-1 0.1M165.6 333.9l1 0.3l0.4-0.9l0.9-0.4l1 0.2l1 0l0.9 0.2l1 0l0.2 1M150.4 336.9l0.4 0.9l1-0.2l0.6 0.8l0.5 0.9l0 1l-1 0l-0.7 0.7l-0 1l0.9 0.4"/>
<path id="s11" d="M181.9 312.3l0.9 0.2l0.9 0.4l-0.5 0.9l0.8 0.6M148.7 314.8l-0.2 1l0.9 0.5l-0.3-1l-0.3-0.9l-0.5 0.8l-0.7-0.6l0.4-0.9M88.2 320.1l0.2 0.9l1 0.1l0.9-0.5l0.9 0.3M120.8 337.4l0.8-0.6l-0.8-0.7l-0.7-0.7l-0.9-0.5M122.5 316.9l-0.4-0.9l-0.6 0.8l-0.6 0.8M72.5 288.4l0.5 0.9l-0.6 0.8l-0.6 0.7l-0.9 0.5l0.7 0.7l0.1 1l0.9 0.6l0.8-0.5l0.8 0.7M185.4 314.7l-0.9-0.4l-0.5 0.8l0.8 0.5l0.1-1M144.9 314.8l1 0.1l0.9 0.4l0.5 0.9M145.9 301.4l0.8-0.6l0.6-0.8l0.7-0.7l0.2-1l0.9 0.6l1-0.1l0.9 0.4M124.0 315.8l0.3-0.9l-0.4-0.9l-0.7-0.8M89.6 271.0l0.9 0.3l1-0.1l0.7 0.8l0.8 0.5l-0.5 0.8l-1-0.1l-1 0.1M126.8 323.4l0.3 0.9l0.8-0.7l0.5-0.8l1-0.3M72.2 288.1l-0.1-1l-0.8-0.5l0.7-0.7l0.2-0.9M152.9 301.2l0.9-0.5l0.4-0.9l-0.9-0.5l-0.2-1l0.1-1l0.9-0.2l0.5-0.9l-0.1-1l0.9-0.3M145.7 310.1l-0.9 0.4l-0.9-0.4l-0.2-1l0-1l0.3-0.9l-0.1-1l0.1 1M183.8 300.5l0.8 0.6l0.9 0.4l0.7-0.7l0.8-0.6l-0.1-1l-0.9 0.6l-0.2 0.9l0.9 0.1M136.0 329.5l1 0l1-0.3l1-0.1l0.6-0.8l0.4-0.9M122.5 330.8l-0.4 0.9l-0.8-0.5l-1-0.1l-1 0.1l-0.7 0.7l0 1M129.3 309.0l0.7 0.6l0.3 1l1 0.1l-0.2 1l-0.9-0.3M96.2 333.8l-0.5 0.9l0.7 0.8l-0.6 0.8l-0.7 0.7l0.5 0.9l0.7 0.7M123.4 319.8l0-1l-1-0.3l-0.7-0.6l0.3-1M119.8 315.2l0.1 1l0.7 0.7l-0.9 0.4l-1 0.3l-0.8-0.5l0.5-0.9l-0.6-0.7l0.8-0.6l0.4 1M59.4 301.1l-0.5-0.9l-0.8 0.6l-0.6 0.9l-1 0.1l-0.6 0.8l1 0.2l0.7-0.6l-0.3-1l-0.7-0.7M91.6 305.2l-0.4 1l-0.5-0.9l-0.6-0.7l-1 0.1l-0.6-0.7l-1-0.2l-1-0.1M164.8 310.0l0.4-0.9l-0 1l0.3 0.9l-0.8 0.6M75.3 287.3l-0.4-0.9l0-1l0.8-0.6l-0.2-1l0.1 1l1-0.1l1 0M132.1 307.9l0.7 0.6l0.2 1l0.8 0.6l-0.2-1l0.6-0.8l0.9-0.3l-0.2 1M133.0 319.5l-1-0.2l-0.8-0.7l-0.9 0.2l0.7 0.6l1 0.2M131.6 312.9l-1-0.1l-0.9-0.4l-0.6-0.8l-1-0.3l0.6-0.8M178.4 319.2l0.1-1l0.9-0.2l0.4 0.9l-0.4-0.9l0.9 0.4l-0.5-0.9l-0.3-0.9M139.7 314.0l1 0.3l0.5 0.9l0.9-0.1l-0.8-0.6l-0.8 0.6l-0.7-0.7l-0.2-1l1-0.1M149.7 326.3l0.2-1l0.9-0.4l0.9-0.5l0.2-0.9l-0.9-0.5M172.8 300.9l-0.4 1l0.3 0.9l0.4-0.9l1-0.3l0.5 0.8l1 0.1l0.9-0.4M118.0 305.1l-0.1-1l-1 0.2l-0.7 0.6M142.2 309.4l-1-0.2l-0.2 1l0.2 1l0.7 0.7l0.2 0.9l-0.7 0.8l-0.6 0.8l0.3-1M155.1 314.8l0.4 0.9l-0.6 0.8l0.4 0.9l0.8 0.5l1 0.4l1-0.2l-0.1 1l0.5 0.8M196.8 311.2l-1 0.1l-1 0l-0.5 0.8l0.1-1l0.1-1l0.9 0.4M142.5 305.4l-0.8-0.7l-0.8-0.6l-0.9-0.5l-0.9 0.2l-0.3-1M66.3 275.9l1 0.1l0 1l0.8-0.6l0.9-0.4l-0.8-0.7l-0.8-0.5M174.0 303.4l-0.3 1l-0.5 0.9l-0.6 0.7l0.1 1l0.6 0.8l-0.7 0.6l-0.5 0.9l-0.2 1M160.3 301.9l0 1l-0.9 0.4l-0.5-0.9l-0.8-0.5l-0.7 0.7l0 1l-0.9 0.4l-0.2 1l-0.5 0.9M128.6 307.7l-0.9-0.1l0.7 0.6l0.8 0.7l0.9-0.4M66.3 310.7l-0.9 0.4l-0.6-0.8l0.2-1l-1 0.1M136.3 319.5l-1 0.2l-1 0.2l-0.7-0.7l-0.1-1l1-0.2l0.3-1l0.9 0.2M195.7 303.7l-0.9 0.4l-0.4 0.9l-0.5 0.9l0 1M150.7 301.1l-1 0.3l-0.6-0.8l-1-0.2l-0.1-1l-0.3-0.9l0.8-0.6M156.3 319.4l0.7 0.7l-0.1-1l0.9-0.3l0.9 0.6l0.8-0.6l0.4-0.9M195.1 302.8l-0.8 0.6l0.1 1M89.6 328.8l0.8-0.7l0.4-0.9l0.2-1l-0.4 0.9l-0.5 0.9M122.1 330.4l0.7-0.7l-0.1-0.9l0.6-0.8l-0.7-0.8l-0.9 0.5l-0.3 0.9l-0.7 0.8l-0.7 0.6l0.8 0.7M139.3 267.5l1-0.4l-0.7 0.8l0.2-1l0.8-0.6M158.4 318.4l0.8-0.7l-0.1-1l-1 0.1l0.1-1l-0.5-0.9M134.5 347.6l-0.8 0.5l-0.7 0.8l0.7-0.7l-0.7-0.7l-0.5-0.9l0.3-0.9M167.0 340.4l0.8 0.7l1-0.1l0.4 0.9l-0.1-1M164.6 344.0l0.5-0.9l0.7 0.7l-0.5-0.8l-0.8-0.6"/>
<path id="s20" d="M149.8 318.9l-0.1 1l-0.9 0.4l0.9 0.3l0.1 1M58.4 281.3l0.9-0.2l1 0.3l0.4-1l0.1-0.9l-0.4-1l-0.7-0.6l0.7-0.7l-0.8-0.6l0.7-0.6M150.2 313.8l-0.9-0.5l0.8-0.6l-0.8-0.7l-0.6-0.8l0.7-0.7M67.1 271.7l-1 0.3l-0.7 0.7l-0.9 0.3l0.9 0.2l-0.5-0.8l-0.3-1M186.7 315.4l-1 0.2l-0.8 0.6M139.8 320.3l0.2 1l1-0.1l-0.3 0.9l0.9 0.4l1 0.3l0.9 0.3l0.9 0.4M58.6 301.2l-0.9-0.5l-1 0l-0.6-0.8M161.4 274.1l-0.5 0.9l-0.6 0.8l-0.8 0.6l-0.7-0.6M66.7 287.9l0.9-0.4l0.4-0.9l0.8-0.7l0.6-0.8l0.9-0.3M134.3 303.8l-0.7 0.8l-0 1l-0.6 0.7l0.3 0.9M48.5 292.8l0.7-0.7l0.7-0.6l-0.7-0.7l-0.5 0.9l-0.8 0.6l-0.5 0.9M159.1 313.0l0.5-0.9l0.1-1l1-0.1l0.3 0.9l0.9-0.2l0.3-0.9l1 0.1l0.3 0.9l-1 0.1M126.6 330.6l-0.1-0.9l0.1-1l0.9-0.5l0.5-0.9l0.2-1l-0.4-1l-0.7-0.6l-0.7 0.8l-0.4-0.9M141.8 315.8l-0.5 0.9l0.3 0.9l-1 0.3l-0.9 0.5M137.1 320.3l-1 0.1l-0.8 0.6l0.9 0.2l0.7-0.8M140.2 320.9l0.9 0.4l1 0l0.7 0.7l0.9 0.4l0.5 0.9l0.8 0.6M180.8 301.7l-0.8 0.6l0.4 1l1-0.1l-0.8 0.7l0.9 0.5l0.8 0.7M118.7 338.7l-0.3 0.9l0.7-0.7l0.8-0.6l-0.7-0.7l1 0.2l-1 0.1M84.6 281.1l0.8 0.6l0.5 0.9l0.9-0.2l1 0.1l0.8-0.7l0.8-0.4l0.8-0.7l0.4 1M110.8 295.1l0.7-0.7l-0.2 1l-1 -0l0.3 1l0.9-0.4M144.9 324.3l0.9 0.5l1 0l0.9 0.4l-0.2-1l-0.9 0.4l-0.8 0.6l-0.9 0.5l0 1l1 0.4M92.5 281.4l0.4 0.9l-0.3-1l-0.9-0.4l-0.9-0.3l-0.2 1l0.4 0.9l1-0.2M134.1 313.5l0.2 1l-0.6 0.8l-0.9-0.5l-0.7-0.6l0.8 0.6l0.3-0.9M97.1 296.5l0.1 1l0.5 0.8l0.5 0.9l0.9 0.4M58.6 298.5l-0.5 0.9l-1-0.1l-0.9-0.4l0.1 1l1 0.2l0.8-0.5M193.5 306.9l-0.9 0.4l0.3-1l-0.9-0.4l-0.2-1l0.8-0.6l0.9-0.4M150.0 312.9l0.6-0.8l-0.6-0.8l0.7-0.6l1-0.4l0.6-0.8l0.6-0.8l0.8 0.5l-0.7 0.8l0 1M139.6 303.4l1 0l0.7-0.8l-0.2-1l0.5-0.8l0.6-0.9l1 0.1l0-1l1-0.4M91.6 335.9l-0.1-1l0.7 0.7l1 0l1 0l0.9 0.4M152.6 314.8l0.4-0.9l0.7-0.8l0.4-0.8l1-0.2l0 1l0-1l0.9-0.3l-0.4-0.9l-0.2-1M70.5 291.0l-0.1 1l-1 0l-0.4-0.9l-1-0.2l-1-0.1l-0.9-0.5l-0.5-0.8M82.2 317.8l0.7-0.7l0.9 0.4l-0 1l1 0.2l0.5 0.9l0.9 0.4M130.4 311.2l0.8 0.6l1-0.2l0.6-0.7l1-0.1M132.9 304.7l0.7-0.7l1 0.3l0.9-0.3l0.8-0.7l0.1-1l-0.8-0.6l0.4 1M143.1 311.0l-1-0.1l-0.9 0.4l-1 0.3l0.6-0.9l-0.1-1l0.3 1l-0.8-0.6l-0.3-0.9l0 1M178.2 315.4l-0.4 0.9l-0.4-0.9l-0.4-0.9l0.8-0.7M188.1 303.4l-0.1 1l-1-0.2l-0.3 1l0.7-0.8l0.7-0.7M181.7 303.9l0.9 0.5l0.9-0.5l0.7 0.7l1-0.2l-0.5 0.9M139.2 325.7l-1 0.1l-0.2 0.9l-1 0.2l0.6-0.8M97.1 278.2l0.7 0.7l0.8-0.6l0.9 0.3l-0.3 1l-0.6 0.8M142.4 300.9l-0.9-0.4l-0.4 0.9l-0.4 0.9l-1-0.4l-0.3-0.9l-1 0M155.5 301.6l-1 0l0.1 1l-0.8 0.7M91.1 318.3l0.9-0.3l-0.9 0.3l0.7-0.7l0.8 0.5l0.8 0.6l-0.9 0.4l-0.6-0.8M143.5 319.8l0.9-0.3l-0.8-0.6l-0.9 0.5l-0.9-0.5M142.5 319.5l-0.1-1l-0.9-0.3l-0.5-0.9l0.1-1l0.6-0.8l0.4 1l0.6 0.7l0.9 0.5M153.8 308.0l-0.9 0.4l-1-0.2l-0.8 0.5M143.5 307.5l0.9 0.5l0.1 1l-0.9 0.6l-0.7 0.7l0.8 0.6M173.3 316.2l0.9-0.4l-0 1l1 0.2M170.0 306.9l0.9-0.3l-0.9-0.5l0-1l-0.8-0.6l0.1-1M144.3 325.9l0.4-0.9l0.8 0.5l0.5 0.9l-1 0.1l-0.8-0.5l-0.9 0.5l0.4-0.9l0.2-1M186.1 320.7l0.2 1l-0.4 0.9l0.8-0.7l-0.7-0.7M168.3 339.1l-0.1-1l-0.5-0.9l0.1 1l0.9 0.4"/>
<path id="s21" d="M63.8 296.3l0.3-0.9l-0.3-1l0.2-0.9l0.2-1l0.9-0.6l0.9 0.1l0.8 0.6l0.1 1l1 0.1M123.3 331.7l0.3 0.9l0.9 0.5l1 0.2l0.8 0.5M106.8 294.4l-0.3 0.9l-0.9-0.4l-0.1-1l-0.2-1l-0.7-0.7l-0.7-0.8M149.6 319.1l-0.4 1l-0.9 0.4l-0.8 0.5l-1-0.1M58.7 303.0l-1 0l-0.6 0.8l-1 0l0.5 0.9l0 1l-0.9 0.5l-0.5-0.9l-0.9 0.5l-0 1M82.1 265.1l0.1-1l-0.4-0.9l0-1l0.9-0.5l-0.9-0.3l-1 0.4M86.9 296.6l-1 0.1l0.9-0.6l0.6 0.8l0.7-0.6l0.4-0.9l0.3-1l0.4 1l1 -0M175.2 314.2l0.1-1l-0.1-1l0.1-1l1-0.1l-0.8-0.7M127.9 302.6l0.9 0.5l-1 0.3l-0.6 0.8M132.6 301.9l-0.5 0.9l-0.2 1l0.9 0.6l0.8 0.6l1-0.2M146.5 315.3l-1 0l-0.1 1l0.7 0.7l0.6 0.8l1-0.1M173.1 311.4l-0.7 0.7l0.8 0.6l1 0.1l0.9-0.6l0.5 0.8l0.7 0.8l1-0.2l0.1 1l0 1M117.1 322.9l0.5 0.9l1-0.2l0-1l0.7 0.7l0.2 1l-0.8 0.6l0.5 0.9l0.3 0.9M148.1 316.3l-0.4 0.9l-1-0.3l-1 0l-0.9-0.4M185.2 314.1l-0.8-0.6l-0.8-0.6l-0.4-0.9l-0.8-0.7l-0.2 1M118.6 326.9l0.7-0.8l1 0.1l1 0.3l0.9-0.3l-0.6-0.8M192.9 307.9l0.1 1l-0.8 0.6l-1 0.3l-0.6-0.8l0.6-0.8l1 0.2l0.2 1l-0.5 0.8M65.9 303.9l-1 0l-0.9-0.3l-0.9-0.5l-0.1-1l0.1-1l-1-0.1l0.5-0.9l0.7-0.6M175.6 313.0l-0.3-0.9l0.8-0.5l0.7 0.7l0.7-0.8l0.8 0.7l0.2 0.9l-0.7 0.8l-0.4 0.9M172.3 312.8l-0.3-0.9l-0.6 0.8l0.9 0.4M70.4 280.4l0.4-0.9l0.8-0.6l1-0.2l0.9-0.6l0.6 0.8l0.2 1l1 0M105.2 309.0l0.8 0.6l-0.2 1l0.6 0.8M89.4 277.9l0.7 0.8l0.9-0.4l0.9-0.6l-0-1l-0.9-0.3l0.2-1l-0.2-1l1-0.2M124.4 313.1l0.9-0.5l0.4-0.9l0.9-0.4l-0.4 0.9l-0.6-0.8l-0-1M75.5 321.5l0.6 0.8l0.7 0.8l0.2-1l1-0.3l0.9-0.1l0.9-0.6l0.5-0.8M81.5 294.0l0.1-1l-0.7-0.7l-0.3-0.9l0.1-1l-0.1-1l0.7-0.8l-1 0.3M83.2 293.5l0.3-1l1-0.1l0.6-0.7M175.4 300.2l-0.8 0.6l0.4 0.9l0.1 1l-0.8-0.6l-0.9 0.5l-1 0M77.1 290.9l0.5 0.9l0.4 0.8l0.9 0.6l0 1M171.2 301.1l-0.2 1l-0.9 0.2l-1-0.3l0.4 0.9l-0.3 1l0.6 0.8M87.5 285.7l0.9 0.4l0-1l-0.3-0.9l-1-0.3l-1-0.1l-0.9 0.4l-0.2 1l0.7 0.7M185.0 308.7l-0.9 0.4l-0.2 0.9l-1 0l0.1 1l-1 0l-1-0.4M182.4 306.6l-0.6 0.8l0.4 0.9l0.3 0.9l0.7 0.8l0.4 0.9l0.6 0.7M181.3 317.1l0.9-0.5l-0.3-0.9l-0.9 0.2l-0.9 0.6l1 0.1M182.7 302.5l0.7-0.7l0.5-0.9l0.8-0.5l-0.9-0.2l-1-0.2l-1-0.2l-1 0.3l0 1M97.9 309.7l-0.7 0.8l-1-0.1l-0.1 1M43.5 282.0l0.8-0.5l1-0.2l0.3 1l0.4 0.9l-0.4 0.9l0.9 0.4l-0.9 0.5M54.0 296.3l0.4-1l0.9-0.2l0.2 1l-0.2 1l-0.3 0.9l0.1 1l-0.1 1M64.1 292.3l-0.4 0.9l0.5 0.9l0.4-0.9l0.2-1l0.1-1l0.1-1M92.2 300.4l0.7 0.8l0.1 0.9l-1 0.1l1-0.3l0.5-0.8l0.6 0.8l-0.3 1l-0.5-0.9l-0.7-0.7M130.3 324.3l0.6-0.8l-0.9 0.5l-0.9 0.4l-0.5 0.8l0.6 0.8l-0.9 0.3M86.6 323.6l0.9-0.3l-0.1-1l0.1-1l-0.9-0.5M171.9 305.6l-1-0.1l1-0.4l-0.6-0.8l-0.9 0.6l0.7 0.7l0.8-0.7l0.8-0.5M79.0 338.0l0.2-1l0.9-0.4l0.6 0.7l-0.4 1l-1 0l-0.8 0.6l0-1M148.9 324.7l1-0.3l0.9 0.1l-0.2-0.9l0.3-1l0.8-0.5l0.2-1l0.8-0.7l0.8 0.5M143.3 328.9l1-0.2M133.4 320.4l0.6-0.8l-0.2 1l0.6 0.8l0.8 0.6l0.9-0.3l0.7-0.7M173.6 274.2l0 1l-0.2 1l1 0l-0.6-0.8l-0.6-0.8l-1 0.1l0.9 0.4M161.7 314.7l-1 0.2l-0.5-0.8l-0.7 0.7l-0.9 0.4l-0.5 0.9l0.3 0.9l-0.6 0.8M174.5 333.2l0.7-0.7l-0.9-0.4l0.9-0.3l0.6-0.8l1 0.1l-0.7 0.7l-0.8 0.6l-0.8-0.6l1 0.1M179.6 323.0l-0.6-0.8l-0.8 0.5l-0.8 0.6l-0.4 0.9"/>
<path id="s30" d="M81.4 279.6l-0.8 0.6l-0 1l-0 1M91.4 266.8l0.9 0.2l-0 1l1 0.1l1-0.2l0.9 0.5l-0.5 0.9M86.9 280.9l-0.8-0.6l0.9-0.3l0.2-1l-0.7-0.7M82.8 279.1l1-0.3l0.5-0.9l0.8-0.5l0.8 0.6l0.6-0.8l0.3-1l-0.5-0.9l-0.2-0.9l-0.4 0.9M81.3 275.0l0.8-0.5l1 0l0.5-0.8l0.9 0.5l0.5 0.8M43.2 286.7l0.6-0.8l0.9 0.4l1-0.1l0.9 0.4M81.1 276.4l-0.2 0.9l-1 0.5l-0.9 0.2l-0.3 1l-0.4-1l-0.8-0.5M64.7 274.2l0.8 0.5l1-0.3l0 1l0.9 0.5l1-0.1l0.4 0.9M81.1 281.5l0.4 0.9l-0.8 0.6l-0.1 1M91.6 284.7l-0.9-0.4l-0.9 0.3l0.8 0.6l1 0.1l0.1 1l-0.5 0.8l-0.6 0.9M172.5 277.5l0-1l0.2-1l-0.3-0.9l0-1l-0.9-0.5l-1 0l-0.6 0.8l-0.4 0.9l1 0M80.3 276.5l0.9 0.5l0.3 0.9l0 1M98.9 271.2l0.5-0.8l0.9-0.4l0.8-0.6l-0.5-0.8l1-0.4l-0.8-0.6l-0.4-0.9l-0.9-0.5M47.3 275.8l-0.2-1l0.2 1l-0.2 1l0 1l-0.1 1M59.4 272.4l-0.2 1l0.3 1l0 1l0.7 0.7l0.9-0.4l-0.6-0.9l-0.4-0.9l-0.7-0.7l0.7-0.8M160.0 276.9l0.8-0.6l0.4 0.9l0.7-0.8l-0.8-0.6l-0.1 1l-0.8 0.7M94.1 268.7l-0.3-0.9l0.8-0.6l0.3-1l0.7-0.7l0.6-0.8l0.2-0.9M181.1 284.4l-0.8-0.7l-1-0.2l-0.2 1l-0.7 0.8l0.7 0.7l1-0.1l0.8-0.6M89.2 264.6l0.4 0.9l-0.6 0.8l0.6 0.9l-0.7-0.7l1 0.2l-0.3-1l1-0.2l0.1-1l0.5-0.8M98.3 274.9l-0.1 1l-0.9 0.4l-0.4-0.8l-1-0.4l-0.9-0.3l-0.8-0.6l-0.8-0.6l-1-0.3M58.8 272.0l0.9 0.6l0.9 0.3l-0.3 0.9l0.1 1l0.6 0.9M83.7 262.9l0.8 0.5l0.1-1l0.9-0.4l1-0.1l-0.7-0.8l0.9 0.4l0.9-0.5M91.0 272.0l-0.9-0.5l-0.9 0.4l-0.8-0.6M186.6 292.5l0.4 0.9l0.4 0.9l-0.5-0.8l-0.8-0.7l0.6-0.8l-0.4-0.9l-0.7 0.6l-1 0.3M82.0 273.3l1-0.3l1 0.2l-1 0.3l-1 0.1l0.5-0.9l0.4 0.9l-0.3 0.9M66.4 272.8l-0.8 0.6l-0.8 0.7l-0 1l0.5-0.9M183.5 289.2l0.3-0.9l0.2 1l-0.1 0.9l-1 0.4l-0.7 0.7l-0.9 0.5l0.6 0.8l0.9-0.4M63.6 284.6l-0.5-0.8l-0.9-0.4l-0.7 0.7M71.3 270.2l0.6 0.8l0 1l0.8 0.6l0.6 0.7l-0.6 0.8l0.9 0.2l0.1 1l-0.3 1l1 0M44.7 281.9l-0.4-0.9l0.2-1l-0.7-0.7l0.7-0.7l-0-1l-0.1-1l1-0.1l-0-1M53.3 274.6l-0.3 0.9l0.9 0.3l0.7-0.7M163.1 276.0l-0.8 0.6l-0.8 0.7l-0.9 0.1l-0.5-0.9l0.5 0.9l1 0.1M159.1 270.7l-0.9 0.4l-1-0.3l-0.4 0.9l-0.4 1l-0.9-0.4l-0.6-0.8M65.1 276.9l0.7 0.6l0.8 0.6l0.7-0.8l0-1l-0.3-0.9l-0.6-0.8l0-1l-0.2-1l0.6-0.9M81.3 279.7l-0.9 0.3l-0.6-0.8l-1 0l-0.7-0.7l-0.1-1l-0.8-0.7l-0.9-0.2l-0.8-0.6l-0.6 0.8M49.8 275.5l-0.2 0.9l0.4 1l0.1 1l0.4 0.9M77.6 266.2l0.3 0.9l0.2 1l-0.4 0.9l0.7 0.8l0.3 0.9M174.5 276.0l-0.5 0.8l-0.3 1l0.9 0.4l-0.8 0.5l-1-0.4l-0.9-0.2l-1 0.4M182.6 287.8l-0.5 0.8l0.9-0.4l-0.7-0.7l1-0.2l0.3 1M73.9 271.5l-0.7 0.7l0.4-0.9l-0.6-0.8l-1-0.4l-0.7 0.7M44.1 284.3l-0.1-1l0.7-0.7l0.9-0.2l1 -0M165.5 275.0l0.7 0.7l1 0.1l0.7 0.7l-0.1 1l-1 0.3l-0.4-0.9l-0.4-1l-0.5-0.9l1-0.2M163.7 271.3l-1 0.2l-0.4 0.9l-0.2 1l0.9 0.3M172.8 277.7l0.8 0.7l1-0.1l1-0.1l0.1 1l-0 1l0.8 0.6M72.9 278.9l0.5-0.8l1 0.2l0.8 0.6l0.2 1l-0.2 1l-1 0M65.1 273.9l0.6-0.8l0.7 0.7l0.6 0.7l1 0.4l0.8 0.5M75.4 269.4l-0.9-0.4l-0.9 0.4l-1 0.1l-1-0.1l-0.2-0.9l0.1-1l1-0.2l0.8 0.5M64.1 288.5l0.4-1l1-0.1l-0.5-0.9M53.3 280.3l-0.9 0.5l0 1l0.2-0.9l0.7-0.8M59.8 275.2l0.5-0.8l1-0.4l0.6-0.8l-0.3 1l-0.9 0.4l-0.9 0.4l-1 0.1l0.3 1M189.1 299.4l-0.6 0.8l-0.7 0.7l-0.4 0.9l0.8 0.6l0.9 0.6l0.7-0.7l-1-0.2l-0.9 0.3l-1 0.1M158.3 276.9l0.8 0.5l0.8 0.6l-0.9 0.2l-1 0.2l0.3 1M165.8 274.5l0.4-0.9l-0.8-0.6l0.1-1l-0.4 0.9l1 0.2M89.7 268.6l0.9 0.3l0.6-0.8l-0.5 0.9l-0.9 0.4l-0.8 0.6l-0.1 0.9l-0.9 0.5l-1-0.3M89.6 269.8l-0.9 0.3l0.2-1l0.9-0.4l-0.6-0.7l-0.9 0.3l-0.9-0.4l-1 0.3l0.4 0.9l0.4-0.9M97.3 271.9l0.2-1l0.8 0.7l-0.6-0.8M69.6 275.9l0.6-0.7l0.8-0.7l-0.2-1l0.2-0.9l0.6-0.8M78.3 278.2l0 1l-0.3 1l0.9-0.5l0.9-0.5l-1-0.1M61.7 277.9l0.9 0.4l-0.5-0.9l-0.9-0.4M172.1 276.3l-0.7-0.7l-0.8-0.6l-0.1 1l-0.8-0.6l-0.8-0.6M56.4 274.0l-0.3 1l-0.1 1l1 0l0.6 0.9l1-0.2M94.3 272.3l1 0l0.8 0.6l0.3 1l0.9 0.4l0.8-0.5l1 0.1l-0.6-0.8l-0.5 0.9l-0.9 0.4M84.3 276.8l0.9 0.5l0.8-0.4l0.6-0.8l1 0.3l0.3 1l-0.4 0.8l0.3 1l1 0.2M95.5 276.9l0.9-0.2l0.2-1l-0.8-0.7l-0.6-0.7l-0.4-1l0.7-0.7l1 0M184.3 294.3l-0.1-1l0.1-1l-1 0l-0.7-0.7M85.6 280.8l-0.6 0.7l-0.7 0.7l0.1 1l-0.8 0.5l-0.8 0.6l-1 0M80.2 274.4l-0.1 1l0.9 0.5l0.9-0.1l1 0.3M62.4 293.0l-0.9 0.3l-0.5-0.8l-0.3-1l1 0l1 0.1l-0.4-1l0.1-1M89.4 263.8l0.9 0.2l0.9 0.6l0.2 0.9M178.9 284.1l1 0.2l0.6-0.8l-0.4-0.9M176.9 286.2l-0.3-0.9l-0.4-1l0.8-0.6l0.6-0.8M53.0 284.1l0.5-0.8l1-0.1l0.6-0.8l0.8-0.6l0.8-0.5M70.3 268.1l-0.9-0.3l-0.1 1l-0.9 0.4l-1 0.3M65.8 287.9l0 1l0.5 0.9l0.6 0.8l-0.1 1l-0.7 0.7l-0.3 1l-0.7-0.8l-0.5-0.9"/>
<path id="s31" d="M171.9 271.5l-0.3 1l0.1 1M161.6 271.5l0.8-0.6l-0.1 1l-0.7-0.7l-0.8-0.7l-0.9-0.3l-0.3-1l-0.4-0.9l-0.7 0.7l0-1M53.6 290.2l-1-0.2l-0.4-0.9l-0.1 1l-0.2 1M83.7 262.7l-0.4 0.9l-0.9 0.3l-0.8-0.7l-0.3-0.9l-0.9-0.5l-1 0.2l-0.8 0.5l-0.8-0.5M79.6 275.6l-0.9-0.3l-0.9-0.5l0 1l0.1 1M162.6 272.0l-0.9 0.3l-0.8 0.5l1 0.1l0.9 0.2l1-0.3l-0.9-0.5l-0.7 0.7M189.3 298.2l-0.2 0.9l-0.5 0.9l-0.8 0.6l-0.5 0.9l0.1 1l-0.9 0.4l0.4 1M97.2 273.0l0.5-0.8l0.6-0.8l0.2-1l0.5-0.9l0.8-0.6l0.9-0.5M50.2 277.7l1-0.4l0.8-0.6l1 0l0.3 1l0.9 0.5l0.8 0.6l0.4 0.9l-0.3-1M65.0 286.3l0.9-0.5l0.2 1l0.9 0.4l0.6-0.9l1 0.3M94.6 272.7l0.7 0.6l0.1-1l0.7 0.7l-0.7 0.7l-0.9 0.5l0.5 0.9l0.2 1M81.2 275.7l-1-0.2l-0.9 0.5l-0.7 0.7M64.2 281.2l0.3 1l0.9 0.3l0.4-0.9l-1 0l-1 0.3l-0.9 0.2M173.2 272.4l-0.7 0.7l-0.6-0.8l0.3 0.9l-0.9 0.5M74.7 278.6l0.3 1l0.2 0.9l1-0.2l0.9-0.4l0.9-0.5l0.3-1l-0.9-0.4l-0.9-0.4M84.5 295.5l-0.8-0.6l-1 0.1l-0.4-0.9l0.6-0.8l-1 0l-0.6-0.8l0.8-0.6l1-0.3l-0.1-1M168.5 276.2l-0.9-0.4l-0.9-0.5l-0.9 0.3M155.8 272.4l-0.3 1l0 1l1 0.2l0.7-0.7l-1-0.4l-0.7-0.7l-0.9-0.5M97.3 270.9l0.9 0.4l0.7 0.7l-1 0.3l-0.5 0.9l-1 0.2l-1-0.2l-0.3-0.9l-0.6-0.8l0.7-0.7M50.6 283.8l-0.3-1l0.2-1l1 0.1l0.9 0.3M73.8 288.5l-0.7 0.7l-0.8 0.5l-1 0.4l0 1l0 1M44.8 286.7l-0.2 0.9l-0.7 0.7l-0.7 0.7l0.8-0.6l0.5-0.8l1 0l0.8-0.5l0.3-0.9M47.0 284.4l1 0.3l1 0.2l0.8 0.5M81.4 265.8l-0.3-0.9l0.7-0.8l0.9-0.2l0.9-0.6l0.1 1l0.6 0.8M52.0 275.6l1-0.4l-0.1 1l-0.2 1l-0.7-0.8l-0.2-1l0.2-0.9l0.5-0.9l1 0.1l0.7-0.7M86.8 266.2l1 0.1l0.8-0.6l0.8-0.6l0.7 0.8l1 0.2M180.9 287.6l-0.1-1l-0.9-0.2l0.2-0.9M71.1 277.1l-0.8 0.7l-0.7-0.7l-0.6 0.7l-0.9-0.5l-0.9 0.4l-0.8 0.5l-0.7 0.8M77.0 282.3l-0.2-1l-0.9-0.4l-0.3-1l-0.9-0.4l-0.9 0.5l-0.7 0.7l0.3 1l0.2 1M93.3 262.3l-0.7 0.8l-0.1 1l-0.5 0.9l-1 0.2l-0.9 0.3M77.3 277.3l-1-0.3l-0.7-0.7l-0.2-1M67.4 276.8l-0.6-0.8l-1-0.3l-0.9-0.3l-0.3-1l-0.1-1l-0.9-0.5l-0.6-0.7M47.2 275.8l0.5 0.9l0.9 0.4l0.8-0.5l0.6-0.8l0.1-1l-0.9-0.4l0.2-1l0.6-0.8M87.2 271.0l0.9 0.4l0.7-0.7l1-0.1l0.9-0.5l0.5 0.9l1 0.1M63.1 296.2l-0.3-0.9l0.1-1l-0.7-0.8l-1 0.2l-0.6 0.8M75.4 275.5l1 0.2l1-0.2l0.8 0.5M172.7 272.9l-0.9-0.4l-0.9 0.4l-0.8 0.6l-0.8 0.7l-0.8 0.5M43.5 278.5l0.4-0.9l0.8 0.6M63.0 281.0l-0.6-0.8l-0.7-0.8l-0.6 0.8l-0.9 0.1l-1 0l-1 0.3l-0.1 1M63.8 288.9l0.9-0.3l0.8 0.6l0.8 0.5l0.5 0.9M64.4 280.0l0.8-0.5l0.7 0.7l0.4-0.9l1-0.4l0.9-0.2l-1 -0M80.9 262.1l0.8-0.7l-0.8-0.6l0.4 0.9l-0.9-0.3M66.5 273.8l-0.1 1l-1 0l-0.7 0.8l-0.8 0.6l-0.6-0.8l-1 0.2l0.3 0.9M82.4 277.0l-0.6 0.8l-0.4 0.9l1-0.2l0.9 0.4l-0.2 0.9l-0.2 1l0.9 0.4l0.8 0.6l0.9 0.6M98.1 263.7l-0.9 0.4l-0.8 0.6l-1-0.1l-1 0M82.0 260.7l0.6 0.7l1 0.3l-0.9-0.3l0.9 0.4l-0.8 0.7l0.8 0.6M76.7 278.1l1-0.2l0.1-1l1 -0l-0.4-1l-0.2-0.9l-0.5 0.8M91.0 265.7l-0.6-0.8l-0.9 0.3l0.1 1l0.1 1l0.9-0.3l1-0.1l0.3-1l-0.9-0.3l-0.9-0.4M187.9 293.9l1 0.2l1 0l0.4 0.9l0.4 0.9l0.2 1l-0.8-0.5l-0.6-0.8M49.4 280.7l-0.8 0.5l-0.3 1l-1-0.2M94.6 277.2l0.3-1l0.9-0.5l0.9 0.5l0.3 0.9l-0.9 0.4l-1 0l-0.8-0.5l-0.8 0.6l-0.9-0.4M65.1 286.1l-0.8-0.7l-0.5-0.8l0.9-0.4l0.8-0.6l0.5-0.9l0-1l0.5-0.9l-0.1-0.9M54.4 273.5l0-1l0.7-0.7l0.9-0.3l1 0l1 0.3l0.7 0.7l0.2 1M89.1 262.1l-0.4-0.9l1 0.2l0.2-1M66.0 281.0l0.7 0.7l0.9 0.4l-0.6 0.8M168.8 277.5l-0.4-0.9l1 0.1l-0.5 0.9l-0.8 0.6l-0.2 1M51.6 288.9l-0.9 0.4l-0.9 0.4l0.4 0.9l1 0.1l1-0.3l-1-0.2M78.9 262.4l0.7 0.7l0.5 0.9l0.7 0.7l-0.9-0.4l0.2-1l0.6-0.8l0.6-0.7M90.4 282.9l0.5-0.9l-0.6-0.8l-0.9-0.5l0-0.9l0.9 0.2l0.7-0.7l0.9-0.5l1-0.2M179.9 284.3l0.8-0.6l-0.9-0.3l-0.6-0.9l-0.8-0.5l0.1-0.9l0.1-1M53.3 290.1l-0.5 1l0 1l0.9 0.4l-0.7 0.8l-0.8-0.6l-0.8 0.5l0.8 0.7l0.8-0.6M87.1 271.6l-0.8-0.6l-0.3-1l0.4-0.9l0.9-0.4l1 0.3l1 0.1M81.5 288.1l0.7-0.7l0.1-0.9l0-1l0.9-0.4l0.6-0.8l0.8-0.5l1 0.2l0.8-0.6M97.5 265.2l-0.1 1l-0.2 0.9l-0.1 1l0.9 0.5l-0.5 0.9M50.8 278.9l0.9 0.3l1-0.2l0.6 0.7l-0.2 1l0.3 1l0.7 0.7l0.4-0.9M164.9 276.8l0.2-0.9l-0.9-0.3l0.3-0.9l1 0.3l-0.4 0.9l-1 0.1l-0.1-1l-0.6 0.9l-0.9 0.3M81.5 270.6l-1-0.3l0.4-1l0.6-0.8l1 0.1l0.5 0.8l0.6 0.8l-0.9 0.1l-0.5 0.9M89.2 261.8l0.7-0.8l0.7 0.7l-0.8 0.6l-0.4 0.9l0.8 0.5l0.1-1l0.1-1l-0.7-0.7M48.7 278.9l0.5-0.8l0.1 1l-0.3 0.9M70.3 289.4l-0.9-0.5l0.4-0.9l1 0.1M57.1 289.2l-0.3 0.9l0.5 0.9l-0.9 0.5l-1-0.1l-0.9-0.5M62.8 285.9l0.3 1l-0.4 0.9l0.1 1l0.2 1l0.9-0.5l-0.1-1l-1 0.2l-0.2 1M173.5 275.5l-0.7 0.8l-0.9 0.4l-1 0l-0.9 0.3M160.8 273.1l0.9 0.3l1 0.3l0.4-0.9l0.4-0.9l0.3-1l-0.5-0.8l-0.9 0.4l-0.4 0.9"/>
<path id="s40" d="M114.9 264.5l-0.3-0.9l1 0l-0.6-0.8l-1-0.2l-0.9-0.2l0.5-0.9M121.7 262.5l-0.3-1l1-0.1l0.8-0.7M122.7 250.5l-0.9 0.5l-1 0.2l-0.7 0.6l-0.3-1l-1 0.4M141.8 266.0l0.3-1l-0.6-0.7l-0.8-0.7l0.1 1l1 0.1l0.4 1M127.3 254.1l-0.9 0.5l-1-0.3l-0.8-0.6l-0.1-1l0.9 0.3l-0.4 0.9l-0.8-0.6l-1-0.1M68.2 327.8l0.7-0.7l0.8-0.6l1-0.1l-0.8-0.5M135.7 321.7l0.3-1l-0.6-0.7l0.7-0.7l0.4-0.9l1-0.2M105.0 258.4l-1-0.2l1 0.2l0.8 0.6M118.0 263.4l1-0.2l0.7-0.7l-1-0.1l-0.2 1l-0.5 0.9M110.6 258.6l0.3 0.9l0.8 0.7l0.1 1l0.9 0.3l0.9-0.5l0.3-0.9l0.9-0.6M128.2 262.5l-0.7-0.7l-0.9 0.5l-0.8-0.5M115.7 266.9l0.8 0.6l0.7-0.7l-0.5-0.8l-0.6-0.8M70.9 311.3l0.9-0.5l0.7-0.7l0.6-0.8l0.4-0.9l-0.3-1l0.9 0.2l-0.7 0.6l0.9 0.5l0.9-0.2M124.8 263.0l-0.8-0.5l-0.6-0.8l-0.9 0.4M139.8 272.1l0.8 0.6l0.6 0.9l-0-1l-0.4-1l0.9-0.4M125.2 260.4l-0.4 1l-0.3-1l-0.2-1l-0.9-0.5l0-1l0.1-1l0.5-0.8M127.3 265.3l1-0.3l0.9 0.3l-0.2-1l-1-0.4l-0.6-0.7M117.7 262.6l1 0.2l0.9-0.3l0.9 0.5M115.2 258.1l-0.1-1l1-0.2l0.7-0.8l0.9-0.3M108.2 256.7l-0.6 0.8l-1 0l-1 0l-0.8-0.7l-0.4 1l0.1 1l0.1 0.9l1 0.2M130.7 263.2l1 0.1l0.2 0.9l0.6 0.9l1 0.3l-0.2 1l0.4 0.9l-0.8 0.5l-0.1-1M116.0 259.5l-0.9-0.5l-0.9-0.4l-1 0.3l0.2-1l0.4-0.9M124.7 258.2l-0.6-0.8l0.4-0.9l-0.9-0.6l1-0.1l0.6-0.8l-0.7-0.8l-1 0.3l-0.8 0.5l-1 0M138.1 256.3l0.8-0.6l0.1 1l0.7-0.7M121.2 260.2l0 1l0.2 1l0.1 1l-0.3 1l-0.9-0.4l-0.3-1l0.5-0.8M132.2 263.2l-1-0.1l-0.6 0.9l-0.5 0.9l-0.8-0.5l-0.3-1l-1-0.1l-0.3-1l0.6-0.8M118.7 256.3l-0.8-0.6l0.1-1l0-1l-0.5-0.8l-0.7 0.7l1-0.2l0.6 0.8M123.1 263.5l-0.8 0.7l-0.8 0.6l0.3 0.9l-0.9 0.5l-0.7-0.6l-0.2-1l0.1-1l0.9 0.3M100.0 342.2l-0.3 1l0.5-0.9l0-1M79.8 308.0l0.6 0.8l1 0l-0.1-1l0-1l0.4-0.9l0.3-1l-0.9 0.6M71.5 298.2l0.7 0.7l-0.7 0.7l-0.9 0.3M136.7 259.0l0.2 1l-0.7-0.7l0.4-1l1 0.4l0.8 0.6l0.6 0.7l0.9 0.5l-0.2 1M105.3 259.1l0.5-0.8l1 0.2l0.2 0.9l0.7 0.8l0.5 0.9l0.8-0.5l0.9-0.4l1 0.3l1-0.1M109.1 256.4l0.2-0.9l-0.9-0.5l1 0.3"/>
<path id="s41" d="M108.5 284.7l1 0.1l0.8 0.5l0.6 0.8l1-0.1l1-0.2l0.9-0.3M123.5 257.8l-0.4 0.9l-0.5 0.9l-0.9 0.3l1 0l1-0.1l1-0.2l0.3-0.9M122.7 297.0l-0.5-0.9l-0.6 0.7l-0.8 0.6l0.2 1M138.8 263.4l-0.9-0.5l0.2-1l0.6-0.8l-0.6-0.8M165.6 298.3l-1-0.1l-1-0.4l-0.1-1l-0.2-1l0.2-1l-1 0.2M116.0 258.6l0.3 0.9l0.8-0.5l0.5-0.9M137.8 296.8l0.7-0.7l0.5-0.9l0.9-0.3l0.2 0.9l-0.2 1l0 1l-0.7-0.6l-1-0.1l-0.8 0.6M125.8 266.9l0.9-0.4l-0.8-0.5l0.4-0.9l0.9 0.4l0.7-0.8l1-0.1l-0.3-1M120.7 256.1l0 1l0.1 1l0.1 1l0.1 0.9l-0.9-0.4l0.3-1l0-1M117.1 262.3l-0.6 0.8l0.3 0.9l-0.8 0.7l-0.7 0.7l-0.5-0.9l0-1l0.7-0.6l0.5 0.8l-1 0.1M132.6 265.9l0.7-0.8l0.9-0.3l1-0.1l-0.6-0.8l-0.4 0.9l1 0l1-0.1M134.1 265.9l0.1-1l0.9-0.1l1 0.2M125.7 254.7l-0.7 0.7l-0.3-0.9l-0.5-0.9M116.1 265.3l-1-0.2l-1 0l0 0.9l0.8 0.6l0.7 0.7l0.8 0.7M106.2 261.8l1 0.2l1 0.1l-0.1 1l-0.9 0.4l0.8 0.5l0.8-0.5M90.6 313.6l0.5 0.9l-0.9 0.6l-0.1 1l-1-0.2l-0.9-0.3l-0.9-0.5l-0.8-0.6M123.5 258.6l-0.9 0.4l-1 0l-0.6 0.8l-0.6 0.7M108.2 258.5l1 0l0.2 0.9l0.5-0.8l0.1-1l-0.8-0.5l0.8-0.5l0.4-0.9l-0.3-0.9M117.3 259.4l-0.5-0.9l-0.2 1l0.9 0.4l-0.7 0.7l-1 0.2M135.8 253.4l0.9-0.5l-0.8 0.6M120.0 265.5l0.7-0.7l1-0.3l1 0l-0.5 0.9l0.6 0.8l1 0l0.6 0.8l0.3 1M134.0 252.1l-0.6 0.8l-0.9 0.5l-0.9 0.4l-0.6-0.8l-0.8 0.7l-0.3 0.9l-0.3 0.9l0.7 0.7l0 1M103.3 263.4l1 0.4M123.7 261.7l-0.9 0.5l-0.8 0.6l-0.9 0.3l-0.9-0.6l0 1M107.4 260.8l-0.6 0.8l0.8 0.6l0.9 0.4l1-0.5l0.9 0.4l0.1-1l0.6 0.8M140.9 259.5l-1-0.2l0.9-0.4l-0.1 1l0.2 1M127.9 259.8l-0.5 0.9l-0.6 0.7l-1 0.3l0.6 0.8l-0.4 0.9M109.4 261.4l-0.7 0.7l-0.7 0.7l0 1l0.4 0.9M116.6 262.7l-0.7 0.8l-0.7-0.7l0.7-0.8l1-0.2l1 0.3l-0.2-1l-0.6-0.8l-0.8-0.6M121.5 253.2l-1-0.2l-0.1-0.9l0.2 0.9l0.8 0.5M71.3 308.5l0-1l1 0.3l0.9-0.5l0.9-0.3l0.5 0.8l-0 1M128.3 261.3l0.3-0.9l0.9-0.6l0.7 0.7l-0.8 0.7l-0.5 0.9M175.7 314.8l-0.7 0.6l-1-0.1l-1 0.2l-0.4-0.9l0.9-0.3"/>
<path id="s50" d="M124.2 326.7l0.2 1l1-0.2l0.8-0.6l-0.6 0.8l-0.6 0.8l-0.1-1l-0.7 0.8l-0.9-0.4l-0.5-0.9M160.6 283.4l-0.3 0.9l-0.9 0.5l-1 0.1l-0.9 0.3l0.3-1l0-1l-1-0.1l-0.5 0.9M119.6 291.2l-1-0.1l-0.5-0.9l0-1l-0.7-0.7M168.1 296.7l0.2-0.9l1-0.4l-0.2-1l-0.2-1l1-0.3l0.3 1l-1 0.2l0.5 0.9M123.8 294.5l1 0.3l-0.3 1l-1 0.3M144.2 281.8l-0.9 0.5l-0.3 1l-0.7 0.7l-0.8 0.5l-0.8 0.6l-0.9-0.4l-0.8-0.7M125.0 289.6l-0.8-0.6l1 0l0.1 1l-0.1 1l0.1 1M103.0 320.9l0.4-1l-0.1-1l0.7-0.7l0.5 0.9l0.5 0.9M141.9 270.2l0.4-0.9l-0.9 0.2l0-1l0.6 0.7l-0.2 1l0.6 0.8l0.9 0.5l1-0.1l-1-0.2M108.3 280.4l0.9-0.5l-0.9 0.5l-0.7 0.7l-0.7 0.7l0.7 0.7l0.4 0.9l0.5 0.9l0.5 0.9M125.7 294.9l0.5 0.9l0.9-0.4l1 0.3l1 0l-1-0.3l-0.9-0.3l-0.7 0.7l-0-1M142.3 267.9l-0.4-0.9l0.1-1l0.8-0.7l0.8 0.6l0.3 0.9l0.4 1l-0.2 0.9M173.0 291.0l0.2 1l-0.8 0.4l-0.6-0.8l-0.7-0.7l0.9-0.3M105.2 260.1l-0.5 0.9l0.5-0.9l1-0.1l0.6 0.8l0.8-0.7M157.0 315.8l-0.3 1l-0.7 0.7l-0.4 1M133.9 281.5l0.7 0.7l-0.7 0.7l0.4-0.9l-0.2 0.9l-0.1 1l-0.6 0.8l-0.5-0.9l0.4-0.9M121.7 292.2l0.5-0.8l0.8 0.6l0.5-0.8l0.8 0.4l1 0l0.3 0.9l-0.4 1M120.4 280.5l-0.1 1l0.9 0.3l-0.3 1l0.1 1M162.5 270.5l-0.5 0.9l-1-0.1l-0.3-0.9l-0.4-1l0.2-0.9l-1-0.2M116.0 265.4l-0.6-0.8l0.6-0.7l-0.9-0.3l-0.7-0.7l-0.6 0.7M144.1 306.7l1 0l-0.3 0.9l-0.5 0.9M128.1 278.2l-0.2 0.9l-0.6 0.8l0.8-0.5l0.9-0.6M120.5 285.6l1 0l0.3-1l-0.7-0.8l-0.9 0.5l0.1 1l0.8 0.6l1 0.3l1-0.1M129.7 289.3l-0.2 1l0.8 0.7l-0.3 1l-0.3 0.9l1 0M126.9 273.7l-0.9-0.4l0.7-0.6l1-0.1l0.4-0.9l0.6 0.8l-0.8 0.5l-0.5-0.8M125.9 293.1l-0.6 0.8l1 0.3l-0.6-0.8l-0.2-1l-0.8-0.6l-0.6-0.8l0.5-0.8l-0.5 0.8l0.7 0.8M126.2 288.6l0 1l-0.3 0.9l-0.7 0.7l0.6 0.7l0.7-0.7l0.6-0.8l0-1M115.7 295.0l0.2-1l-0.9-0.3l0.7 0.7l0.7 0.6l0.5 0.9l1-0.1l0.2-1M113.8 300.0l-0.5 0.9l-0.9 0.3l-0.9 0.5l-0.6-0.8l-0.1-1l0.3 0.9M142.2 283.2l-1 0l-1-0.1l0.9-0.3l-0.9-0.2l-0.7-0.7l0.9-0.4l-0.1 1l-0.9 0.3l0.6-0.8M118.7 278.7l1 0.2l-0.3-1l-0.4-0.9M114.9 286.2l-1-0.1l-0.6 0.8l-0.8-0.7l-0.3-0.9M164.3 282.7l0.1 1l0.7 0.8l1-0.1M116.4 277.6l0.4 0.9l-0.7 0.7l-0.7 0.7l0.6-0.8l-0.9-0.1l-1 0.1l-0.8 0.6M147.2 288.2l-0.2-1l0.9-0.4l0.1 1l0.8 0.5l0.9-0.4l0.3-0.9l0.9 0.4M131.7 296.2l-0.9 0.5l-1 0l0.2-1M138.6 294.9l-0.9 0.2l-1 0.3l-1 0l0.5 0.8l-1 0.1l-0.9 0.5l-0.5 0.8M123.3 286.5l0.6 0.7l1 0l0.8 0.6l-1 0.1M156.4 279.2l0.8-0.6l0.7 0.7l0.7 0.7l0.6 0.8l-0.2 1l-0.9 0.2l0.7-0.6l-0.4-1M110.9 322.4l-0.1 1l-0.9-0.3l-0.7-0.8l-0.9 0.5l-0.9 0.4l-0.6 0.8l0.5 0.8l-0.3 1M92.8 275.9l-0.9-0.5l1-0.2l1-0.1l0.4-1M113.0 291.9l-0.3-1l-0.8-0.6l0.8-0.6l0.9-0.4l0.7 0.7M112.3 288.8l1 0.1l0.9-0.3l0.8 0.6l-0.3 0.9l-0.2 1l0.4 0.9l0.3-0.9l1-0.1M160.8 278.1l-1 0.2l-0.7-0.7l-0.6 0.8l-0.2 1l-0.5 0.9M157.3 288.8l-0.4-1l-0.2-1l-1-0.1l1-0.2l-0.3-0.9l-0.9-0.4l-0.8 0.7l-0.3 0.9l-0.3 1M111.2 268.5l0.8 0.6l-0.3-1l1 0.1l0.6 0.8l0.6 0.8l0.9-0.4l1 -0l-0.3-0.9l0.1-1M113.9 270.9l-0.8-0.6l0.4-0.9l0.7 0.7l0.1 1l-0.5 0.9M133.1 278.3l1 0.1l0.8-0.7l0.2 0.9M113.0 280.1l0.9 0.3l0.4 0.9l-0.3 1l0.4 0.9l0.6 0.8l-0.9 0.3l-0.7-0.8M161.8 291.9l1-0.2l0.5-0.8l1 0.1l-0.4 0.9M137.5 279.0l1-0.1l1 0l0.9 0.6l0.5-0.9l0.4-0.9l-1-0.2M166.5 299.6l-1-0.1l-0.9-0.4l-0.5 0.9l-0.2 1l-0.9 0.3l-0.1 1M164.8 281.2l0.7-0.8l1 0l0.6-0.8l1-0.2l0.3-0.9M113.0 305.3l1-0.1l0.3-0.9l0.4 0.9l-0.4 0.9l-0.5 0.9l-0.8 0.6l-0.9 0.4l-0.9 0.5l-0.8-0.6M122.2 287.8l-0.1-1l-0.9-0.4l-1 0.2l0.4 0.9l-0 1l0.1 1l-0.2 1l0.9 0.4M176.1 298.9l0.2-0.9l1-0.3l0.5-0.8l0.9-0.4l-0.4-0.9l-0.8-0.6l-1-0.3l0-1M105.6 290.3l-1-0.2l1 0.1l1 0.3l-0.9 0.5l-1 -0l-0.9 0.4l0.7 0.6l0.3 1M155.7 299.0l-0.6 0.8l0.8 0.6l-0.3 1l-0.9 0.4l-0.5 0.9l0.9-0.6l0.2 1l-0.6 0.8l1 0.4M118.3 273.3l0.8-0.7l0.2-0.9l0.9-0.4M109.0 289.0l-1 0.1l-0.1 1l0.1 0.9M105.3 314.4l0.2 1l0.1 1l-0.1 1l-0.4 0.9l-0.8 0.6l-0.9 0.3l-1-0.1l-1 0.2M111.9 271.5l-0.1 1l0.7-0.6l1 0.1l0.5 0.9M88.9 322.0l-1-0.2l-0.1-1l0.9 0.5l1 0l0.8-0.7l0.9-0.2M150.9 273.0l-0.3 1l-0.6 0.7l1-0.1l-0.1 1l-0.9 0.6l1 0.1M143.2 266.0l0.8 0.5l0.5 0.9M139.0 267.2l-0.5-0.9l0.4-0.9l0.4-0.9l0.5-0.9l0.1 1l-0.3-0.9l0.8 0.6M150.7 281.9l-0.7 0.7l0.4 1l-0.5 0.9l0.9-0.5M107.9 291.7l0.7 0.7l-1 0.2l0.9 0.5l0.4 0.9l0.8 0.4l-0.4 0.9l0.7 0.7M134.3 289.6l0.5 0.8l-0.5 0.8l-0.7 0.7l0.8 0.6M164.6 299.9l0.8-0.6l-0.7-0.7l-0.8-0.6M55.2 309.0l-0.9-0.4l-0.7 0.8l0.5 0.9M147.7 297.5l0.2 1l0.6-0.8l0.8-0.7l0.7-0.7l0.8-0.6l-0.8 0.6l-0.7 0.7l0.9 0.4l0.8-0.6M130.0 290.4l0.5-0.9l1-0.3l0.9 0.4l-0.2 1l-0.7 0.7l-0.8 0.5l-1 0.3l-0.4 0.9l0.5 0.9M117.3 268.5l1-0.3l1 0.1l0.5 0.9l0.4 0.9l0.8-0.6l0.4 0.9M144.4 272.3l0.8-0.6l-0.1-1l0.8-0.6l1 0l1-0.2l0.9 0.3l1 0l-0.7 0.6M163.4 299.5l-0.8-0.6l-0.9-0.4l-0.9-0.5l-1 0.1M155.4 282.9l0.8 0.5l1-0.1l-0.6-0.8l-0.6-0.8l0.9-0.2l0.1 1l0.6 0.8M120.3 258.7l-0.3-1l0.4-0.9l-0.9-0.4l0.7-0.7l1-0.2l0.7-0.7l0.5 0.9M67.7 269.3l0.6-0.7l-0.8 0.6l-0.2-1l0.9 0.4M128.4 277.9l0.9 0.4l-0.3 0.9l-0.6 0.8M145.6 296.5l0-1l0.7-0.7l0.8-0.5l1 0.1l0.5-0.9M129.9 272.8l0.1-1l-0.9 0.4l-0.2-0.9l1 0.2l0.6-0.7l0.9-0.5l0.6-0.8l1-0.3M104.3 289.1l0.7-0.7l0.4-0.9l0-1l0.3 0.9l0.5-0.9l0.9-0.3M174.6 299.7l0.4 0.9l0.1-1l-0.6 0.8l-0.6 0.8l0.4 0.9l-0.7 0.7l-0.5-0.8l-0.7 0.7l-1-0.1M140.1 280.7l-0.8 0.6l-0.3-1l-0.2 1l0 1l0 1l-0.5 0.9l0.3 1l1-0.1M129.8 306.7l0.4-0.9l-0.8-0.6l-0.6 0.8l0.4 1M123.9 271.8l0.2-1l-0.6-0.8l-0.8-0.6l0.8 0.6l0.9 0.4l1-0.2M127.1 283.0l0.1 0.9l0.9 0.3l-0.7 0.6l-0.7-0.7l-0.8-0.6l1-0.4l0.1 1M127.3 284.4l0.7-0.8l0.5-0.8l-0.3-1M101.1 299.1l-0.6 0.8l0.3 0.9l-0.2 1l0.6 0.8l1 0.2l0.5-0.8M122.3 291.5l-0.4-0.9l-0.5-0.9l0.4-0.9M112.6 277.1l0.6-0.7l-0.6-0.8l-0.3-1l0.7 0.7l-0.4 0.9M157.6 280.1l0 1l-0.6 0.8l-0.9 0.5M118.9 268.7l1 0.1l-1 0.2l0.6 0.7l0.4-0.9l0.9 0.3l1-0.1l-0.5 0.8M115.4 260.0l0.1-1l0.6-0.8l0.2-1M115.5 271.0l-0.7 0.7l-0.5-0.8l-1-0.4l-0.9-0.1M156.4 282.9l1-0.3l-0.3-1l-0.8-0.7l-0.4-0.9l-0.7-0.6l1-0.1l0-1l1-0.1l0.4 0.9M152.6 289.7l-0.4 0.9l-0.3 0.9l0.7-0.7l0.3 0.9l0.9-0.4M148.2 286.5l-0.5-0.9l-0.8-0.6l-0.8-0.6l-0.8-0.5l-0.9 0.6l-0.9 0.4l1-0.1l0.9 0.5l0.9 0.4M118.7 275.0l1-0.2l-0.8-0.6l-1-0.2l-0.6 0.8l-1 0.3l0.4-0.9l-0.9-0.3l-0.5-0.9l1-0.3"/>
<path id="s51" d="M75.1 301.5l0.8-0.6l-0.4-0.9l0.5-0.9l1 0.1l0.2-1M145.5 288.6l0.2 1l0.2 1l-1 0.2l-0.8 0.5l-0.9 0.5l-0.6 0.8l-0.9-0.5l-0.8 0.7M117.0 279.7l-0.6-0.8l-0.9 0.3l-0.7 0.7l0.5 0.8l-0.6 0.8M145.6 295.0l-0.8 0.7l0.9 0.5l0.7-0.7M133.7 271.6l-0.4-0.9l0.6-0.9l0.1-1M141.1 288.9l1 0.2l0 1l-0.9 0.5l-0.5 0.9l-0.4 0.9l-1-0.2l-0.4-0.9M128.5 270.6l1 0.2l0.1 1l0.1 0.9l0.9 0.5l0-1l-0.5-0.9M123.9 277.0l-0.9 0.3l-0.5 0.9l-0.7 0.7l-0.8 0.6l-0.7-0.8l-0.5-0.8M99.8 306.0l0.5 0.8l-0.8 0.6l0.4-1M118.9 338.0l1-0.3l-0.6-0.8l0.4-0.9l-0.5-0.9M119.1 283.9l-0.3-1l-0.8 0.6l-0.4 0.9l-0.9-0.5l-1 0.1l0.2 1l-1 0.2l0.6-0.9l0.7-0.7M126.0 270.6l-0.8-0.7l-0.7-0.7l-0.8-0.7l-0.7-0.6M116.0 292.4l-0.8-0.6l0.9 0.4l0.9 0.5l0.9 0.5l-0.1-1M158.2 286.4l-1 0.2l-0.4-0.9l-0.5 0.9l0.1 1l0.8 0.5l1 0l-0.4-0.9M150.5 289.6l-1-0.2l0.3-1l-0.9-0.5l-0.4 0.9M169.7 275.7l-0.5 1l-0.9-0.5l0.4-0.9l0.9-0.4l0.4 0.9l-0.3 1l0.8 0.6l1-0.1l0 1M134.3 281.4l0.8-0.6l-0.2-1l0.7 0.8l0.9-0.4l1-0.1l1 0.1l0.7-0.7l0.5 0.9M105.7 289.7l0.9 0.3l0.6-0.8l0.7 0.8l0.2 1M171.4 290.5l-1 0.4l0.3 1l0.4-0.9l-0.8-0.5l-1-0.3M158.5 288.4l-0.8 0.6l0.7 0.7l0.1 1l-0.5 0.9l-0.7 0.6l-1-0.2M175.7 293.7l-0.9 0.5l-0.4 0.9l-0.4-0.9l0.3-1l-0.7-0.7l-0.2-1l1-0.1M128.3 297.4l0.9 0.5l-0.3 0.9l1 0.1l0.5 0.9l0.3 0.9M156.0 290.1l0.2-0.9l0.8-0.6l-0.5-0.9l0.1-1M121.7 279.5l-0.7-0.7l-0.8-0.6l-1 0l0.7 0.7M157.2 306.7l0.2-1l-0.8-0.6l-0.5 0.9l-0.8-0.6l-1-0.2l-0.9-0.4l-0.7 0.7l-1 0.2l-1-0.2M139.5 275.6l-0.7 0.7l-0.6 0.8l1-0.2M124.6 287.4l-0.1 1l-0.5 0.8l-1 0.2l-0.1 1l-0.9 0.3l1 0.2l0 1l-0.9 0.4M138.0 292.6l-0.3-0.9l0.1-1l0-1l-0.9 0.4l-0.2 1l0.3 0.9l-0.2 1l0.4 1M109.2 296.1l0-1l1-0.3l0.2 0.9l-0.9 0.5l-0.9 0.4l-0.4 0.9M139.0 294.0l0.1-1l-0.9 0.4l1-0.1l0.1-1l-0.9 0.3l-0.8 0.6l0.5 0.9l0.2-1M120.7 268.6l-0.3-1l-0.9 0.5l-1-0.3l0.5-0.8l0.2-1l-0.3-1l0-1l-0.7-0.7l-0.9-0.5M126.8 278.4l-0.8-0.5l-0.9-0.5l-0.2-0.9l-0.2-1l-0.1-1l-0.3-1M122.7 289.7l0.4-0.9l-0-1l-0.4-0.9l-0.3-0.9l0.8-0.7l-0.9-0.3l-0.9 0.4M142.0 285.5l-1-0.1l-0.9-0.5l-0.8-0.6l0.7-0.7M132.8 267.2l-1 0.2l0.5 0.8l0.1 1M139.2 287.8l-0.4-0.9l0.7-0.8l0.9-0.5l0.9 0.4l0.4 0.9l0.5 0.9l-0.2-1l-0.1-1l-0.5-0.8M114.5 288.2l-0.7-0.8l-0.4-0.9l-1 0.4l-0.6 0.8l0.5 0.9l0.7 0.6M104.9 291.0l-0.5-0.9l0.2-1l0.3-0.9M164.8 278.9l-0.4 1l0.6 0.7l-0.3 1l-0.9 0.4l-0.3 1M150.8 286.1l-0.5 0.9l-0.7 0.6l-0.9 0.5l1 0.1M117.1 289.8l0.3 1l-0.9-0.5l-0.5 0.9l-0.7 0.7l0.5 0.9l0.9-0.2l0.7-0.7M129.1 275.2l0.4 0.9l-0.6 0.8l-0.4-0.9l-0.4 0.9l-0.9 0.4l-0.6-0.8l-0.7-0.7l-0.3-1M107.8 283.8l0.5-0.9l0.9-0.3l0.6-0.8l-0.9-0.5l-0.9-0.3l0.5-0.9l-0.6-0.7l-0.2-1M147.8 285.5l0.8-0.7l-0.4-0.9l0.4-0.9l0.9 0.2l0.5-0.9l-0.8-0.5l-0-1l-0.7-0.8l0.5-0.9M139.7 274.9l-0.9-0.4l1 0.1l-0.7-0.7l-1-0.2l-1 0.3M86.1 285.5l-0.7 0.8l-0.8-0.6l0.5 0.8l1-0.4M142.3 280.1l-0.5-0.9l1-0.3l0.8 0.6l0.5 0.9M116.2 291.2l-0.3 1l-0.7 0.7l0-1l0.6-0.8l1-0.1l0.8-0.5l0.3-1M149.3 297.4l-1 0l0.4 0.9l-0.7 0.7l-0.8-0.6M152.7 288.8l-1 0.3l-0.2 1l1 0.1l1-0.1l0.7-0.7l1 -0M151.3 297.4l-1 0l-0.7-0.8l-1 0.3l-1-0.1M139.0 288.5l0.9 0.4l0.9 0.2l0.6 0.9l0.9-0.5l-0.2-1l-1 0.2M109.6 280.3l1 0l0.2-1l0.4-0.9l-0.7 0.7l-0.3 0.9l0.2 1l-1 0.4l-0.7-0.7M124.2 271.3l-0.2 1l-0.3 0.9l-1 0.2l-1 0.3l-0.1-1l-0.9 0.3M174.3 297.0l-0.5 0.9l-0.2 1l-0 1l0.1 1l0.9-0.3l-0.9 0.5l-0.7-0.7l-0.7 0.7l-0.7 0.8M133.5 297.1l0.4 0.9l1-0.2l0.6 0.8l0.7 0.7l-0.5 0.8l-0.9 0.5l0.8-0.6l1-0.1M160.9 299.3l-1 0.2l-0.9 0.5l-0.7 0.7l-0.9 0.4l-0.7 0.8l-0.8-0.5l1-0.1l0-1M104.3 289.2l0.5 0.8l-0.1 1l0 1l0.7 0.8l0.3 0.9l0.8 0.6M160.5 282.4l-0.6 0.8l-0.6 0.8l-1 0.2l-0.7-0.7M127.6 298.8l1 0l0.6-0.8l-1 0l-0.8-0.6l0.9 0.3l0.5-0.9M107.8 287.5l-1 0l-1-0.2l-0.6 0.8M121.2 282.1l-0.9-0.3l-1 0l-0.8-0.6M135.2 306.8l0.9-0.4l-0.2-1l-0.2-0.9l0.3-1l0.5-0.8l0.9 0.3M136.4 286.8l-0.4 0.9l-1 0l-0.3 0.9l-0.2 1M171.4 290.2l-0.8 0.6l-0.9 0.6l0.4 0.9l0.9 0.5l1 0l0.5 0.9l-0.8-0.7l-0.2-0.9l0-1M150.5 298.8l-0.9-0.5l-0.5-0.8l-0.5-0.9l-0.7 0.7l0.7 0.6l0.2 1M133.5 294.9l1 0l0.7-0.7l0.9-0.4l-0.1 1l-0.1 1l0.9 0.4l0.7 0.7M97.6 300.9l0.9-0.4l1-0.1l0.2 1l-0.1 1l0.8 0.7l0.8-0.6l0.4 1M138.8 298.4l0.2 1l-0.4 0.9l-0.4 0.9l-0.4 1M144.7 279.0l-0.1 0.9l-0.9-0.4l-0.7-0.7l-0.6-0.8l0.4-1l1-0.2M129.1 295.1l-0.9-0.3l-0.8-0.5l-1-0.4l0.2 1l-0.9 0.3l-0.9-0.4l-1-0.2l-0.8-0.5l0.5-0.8M151.3 282.1l-0.5 0.9l-0.9-0.2l-0.5 0.8M143.8 295.6l0.1 1l0.9 0.5l0.6 0.8l-0.9 0.4l0.5 0.9l0.5-0.9l0.5-0.9l1 0.2M145.1 289.3l-0.8-0.6l-1-0.1l-0.7 0.7l-0.6-0.9M139.4 291.8l-0.9-0.3l-0.4-1l0.1-0.9l-0.6-0.8M165.0 289.7l-1-0.1l-0.3 1l-1 0.2l-0.8-0.5l0-1l0.7-0.7l-0.9-0.5l-0.1-1M173.8 279.4l0 1l-0.1 1l-0.1-1l0.9-0.4M108.0 282.8l-0.4-0.8l-0.9 0.5l0.2 1l1-0.4l0.3-1M141.6 272.8l0.7 0.8l1-0.1l-0.1 1l-0.5 0.9l0.8 0.6l-0.5 0.9l-0.2 1M145.4 280.3l-0.6 0.8l-1 0l-0.5 0.9l-0.6-0.9l-0.7-0.6l-0.9-0.5l0.1-1l1 0l0.6 0.8M142.9 296.4l1 0l-0.7-0.6l-1-0.2l-0.9 0.5l-0.8 0.6l-0.3 1l-0.3 0.9l-0.7 0.7l0.6 0.9M91.8 285.4l-1-0.3l-0.6-0.8l0.1-1l0.7-0.7l1 0.1M109.3 282.8l-0.1 1l-0.1 1l-0.3 0.9l1 0.2l-0.1 1M162.6 272.5l0.3-1l-1-0.1l-0.9 0.4l-1-0.1l-0.3-0.9l-0.3-0.9M172.0 294.4l1-0.3l1 0.2l0.8-0.6l0.1-1l-0.8-0.6l-0.9-0.3M123.8 283.0l-0.5 0.9l-1 0l-0.5 0.8M115.2 283.1l1 0.3l0 1l1 -0l0.5 0.9l-1 0.2l-0.7 0.7l-0.6 0.8M125.5 285.4l0.6-0.8l-0.3-0.9l0.1-1l0.6-0.8M92.6 321.5l0.3 0.9l0.3 1l0.2 1l-1 0.1l0.1 1l0.3 0.9l-1-0.1l-0.8 0.7M151.6 294.8l-0.4 0.9l-1 0.1l1 0.1l0.1-1l0.1 1l0.2 1l-1-0.2M131.3 269.6l0.1-1l-0.4-0.9l0.5-0.9M163.6 299.0l-0.2-1l-0.6-0.8l-0.8-0.6M129.9 267.2l0.3-0.9l1 0.1l-0.7 0.8l-1 -0l-1-0.1l-0.4-0.9l0.8-0.6l0.5-0.8l0.3-1M140.5 287.4l-0.7 0.7l0.4 0.9l0.1 1l-0.5-0.8M134.8 279.3l-1 0.1l-0.7-0.7l-0.9-0.1l-0.8 0.6l0.9 0.3M93.6 342.4l-0.1 1l0.9-0.4l0.9 0.5M110.7 289.6l0.9-0.4l0.9-0.3l0.9-0.5l-1-0.4l-0.9-0.4l-0.4-0.9M92.9 338.6l0.9-0.5l0.9 0.4l0.8-0.6l-0.5-0.9l0.8 0.6l1 0l1 0.3l1 0.2M177.0 296.1l-0.3 0.9l-0.5 0.9l-1 0.1l-0.8-0.6M169.5 331.2l-0.4 0.9l1 0.3l-0.2-1l0.5-0.9l0.6-0.8"/>
<path id="s60" d="M150.2 344.9l-1-0.2l-0.6-0.8l-0.9-0.5l-0.4 0.9l-0.9 0.5M133.9 342.8l-0.1 1l0.4 0.9l1 0.1l-0.8 0.6l-0.9-0.4M149.7 338.1l-0.4-0.9l0.8 0.5l1 0.3M131.3 342.9l0.1-1l0.6-0.8l1 0l1-0.4l0.6-0.8l0.3-0.9l-1-0.3l-1 0M144.3 354.1l-0.6 0.8l-0-1l-1-0.1l-0.8-0.5M176.0 327.3l-0.9-0.5l1-0.1l0.9 0.5l-0.4 1l0 1M147.4 343.7l-0.3-1l-1 0l-1-0.2l-0.9-0.2l0.6 0.8M148.3 345.8l0.4-0.9l0.9-0.5l0.5-0.9l-0.4-0.9l-0.6-0.8l1-0.1l0.3 0.9l0.5 1M133.6 354.3l-1 0.1l1 0.1l0.8-0.5l-0.5-0.9l0.3-1l1-0.1l0.7-0.8M168.5 342.0l-0.7-0.7l-0.9-0.4l-0.7-0.7l-0.9-0.5l0.9-0.5l0.5-0.9l0.1-1l-1-0.3l0.9-0.4M131.5 347.7l0.4-0.9l-0.1-1l-0.9-0.3l-0.3-1l-0.5-0.9l1 0l0.5 0.9l-0.9 0.4l-1 0.3M140.7 338.8l-1-0.3l-0.2-1l1 0.2l0.7-0.7M155.0 347.9l-1-0.2l1 0l0.4 0.9l-0.9 0.4l-1 0.2l-0.9-0.5M133.8 350.0l-0.4-0.9l0.9-0.5l0.9-0.4l1 0.3l-0.2 1l0.7-0.7l1-0.1l-0 1l-0.7-0.7M132.2 347.4l-0.6-0.8l0.7 0.7l0.9 0.5l0.2 1l0.8 0.6l0.3-1l0.2-1l0.9-0.4l0.9 0.5M140.4 353.1l-0.9 0.4l-0.2-1l0.7-0.7l1 0.4l-0.1 1l1 0.3l-0.8 0.5M164.6 335.2l0.2 1l1 0.2l-0.4 0.9M172.6 335.3l0.6 0.8l0.7 0.7l-0.2 0.9l-0.9-0.1l1 0l-0.9 0.6M174.2 336.6l-0.8-0.5l-0.9 0.4l-0.9-0.4M161.7 346.7l-0.6 0.8l-0.2 1l-0.8-0.6l-1-0.3l0.9-0.4l1 0.2l0.7-0.7M154.9 347.4l0.6-0.8l1-0.2l-0.9-0.4l-0.6-0.8M130.3 343.2l1-0.2l0.7 0.7l0.3 1l-0.4 0.9M161.3 347.7l0.8-0.6l0.7-0.7l0.3-0.9l1-0.3l-0 1M149.0 353.7l0.7-0.8l-0.2-1l-1-0.2l0.8-0.7l-0.9-0.4l-1 0.1l-0.1-1M162.1 347.9l0.3-1l0.9-0.5l0.5-0.8l0.8-0.7l0.8-0.4M137.2 337.5l0.3 1l0 1l0.2 1M157.0 349.9l0.9-0.5l-0.2-1l0.3-0.9l-0.1-1l0.3-1l-0.7-0.7l0.6-0.8M180.7 320.5l0.3 1l0.4-0.9l-0.8-0.7M136.0 340.0l0.1 1l0.5-0.9l0.8-0.6l0.6-0.7l0.3 1l-0.3 0.9l-0.5-0.9l1 0.1M132.7 346.8l-0.9 0.5l-0.6-0.8l-1-0.2l-1 0.1l0.4 1l0.4 0.9l-0.9-0.5l-1-0.1M154.5 346.6l0.4 0.9l0.5-0.9l1 0.2l0.9-0.2l0.5-0.9M137.3 340.0l-0.5 0.9l-0.7-0.7l-0.9-0.6l-0.8 0.7l-0.6 0.7l-1-0.3l-0.7-0.7l0.5 0.9M139.4 342.1l-1-0.1l-1-0.2l1-0.1l0.1-1l-0.9 0.5l-0.9-0.4l-0.9-0.3M136.5 343.8l1-0.1l0.8-0.6l-0.4-0.9l-1 0l0 1M142.8 345.2l-0.9 0.4l-0.7 0.8l-1-0.1l0.8 0.7l-0.4 0.9l0.6 0.7"/>
<path id="s61" d="M159.4 333.8l0.9-0.3l-0.6-0.8l0.6 0.8l-1-0.1M156.7 346.5l0.1-1l-0.9-0.5l1-0.3l1 0.1l0.5-0.9l1 0.2l-0.1 1l-0.9-0.5M158.9 347.7l-0.3 0.9l-0.2 1l0.2-1l0-1M141.1 341.1l-0.7-0.7l0.2-1l0.8-0.6l1 0.2l0.2-1l-0.1-1l-0.3-1M182.1 325.2l0.4-0.9l-1 0l0.7-0.7l0.7-0.7l0.8 0.7l0.9-0.3l0.7 0.8M141.5 338.6l0.5-0.8l0-1l0.9-0.5M180.3 321.7l0.8-0.6l1 0.2l-0.1 1l0.8 0.6l-0.6-0.8M147.5 349.0l1-0.4l0.9 0.3l0.2-1l0.3 1l0.4 0.9l0.3-1l-0.9-0.4l-1-0.2l-0.9-0.5M164.8 332.7l-0.6-0.7l0.7 0.6l-0.6-0.8l1 0M184.7 318.9l0.9 0.5l0.4 0.9l1 0.1l-0.3 1l-0.5 0.8l-0.6-0.8l-0.9-0.3M170.6 333.4l-0.4 0.9l0.7-0.6l0.8-0.7l0.6-0.8l0.3-0.9l-0.2-1l0.9-0.5M167.8 341.6l0.4 0.9l-0.2-1l0.9 0.3l0.3-1l0.3 1M163.8 342.8l-0.7-0.6l-1-0.4l-1 0.1l-0.9 0.4l-0.9-0.5l-0.4-0.9l0.1-1l-0.4-0.9M153.7 346.0l0.9 0.5l0.3 0.9l1-0.1l0.8-0.7l-0.1-1l0.8-0.7M137.8 352.9l0.8 0.5l0.3 1l0.9 0.2l-0.4-0.9l0.7-0.6M175.9 325.1l0.9 0.5l0.7 0.7l0.8 0.7l0.3 0.9M147.4 343.5l-0.6-0.8l0.6-0.9l-0.2-1l1 0.3l0.6 0.7M160.2 337.6l0.7-0.8l1-0.1l0.8-0.5l-0.7-0.7l-0.8-0.6l-1 0M143.9 340.1l-0.6-0.9l-0.1-1l-0 1l0.3-0.9l0.6-0.8l0.7 0.7l0.3 1l0.6 0.8l1 0.1M154.4 344.4l-0.8 0.6l1 0.2l0.8-0.6l-0.2-1l1-0.4l0.9-0.2l0.9-0.4M154.3 343.5l-0.9-0.1l0.4 0.8l-0.1-1l-0.5-0.8l-0.5 0.9l-1 0.1l-0.4-0.9l-0.9 0.6M157.5 345.7l-1 0.3l-0.4-0.9l0.4-0.8l-0.2-1M160.4 348.1l0.8-0.7l0.9-0.4l0.3-1l0.9 0.4l-0.6-0.8M133.5 340.8l-1 0.1l-0.8-0.6l0.8-0.5l0.7 0.7l-0.6-0.7M145.7 334.5l0.9 0.3l-0.9-0.1l-0.4-1l0.9 0.4l0.4 0.9l0 1M168.0 342.6l-0.9 0.4l-0.9-0.5l-0.9-0.4M136.6 343.4l0.1 1l0.6 0.8l-0.2 1l0.6 0.9l0.9 0.4l1 0.2M152.0 342.7l0.8 0.6l-0.8-0.7l-0.1 1l1 0.4M144.7 338.0l0.9 0.5l0.7 0.7l0.1 1l-0.9 0.5l-0.4 0.9l0.9 0.4l1 0.2M136.2 345.3l0.4-0.9l1 -0l0.9 0.2l0.7 0.8l0.9 0.3M164.0 343.7l1 0l0.9 0.5l-0.9-0.5l0.4-0.9M151.0 347.4l0 1l-0.8-0.6l0-1M144.4 348.8l-0.3 1l-0.7 0.8l-0.9 0.4l-0.9-0.4l-0.4 0.9l0.7 0.7l0.8-0.5M133.5 340.6l1 0l0.7-0.8l0.4-0.9l0.9 0.4l0.7 0.8l0 1"/>
<path id="s70" d="M152.9 322.8l-0.8-0.7l0.4-0.9l-0.6-0.8l-0.3-0.9l-0.2-1l-0.1-1l0.7-0.7M86.7 305.3l1-0.3l-0.4 0.9l-0.7 0.7l-0.2 1l0 1l1 0.4l-0.3 0.9l-0.1 1l0.2-1M74.4 332.9l0.8-0.6l0.5 0.9l-0.9-0.5l-0.5-0.9l1-0.1l1 0.1M133.6 308.9l0.7-0.7l0.7-0.8l0.4-0.8l0.6-0.9l0.9-0.3l1-0.3l1-0.1l-1 0.2M81.9 337.9l-1 0l-1 0.2l-1-0.1l-0.9 0.3M98.5 337.8l0.8-0.7l0.1 1l-1-0.3l0.8 0.6l1-0.4l0.4 0.9l-0.4 0.9l0.8 0.6M53.3 317.6l0.7-0.7l-0.1 1l0.8-0.6l0.8-0.6l1-0.4l-0.1-1M170.5 281.0l0.2-1l0.7-0.7l0.9-0.4l-0.7-0.7l0.5-0.9l0-1l0.7-0.7l-0.9-0.5l-1 0.2M101.4 338.9l0.7 0.8l0.4 0.9l-0.1 1l0.8 0.6M77.0 316.4l0.8 0.6l1 0l1 0.1l0.3 1l-1-0.1l-0.6-0.8l-0.4 0.9l-0.7 0.7M108.8 308.7l1-0.1l0.9-0.4l-0.9 0.4l-0.6 0.8l-0.9 0.2M170.0 314.1l0.7-0.7l0.6-0.8l1 0.1M81.3 322.1l0.4 1l-1-0.2l0.9-0.3l0.4-0.9l0.6-0.8l-0.4-1l-0.8-0.6l-0.9 0.4M66.8 330.4l-0.2 1l-0.8 0.6l0.5 0.8l0.9 0.4l-0.2-1l0.9-0.4l0.9-0.4M145.5 304.8l-0.5 0.9l-0.9 0.4l-0.5 0.8l-0.4 0.9l-0.8-0.6M139.8 323.5l0.8-0.6l0.8-0.6l0.5-0.9l0.6-0.8l0.2 1l-0.8-0.6l0.6-0.8l0.6-0.9l0.8-0.4M167.5 311.2l1 0.1l0.9 0.3l0.2-0.9l-0.2-1M143.7 312.4l0.7-0.7l0.9 0.4l1 0.1l0.2-1l1 0.2M110.0 328.1l0.4 0.9l-0.2-1l1 0l-0.9 0.4l-0.7-0.7l-0.2-0.9l-0.7-0.8l0.1 1l-0.2 1M124.4 328.3l0.4-0.9l-0.8-0.5l-0.5-0.9l0.4-0.9l1 0.2l0.7-0.7M103.3 302.3l0.3-0.9l-0.7-0.8l-0.5-0.9l-0.8-0.5l-1 0.2M71.3 331.3l-0.3 1l-0.8 0.6l-1-0.3l0 1l-0.6 0.7l-1 0.3l0.7-0.7l0.9 0.3M71.9 338.1l0.3-1l0.9 0.5l1-0.1l0.3 0.9l-0.1 1l0.9-0.3M132.1 328.2l-1 0l-0.4-0.9l0.9-0.4l0.7-0.8M56.0 314.8l-1-0.1l-1 0.1l0.7 0.8l-0.9 0.6M113.7 303.8l0.8 0.6l-1-0.2l-1 0.1l-1-0.2M135.8 326.6l-0.2 1l-0.9 0.5l-0.8 0.5l0-1l0.5-0.8l0 1l-0.8 0.5l-0.9-0.3M119.5 335.0l-0.7-0.7l0.4-1l0-1l-1-0.2l-0.7-0.7l0.1 1l-1 0.1M52.7 298.5l-0.9 0.4l-0.4-0.9l0.2-1l-0.7-0.7M91.0 304.7l-0.8 0.6l0.7 0.7l0.9 0.5l0.7 0.8l0.9 0.4l0.7-0.7M155.3 305.8l-0.1-1l0.6-0.8l0.9-0.5l0.4-0.9l0.6-0.8l0.6 0.8l-0.5 0.8l0.9 0.4l0.8 0.5M53.4 291.2l-0.4-1l-0.1-0.9l-0.7-0.8l-0.9-0.3l-0.9-0.4l0.8 0.6M106.7 312.1l0.5 0.8l-0.6 0.8l0.4 0.9M52.5 315.6l0.9 0.5l0.7 0.7l0.9 0.5M83.9 332.6l-0.1 1l0.4 0.9l-0.9 0.5l-0.7 0.6l-0.6-0.8l0.7-0.7M72.4 303.6l0.7-0.7l1 0.2l0.3 0.9l-0.8 0.5l0.1 1l0.5-0.8M70.2 316.2l1 0.1l0.9 0.4l1 0.3l-0.2-0.9l-1 0.2l0.7-0.7l-0.4-0.9l0.3 0.9l-0.8 0.6M166.7 315.7l0.2 1l-1-0.2l-0.8-0.6l0.1-1l-0.6-0.8M112.3 306.2l0.9 0.6l0.1 1l-0.7 0.7l-0.8 0.7l-0.1 1l0.7 0.7l-1-0.2M53.6 307.7l0.6 0.9l-1-0.1M56.4 317.8l-0.6 0.8l0.7 0.7l0.6 0.8M92.2 314.8l1-0.1l0.6-0.9l0.9 0.3l0.5 0.9M97.6 338.7l-0.6 0.8l0.2 0.9l1 0l0.9 0.6l0.9-0.3l-0.4 0.9l-0.4 0.9l-1 0.2M109.6 270.9l0.8-0.6l0.8-0.6l0.4-0.9l0.4-0.9l-0.3-1l0.6-0.8M141.0 314.6l0.6-0.8l0.3-0.9l0.5-0.9l0.6 0.7l0.5 0.9M152.3 346.4l-0.1-1l0.8-0.6l0.7 0.8l-0.7 0.7l-0.8-0.7M177.7 325.3l0.8-0.5l1 0.3l1-0.1l1 0.2l0.7-0.6l-0.8-0.6l0.4-0.9M156.6 343.0l-1 0.2l-1-0.1l-1-0.2l0.2 1l-0.9-0.2l-1 0.3l-1 0.2l0.6 0.8l0.6 0.8M184.5 318.1l0.9 0.4l-0.7 0.7l0.4 0.9l0.3 1M182.8 318.5l1-0.3l0.9 0.4l0.8-0.6l-0.4-1l-0.3 0.9M156.7 349.4l-0.1-1l0.9-0.4l0.9-0.5l-0.7-0.8l-0.7-0.6l-1-0.3l-0.3-1l-0.6-0.7"/>
<path id="s71" d="M107.6 336.8l1 0.1l-0.7-0.7l1-0.3M132.8 283.0l0.8-0.6l0.9-0.5l-0.8 0.5l-1 0.2l-1-0.1l-0.7-0.7l-0.5-0.9l-0.4 0.9M103.4 323.1l1-0.1l-0.6 0.8l-1 0.1l-0.9 0.5l-0.7 0.6l-0.4-0.9l0.9 0.5M72.3 320.8l0.9 0.4l1-0.1l0.5 0.8M90.4 331.8l0.9-0.3l-0.2-1l-0.5-0.9M64.7 330.1l0.9 0.4l0.9 0.4l1 0l1-0.2l0.2-1l-0-1l0.3-1l-0.4-0.9M116.8 339.0l-0.4-0.9l-0.8-0.6l-1 0.3l-0.7 0.7l-0.7-0.8l-1 0.1l0.8-0.6l1-0.3l1 0M80.3 339.6l1 0l-0.1 1l1 0.3l0.5-0.8l-0.9-0.2l-0.7 0.7l-0.6 0.8l0.3-0.9l-0.4-1M71.9 333.0l-0.4 0.9l0.5-0.9l0.8-0.5l1 0.3l0.6 0.7l0.9 0.5l1-0.1l0.3-1M120.2 324.6l1 0.2l0.7 0.8l-1 0.2l-1 0l1-0.3l0.6-0.7M83.0 337.0l0.3-0.9l-0.4-0.9l0-1M119.1 313.9l-0.9-0.4l-0.6 0.7l-0.7 0.8M103.1 334.0l0.9 0.4l-0.1 1l-1 0.1l-0.2 0.9l0.8-0.6l0.1-1l-0.9-0.5l-1 0.1l-0.2 1M77.5 316.3l0.2-1l0.4-0.9l-1 0.1l-0.7 0.6l-0.5 0.9l-1 -0l-0.9 0.5l0.6 0.8M126.6 300.1l0.2-1l-0.6-0.8l0-1l-0.3-1l0.1-1l-0.8 0.6M131.8 327.5l0.5-0.9l-1-0.1l-1-0.2l0.9-0.4l-0.6-0.8l-0.8-0.6l-0.7 0.8l-0.9 0.3M107.9 309.5l0.3-1l-1 0l-0.3 1l0.8-0.7M67.1 334.6l0.8 0.6l0.2 0.9l-0.7-0.7l0.5-0.9M63.6 331.3l0.5-0.9l0.9 0.3l0 1l0.9-0.5l1-0.1l-0.5-0.9l0.3-1l0.1-1l0.5-0.8M78.4 335.9l-0.8-0.7l-0.9 0.2l-0.6 0.8l-0.1 1l-0.9 0.4l0.2 1l-0.7-0.7M134.4 283.1l0.5-0.8l0.1 1l0 1l-0.8-0.6l-0.9-0.4l-1 0.3M111.6 317.9l-0.8-0.6l0.2-1l-0.2-1M113.9 274.9l0.1 1l1 0.3l-0.9 0.4M60.2 321.7l1-0.2l0.9-0.5l-0.1-1l0-1l0.9-0.4l0.5-0.9l0.5-0.9l1-0.1l1-0.3M108.7 308.7l-0.9-0.4l-0.6-0.8l-0.8-0.6l-1 0.3l-0.8-0.6M77.8 317.7l0.5-0.9l0.6 0.9l-0.1 1l0.1 1l-0.8 0.6l0 1l0.9 0.4l0.5 0.9M67.7 303.5l-1-0.3l-0.7-0.7l-0.4 0.8l0.5 0.9l0.3-0.9l-0.1-1M130.8 315.7l1-0.2l0.1-0.9l-0.4-0.9M97.8 319.5l-0.9-0.4l0.2-1l-1-0.1l-0.9-0.4l-0.7 0.7l-0.7 0.7l0.9-0.4l0.6-0.8M113.7 303.8l1-0.2l0.5-0.9l0.5-0.9l0.9 0.4l0.1-1M101.0 322.7l-0.9-0.4l-0.5 0.9l0.2 1l-1 0.1l-0.4 0.9l-1 0M185.3 309.8l0.1-1l-0.8-0.5l-0.4-1l0.1-1l-1 0.1M81.3 270.5l1 0.3l1-0.3l-0.3 0.9M79.4 295.0l0.3-1l0.2 1l-1 0.1l-1-0.2l0.5 0.9l0.7 0.7l1-0.1M132.1 304.5l0.4 0.9l0.9 0.4l0.9-0.6l0.5 0.9l0.4 0.9l1 0.2l0.4 0.9l-0.6 0.8M84.2 302.7l0.4 0.9l0.7 0.7l0.8 0.6l1 0.2M92.8 311.7l-0.6 0.8l-1 0.1l-1-0.1l-0.9 0.5M86.7 307.4l0 1l-0.3 0.9l-1-0.1l-0.3-1l0.5-0.9l0.1-1M86.8 277.5l0.4 0.9l-0.6 0.8l-1 0.2l-0 1l-0.6 0.8l-0.4 0.9l-0.5 0.9l-0.6-0.8M73.1 315.2l0.8-0.5l0.7-0.8l0 1l0.5 0.9l-0.9 0.4l-1 0.3M81.4 266.6l0.6-0.8l-0.5-0.8l0.8-0.5l0.4-0.9M84.6 328.3l1-0.2l0.7 0.7l0.7 0.8l1-0.3l-0.6 0.9M96.1 327.8l1 0.2l0.5-0.8l1 0.3l1 0.1l0.9 0.4l0.9-0.4l-0.7-0.7l0-1l-1 -0M71.2 306.5l-0.9-0.4l-0.9 0.4l-0.8 0.7l0.5-0.9l-0.7-0.7l-0.4-0.9M141.0 318.6l1-0.2l0.9 0.5l0.7 0.6l1 0.2l0.2-1l0.2-1l-0.9 0.5l1 0.1M137.9 345.0l0.9-0.5l-0.8-0.7l-0.2 1l-0.9 0.4l-0.2 1l0.3 0.9l1-0.2l0.9-0.3l0.5 0.8M175.3 335.4l0.2-1l-0.9-0.4l-0.8 0.6l1 0.3l0.6 0.7M172.8 334.3l0.9 0.5l0.9-0.5l0.1-1l0.8-0.5l0.9-0.4M169.4 339.2l0.9-0.4l-0.6-0.8l-0.8 0.6l1 0l-0.8-0.7l-0.6-0.7l0.2-1l0 1l1-0.2M168.6 331.2l1-0.3l-0.7 0.7"/>
</defs>
<g fill="none" stroke-width="1.15" stroke-linecap="round" stroke-linejoin="round">
<use href="#s00" stroke="#F8766D"/>
<use href="#s10" stroke="#CD9600"/>
<use href="#s20" stroke="#7CAE00"/>
<use href="#s30" stroke="#00BE67"/>
<use href="#s40" stroke="#00BFC4"/>
<use href="#s50" stroke="#00A9FF"/>
<use href="#s60" stroke="#C77CFF"/>
<use href="#s70" stroke="#FF61CC"/>
<use href="#s01" stroke="#F8766D"/>
<use href="#s11" stroke="#CD9600"/>
<use href="#s21" stroke="#7CAE00"/>
<use href="#s31" stroke="#00BE67"/>
<use href="#s41" stroke="#00BFC4"/>
<use href="#s51" stroke="#00A9FF"/>
<use href="#s61" stroke="#C77CFF"/>
<use href="#s71" stroke="#FF61CC"/>
</g>
<g fill="none" stroke-width="1.13" stroke-linecap="round" stroke-linejoin="round" transform="matrix(1 0 0 1.047 0 170.9)">
<use href="#s00" stroke="#DC2A1E"/>
<use href="#s10" stroke="#DC2A1E"/>
<use href="#s20" stroke="#DC2A1E"/>
<use href="#s30" stroke="#0B52C0"/>
<use href="#s40" stroke="#0B52C0"/>
<use href="#s50" stroke="#0B52C0"/>
<use href="#s60" stroke="#0B52C0"/>
<use href="#s70" stroke="#0B52C0"/>
<use href="#s01" stroke="#DC2A1E"/>
<use href="#s11" stroke="#DC2A1E"/>
<use href="#s21" stroke="#DC2A1E"/>
<use href="#s31" stroke="#0B52C0"/>
<use href="#s41" stroke="#0B52C0"/>
<use href="#s51" stroke="#0B52C0"/>
<use href="#s61" stroke="#0B52C0"/>
<use href="#s71" stroke="#0B52C0"/>
</g>
</svg></body></html>
